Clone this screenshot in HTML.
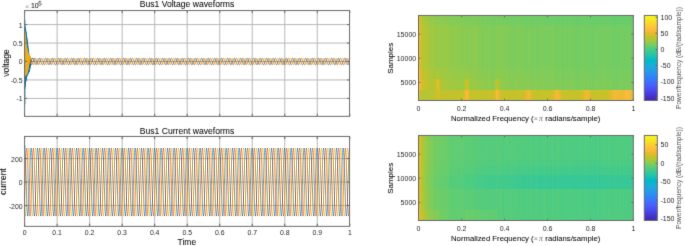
<!DOCTYPE html><html><head><meta charset="utf-8"><title>Bus1 waveforms</title><style>html,body{margin:0;padding:0;background:#fff;width:685px;height:246px;overflow:hidden}svg{display:block}</style><style>text{font-family:"Liberation Sans",sans-serif}.l{fill:#0a0a0a;stroke:#0a0a0a;stroke-width:0.06px}.t{fill:#262626}.c{fill:#4a4a4a}</style></head><body>
<svg width="685" height="246" viewBox="0 0 685 246">
<filter id="bl" x="0" y="0" width="685" height="246" filterUnits="userSpaceOnUse" color-interpolation-filters="sRGB"><feConvolveMatrix order="3" kernelMatrix="1 8 1 8 64 8 1 8 1" edgeMode="duplicate"/></filter>
<g filter="url(#bl)"><rect width="685" height="246" fill="#fff"/>
<defs><clipPath id="ct"><rect x="24.6" y="10.55" width="324.95" height="105.8"/></clipPath><clipPath id="cb"><rect x="24.6" y="136.45" width="324.95" height="89.9"/></clipPath></defs>
<path d="M57.12 10.55V116.35M89.64 10.55V116.35M122.16 10.55V116.35M154.68 10.55V116.35M187.2 10.55V116.35M219.72 10.55V116.35M252.24 10.55V116.35M284.76 10.55V116.35M317.28 10.55V116.35M24.6 24.6H349.55M24.6 43.05H349.55M24.6 61.5H349.55M24.6 79.95H349.55M24.6 98.4H349.55" stroke="#b8b8b8" stroke-width="1" fill="none"/>
<g clip-path="url(#ct)">
<polyline points="24.6,32.37 24.61,27.03 24.63,25.47 24.64,27.86 24.65,33.9 24.67,42.81 24.68,53.5 24.69,64.64 24.7,74.88 24.72,82.95 24.73,87.87 24.74,89.07 24.76,86.41 24.77,80.23 24.78,71.3 24.8,60.72 24.81,49.8 24.82,39.86 24.83,32.12 24.85,27.5 24.86,26.55 24.87,29.36 24.89,35.58 24.9,44.41 24.91,54.77 24.93,65.37 24.94,74.92 24.95,82.24 24.96,86.47 24.98,87.08 24.99,84.02 25,77.69 25.02,68.87 25.03,58.64 25.04,48.27 25.06,39.02 25.07,32.01 25.08,28.08 25.09,27.7 25.11,30.89 25.12,37.23 25.13,45.94 25.15,55.93 25.16,65.97 25.17,74.84 25.19,81.45 25.2,85 25.21,85.08 25.22,81.69 25.24,75.26 25.25,66.59 25.26,56.75 25.28,46.95 25.29,38.38 25.3,32.09 25.32,28.82 25.33,28.95 25.34,32.45 25.35,38.88 25.37,47.42 25.38,57.01 25.39,66.49 25.41,74.69 25.42,80.6 25.43,83.53 25.45,83.12 25.46,79.45 25.47,72.97 25.48,64.5 25.5,55.08 25.51,45.86 25.52,37.97 25.54,32.36 25.55,29.71 25.56,30.32 25.58,34.09 25.59,40.54 25.6,48.87 25.61,58.05 25.63,66.95 25.64,74.49 25.65,79.74 25.67,82.08 25.68,81.24 25.69,77.34 25.71,70.87 25.72,62.64 25.73,53.66 25.74,45.03 25.76,37.81 25.77,32.86 25.78,30.79 25.8,31.81 25.81,35.8 25.82,42.24 25.84,50.33 25.85,59.07 25.86,67.39 25.87,74.28 25.89,78.89 25.9,80.69 25.91,79.47 25.93,75.39 25.94,68.98 25.95,61.02 25.97,52.5 25.98,44.47 25.99,37.9 26,33.59 26.02,32.05 26.03,33.45 26.04,37.6 26.06,43.98 26.07,51.79 26.08,60.08 26.1,67.82 26.11,74.08 26.12,78.09 26.13,79.4 26.15,77.84 26.16,73.64 26.17,67.32 26.19,59.67 26.2,51.63 26.21,44.2 26.23,38.26 26.24,34.55 26.25,33.5 26.26,35.23 26.28,39.49 26.29,45.77 26.3,53.28 26.32,61.09 26.33,68.26 26.34,73.91 26.36,77.36 26.37,78.21 26.38,76.37 26.39,72.09 26.41,65.91 26.42,58.59 26.43,51.05 26.45,44.2 26.46,38.89 26.47,35.74 26.49,35.14 26.5,37.14 26.51,41.48 26.52,47.61 26.54,54.79 26.55,62.12 26.56,68.71 26.58,73.77 26.59,76.69 26.6,77.13 26.62,75.06 26.63,70.75 26.64,64.74 26.65,57.79 26.67,50.75 26.68,44.49 26.69,39.76 26.71,37.14 26.72,36.94 26.73,39.17 26.75,43.53 26.76,49.49 26.77,56.31 26.78,63.15 26.8,69.18 26.81,73.68 26.82,76.1 26.84,76.18 26.85,73.92 26.86,69.62 26.88,63.82 26.89,57.25 26.9,50.72 26.91,45.03 26.93,40.87 26.94,38.74 26.95,38.89 26.97,41.3 26.98,45.64 26.99,51.39 27.01,57.83 27.02,64.17 27.03,69.66 27.04,73.62 27.06,75.58 27.07,75.34 27.08,72.94 27.1,68.69 27.11,63.13 27.12,56.96 27.14,50.94 27.15,45.8 27.16,42.17 27.17,40.5 27.19,40.96 27.2,43.49 27.21,47.78 27.23,53.28 27.24,59.33 27.25,65.18 27.27,70.12 27.28,73.57 27.29,75.12 27.3,74.61 27.32,72.1 27.33,67.94 27.34,62.65 27.36,56.89 27.37,51.37 27.38,46.77 27.4,43.65 27.41,42.38 27.42,43.1 27.43,45.73 27.45,49.91 27.46,55.15 27.47,60.78 27.49,66.14 27.5,70.56 27.51,73.53 27.53,74.7 27.54,73.95 27.55,71.39 27.56,67.36 27.58,62.36 27.59,57.02 27.6,52 27.62,47.91 27.63,45.26 27.64,44.35 27.66,45.29 27.67,47.96 27.68,52.01 27.69,56.94 27.71,62.16 27.72,67.02 27.73,70.95 27.75,73.47 27.76,74.3 27.77,73.36 27.79,70.78 27.8,66.9 27.81,62.21 27.82,57.29 27.84,52.76 27.85,49.17 27.86,46.95 27.88,46.36 27.89,47.48 27.9,50.14 27.92,54.02 27.93,58.64 27.94,63.43 27.95,67.81 27.97,71.26 27.98,73.37 27.99,73.9 28.01,72.8 28.02,70.24 28.03,66.54 28.05,62.18 28.06,57.69 28.07,53.63 28.08,50.5 28.1,48.68 28.11,48.37 28.12,49.61 28.14,52.24 28.15,55.92 28.16,60.2 28.18,64.56 28.19,68.47 28.2,71.47 28.21,73.19 28.23,73.46 28.24,72.25 28.25,69.74 28.27,66.25 28.28,62.23 28.29,58.16 28.31,54.56 28.32,51.87 28.33,50.4 28.34,50.33 28.36,51.66 28.37,54.21 28.38,57.66 28.4,61.59 28.41,65.52 28.42,68.98 28.44,71.54 28.45,72.92 28.46,72.96 28.47,71.69 28.49,69.26 28.5,66 28.51,62.32 28.53,58.68 28.54,55.52 28.55,53.22 28.57,52.08 28.58,52.2 28.59,53.57 28.6,56.01 28.62,59.21 28.63,62.79 28.64,66.29 28.66,69.3 28.67,71.47 28.68,72.54 28.7,72.39 28.71,71.08 28.72,68.76 28.73,65.75 28.75,62.42 28.76,59.19 28.77,56.45 28.79,54.53 28.8,53.66 28.81,53.94 28.83,55.32 28.84,57.62 28.85,60.55 28.86,63.75 28.88,66.84 28.89,69.43 28.9,71.22 28.92,72.02 28.93,71.72 28.94,70.4 28.96,68.23 28.97,65.48 28.98,62.51 28.99,59.68 29.01,57.33 29.02,55.75 29.03,55.12 29.05,55.51 29.06,56.86 29.07,58.99 29.09,61.64 29.1,64.47 29.11,67.15 29.12,69.34 29.14,70.8 29.15,71.35 29.16,70.95 29.18,69.66 29.19,67.65 29.2,65.18 29.22,62.56 29.23,60.11 29.24,58.13 29.25,56.85 29.27,56.43 29.28,56.89 29.29,58.18 29.31,60.12 29.32,62.47 29.33,64.94 29.35,67.22 29.36,69.04 29.37,70.19 29.38,70.54 29.4,70.06 29.41,68.83 29.42,67 29.44,64.81 29.45,62.54 29.46,60.46 29.48,58.82 29.49,57.82 29.5,57.56 29.51,58.07 29.53,59.27 29.54,61 29.55,63.04 29.57,65.14 29.58,67.04 29.59,68.52 29.61,69.4 29.62,69.58 29.63,69.06 29.64,67.91 29.66,66.29 29.67,64.39 29.68,62.46 29.7,60.73 29.71,59.4 29.72,58.63 29.74,58.51 29.75,59.02 29.76,60.1 29.77,61.61 29.79,63.34 29.8,65.09 29.81,66.63 29.83,67.79 29.84,68.43 29.85,68.49 29.87,67.96 29.88,66.92 29.89,65.51 29.9,63.9 29.92,62.3 29.93,60.9 29.94,59.85 29.96,59.29 29.97,59.26 29.98,59.75 30,60.7 30.01,61.96 30.02,63.39 30.03,64.8 30.05,66.01 30.06,66.89 30.07,67.33 30.09,67.28 30.1,66.77 30.11,65.86 30.12,64.68 30.14,63.36 30.15,62.08 30.16,60.97 30.18,60.18 30.19,59.79 30.2,59.82 30.22,60.27 30.23,61.06 30.24,62.08 30.25,63.21 30.27,64.29 30.28,65.2 30.29,65.83 30.31,66.1 30.32,65.99 30.33,65.53 30.35,64.76 30.36,63.81 30.37,62.77 30.38,61.79 30.4,60.96 30.41,60.39 30.42,60.13 30.44,60.2 30.45,60.58 30.46,61.2 30.48,61.98 30.49,62.82 30.5,63.6 30.51,64.24 30.53,64.65 30.54,64.79 30.55,64.65 30.57,64.25 30.58,63.65 30.59,62.93 30.61,62.16 30.62,61.45 30.63,60.88 30.64,60.49 30.66,60.34 30.67,60.42 30.68,60.7 30.7,61.15 30.71,61.7 30.72,62.26 30.74,62.77 30.75,63.17 30.76,63.4 30.77,63.44 30.79,63.3 30.8,62.99 30.81,62.56 30.83,62.06 30.84,61.55 30.85,61.09 30.87,60.72 30.88,60.49 30.89,60.41 30.9,60.48 30.92,60.67 30.93,60.94 30.94,61.26 30.96,61.58 30.97,61.85 30.98,62.05 31,62.14 31.01,62.12 31.02,61.99 31.03,61.78 31.05,61.52 31.06,61.22 31.07,60.94 31.09,60.7 31.1,60.51 31.11,60.4 31.13,60.37 31.14,60.4 31.15,60.48 31.16,60.6 31.18,60.72 31.19,60.83 31.2,60.91 31.22,60.94 31.23,60.93 31.24,60.88 31.26,60.8 31.27,60.69 31.28,60.57 31.29,60.46 31.31,60.37 31.32,60.29 31.33,60.24 31.35,60.2 31.36,60.18 31.37,60.17 31.39,60.16 31.4,60.14 31.41,60.11 31.42,60.08 31.44,60.04 31.45,60.01 31.46,59.97 31.48,59.94 31.49,59.9 31.5,59.87 31.52,59.83 31.53,59.8 31.54,59.76 31.55,59.73 31.57,59.7 31.58,59.66 31.59,59.63 31.61,59.6 31.62,59.56 31.63,59.53 31.65,59.5 31.66,59.47 31.67,59.43 31.68,59.4 31.7,59.37 31.71,59.34 31.72,59.31 31.74,59.28 31.75,59.25 31.76,59.22 31.78,59.19 31.79,59.16 31.8,59.13 31.81,59.1 31.83,59.07 31.84,59.04 31.85,59.02 31.87,58.99 31.88,58.96 31.89,58.93 31.91,58.91 31.92,58.88 31.93,58.85 31.94,58.83 31.96,58.8 31.97,58.78 31.98,58.75 32,58.73 32.01,58.71 32.02,58.68 32.04,58.66 32.05,58.64 32.06,58.61 32.07,58.59 32.09,58.57 32.1,58.55 32.11,58.53 32.13,58.51 32.14,58.49 32.15,58.47 32.17,58.45 32.18,58.43 32.19,58.41 32.2,58.4 32.22,58.38 32.23,58.36 32.24,58.35 32.26,58.33 32.27,58.31 32.28,58.3 32.3,58.28 32.31,58.27 32.32,58.26 32.33,58.24 32.35,58.23 32.36,58.22 32.37,58.2 32.39,58.19 32.4,58.18 32.41,58.17 32.43,58.16 32.44,58.15 32.45,58.14 32.46,58.13 32.48,58.13 32.49,58.12 32.5,58.11 32.52,58.1 32.53,58.1 32.54,58.09 32.56,58.09 32.57,58.08 32.58,58.08 32.59,58.07 32.61,58.07 32.62,58.07 32.63,58.06 32.65,58.06 32.66,58.06 32.67,58.06 32.69,58.06 32.7,58.06 32.71,58.06 32.72,58.06 32.74,58.06 32.75,58.06 32.76,58.07 32.78,58.07 32.79,58.07 32.8,58.08 32.82,58.08 32.83,58.09 32.84,58.09 32.85,58.1 32.87,58.1 32.88,58.11 32.89,58.12 32.91,58.13 32.92,58.13 32.93,58.14 32.95,58.15 32.96,58.16 32.97,58.17 32.98,58.18 33,58.19 33.01,58.21 33.02,58.22 33.04,58.23 33.05,58.24 33.06,58.26 33.08,58.27 33.09,58.28 33.1,58.3 33.11,58.32 33.13,58.33 33.14,58.35 33.15,58.36 33.17,58.38 33.18,58.4 33.19,58.42 33.21,58.44 33.22,58.45 33.23,58.47 33.24,58.49 33.26,58.51 33.27,58.53 33.28,58.56 33.3,58.58 33.31,58.6 33.32,58.62 33.34,58.64 33.35,58.67 33.36,58.69 33.37,58.71 33.39,58.74 33.4,58.76 33.41,58.79 33.43,58.81 33.44,58.84 33.45,58.87 33.47,58.89 33.48,58.92 33.49,58.95 33.5,58.98 33.52,59 33.53,59.03 33.54,59.06 33.56,59.09 33.57,59.12 33.58,59.15 33.6,59.18 33.61,59.21 33.62,59.24 33.63,59.27 33.65,59.3 33.66,59.33 33.67,59.37 33.69,59.4 33.7,59.43 33.71,59.46 33.73,59.5 33.74,59.53 33.75,59.57 33.76,59.6 33.78,59.63 33.79,59.67 33.8,59.7 33.82,59.74 33.83,59.77 33.84,59.81 33.86,59.84 33.87,59.88 33.88,59.92 33.89,59.95 33.91,59.99 33.92,60.03 33.93,60.06 33.95,60.1 33.96,60.14 33.97,60.18 33.99,60.21 34,60.25 34.01,60.29 34.02,60.33 34.04,60.37 34.05,60.4 34.06,60.44 34.08,60.48 34.09,60.52 34.1,60.56 34.12,60.6 34.13,60.64 34.14,60.68 34.15,60.72 34.17,60.76 34.18,60.8 34.19,60.84 34.21,60.88 34.22,60.92 34.23,60.96 34.25,61 34.26,61.04 34.27,61.08 34.28,61.12 34.3,61.16 34.31,61.2 34.32,61.24 34.34,61.28 34.35,61.32 34.36,61.36 34.62,62.15 34.88,62.89 35.14,63.53 35.4,64.04 35.66,64.37 35.92,64.52 36.18,64.47 36.44,64.22 36.7,63.8 36.96,63.23 37.22,62.54 37.48,61.78 37.74,61 38,60.25 38.26,59.57 38.52,59.01 38.78,58.6 39.04,58.37 39.3,58.33 39.56,58.49 39.82,58.84 40.08,59.35 40.34,59.99 40.6,60.73 40.86,61.51 41.12,62.3 41.38,63.02 41.64,63.66 41.9,64.15 42.16,64.48 42.42,64.62 42.68,64.56 42.94,64.31 43.2,63.88 43.46,63.3 43.72,62.61 43.98,61.84 44.24,61.06 44.5,60.3 44.76,59.62 45.02,59.05 45.28,58.64 45.54,58.41 45.8,58.37 46.06,58.52 46.32,58.87 46.58,59.38 46.84,60.02 47.1,60.75 47.36,61.54 47.62,62.32 47.88,63.04 48.14,63.67 48.4,64.17 48.66,64.49 48.92,64.63 49.18,64.57 49.44,64.32 49.7,63.89 49.96,63.31 50.22,62.62 50.48,61.85 50.74,61.07 51,60.31 51.26,59.62 51.52,59.06 51.78,58.64 52.04,58.41 52.3,58.37 52.56,58.53 52.82,58.87 53.08,59.38 53.34,60.02 53.6,60.76 53.86,61.54 54.12,62.32 54.38,63.05 54.64,63.68 54.9,64.17 55.16,64.49 55.42,64.63 55.68,64.57 55.94,64.32 56.2,63.89 56.46,63.31 56.72,62.62 56.98,61.85 57.24,61.07 57.5,60.31 57.76,59.62 58.02,59.06 58.28,58.65 58.54,58.41 58.8,58.37 59.06,58.53 59.32,58.87 59.58,59.38 59.84,60.02 60.1,60.76 60.36,61.54 60.62,62.32 60.88,63.05 61.14,63.68 61.4,64.17 61.66,64.49 61.92,64.63 62.18,64.57 62.44,64.32 62.7,63.89 62.96,63.31 63.22,62.62 63.48,61.85 63.74,61.07 64,60.31 64.26,59.62 64.52,59.06 64.78,58.65 65.04,58.41 65.3,58.37 65.56,58.53 65.82,58.87 66.08,59.38 66.34,60.02 66.6,60.76 66.86,61.54 67.12,62.32 67.38,63.05 67.64,63.68 67.9,64.17 68.16,64.49 68.42,64.63 68.68,64.57 68.94,64.32 69.2,63.89 69.46,63.31 69.72,62.62 69.98,61.85 70.24,61.07 70.5,60.31 70.76,59.62 71.02,59.06 71.28,58.65 71.54,58.41 71.8,58.37 72.06,58.53 72.32,58.87 72.58,59.38 72.84,60.02 73.1,60.76 73.36,61.54 73.62,62.32 73.88,63.05 74.14,63.68 74.4,64.17 74.66,64.49 74.92,64.63 75.18,64.57 75.44,64.32 75.7,63.89 75.96,63.31 76.22,62.62 76.48,61.85 76.74,61.07 77,60.31 77.26,59.62 77.52,59.06 77.78,58.65 78.04,58.41 78.3,58.37 78.56,58.53 78.82,58.87 79.08,59.38 79.34,60.02 79.6,60.76 79.86,61.54 80.12,62.32 80.38,63.05 80.64,63.68 80.9,64.17 81.16,64.49 81.42,64.63 81.68,64.57 81.94,64.32 82.2,63.89 82.46,63.31 82.72,62.62 82.98,61.85 83.24,61.07 83.5,60.31 83.76,59.62 84.02,59.06 84.28,58.65 84.54,58.41 84.8,58.37 85.06,58.53 85.32,58.87 85.58,59.38 85.84,60.02 86.1,60.76 86.36,61.54 86.62,62.32 86.88,63.05 87.14,63.68 87.4,64.17 87.66,64.49 87.92,64.63 88.18,64.57 88.44,64.32 88.7,63.89 88.96,63.31 89.22,62.62 89.48,61.85 89.74,61.07 90,60.31 90.26,59.62 90.52,59.06 90.78,58.65 91.04,58.41 91.3,58.37 91.56,58.53 91.82,58.87 92.08,59.38 92.34,60.02 92.6,60.76 92.86,61.54 93.12,62.32 93.38,63.05 93.64,63.68 93.9,64.17 94.16,64.49 94.42,64.63 94.68,64.57 94.94,64.32 95.2,63.89 95.46,63.31 95.72,62.62 95.98,61.85 96.24,61.07 96.5,60.31 96.76,59.62 97.02,59.06 97.28,58.65 97.54,58.41 97.8,58.37 98.06,58.53 98.32,58.87 98.58,59.38 98.84,60.02 99.1,60.76 99.36,61.54 99.62,62.32 99.88,63.05 100.14,63.68 100.4,64.17 100.66,64.49 100.92,64.63 101.18,64.57 101.44,64.32 101.7,63.89 101.96,63.31 102.22,62.62 102.48,61.85 102.74,61.07 103,60.31 103.26,59.62 103.52,59.06 103.78,58.65 104.04,58.41 104.3,58.37 104.56,58.53 104.82,58.87 105.08,59.38 105.34,60.02 105.6,60.76 105.86,61.54 106.12,62.32 106.38,63.05 106.64,63.68 106.9,64.17 107.16,64.49 107.42,64.63 107.68,64.57 107.94,64.32 108.2,63.89 108.46,63.31 108.72,62.62 108.98,61.85 109.24,61.07 109.5,60.31 109.76,59.62 110.02,59.06 110.28,58.65 110.54,58.41 110.8,58.37 111.06,58.53 111.32,58.87 111.58,59.38 111.84,60.02 112.1,60.76 112.36,61.54 112.62,62.32 112.88,63.05 113.14,63.68 113.4,64.17 113.66,64.49 113.92,64.63 114.18,64.57 114.44,64.32 114.7,63.89 114.96,63.31 115.22,62.62 115.48,61.85 115.74,61.07 116,60.31 116.26,59.62 116.52,59.06 116.78,58.65 117.04,58.41 117.3,58.37 117.56,58.53 117.82,58.87 118.08,59.38 118.34,60.02 118.6,60.76 118.86,61.54 119.12,62.32 119.38,63.05 119.64,63.68 119.9,64.17 120.16,64.49 120.42,64.63 120.68,64.57 120.94,64.32 121.2,63.89 121.46,63.31 121.72,62.62 121.98,61.85 122.24,61.07 122.5,60.31 122.76,59.62 123.02,59.06 123.28,58.65 123.54,58.41 123.8,58.37 124.06,58.53 124.32,58.87 124.58,59.38 124.84,60.02 125.1,60.76 125.36,61.54 125.62,62.32 125.88,63.05 126.14,63.68 126.4,64.17 126.66,64.49 126.92,64.63 127.18,64.57 127.44,64.32 127.7,63.89 127.96,63.31 128.22,62.62 128.48,61.85 128.74,61.07 129,60.31 129.26,59.62 129.52,59.06 129.78,58.65 130.04,58.41 130.3,58.37 130.56,58.53 130.82,58.87 131.08,59.38 131.34,60.02 131.6,60.76 131.86,61.54 132.12,62.32 132.38,63.05 132.64,63.68 132.9,64.17 133.16,64.49 133.42,64.63 133.68,64.57 133.94,64.32 134.2,63.89 134.46,63.31 134.72,62.62 134.98,61.85 135.24,61.07 135.5,60.31 135.76,59.62 136.02,59.06 136.28,58.65 136.54,58.41 136.8,58.37 137.06,58.53 137.32,58.87 137.58,59.38 137.84,60.02 138.1,60.76 138.36,61.54 138.62,62.32 138.88,63.05 139.14,63.68 139.4,64.17 139.66,64.49 139.92,64.63 140.18,64.57 140.44,64.32 140.7,63.89 140.96,63.31 141.22,62.62 141.48,61.85 141.74,61.07 142,60.31 142.26,59.62 142.52,59.06 142.78,58.65 143.04,58.41 143.3,58.37 143.56,58.53 143.82,58.87 144.08,59.38 144.34,60.02 144.6,60.76 144.86,61.54 145.12,62.32 145.38,63.05 145.64,63.68 145.9,64.17 146.16,64.49 146.42,64.63 146.68,64.57 146.94,64.32 147.2,63.89 147.46,63.31 147.72,62.62 147.98,61.85 148.24,61.07 148.5,60.31 148.76,59.62 149.02,59.06 149.28,58.65 149.54,58.41 149.8,58.37 150.06,58.53 150.32,58.87 150.58,59.38 150.84,60.02 151.1,60.76 151.36,61.54 151.62,62.32 151.88,63.05 152.14,63.68 152.4,64.17 152.66,64.49 152.92,64.63 153.18,64.57 153.44,64.32 153.7,63.89 153.96,63.31 154.22,62.62 154.48,61.85 154.74,61.07 155,60.31 155.26,59.62 155.52,59.06 155.78,58.65 156.04,58.41 156.3,58.37 156.56,58.53 156.82,58.87 157.08,59.38 157.34,60.02 157.6,60.76 157.86,61.54 158.12,62.32 158.38,63.05 158.64,63.68 158.9,64.17 159.16,64.49 159.42,64.63 159.68,64.57 159.94,64.32 160.2,63.89 160.46,63.31 160.72,62.62 160.98,61.85 161.24,61.07 161.5,60.31 161.76,59.62 162.02,59.06 162.28,58.65 162.54,58.41 162.8,58.37 163.06,58.53 163.32,58.87 163.58,59.38 163.84,60.02 164.1,60.76 164.36,61.54 164.62,62.32 164.88,63.05 165.14,63.68 165.4,64.17 165.66,64.49 165.92,64.63 166.18,64.57 166.44,64.32 166.7,63.89 166.96,63.31 167.22,62.62 167.48,61.85 167.74,61.07 168,60.31 168.26,59.62 168.52,59.06 168.78,58.65 169.04,58.41 169.3,58.37 169.56,58.53 169.82,58.87 170.08,59.38 170.34,60.02 170.6,60.76 170.86,61.54 171.12,62.32 171.38,63.05 171.64,63.68 171.9,64.17 172.16,64.49 172.42,64.63 172.68,64.57 172.94,64.32 173.2,63.89 173.46,63.31 173.72,62.62 173.98,61.85 174.24,61.07 174.5,60.31 174.76,59.62 175.02,59.06 175.28,58.65 175.54,58.41 175.8,58.37 176.06,58.53 176.32,58.87 176.58,59.38 176.84,60.02 177.1,60.76 177.36,61.54 177.62,62.32 177.88,63.05 178.14,63.68 178.4,64.17 178.66,64.49 178.92,64.63 179.18,64.57 179.44,64.32 179.7,63.89 179.96,63.31 180.22,62.62 180.48,61.85 180.74,61.07 181,60.31 181.26,59.62 181.52,59.06 181.78,58.65 182.04,58.41 182.3,58.37 182.56,58.53 182.82,58.87 183.08,59.38 183.34,60.02 183.6,60.76 183.86,61.54 184.12,62.32 184.38,63.05 184.64,63.68 184.9,64.17 185.16,64.49 185.42,64.63 185.68,64.57 185.94,64.32 186.2,63.89 186.46,63.31 186.72,62.62 186.98,61.85 187.24,61.07 187.5,60.31 187.76,59.62 188.02,59.06 188.28,58.65 188.54,58.41 188.8,58.37 189.06,58.53 189.32,58.87 189.58,59.38 189.84,60.02 190.1,60.76 190.36,61.54 190.62,62.32 190.88,63.05 191.14,63.68 191.4,64.17 191.66,64.49 191.92,64.63 192.18,64.57 192.44,64.32 192.7,63.89 192.96,63.31 193.22,62.62 193.48,61.85 193.74,61.07 194,60.31 194.26,59.62 194.52,59.06 194.78,58.65 195.04,58.41 195.3,58.37 195.56,58.53 195.82,58.87 196.08,59.38 196.34,60.02 196.6,60.76 196.86,61.54 197.12,62.32 197.38,63.05 197.64,63.68 197.9,64.17 198.16,64.49 198.42,64.63 198.68,64.57 198.94,64.32 199.2,63.89 199.46,63.31 199.72,62.62 199.98,61.85 200.24,61.07 200.5,60.31 200.76,59.62 201.02,59.06 201.28,58.65 201.54,58.41 201.8,58.37 202.06,58.53 202.32,58.87 202.58,59.38 202.84,60.02 203.1,60.76 203.36,61.54 203.62,62.32 203.88,63.05 204.14,63.68 204.4,64.17 204.66,64.49 204.92,64.63 205.18,64.57 205.44,64.32 205.7,63.89 205.96,63.31 206.22,62.62 206.48,61.85 206.74,61.07 207,60.31 207.26,59.62 207.52,59.06 207.78,58.65 208.04,58.41 208.3,58.37 208.56,58.53 208.82,58.87 209.08,59.38 209.34,60.02 209.6,60.76 209.86,61.54 210.12,62.32 210.38,63.05 210.64,63.68 210.9,64.17 211.16,64.49 211.42,64.63 211.68,64.57 211.94,64.32 212.2,63.89 212.46,63.31 212.72,62.62 212.98,61.85 213.24,61.07 213.5,60.31 213.76,59.62 214.02,59.06 214.28,58.65 214.54,58.41 214.8,58.37 215.06,58.53 215.32,58.87 215.58,59.38 215.84,60.02 216.1,60.76 216.36,61.54 216.62,62.32 216.88,63.05 217.14,63.68 217.4,64.17 217.66,64.49 217.92,64.63 218.18,64.57 218.44,64.32 218.7,63.89 218.96,63.31 219.22,62.62 219.48,61.85 219.74,61.07 220,60.31 220.26,59.62 220.52,59.06 220.78,58.65 221.04,58.41 221.3,58.37 221.56,58.53 221.82,58.87 222.08,59.38 222.34,60.02 222.6,60.76 222.86,61.54 223.12,62.32 223.38,63.05 223.64,63.68 223.9,64.17 224.16,64.49 224.42,64.63 224.68,64.57 224.94,64.32 225.2,63.89 225.46,63.31 225.72,62.62 225.98,61.85 226.24,61.07 226.5,60.31 226.76,59.62 227.02,59.06 227.28,58.65 227.54,58.41 227.8,58.37 228.06,58.53 228.32,58.87 228.58,59.38 228.84,60.02 229.1,60.76 229.36,61.54 229.62,62.32 229.88,63.05 230.14,63.68 230.4,64.17 230.66,64.49 230.92,64.63 231.18,64.57 231.44,64.32 231.7,63.89 231.96,63.31 232.22,62.62 232.48,61.85 232.74,61.07 233,60.31 233.26,59.62 233.52,59.06 233.78,58.65 234.04,58.41 234.3,58.37 234.56,58.53 234.82,58.87 235.08,59.38 235.34,60.02 235.6,60.76 235.86,61.54 236.12,62.32 236.38,63.05 236.64,63.68 236.9,64.17 237.16,64.49 237.42,64.63 237.68,64.57 237.94,64.32 238.2,63.89 238.46,63.31 238.72,62.62 238.98,61.85 239.24,61.07 239.5,60.31 239.76,59.62 240.02,59.06 240.28,58.65 240.54,58.41 240.8,58.37 241.06,58.53 241.32,58.87 241.58,59.38 241.84,60.02 242.1,60.76 242.36,61.54 242.62,62.32 242.88,63.05 243.14,63.68 243.4,64.17 243.66,64.49 243.92,64.63 244.18,64.57 244.44,64.32 244.7,63.89 244.96,63.31 245.22,62.62 245.48,61.85 245.74,61.07 246,60.31 246.26,59.62 246.52,59.06 246.78,58.65 247.04,58.41 247.3,58.37 247.56,58.53 247.82,58.87 248.08,59.38 248.34,60.02 248.6,60.76 248.86,61.54 249.12,62.32 249.38,63.05 249.64,63.68 249.9,64.17 250.16,64.49 250.42,64.63 250.68,64.57 250.94,64.32 251.2,63.89 251.46,63.31 251.72,62.62 251.98,61.85 252.24,61.07 252.5,60.31 252.76,59.62 253.02,59.06 253.28,58.65 253.54,58.41 253.8,58.37 254.06,58.53 254.32,58.87 254.58,59.38 254.84,60.02 255.1,60.76 255.36,61.54 255.62,62.32 255.88,63.05 256.14,63.68 256.4,64.17 256.66,64.49 256.92,64.63 257.18,64.57 257.44,64.32 257.7,63.89 257.96,63.31 258.22,62.62 258.48,61.85 258.74,61.07 259,60.31 259.26,59.62 259.52,59.06 259.78,58.65 260.04,58.41 260.3,58.37 260.56,58.53 260.82,58.87 261.08,59.38 261.34,60.02 261.6,60.76 261.86,61.54 262.12,62.32 262.38,63.05 262.64,63.68 262.9,64.17 263.16,64.49 263.42,64.63 263.68,64.57 263.94,64.32 264.2,63.89 264.46,63.31 264.72,62.62 264.98,61.85 265.24,61.07 265.5,60.31 265.76,59.62 266.02,59.06 266.28,58.65 266.54,58.41 266.8,58.37 267.06,58.53 267.32,58.87 267.58,59.38 267.84,60.02 268.1,60.76 268.36,61.54 268.62,62.32 268.88,63.05 269.14,63.68 269.4,64.17 269.66,64.49 269.92,64.63 270.18,64.57 270.44,64.32 270.7,63.89 270.96,63.31 271.22,62.62 271.48,61.85 271.74,61.07 272,60.31 272.26,59.62 272.52,59.06 272.78,58.65 273.04,58.41 273.3,58.37 273.56,58.53 273.82,58.87 274.08,59.38 274.34,60.02 274.6,60.76 274.86,61.54 275.12,62.32 275.38,63.05 275.64,63.68 275.9,64.17 276.16,64.49 276.42,64.63 276.68,64.57 276.94,64.32 277.2,63.89 277.46,63.31 277.72,62.62 277.98,61.85 278.24,61.07 278.5,60.31 278.76,59.62 279.02,59.06 279.28,58.65 279.54,58.41 279.8,58.37 280.06,58.53 280.32,58.87 280.58,59.38 280.84,60.02 281.1,60.76 281.36,61.54 281.62,62.32 281.88,63.05 282.14,63.68 282.4,64.17 282.66,64.49 282.92,64.63 283.18,64.57 283.44,64.32 283.7,63.89 283.96,63.31 284.22,62.62 284.48,61.85 284.74,61.07 285,60.31 285.26,59.62 285.52,59.06 285.78,58.65 286.04,58.41 286.3,58.37 286.56,58.53 286.82,58.87 287.08,59.38 287.34,60.02 287.6,60.76 287.86,61.54 288.12,62.32 288.38,63.05 288.64,63.68 288.9,64.17 289.16,64.49 289.42,64.63 289.68,64.57 289.94,64.32 290.2,63.89 290.46,63.31 290.72,62.62 290.98,61.85 291.24,61.07 291.5,60.31 291.76,59.62 292.02,59.06 292.28,58.65 292.54,58.41 292.8,58.37 293.06,58.53 293.32,58.87 293.58,59.38 293.84,60.02 294.1,60.76 294.36,61.54 294.62,62.32 294.88,63.05 295.14,63.68 295.4,64.17 295.66,64.49 295.92,64.63 296.18,64.57 296.44,64.32 296.7,63.89 296.96,63.31 297.22,62.62 297.48,61.85 297.74,61.07 298,60.31 298.26,59.62 298.52,59.06 298.78,58.65 299.04,58.41 299.3,58.37 299.56,58.53 299.82,58.87 300.08,59.38 300.34,60.02 300.6,60.76 300.86,61.54 301.12,62.32 301.38,63.05 301.64,63.68 301.9,64.17 302.16,64.49 302.42,64.63 302.68,64.57 302.94,64.32 303.2,63.89 303.46,63.31 303.72,62.62 303.98,61.85 304.24,61.07 304.5,60.31 304.76,59.62 305.02,59.06 305.28,58.65 305.54,58.41 305.8,58.37 306.06,58.53 306.32,58.87 306.58,59.38 306.84,60.02 307.1,60.76 307.36,61.54 307.62,62.32 307.88,63.05 308.14,63.68 308.4,64.17 308.66,64.49 308.92,64.63 309.18,64.57 309.44,64.32 309.7,63.89 309.96,63.31 310.22,62.62 310.48,61.85 310.74,61.07 311,60.31 311.26,59.62 311.52,59.06 311.78,58.65 312.04,58.41 312.3,58.37 312.56,58.53 312.82,58.87 313.08,59.38 313.34,60.02 313.6,60.76 313.86,61.54 314.12,62.32 314.38,63.05 314.64,63.68 314.9,64.17 315.16,64.49 315.42,64.63 315.68,64.57 315.94,64.32 316.2,63.89 316.46,63.31 316.72,62.62 316.98,61.85 317.24,61.07 317.5,60.31 317.76,59.62 318.02,59.06 318.28,58.65 318.54,58.41 318.8,58.37 319.06,58.53 319.32,58.87 319.58,59.38 319.84,60.02 320.1,60.76 320.36,61.54 320.62,62.32 320.88,63.05 321.14,63.68 321.4,64.17 321.66,64.49 321.92,64.63 322.18,64.57 322.44,64.32 322.7,63.89 322.96,63.31 323.22,62.62 323.48,61.85 323.74,61.07 324,60.31 324.26,59.62 324.52,59.06 324.78,58.65 325.04,58.41 325.3,58.37 325.56,58.53 325.82,58.87 326.08,59.38 326.34,60.02 326.6,60.76 326.86,61.54 327.12,62.32 327.38,63.05 327.64,63.68 327.9,64.17 328.16,64.49 328.42,64.63 328.68,64.57 328.94,64.32 329.2,63.89 329.46,63.31 329.72,62.62 329.98,61.85 330.24,61.07 330.5,60.31 330.76,59.62 331.02,59.06 331.28,58.65 331.54,58.41 331.8,58.37 332.06,58.53 332.32,58.87 332.58,59.38 332.84,60.02 333.1,60.76 333.36,61.54 333.62,62.32 333.88,63.05 334.14,63.68 334.4,64.17 334.66,64.49 334.92,64.63 335.18,64.57 335.44,64.32 335.7,63.89 335.96,63.31 336.22,62.62 336.48,61.85 336.74,61.07 337,60.31 337.26,59.62 337.52,59.06 337.78,58.65 338.04,58.41 338.3,58.37 338.56,58.53 338.82,58.87 339.08,59.38 339.34,60.02 339.6,60.76 339.86,61.54 340.12,62.32 340.38,63.05 340.64,63.68 340.9,64.17 341.16,64.49 341.42,64.63 341.68,64.57 341.94,64.32 342.2,63.89 342.46,63.31 342.72,62.62 342.98,61.85 343.24,61.07 343.5,60.31 343.76,59.62 344.02,59.06 344.28,58.65 344.54,58.41 344.8,58.37 345.06,58.53 345.32,58.87 345.58,59.38 345.84,60.02 346.1,60.76 346.36,61.54 346.62,62.32 346.88,63.05 347.14,63.68 347.4,64.17 347.66,64.49 347.92,64.63 348.18,64.57 348.44,64.32 348.7,63.89 348.96,63.31 349.22,62.62 349.48,61.85" fill="none" stroke="#0072BD" stroke-width="0.8" stroke-linejoin="round"/>
<path d="M25.05 20.3V104.2" stroke="#0072BD" stroke-width="1" stroke-opacity="0.55" fill="none"/>
<polyline points="24.6,52.47 24.61,55.09 24.63,58.81 24.64,63.17 24.65,67.65 24.67,71.69 24.68,74.81 24.69,76.63 24.7,76.94 24.72,75.71 24.73,73.1 24.74,69.44 24.76,65.18 24.77,60.85 24.78,56.99 24.8,54.05 24.81,52.4 24.82,52.24 24.83,53.57 24.85,56.23 24.86,59.89 24.87,64.09 24.89,68.33 24.9,72.07 24.91,74.88 24.93,76.41 24.94,76.48 24.95,75.1 24.96,72.44 24.98,68.83 24.99,64.73 25,60.63 25.02,57.04 25.03,54.4 25.04,53.01 25.06,53.06 25.07,54.52 25.08,57.2 25.09,60.78 25.11,64.8 25.12,68.79 25.13,72.24 25.15,74.74 25.16,76 25.17,75.86 25.19,74.34 25.2,71.65 25.21,68.12 25.22,64.18 25.24,60.31 25.25,57 25.26,54.63 25.28,53.5 25.29,53.73 25.3,55.29 25.32,57.97 25.33,61.45 25.34,65.29 25.35,69.02 25.37,72.19 25.38,74.4 25.39,75.4 25.41,75.06 25.42,73.44 25.43,70.74 25.45,67.29 25.46,63.53 25.47,59.9 25.48,56.85 25.5,54.75 25.51,53.85 25.52,54.25 25.54,55.89 25.55,58.56 25.56,61.92 25.58,65.57 25.59,69.04 25.6,71.92 25.61,73.86 25.63,74.61 25.64,74.1 25.65,72.4 25.67,69.71 25.68,66.37 25.69,62.78 25.71,59.39 25.72,56.61 25.73,54.77 25.74,54.08 25.76,54.62 25.77,56.32 25.78,58.95 25.8,62.19 25.81,65.63 25.82,68.85 25.84,71.46 25.85,73.13 25.86,73.67 25.87,73.01 25.89,71.24 25.9,68.58 25.91,65.35 25.93,61.96 25.94,58.81 25.95,56.29 25.97,54.69 25.98,54.19 25.99,54.86 26,56.6 26.02,59.18 26.03,62.28 26.04,65.51 26.06,68.48 26.07,70.82 26.08,72.24 26.1,72.58 26.11,71.79 26.12,69.98 26.13,67.37 26.15,64.27 26.16,61.08 26.17,58.17 26.19,55.9 26.2,54.52 26.21,54.21 26.23,54.99 26.24,56.75 26.25,59.26 26.26,62.21 26.28,65.23 26.29,67.95 26.3,70.03 26.32,71.23 26.33,71.38 26.34,70.49 26.36,68.65 26.37,66.11 26.38,63.16 26.39,60.17 26.41,57.5 26.42,55.47 26.43,54.31 26.45,54.16 26.46,55.02 26.47,56.78 26.49,59.22 26.5,62.01 26.51,64.82 26.52,67.3 26.54,69.14 26.55,70.11 26.56,70.11 26.58,69.13 26.59,67.3 26.6,64.83 26.62,62.04 26.63,59.26 26.64,56.82 26.65,55.02 26.67,54.07 26.68,54.06 26.69,55 26.71,56.75 26.72,59.08 26.73,61.72 26.75,64.31 26.76,66.56 26.77,68.17 26.78,68.95 26.8,68.81 26.81,67.76 26.82,65.95 26.84,63.58 26.85,60.96 26.86,58.39 26.88,56.18 26.89,54.6 26.9,53.83 26.91,53.96 26.93,54.94 26.94,56.67 26.95,58.9 26.97,61.36 26.98,63.75 26.99,65.77 27.01,67.16 27.02,67.77 27.03,67.51 27.04,66.42 27.06,64.64 27.07,62.39 27.08,59.94 27.1,57.58 27.11,55.6 27.12,54.23 27.14,53.63 27.15,53.87 27.16,54.89 27.17,56.57 27.19,58.69 27.2,60.99 27.21,63.17 27.23,64.97 27.24,66.16 27.25,66.61 27.27,66.25 27.28,65.15 27.29,63.42 27.3,61.29 27.32,59.02 27.33,56.87 27.34,55.11 27.36,53.94 27.37,53.5 27.38,53.83 27.4,54.88 27.41,56.5 27.42,58.5 27.43,60.62 27.45,62.6 27.46,64.19 27.47,65.2 27.49,65.51 27.5,65.08 27.51,63.97 27.53,62.32 27.54,60.32 27.55,58.23 27.56,56.29 27.58,54.75 27.59,53.77 27.6,53.46 27.62,53.87 27.63,54.92 27.64,56.49 27.66,58.36 27.67,60.3 27.68,62.09 27.69,63.48 27.71,64.33 27.72,64.51 27.73,64.03 27.75,62.93 27.76,61.36 27.77,59.51 27.79,57.6 27.8,55.88 27.81,54.53 27.82,53.72 27.84,53.55 27.85,54.01 27.86,55.06 27.88,56.54 27.89,58.28 27.9,60.06 27.92,61.65 27.93,62.86 27.94,63.56 27.95,63.64 27.97,63.12 27.98,62.05 27.99,60.58 28.01,58.88 28.02,57.16 28.03,55.63 28.05,54.48 28.06,53.83 28.07,53.77 28.08,54.28 28.1,55.3 28.11,56.7 28.12,58.3 28.14,59.91 28.15,61.32 28.16,62.36 28.18,62.92 28.19,62.92 28.2,62.37 28.21,61.35 28.23,59.99 28.24,58.44 28.25,56.91 28.27,55.58 28.28,54.61 28.29,54.11 28.31,54.13 28.32,54.67 28.33,55.66 28.34,56.97 28.36,58.43 28.37,59.86 28.38,61.1 28.4,61.99 28.41,62.42 28.42,62.36 28.44,61.81 28.45,60.85 28.46,59.6 28.47,58.22 28.49,56.87 28.5,55.72 28.51,54.92 28.53,54.55 28.54,54.65 28.55,55.2 28.57,56.14 28.58,57.35 28.59,58.66 28.6,59.94 28.62,61.01 28.63,61.75 28.64,62.08 28.66,61.97 28.67,61.43 28.68,60.54 28.7,59.42 28.71,58.19 28.72,57.03 28.73,56.06 28.75,55.41 28.76,55.15 28.77,55.31 28.79,55.86 28.8,56.74 28.81,57.84 28.83,59.01 28.84,60.12 28.85,61.04 28.86,61.66 28.88,61.9 28.89,61.75 28.9,61.24 28.92,60.43 28.93,59.43 28.94,58.37 28.96,57.37 28.97,56.57 28.98,56.06 28.99,55.9 29.01,56.1 29.02,56.64 29.03,57.45 29.05,58.43 29.06,59.47 29.07,60.42 29.09,61.19 29.1,61.69 29.11,61.86 29.12,61.69 29.14,61.22 29.15,60.49 29.16,59.63 29.18,58.72 29.19,57.89 29.2,57.25 29.22,56.86 29.23,56.77 29.24,57.01 29.25,57.52 29.27,58.25 29.28,59.12 29.29,60 29.31,60.81 29.32,61.45 29.33,61.84 29.35,61.95 29.36,61.78 29.37,61.35 29.38,60.72 29.4,59.98 29.41,59.23 29.42,58.56 29.44,58.05 29.45,57.77 29.46,57.75 29.48,57.99 29.49,58.47 29.5,59.12 29.51,59.86 29.53,60.61 29.54,61.28 29.55,61.79 29.57,62.09 29.58,62.16 29.59,61.99 29.61,61.61 29.62,61.08 29.63,60.47 29.64,59.86 29.66,59.34 29.67,58.96 29.68,58.77 29.7,58.8 29.71,59.04 29.72,59.46 29.74,60.01 29.75,60.63 29.76,61.25 29.77,61.78 29.79,62.19 29.8,62.41 29.81,62.44 29.83,62.28 29.84,61.97 29.85,61.54 29.87,61.06 29.88,60.59 29.89,60.19 29.9,59.92 29.92,59.81 29.93,59.87 29.94,60.09 29.96,60.46 29.97,60.92 29.98,61.41 30,61.9 30.01,62.31 30.02,62.61 30.03,62.77 30.05,62.78 30.06,62.64 30.07,62.39 30.09,62.06 30.1,61.7 30.11,61.36 30.12,61.09 30.14,60.91 30.15,60.86 30.16,60.93 30.18,61.13 30.19,61.43 30.2,61.78 30.22,62.16 30.23,62.52 30.24,62.82 30.25,63.04 30.27,63.14 30.28,63.14 30.29,63.03 30.31,62.85 30.32,62.62 30.33,62.37 30.35,62.15 30.36,61.97 30.37,61.87 30.38,61.86 30.4,61.94 30.41,62.1 30.42,62.33 30.44,62.58 30.45,62.85 30.46,63.1 30.48,63.3 30.49,63.43 30.5,63.5 30.51,63.49 30.53,63.42 30.54,63.31 30.55,63.17 30.57,63.02 30.58,62.9 30.59,62.81 30.61,62.77 30.62,62.79 30.63,62.86 30.64,62.97 30.66,63.12 30.67,63.28 30.68,63.45 30.7,63.59 30.71,63.7 30.72,63.78 30.74,63.81 30.75,63.81 30.76,63.78 30.77,63.73 30.79,63.67 30.8,63.61 30.81,63.57 30.83,63.55 30.84,63.55 30.85,63.58 30.87,63.64 30.88,63.7 30.89,63.78 30.9,63.86 30.92,63.93 30.93,63.99 30.94,64.03 30.96,64.06 30.97,64.08 30.98,64.09 31,64.09 31.01,64.09 31.02,64.1 31.03,64.1 31.05,64.12 31.06,64.14 31.07,64.17 31.09,64.19 31.1,64.22 31.11,64.24 31.13,64.25 31.14,64.27 31.15,64.29 31.16,64.31 31.18,64.33 31.19,64.34 31.2,64.36 31.22,64.38 31.23,64.39 31.24,64.41 31.26,64.42 31.27,64.44 31.28,64.45 31.29,64.46 31.31,64.47 31.32,64.49 31.33,64.5 31.35,64.51 31.36,64.52 31.37,64.53 31.39,64.54 31.4,64.55 31.41,64.56 31.42,64.57 31.44,64.58 31.45,64.58 31.46,64.59 31.48,64.6 31.49,64.6 31.5,64.61 31.52,64.61 31.53,64.62 31.54,64.62 31.55,64.63 31.57,64.63 31.58,64.63 31.59,64.63 31.61,64.63 31.62,64.64 31.63,64.64 31.65,64.64 31.66,64.64 31.67,64.64 31.68,64.63 31.7,64.63 31.71,64.63 31.72,64.63 31.74,64.62 31.75,64.62 31.76,64.61 31.78,64.61 31.79,64.6 31.8,64.6 31.81,64.59 31.83,64.59 31.84,64.58 31.85,64.57 31.87,64.56 31.88,64.55 31.89,64.54 31.91,64.53 31.92,64.52 31.93,64.51 31.94,64.5 31.96,64.49 31.97,64.48 31.98,64.47 32,64.45 32.01,64.44 32.02,64.43 32.04,64.41 32.05,64.4 32.06,64.38 32.07,64.37 32.09,64.35 32.1,64.33 32.11,64.32 32.13,64.3 32.14,64.28 32.15,64.26 32.17,64.24 32.18,64.22 32.19,64.2 32.2,64.18 32.22,64.16 32.23,64.14 32.24,64.12 32.26,64.1 32.27,64.08 32.28,64.05 32.3,64.03 32.31,64.01 32.32,63.98 32.33,63.96 32.35,63.93 32.36,63.91 32.37,63.88 32.39,63.86 32.4,63.83 32.41,63.8 32.43,63.78 32.44,63.75 32.45,63.72 32.46,63.69 32.48,63.67 32.49,63.64 32.5,63.61 32.52,63.58 32.53,63.55 32.54,63.52 32.56,63.49 32.57,63.46 32.58,63.43 32.59,63.4 32.61,63.36 32.62,63.33 32.63,63.3 32.65,63.27 32.66,63.24 32.67,63.2 32.69,63.17 32.7,63.14 32.71,63.1 32.72,63.07 32.74,63.03 32.75,63 32.76,62.96 32.78,62.93 32.79,62.89 32.8,62.86 32.82,62.82 32.83,62.79 32.84,62.75 32.85,62.72 32.87,62.68 32.88,62.64 32.89,62.61 32.91,62.57 32.92,62.53 32.93,62.49 32.95,62.46 32.96,62.42 32.97,62.38 32.98,62.34 33,62.31 33.01,62.27 33.02,62.23 33.04,62.19 33.05,62.15 33.06,62.11 33.08,62.07 33.09,62.04 33.1,62 33.11,61.96 33.13,61.92 33.14,61.88 33.15,61.84 33.17,61.8 33.18,61.76 33.19,61.72 33.21,61.68 33.22,61.64 33.23,61.61 33.24,61.57 33.26,61.53 33.27,61.49 33.28,61.45 33.3,61.41 33.31,61.37 33.32,61.33 33.34,61.29 33.35,61.25 33.36,61.21 33.37,61.17 33.39,61.13 33.4,61.09 33.41,61.05 33.43,61.02 33.44,60.98 33.45,60.94 33.47,60.9 33.48,60.86 33.49,60.82 33.5,60.78 33.52,60.75 33.53,60.71 33.54,60.67 33.56,60.63 33.57,60.59 33.58,60.56 33.6,60.52 33.61,60.48 33.62,60.44 33.63,60.41 33.65,60.37 33.66,60.33 33.67,60.3 33.69,60.26 33.7,60.22 33.71,60.19 33.73,60.15 33.74,60.12 33.75,60.08 33.76,60.05 33.78,60.01 33.79,59.98 33.8,59.94 33.82,59.91 33.83,59.88 33.84,59.84 33.86,59.81 33.87,59.78 33.88,59.74 33.89,59.71 33.91,59.68 33.92,59.65 33.93,59.61 33.95,59.58 33.96,59.55 33.97,59.52 33.99,59.49 34,59.46 34.01,59.43 34.02,59.4 34.04,59.37 34.05,59.34 34.06,59.31 34.08,59.29 34.09,59.26 34.1,59.23 34.12,59.2 34.13,59.18 34.14,59.15 34.15,59.13 34.17,59.1 34.18,59.07 34.19,59.05 34.21,59.03 34.22,59 34.23,58.98 34.25,58.95 34.26,58.93 34.27,58.91 34.28,58.89 34.3,58.87 34.31,58.84 34.32,58.82 34.34,58.8 34.35,58.78 34.36,58.76 34.62,58.47 34.88,58.36 35.14,58.46 35.4,58.74 35.66,59.2 35.92,59.8 36.18,60.51 36.44,61.28 36.7,62.06 36.96,62.81 37.22,63.48 37.48,64.02 37.74,64.41 38,64.61 38.26,64.61 38.52,64.43 38.78,64.05 39.04,63.52 39.3,62.86 39.56,62.11 39.82,61.33 40.08,60.56 40.34,59.84 40.6,59.23 40.86,58.76 41.12,58.47 41.38,58.36 41.64,58.46 41.9,58.74 42.16,59.2 42.42,59.8 42.68,60.51 42.94,61.28 43.2,62.06 43.46,62.81 43.72,63.48 43.98,64.02 44.24,64.41 44.5,64.61 44.76,64.61 45.02,64.43 45.28,64.05 45.54,63.52 45.8,62.86 46.06,62.11 46.32,61.33 46.58,60.56 46.84,59.84 47.1,59.23 47.36,58.76 47.62,58.47 47.88,58.36 48.14,58.46 48.4,58.74 48.66,59.2 48.92,59.8 49.18,60.51 49.44,61.28 49.7,62.06 49.96,62.81 50.22,63.48 50.48,64.02 50.74,64.41 51,64.61 51.26,64.61 51.52,64.43 51.78,64.05 52.04,63.52 52.3,62.86 52.56,62.11 52.82,61.33 53.08,60.56 53.34,59.84 53.6,59.23 53.86,58.76 54.12,58.47 54.38,58.36 54.64,58.46 54.9,58.74 55.16,59.2 55.42,59.8 55.68,60.51 55.94,61.28 56.2,62.06 56.46,62.81 56.72,63.48 56.98,64.02 57.24,64.41 57.5,64.61 57.76,64.61 58.02,64.43 58.28,64.05 58.54,63.52 58.8,62.86 59.06,62.11 59.32,61.33 59.58,60.56 59.84,59.84 60.1,59.23 60.36,58.76 60.62,58.47 60.88,58.36 61.14,58.46 61.4,58.74 61.66,59.2 61.92,59.8 62.18,60.51 62.44,61.28 62.7,62.06 62.96,62.81 63.22,63.48 63.48,64.02 63.74,64.41 64,64.61 64.26,64.61 64.52,64.43 64.78,64.05 65.04,63.52 65.3,62.86 65.56,62.11 65.82,61.33 66.08,60.56 66.34,59.84 66.6,59.23 66.86,58.76 67.12,58.47 67.38,58.36 67.64,58.46 67.9,58.74 68.16,59.2 68.42,59.8 68.68,60.51 68.94,61.28 69.2,62.06 69.46,62.81 69.72,63.48 69.98,64.02 70.24,64.41 70.5,64.61 70.76,64.61 71.02,64.43 71.28,64.05 71.54,63.52 71.8,62.86 72.06,62.11 72.32,61.33 72.58,60.56 72.84,59.84 73.1,59.23 73.36,58.76 73.62,58.47 73.88,58.36 74.14,58.46 74.4,58.74 74.66,59.2 74.92,59.8 75.18,60.51 75.44,61.28 75.7,62.06 75.96,62.81 76.22,63.48 76.48,64.02 76.74,64.41 77,64.61 77.26,64.61 77.52,64.43 77.78,64.05 78.04,63.52 78.3,62.86 78.56,62.11 78.82,61.33 79.08,60.56 79.34,59.84 79.6,59.23 79.86,58.76 80.12,58.47 80.38,58.36 80.64,58.46 80.9,58.74 81.16,59.2 81.42,59.8 81.68,60.51 81.94,61.28 82.2,62.06 82.46,62.81 82.72,63.48 82.98,64.02 83.24,64.41 83.5,64.61 83.76,64.61 84.02,64.43 84.28,64.05 84.54,63.52 84.8,62.86 85.06,62.11 85.32,61.33 85.58,60.56 85.84,59.84 86.1,59.23 86.36,58.76 86.62,58.47 86.88,58.36 87.14,58.46 87.4,58.74 87.66,59.2 87.92,59.8 88.18,60.51 88.44,61.28 88.7,62.06 88.96,62.81 89.22,63.48 89.48,64.02 89.74,64.41 90,64.61 90.26,64.61 90.52,64.43 90.78,64.05 91.04,63.52 91.3,62.86 91.56,62.11 91.82,61.33 92.08,60.56 92.34,59.84 92.6,59.23 92.86,58.76 93.12,58.47 93.38,58.36 93.64,58.46 93.9,58.74 94.16,59.2 94.42,59.8 94.68,60.51 94.94,61.28 95.2,62.06 95.46,62.81 95.72,63.48 95.98,64.02 96.24,64.41 96.5,64.61 96.76,64.61 97.02,64.43 97.28,64.05 97.54,63.52 97.8,62.86 98.06,62.11 98.32,61.33 98.58,60.56 98.84,59.84 99.1,59.23 99.36,58.76 99.62,58.47 99.88,58.36 100.14,58.46 100.4,58.74 100.66,59.2 100.92,59.8 101.18,60.51 101.44,61.28 101.7,62.06 101.96,62.81 102.22,63.48 102.48,64.02 102.74,64.41 103,64.61 103.26,64.61 103.52,64.43 103.78,64.05 104.04,63.52 104.3,62.86 104.56,62.11 104.82,61.33 105.08,60.56 105.34,59.84 105.6,59.23 105.86,58.76 106.12,58.47 106.38,58.36 106.64,58.46 106.9,58.74 107.16,59.2 107.42,59.8 107.68,60.51 107.94,61.28 108.2,62.06 108.46,62.81 108.72,63.48 108.98,64.02 109.24,64.41 109.5,64.61 109.76,64.61 110.02,64.43 110.28,64.05 110.54,63.52 110.8,62.86 111.06,62.11 111.32,61.33 111.58,60.56 111.84,59.84 112.1,59.23 112.36,58.76 112.62,58.47 112.88,58.36 113.14,58.46 113.4,58.74 113.66,59.2 113.92,59.8 114.18,60.51 114.44,61.28 114.7,62.06 114.96,62.81 115.22,63.48 115.48,64.02 115.74,64.41 116,64.61 116.26,64.61 116.52,64.43 116.78,64.05 117.04,63.52 117.3,62.86 117.56,62.11 117.82,61.33 118.08,60.56 118.34,59.84 118.6,59.23 118.86,58.76 119.12,58.47 119.38,58.36 119.64,58.46 119.9,58.74 120.16,59.2 120.42,59.8 120.68,60.51 120.94,61.28 121.2,62.06 121.46,62.81 121.72,63.48 121.98,64.02 122.24,64.41 122.5,64.61 122.76,64.61 123.02,64.43 123.28,64.05 123.54,63.52 123.8,62.86 124.06,62.11 124.32,61.33 124.58,60.56 124.84,59.84 125.1,59.23 125.36,58.76 125.62,58.47 125.88,58.36 126.14,58.46 126.4,58.74 126.66,59.2 126.92,59.8 127.18,60.51 127.44,61.28 127.7,62.06 127.96,62.81 128.22,63.48 128.48,64.02 128.74,64.41 129,64.61 129.26,64.61 129.52,64.43 129.78,64.05 130.04,63.52 130.3,62.86 130.56,62.11 130.82,61.33 131.08,60.56 131.34,59.84 131.6,59.23 131.86,58.76 132.12,58.47 132.38,58.36 132.64,58.46 132.9,58.74 133.16,59.2 133.42,59.8 133.68,60.51 133.94,61.28 134.2,62.06 134.46,62.81 134.72,63.48 134.98,64.02 135.24,64.41 135.5,64.61 135.76,64.61 136.02,64.43 136.28,64.05 136.54,63.52 136.8,62.86 137.06,62.11 137.32,61.33 137.58,60.56 137.84,59.84 138.1,59.23 138.36,58.76 138.62,58.47 138.88,58.36 139.14,58.46 139.4,58.74 139.66,59.2 139.92,59.8 140.18,60.51 140.44,61.28 140.7,62.06 140.96,62.81 141.22,63.48 141.48,64.02 141.74,64.41 142,64.61 142.26,64.61 142.52,64.43 142.78,64.05 143.04,63.52 143.3,62.86 143.56,62.11 143.82,61.33 144.08,60.56 144.34,59.84 144.6,59.23 144.86,58.76 145.12,58.47 145.38,58.36 145.64,58.46 145.9,58.74 146.16,59.2 146.42,59.8 146.68,60.51 146.94,61.28 147.2,62.06 147.46,62.81 147.72,63.48 147.98,64.02 148.24,64.41 148.5,64.61 148.76,64.61 149.02,64.43 149.28,64.05 149.54,63.52 149.8,62.86 150.06,62.11 150.32,61.33 150.58,60.56 150.84,59.84 151.1,59.23 151.36,58.76 151.62,58.47 151.88,58.36 152.14,58.46 152.4,58.74 152.66,59.2 152.92,59.8 153.18,60.51 153.44,61.28 153.7,62.06 153.96,62.81 154.22,63.48 154.48,64.02 154.74,64.41 155,64.61 155.26,64.61 155.52,64.43 155.78,64.05 156.04,63.52 156.3,62.86 156.56,62.11 156.82,61.33 157.08,60.56 157.34,59.84 157.6,59.23 157.86,58.76 158.12,58.47 158.38,58.36 158.64,58.46 158.9,58.74 159.16,59.2 159.42,59.8 159.68,60.51 159.94,61.28 160.2,62.06 160.46,62.81 160.72,63.48 160.98,64.02 161.24,64.41 161.5,64.61 161.76,64.61 162.02,64.43 162.28,64.05 162.54,63.52 162.8,62.86 163.06,62.11 163.32,61.33 163.58,60.56 163.84,59.84 164.1,59.23 164.36,58.76 164.62,58.47 164.88,58.36 165.14,58.46 165.4,58.74 165.66,59.2 165.92,59.8 166.18,60.51 166.44,61.28 166.7,62.06 166.96,62.81 167.22,63.48 167.48,64.02 167.74,64.41 168,64.61 168.26,64.61 168.52,64.43 168.78,64.05 169.04,63.52 169.3,62.86 169.56,62.11 169.82,61.33 170.08,60.56 170.34,59.84 170.6,59.23 170.86,58.76 171.12,58.47 171.38,58.36 171.64,58.46 171.9,58.74 172.16,59.2 172.42,59.8 172.68,60.51 172.94,61.28 173.2,62.06 173.46,62.81 173.72,63.48 173.98,64.02 174.24,64.41 174.5,64.61 174.76,64.61 175.02,64.43 175.28,64.05 175.54,63.52 175.8,62.86 176.06,62.11 176.32,61.33 176.58,60.56 176.84,59.84 177.1,59.23 177.36,58.76 177.62,58.47 177.88,58.36 178.14,58.46 178.4,58.74 178.66,59.2 178.92,59.8 179.18,60.51 179.44,61.28 179.7,62.06 179.96,62.81 180.22,63.48 180.48,64.02 180.74,64.41 181,64.61 181.26,64.61 181.52,64.43 181.78,64.05 182.04,63.52 182.3,62.86 182.56,62.11 182.82,61.33 183.08,60.56 183.34,59.84 183.6,59.23 183.86,58.76 184.12,58.47 184.38,58.36 184.64,58.46 184.9,58.74 185.16,59.2 185.42,59.8 185.68,60.51 185.94,61.28 186.2,62.06 186.46,62.81 186.72,63.48 186.98,64.02 187.24,64.41 187.5,64.61 187.76,64.61 188.02,64.43 188.28,64.05 188.54,63.52 188.8,62.86 189.06,62.11 189.32,61.33 189.58,60.56 189.84,59.84 190.1,59.23 190.36,58.76 190.62,58.47 190.88,58.36 191.14,58.46 191.4,58.74 191.66,59.2 191.92,59.8 192.18,60.51 192.44,61.28 192.7,62.06 192.96,62.81 193.22,63.48 193.48,64.02 193.74,64.41 194,64.61 194.26,64.61 194.52,64.43 194.78,64.05 195.04,63.52 195.3,62.86 195.56,62.11 195.82,61.33 196.08,60.56 196.34,59.84 196.6,59.23 196.86,58.76 197.12,58.47 197.38,58.36 197.64,58.46 197.9,58.74 198.16,59.2 198.42,59.8 198.68,60.51 198.94,61.28 199.2,62.06 199.46,62.81 199.72,63.48 199.98,64.02 200.24,64.41 200.5,64.61 200.76,64.61 201.02,64.43 201.28,64.05 201.54,63.52 201.8,62.86 202.06,62.11 202.32,61.33 202.58,60.56 202.84,59.84 203.1,59.23 203.36,58.76 203.62,58.47 203.88,58.36 204.14,58.46 204.4,58.74 204.66,59.2 204.92,59.8 205.18,60.51 205.44,61.28 205.7,62.06 205.96,62.81 206.22,63.48 206.48,64.02 206.74,64.41 207,64.61 207.26,64.61 207.52,64.43 207.78,64.05 208.04,63.52 208.3,62.86 208.56,62.11 208.82,61.33 209.08,60.56 209.34,59.84 209.6,59.23 209.86,58.76 210.12,58.47 210.38,58.36 210.64,58.46 210.9,58.74 211.16,59.2 211.42,59.8 211.68,60.51 211.94,61.28 212.2,62.06 212.46,62.81 212.72,63.48 212.98,64.02 213.24,64.41 213.5,64.61 213.76,64.61 214.02,64.43 214.28,64.05 214.54,63.52 214.8,62.86 215.06,62.11 215.32,61.33 215.58,60.56 215.84,59.84 216.1,59.23 216.36,58.76 216.62,58.47 216.88,58.36 217.14,58.46 217.4,58.74 217.66,59.2 217.92,59.8 218.18,60.51 218.44,61.28 218.7,62.06 218.96,62.81 219.22,63.48 219.48,64.02 219.74,64.41 220,64.61 220.26,64.61 220.52,64.43 220.78,64.05 221.04,63.52 221.3,62.86 221.56,62.11 221.82,61.33 222.08,60.56 222.34,59.84 222.6,59.23 222.86,58.76 223.12,58.47 223.38,58.36 223.64,58.46 223.9,58.74 224.16,59.2 224.42,59.8 224.68,60.51 224.94,61.28 225.2,62.06 225.46,62.81 225.72,63.48 225.98,64.02 226.24,64.41 226.5,64.61 226.76,64.61 227.02,64.43 227.28,64.05 227.54,63.52 227.8,62.86 228.06,62.11 228.32,61.33 228.58,60.56 228.84,59.84 229.1,59.23 229.36,58.76 229.62,58.47 229.88,58.36 230.14,58.46 230.4,58.74 230.66,59.2 230.92,59.8 231.18,60.51 231.44,61.28 231.7,62.06 231.96,62.81 232.22,63.48 232.48,64.02 232.74,64.41 233,64.61 233.26,64.61 233.52,64.43 233.78,64.05 234.04,63.52 234.3,62.86 234.56,62.11 234.82,61.33 235.08,60.56 235.34,59.84 235.6,59.23 235.86,58.76 236.12,58.47 236.38,58.36 236.64,58.46 236.9,58.74 237.16,59.2 237.42,59.8 237.68,60.51 237.94,61.28 238.2,62.06 238.46,62.81 238.72,63.48 238.98,64.02 239.24,64.41 239.5,64.61 239.76,64.61 240.02,64.43 240.28,64.05 240.54,63.52 240.8,62.86 241.06,62.11 241.32,61.33 241.58,60.56 241.84,59.84 242.1,59.23 242.36,58.76 242.62,58.47 242.88,58.36 243.14,58.46 243.4,58.74 243.66,59.2 243.92,59.8 244.18,60.51 244.44,61.28 244.7,62.06 244.96,62.81 245.22,63.48 245.48,64.02 245.74,64.41 246,64.61 246.26,64.61 246.52,64.43 246.78,64.05 247.04,63.52 247.3,62.86 247.56,62.11 247.82,61.33 248.08,60.56 248.34,59.84 248.6,59.23 248.86,58.76 249.12,58.47 249.38,58.36 249.64,58.46 249.9,58.74 250.16,59.2 250.42,59.8 250.68,60.51 250.94,61.28 251.2,62.06 251.46,62.81 251.72,63.48 251.98,64.02 252.24,64.41 252.5,64.61 252.76,64.61 253.02,64.43 253.28,64.05 253.54,63.52 253.8,62.86 254.06,62.11 254.32,61.33 254.58,60.56 254.84,59.84 255.1,59.23 255.36,58.76 255.62,58.47 255.88,58.36 256.14,58.46 256.4,58.74 256.66,59.2 256.92,59.8 257.18,60.51 257.44,61.28 257.7,62.06 257.96,62.81 258.22,63.48 258.48,64.02 258.74,64.41 259,64.61 259.26,64.61 259.52,64.43 259.78,64.05 260.04,63.52 260.3,62.86 260.56,62.11 260.82,61.33 261.08,60.56 261.34,59.84 261.6,59.23 261.86,58.76 262.12,58.47 262.38,58.36 262.64,58.46 262.9,58.74 263.16,59.2 263.42,59.8 263.68,60.51 263.94,61.28 264.2,62.06 264.46,62.81 264.72,63.48 264.98,64.02 265.24,64.41 265.5,64.61 265.76,64.61 266.02,64.43 266.28,64.05 266.54,63.52 266.8,62.86 267.06,62.11 267.32,61.33 267.58,60.56 267.84,59.84 268.1,59.23 268.36,58.76 268.62,58.47 268.88,58.36 269.14,58.46 269.4,58.74 269.66,59.2 269.92,59.8 270.18,60.51 270.44,61.28 270.7,62.06 270.96,62.81 271.22,63.48 271.48,64.02 271.74,64.41 272,64.61 272.26,64.61 272.52,64.43 272.78,64.05 273.04,63.52 273.3,62.86 273.56,62.11 273.82,61.33 274.08,60.56 274.34,59.84 274.6,59.23 274.86,58.76 275.12,58.47 275.38,58.36 275.64,58.46 275.9,58.74 276.16,59.2 276.42,59.8 276.68,60.51 276.94,61.28 277.2,62.06 277.46,62.81 277.72,63.48 277.98,64.02 278.24,64.41 278.5,64.61 278.76,64.61 279.02,64.43 279.28,64.05 279.54,63.52 279.8,62.86 280.06,62.11 280.32,61.33 280.58,60.56 280.84,59.84 281.1,59.23 281.36,58.76 281.62,58.47 281.88,58.36 282.14,58.46 282.4,58.74 282.66,59.2 282.92,59.8 283.18,60.51 283.44,61.28 283.7,62.06 283.96,62.81 284.22,63.48 284.48,64.02 284.74,64.41 285,64.61 285.26,64.61 285.52,64.43 285.78,64.05 286.04,63.52 286.3,62.86 286.56,62.11 286.82,61.33 287.08,60.56 287.34,59.84 287.6,59.23 287.86,58.76 288.12,58.47 288.38,58.36 288.64,58.46 288.9,58.74 289.16,59.2 289.42,59.8 289.68,60.51 289.94,61.28 290.2,62.06 290.46,62.81 290.72,63.48 290.98,64.02 291.24,64.41 291.5,64.61 291.76,64.61 292.02,64.43 292.28,64.05 292.54,63.52 292.8,62.86 293.06,62.11 293.32,61.33 293.58,60.56 293.84,59.84 294.1,59.23 294.36,58.76 294.62,58.47 294.88,58.36 295.14,58.46 295.4,58.74 295.66,59.2 295.92,59.8 296.18,60.51 296.44,61.28 296.7,62.06 296.96,62.81 297.22,63.48 297.48,64.02 297.74,64.41 298,64.61 298.26,64.61 298.52,64.43 298.78,64.05 299.04,63.52 299.3,62.86 299.56,62.11 299.82,61.33 300.08,60.56 300.34,59.84 300.6,59.23 300.86,58.76 301.12,58.47 301.38,58.36 301.64,58.46 301.9,58.74 302.16,59.2 302.42,59.8 302.68,60.51 302.94,61.28 303.2,62.06 303.46,62.81 303.72,63.48 303.98,64.02 304.24,64.41 304.5,64.61 304.76,64.61 305.02,64.43 305.28,64.05 305.54,63.52 305.8,62.86 306.06,62.11 306.32,61.33 306.58,60.56 306.84,59.84 307.1,59.23 307.36,58.76 307.62,58.47 307.88,58.36 308.14,58.46 308.4,58.74 308.66,59.2 308.92,59.8 309.18,60.51 309.44,61.28 309.7,62.06 309.96,62.81 310.22,63.48 310.48,64.02 310.74,64.41 311,64.61 311.26,64.61 311.52,64.43 311.78,64.05 312.04,63.52 312.3,62.86 312.56,62.11 312.82,61.33 313.08,60.56 313.34,59.84 313.6,59.23 313.86,58.76 314.12,58.47 314.38,58.36 314.64,58.46 314.9,58.74 315.16,59.2 315.42,59.8 315.68,60.51 315.94,61.28 316.2,62.06 316.46,62.81 316.72,63.48 316.98,64.02 317.24,64.41 317.5,64.61 317.76,64.61 318.02,64.43 318.28,64.05 318.54,63.52 318.8,62.86 319.06,62.11 319.32,61.33 319.58,60.56 319.84,59.84 320.1,59.23 320.36,58.76 320.62,58.47 320.88,58.36 321.14,58.46 321.4,58.74 321.66,59.2 321.92,59.8 322.18,60.51 322.44,61.28 322.7,62.06 322.96,62.81 323.22,63.48 323.48,64.02 323.74,64.41 324,64.61 324.26,64.61 324.52,64.43 324.78,64.05 325.04,63.52 325.3,62.86 325.56,62.11 325.82,61.33 326.08,60.56 326.34,59.84 326.6,59.23 326.86,58.76 327.12,58.47 327.38,58.36 327.64,58.46 327.9,58.74 328.16,59.2 328.42,59.8 328.68,60.51 328.94,61.28 329.2,62.06 329.46,62.81 329.72,63.48 329.98,64.02 330.24,64.41 330.5,64.61 330.76,64.61 331.02,64.43 331.28,64.05 331.54,63.52 331.8,62.86 332.06,62.11 332.32,61.33 332.58,60.56 332.84,59.84 333.1,59.23 333.36,58.76 333.62,58.47 333.88,58.36 334.14,58.46 334.4,58.74 334.66,59.2 334.92,59.8 335.18,60.51 335.44,61.28 335.7,62.06 335.96,62.81 336.22,63.48 336.48,64.02 336.74,64.41 337,64.61 337.26,64.61 337.52,64.43 337.78,64.05 338.04,63.52 338.3,62.86 338.56,62.11 338.82,61.33 339.08,60.56 339.34,59.84 339.6,59.23 339.86,58.76 340.12,58.47 340.38,58.36 340.64,58.46 340.9,58.74 341.16,59.2 341.42,59.8 341.68,60.51 341.94,61.28 342.2,62.06 342.46,62.81 342.72,63.48 342.98,64.02 343.24,64.41 343.5,64.61 343.76,64.61 344.02,64.43 344.28,64.05 344.54,63.52 344.8,62.86 345.06,62.11 345.32,61.33 345.58,60.56 345.84,59.84 346.1,59.23 346.36,58.76 346.62,58.47 346.88,58.36 347.14,58.46 347.4,58.74 347.66,59.2 347.92,59.8 348.18,60.51 348.44,61.28 348.7,62.06 348.96,62.81 349.22,63.48 349.48,64.02" fill="none" stroke="#D95319" stroke-width="0.8" stroke-linejoin="round"/>
<polyline points="24.6,53.25 24.61,45.16 24.63,38.11 24.64,32.96 24.65,30.33 24.67,30.53 24.68,33.52 24.69,38.93 24.7,46.09 24.72,54.12 24.73,62.03 24.74,68.87 24.76,73.8 24.77,76.25 24.78,75.92 24.8,72.88 24.81,67.53 24.82,60.52 24.83,52.74 24.85,45.14 24.86,38.66 24.87,34.08 24.89,31.96 24.9,32.55 24.91,35.77 24.93,41.2 24.94,48.19 24.95,55.87 24.96,63.31 24.98,69.6 24.99,73.98 25,75.94 25.02,75.26 25.03,72.03 25.04,66.68 25.06,59.88 25.07,52.47 25.08,45.36 25.09,39.43 25.11,35.4 25.12,33.76 25.13,34.7 25.15,38.09 25.16,43.51 25.17,50.3 25.19,57.61 25.2,64.56 25.21,70.31 25.22,74.17 25.24,75.68 25.25,74.68 25.26,71.31 25.28,66 25.29,59.43 25.3,52.4 25.32,45.79 25.33,40.4 25.34,36.89 25.35,35.69 25.37,36.93 25.38,40.46 25.39,45.82 25.41,52.37 25.42,59.3 25.43,65.77 25.45,71 25.46,74.35 25.47,75.45 25.48,74.17 25.5,70.69 25.51,65.46 25.52,59.14 25.54,52.51 25.55,46.38 25.56,41.52 25.58,38.5 25.59,37.7 25.6,39.21 25.61,42.82 25.63,48.1 25.64,54.39 25.65,60.92 25.67,66.91 25.68,71.62 25.69,74.5 25.71,75.21 25.72,73.69 25.73,70.15 25.74,65.03 25.76,58.98 25.77,52.75 25.78,47.11 25.8,42.75 25.81,40.2 25.82,39.76 25.84,41.49 25.85,45.15 25.86,50.3 25.87,56.31 25.89,62.43 25.9,67.93 25.91,72.15 25.93,74.58 25.94,74.95 25.95,73.23 25.97,69.65 25.98,64.68 25.99,58.92 26,53.1 26.02,47.94 26.03,44.06 26.04,41.93 26.06,41.82 26.07,43.72 26.08,47.4 26.1,52.39 26.11,58.09 26.12,63.8 26.13,68.82 26.15,72.56 26.16,74.57 26.17,74.63 26.19,72.75 26.2,69.18 26.21,64.36 26.23,58.92 26.24,53.51 26.25,48.81 26.26,45.39 26.28,43.66 26.29,43.83 26.3,45.87 26.32,49.52 26.33,54.33 26.34,59.7 26.36,64.98 26.37,69.54 26.38,72.83 26.39,74.45 26.41,74.24 26.42,72.23 26.43,68.69 26.45,64.07 26.46,58.94 26.47,53.95 26.49,49.7 26.5,46.71 26.51,45.34 26.52,45.76 26.54,47.89 26.55,51.48 26.56,56.07 26.58,61.11 26.59,65.97 26.6,70.07 26.62,72.93 26.63,74.19 26.64,73.74 26.65,71.64 26.67,68.16 26.68,63.75 26.69,58.96 26.71,54.38 26.72,50.56 26.73,47.98 26.75,46.94 26.76,47.56 26.77,49.76 26.78,53.25 26.8,57.61 26.81,62.29 26.82,66.73 26.84,70.39 26.85,72.84 26.86,73.78 26.88,73.13 26.89,70.97 26.9,67.59 26.91,63.41 26.93,58.95 26.94,54.77 26.95,51.37 26.97,49.17 26.98,48.42 26.99,49.21 27.01,51.43 27.02,54.8 27.03,58.9 27.04,63.23 27.06,67.25 27.07,70.49 27.08,72.55 27.1,73.21 27.11,72.38 27.12,70.2 27.14,66.94 27.15,63.01 27.16,58.9 27.17,55.11 27.19,52.12 27.2,50.26 27.21,49.77 27.23,50.69 27.24,52.9 27.25,56.12 27.27,59.95 27.28,63.91 27.29,67.52 27.3,70.36 27.32,72.07 27.33,72.46 27.34,71.51 27.36,69.33 27.37,66.22 27.38,62.55 27.4,58.79 27.41,55.39 27.42,52.77 27.43,51.23 27.45,50.97 27.46,51.98 27.47,54.15 27.49,57.2 27.5,60.74 27.51,64.33 27.53,67.55 27.54,70 27.55,71.39 27.56,71.56 27.58,70.51 27.59,68.37 27.6,65.42 27.62,62.03 27.63,58.61 27.64,55.59 27.66,53.32 27.67,52.08 27.68,52 27.69,53.08 27.71,55.18 27.72,58.03 27.73,61.27 27.75,64.51 27.76,67.34 27.77,69.43 27.79,70.52 27.8,70.51 27.81,69.39 27.82,67.32 27.84,64.56 27.85,61.45 27.86,58.38 27.88,55.71 27.89,53.78 27.9,52.79 27.92,52.87 27.93,53.99 27.94,55.99 27.95,58.63 27.97,61.57 27.98,64.44 27.99,66.91 28.01,68.66 28.02,69.5 28.03,69.32 28.05,68.17 28.06,66.2 28.07,63.64 28.08,60.82 28.1,58.09 28.11,55.77 28.12,54.14 28.14,53.39 28.15,53.59 28.16,54.71 28.18,56.6 28.19,59.01 28.2,61.64 28.21,64.17 28.23,66.28 28.24,67.73 28.25,68.34 28.27,68.04 28.28,66.89 28.29,65.03 28.31,62.69 28.32,60.17 28.33,57.77 28.34,55.78 28.36,54.43 28.37,53.88 28.38,54.18 28.4,55.28 28.41,57.02 28.42,59.2 28.44,61.52 28.45,63.71 28.46,65.5 28.47,66.67 28.49,67.08 28.5,66.69 28.51,65.57 28.53,63.85 28.54,61.75 28.55,59.52 28.57,57.44 28.58,55.76 28.59,54.67 28.6,54.29 28.62,54.65 28.63,55.7 28.64,57.29 28.66,59.22 28.67,61.24 28.68,63.11 28.7,64.59 28.71,65.51 28.72,65.76 28.73,65.32 28.75,64.25 28.76,62.68 28.77,60.82 28.79,58.89 28.8,57.13 28.81,55.73 28.83,54.87 28.84,54.63 28.85,55.04 28.86,56.01 28.88,57.44 28.89,59.12 28.9,60.84 28.92,62.4 28.93,63.6 28.94,64.3 28.96,64.42 28.97,63.95 28.98,62.96 28.99,61.57 29.01,59.96 29.02,58.32 29.03,56.85 29.05,55.73 29.06,55.07 29.07,54.95 29.09,55.36 29.1,56.25 29.11,57.49 29.12,58.92 29.14,60.36 29.15,61.63 29.16,62.58 29.18,63.09 29.19,63.11 29.2,62.65 29.22,61.75 29.23,60.55 29.24,59.19 29.25,57.84 29.27,56.65 29.28,55.76 29.29,55.28 29.31,55.25 29.32,55.66 29.33,56.44 29.35,57.49 29.36,58.68 29.37,59.85 29.38,60.85 29.4,61.57 29.41,61.93 29.42,61.88 29.44,61.44 29.45,60.66 29.46,59.66 29.48,58.55 29.49,57.47 29.5,56.54 29.51,55.87 29.53,55.54 29.54,55.57 29.55,55.95 29.57,56.61 29.58,57.47 29.59,58.42 29.61,59.33 29.62,60.09 29.63,60.62 29.64,60.85 29.66,60.75 29.67,60.36 29.68,59.72 29.7,58.92 29.71,58.06 29.72,57.23 29.74,56.55 29.75,56.08 29.76,55.87 29.77,55.94 29.79,56.27 29.8,56.8 29.81,57.47 29.83,58.19 29.84,58.86 29.85,59.41 29.87,59.76 29.88,59.89 29.89,59.79 29.9,59.46 29.92,58.97 29.93,58.37 29.94,57.74 29.96,57.16 29.97,56.69 29.98,56.39 30,56.28 30.01,56.36 30.02,56.63 30.03,57.03 30.05,57.51 30.06,58.01 30.07,58.47 30.09,58.83 30.1,59.05 30.11,59.11 30.12,59.01 30.14,58.77 30.15,58.43 30.16,58.02 30.18,57.62 30.19,57.25 30.2,56.97 30.22,56.81 30.23,56.77 30.24,56.86 30.25,57.05 30.27,57.32 30.28,57.62 30.29,57.93 30.31,58.2 30.32,58.4 30.33,58.51 30.35,58.52 30.36,58.45 30.37,58.31 30.38,58.11 30.4,57.9 30.41,57.69 30.42,57.52 30.44,57.4 30.45,57.34 30.46,57.35 30.48,57.42 30.49,57.53 30.5,57.67 30.51,57.82 30.53,57.96 30.54,58.07 30.55,58.15 30.57,58.19 30.58,58.19 30.59,58.15 30.61,58.1 30.62,58.05 30.63,57.99 30.64,57.95 30.66,57.92 30.67,57.92 30.68,57.94 30.7,57.97 30.71,58.01 30.72,58.05 30.74,58.09 30.75,58.12 30.76,58.14 30.77,58.16 30.79,58.17 30.8,58.19 30.81,58.22 30.83,58.24 30.84,58.26 30.85,58.28 30.87,58.3 30.88,58.32 30.89,58.35 30.9,58.37 30.92,58.4 30.93,58.42 30.94,58.45 30.96,58.47 30.97,58.5 30.98,58.52 31,58.55 31.01,58.58 31.02,58.61 31.03,58.64 31.05,58.66 31.06,58.69 31.07,58.72 31.09,58.75 31.1,58.78 31.11,58.8 31.13,58.82 31.14,58.84 31.15,58.87 31.16,58.89 31.18,58.91 31.19,58.93 31.2,58.95 31.22,58.98 31.23,59 31.24,59.03 31.26,59.05 31.27,59.07 31.28,59.1 31.29,59.13 31.31,59.15 31.32,59.18 31.33,59.2 31.35,59.23 31.36,59.26 31.37,59.29 31.39,59.31 31.4,59.34 31.41,59.37 31.42,59.4 31.44,59.43 31.45,59.46 31.46,59.49 31.48,59.52 31.49,59.55 31.5,59.58 31.52,59.61 31.53,59.65 31.54,59.68 31.55,59.71 31.57,59.74 31.58,59.78 31.59,59.81 31.61,59.84 31.62,59.88 31.63,59.91 31.65,59.94 31.66,59.98 31.67,60.01 31.68,60.05 31.7,60.08 31.71,60.12 31.72,60.15 31.74,60.19 31.75,60.22 31.76,60.26 31.78,60.3 31.79,60.33 31.8,60.37 31.81,60.41 31.83,60.44 31.84,60.48 31.85,60.52 31.87,60.56 31.88,60.59 31.89,60.63 31.91,60.67 31.92,60.71 31.93,60.75 31.94,60.78 31.96,60.82 31.97,60.86 31.98,60.9 32,60.94 32.01,60.98 32.02,61.02 32.04,61.05 32.05,61.09 32.06,61.13 32.07,61.17 32.09,61.21 32.1,61.25 32.11,61.29 32.13,61.33 32.14,61.37 32.15,61.41 32.17,61.45 32.18,61.49 32.19,61.53 32.2,61.57 32.22,61.61 32.23,61.64 32.24,61.68 32.26,61.72 32.27,61.76 32.28,61.8 32.3,61.84 32.31,61.88 32.32,61.92 32.33,61.96 32.35,62 32.36,62.04 32.37,62.07 32.39,62.11 32.4,62.15 32.41,62.19 32.43,62.23 32.44,62.27 32.45,62.31 32.46,62.34 32.48,62.38 32.49,62.42 32.5,62.46 32.52,62.49 32.53,62.53 32.54,62.57 32.56,62.61 32.57,62.64 32.58,62.68 32.59,62.72 32.61,62.75 32.62,62.79 32.63,62.82 32.65,62.86 32.66,62.89 32.67,62.93 32.69,62.96 32.7,63 32.71,63.03 32.72,63.07 32.74,63.1 32.75,63.14 32.76,63.17 32.78,63.2 32.79,63.24 32.8,63.27 32.82,63.3 32.83,63.33 32.84,63.36 32.85,63.4 32.87,63.43 32.88,63.46 32.89,63.49 32.91,63.52 32.92,63.55 32.93,63.58 32.95,63.61 32.96,63.64 32.97,63.67 32.98,63.69 33,63.72 33.01,63.75 33.02,63.78 33.04,63.8 33.05,63.83 33.06,63.86 33.08,63.88 33.09,63.91 33.1,63.93 33.11,63.96 33.13,63.98 33.14,64.01 33.15,64.03 33.17,64.05 33.18,64.08 33.19,64.1 33.21,64.12 33.22,64.14 33.23,64.16 33.24,64.18 33.26,64.2 33.27,64.22 33.28,64.24 33.3,64.26 33.31,64.28 33.32,64.3 33.34,64.32 33.35,64.33 33.36,64.35 33.37,64.37 33.39,64.38 33.4,64.4 33.41,64.41 33.43,64.43 33.44,64.44 33.45,64.45 33.47,64.47 33.48,64.48 33.49,64.49 33.5,64.5 33.52,64.51 33.53,64.52 33.54,64.53 33.56,64.54 33.57,64.55 33.58,64.56 33.6,64.57 33.61,64.58 33.62,64.59 33.63,64.59 33.65,64.6 33.66,64.6 33.67,64.61 33.69,64.61 33.7,64.62 33.71,64.62 33.73,64.63 33.74,64.63 33.75,64.63 33.76,64.63 33.78,64.64 33.79,64.64 33.8,64.64 33.82,64.64 33.83,64.64 33.84,64.63 33.86,64.63 33.87,64.63 33.88,64.63 33.89,64.63 33.91,64.62 33.92,64.62 33.93,64.61 33.95,64.61 33.96,64.6 33.97,64.6 33.99,64.59 34,64.58 34.01,64.58 34.02,64.57 34.04,64.56 34.05,64.55 34.06,64.54 34.08,64.53 34.09,64.52 34.1,64.51 34.12,64.5 34.13,64.49 34.14,64.47 34.15,64.46 34.17,64.45 34.18,64.44 34.19,64.42 34.21,64.41 34.22,64.39 34.23,64.38 34.25,64.36 34.26,64.34 34.27,64.33 34.28,64.31 34.3,64.29 34.31,64.27 34.32,64.25 34.34,64.24 34.35,64.22 34.36,64.2 34.62,63.71 34.88,63.09 35.14,62.37 35.4,61.59 35.66,60.81 35.92,60.07 36.18,59.42 36.44,58.9 36.7,58.55 36.96,58.38 37.22,58.4 37.48,58.62 37.74,59.03 38,59.58 38.26,60.26 38.52,61.02 38.78,61.8 39.04,62.57 39.3,63.27 39.56,63.86 39.82,64.3 40.08,64.56 40.34,64.63 40.6,64.51 40.86,64.2 41.12,63.71 41.38,63.09 41.64,62.37 41.9,61.59 42.16,60.81 42.42,60.07 42.68,59.42 42.94,58.9 43.2,58.55 43.46,58.38 43.72,58.4 43.98,58.62 44.24,59.03 44.5,59.58 44.76,60.26 45.02,61.02 45.28,61.8 45.54,62.57 45.8,63.27 46.06,63.86 46.32,64.3 46.58,64.56 46.84,64.63 47.1,64.51 47.36,64.2 47.62,63.71 47.88,63.09 48.14,62.37 48.4,61.59 48.66,60.81 48.92,60.07 49.18,59.42 49.44,58.9 49.7,58.55 49.96,58.38 50.22,58.4 50.48,58.62 50.74,59.03 51,59.58 51.26,60.26 51.52,61.02 51.78,61.8 52.04,62.57 52.3,63.27 52.56,63.86 52.82,64.3 53.08,64.56 53.34,64.63 53.6,64.51 53.86,64.2 54.12,63.71 54.38,63.09 54.64,62.37 54.9,61.59 55.16,60.81 55.42,60.07 55.68,59.42 55.94,58.9 56.2,58.55 56.46,58.38 56.72,58.4 56.98,58.62 57.24,59.03 57.5,59.58 57.76,60.26 58.02,61.02 58.28,61.8 58.54,62.57 58.8,63.27 59.06,63.86 59.32,64.3 59.58,64.56 59.84,64.63 60.1,64.51 60.36,64.2 60.62,63.71 60.88,63.09 61.14,62.37 61.4,61.59 61.66,60.81 61.92,60.07 62.18,59.42 62.44,58.9 62.7,58.55 62.96,58.38 63.22,58.4 63.48,58.62 63.74,59.03 64,59.58 64.26,60.26 64.52,61.02 64.78,61.8 65.04,62.57 65.3,63.27 65.56,63.86 65.82,64.3 66.08,64.56 66.34,64.63 66.6,64.51 66.86,64.2 67.12,63.71 67.38,63.09 67.64,62.37 67.9,61.59 68.16,60.81 68.42,60.07 68.68,59.42 68.94,58.9 69.2,58.55 69.46,58.38 69.72,58.4 69.98,58.62 70.24,59.03 70.5,59.58 70.76,60.26 71.02,61.02 71.28,61.8 71.54,62.57 71.8,63.27 72.06,63.86 72.32,64.3 72.58,64.56 72.84,64.63 73.1,64.51 73.36,64.2 73.62,63.71 73.88,63.09 74.14,62.37 74.4,61.59 74.66,60.81 74.92,60.07 75.18,59.42 75.44,58.9 75.7,58.55 75.96,58.38 76.22,58.4 76.48,58.62 76.74,59.03 77,59.58 77.26,60.26 77.52,61.02 77.78,61.8 78.04,62.57 78.3,63.27 78.56,63.86 78.82,64.3 79.08,64.56 79.34,64.63 79.6,64.51 79.86,64.2 80.12,63.71 80.38,63.09 80.64,62.37 80.9,61.59 81.16,60.81 81.42,60.07 81.68,59.42 81.94,58.9 82.2,58.55 82.46,58.38 82.72,58.4 82.98,58.62 83.24,59.03 83.5,59.58 83.76,60.26 84.02,61.02 84.28,61.8 84.54,62.57 84.8,63.27 85.06,63.86 85.32,64.3 85.58,64.56 85.84,64.63 86.1,64.51 86.36,64.2 86.62,63.71 86.88,63.09 87.14,62.37 87.4,61.59 87.66,60.81 87.92,60.07 88.18,59.42 88.44,58.9 88.7,58.55 88.96,58.38 89.22,58.4 89.48,58.62 89.74,59.03 90,59.58 90.26,60.26 90.52,61.02 90.78,61.8 91.04,62.57 91.3,63.27 91.56,63.86 91.82,64.3 92.08,64.56 92.34,64.63 92.6,64.51 92.86,64.2 93.12,63.71 93.38,63.09 93.64,62.37 93.9,61.59 94.16,60.81 94.42,60.07 94.68,59.42 94.94,58.9 95.2,58.55 95.46,58.38 95.72,58.4 95.98,58.62 96.24,59.03 96.5,59.58 96.76,60.26 97.02,61.02 97.28,61.8 97.54,62.57 97.8,63.27 98.06,63.86 98.32,64.3 98.58,64.56 98.84,64.63 99.1,64.51 99.36,64.2 99.62,63.71 99.88,63.09 100.14,62.37 100.4,61.59 100.66,60.81 100.92,60.07 101.18,59.42 101.44,58.9 101.7,58.55 101.96,58.38 102.22,58.4 102.48,58.62 102.74,59.03 103,59.58 103.26,60.26 103.52,61.02 103.78,61.8 104.04,62.57 104.3,63.27 104.56,63.86 104.82,64.3 105.08,64.56 105.34,64.63 105.6,64.51 105.86,64.2 106.12,63.71 106.38,63.09 106.64,62.37 106.9,61.59 107.16,60.81 107.42,60.07 107.68,59.42 107.94,58.9 108.2,58.55 108.46,58.38 108.72,58.4 108.98,58.62 109.24,59.03 109.5,59.58 109.76,60.26 110.02,61.02 110.28,61.8 110.54,62.57 110.8,63.27 111.06,63.86 111.32,64.3 111.58,64.56 111.84,64.63 112.1,64.51 112.36,64.2 112.62,63.71 112.88,63.09 113.14,62.37 113.4,61.59 113.66,60.81 113.92,60.07 114.18,59.42 114.44,58.9 114.7,58.55 114.96,58.38 115.22,58.4 115.48,58.62 115.74,59.03 116,59.58 116.26,60.26 116.52,61.02 116.78,61.8 117.04,62.57 117.3,63.27 117.56,63.86 117.82,64.3 118.08,64.56 118.34,64.63 118.6,64.51 118.86,64.2 119.12,63.71 119.38,63.09 119.64,62.37 119.9,61.59 120.16,60.81 120.42,60.07 120.68,59.42 120.94,58.9 121.2,58.55 121.46,58.38 121.72,58.4 121.98,58.62 122.24,59.03 122.5,59.58 122.76,60.26 123.02,61.02 123.28,61.8 123.54,62.57 123.8,63.27 124.06,63.86 124.32,64.3 124.58,64.56 124.84,64.63 125.1,64.51 125.36,64.2 125.62,63.71 125.88,63.09 126.14,62.37 126.4,61.59 126.66,60.81 126.92,60.07 127.18,59.42 127.44,58.9 127.7,58.55 127.96,58.38 128.22,58.4 128.48,58.62 128.74,59.03 129,59.58 129.26,60.26 129.52,61.02 129.78,61.8 130.04,62.57 130.3,63.27 130.56,63.86 130.82,64.3 131.08,64.56 131.34,64.63 131.6,64.51 131.86,64.2 132.12,63.71 132.38,63.09 132.64,62.37 132.9,61.59 133.16,60.81 133.42,60.07 133.68,59.42 133.94,58.9 134.2,58.55 134.46,58.38 134.72,58.4 134.98,58.62 135.24,59.03 135.5,59.58 135.76,60.26 136.02,61.02 136.28,61.8 136.54,62.57 136.8,63.27 137.06,63.86 137.32,64.3 137.58,64.56 137.84,64.63 138.1,64.51 138.36,64.2 138.62,63.71 138.88,63.09 139.14,62.37 139.4,61.59 139.66,60.81 139.92,60.07 140.18,59.42 140.44,58.9 140.7,58.55 140.96,58.38 141.22,58.4 141.48,58.62 141.74,59.03 142,59.58 142.26,60.26 142.52,61.02 142.78,61.8 143.04,62.57 143.3,63.27 143.56,63.86 143.82,64.3 144.08,64.56 144.34,64.63 144.6,64.51 144.86,64.2 145.12,63.71 145.38,63.09 145.64,62.37 145.9,61.59 146.16,60.81 146.42,60.07 146.68,59.42 146.94,58.9 147.2,58.55 147.46,58.38 147.72,58.4 147.98,58.62 148.24,59.03 148.5,59.58 148.76,60.26 149.02,61.02 149.28,61.8 149.54,62.57 149.8,63.27 150.06,63.86 150.32,64.3 150.58,64.56 150.84,64.63 151.1,64.51 151.36,64.2 151.62,63.71 151.88,63.09 152.14,62.37 152.4,61.59 152.66,60.81 152.92,60.07 153.18,59.42 153.44,58.9 153.7,58.55 153.96,58.38 154.22,58.4 154.48,58.62 154.74,59.03 155,59.58 155.26,60.26 155.52,61.02 155.78,61.8 156.04,62.57 156.3,63.27 156.56,63.86 156.82,64.3 157.08,64.56 157.34,64.63 157.6,64.51 157.86,64.2 158.12,63.71 158.38,63.09 158.64,62.37 158.9,61.59 159.16,60.81 159.42,60.07 159.68,59.42 159.94,58.9 160.2,58.55 160.46,58.38 160.72,58.4 160.98,58.62 161.24,59.03 161.5,59.58 161.76,60.26 162.02,61.02 162.28,61.8 162.54,62.57 162.8,63.27 163.06,63.86 163.32,64.3 163.58,64.56 163.84,64.63 164.1,64.51 164.36,64.2 164.62,63.71 164.88,63.09 165.14,62.37 165.4,61.59 165.66,60.81 165.92,60.07 166.18,59.42 166.44,58.9 166.7,58.55 166.96,58.38 167.22,58.4 167.48,58.62 167.74,59.03 168,59.58 168.26,60.26 168.52,61.02 168.78,61.8 169.04,62.57 169.3,63.27 169.56,63.86 169.82,64.3 170.08,64.56 170.34,64.63 170.6,64.51 170.86,64.2 171.12,63.71 171.38,63.09 171.64,62.37 171.9,61.59 172.16,60.81 172.42,60.07 172.68,59.42 172.94,58.9 173.2,58.55 173.46,58.38 173.72,58.4 173.98,58.62 174.24,59.03 174.5,59.58 174.76,60.26 175.02,61.02 175.28,61.8 175.54,62.57 175.8,63.27 176.06,63.86 176.32,64.3 176.58,64.56 176.84,64.63 177.1,64.51 177.36,64.2 177.62,63.71 177.88,63.09 178.14,62.37 178.4,61.59 178.66,60.81 178.92,60.07 179.18,59.42 179.44,58.9 179.7,58.55 179.96,58.38 180.22,58.4 180.48,58.62 180.74,59.03 181,59.58 181.26,60.26 181.52,61.02 181.78,61.8 182.04,62.57 182.3,63.27 182.56,63.86 182.82,64.3 183.08,64.56 183.34,64.63 183.6,64.51 183.86,64.2 184.12,63.71 184.38,63.09 184.64,62.37 184.9,61.59 185.16,60.81 185.42,60.07 185.68,59.42 185.94,58.9 186.2,58.55 186.46,58.38 186.72,58.4 186.98,58.62 187.24,59.03 187.5,59.58 187.76,60.26 188.02,61.02 188.28,61.8 188.54,62.57 188.8,63.27 189.06,63.86 189.32,64.3 189.58,64.56 189.84,64.63 190.1,64.51 190.36,64.2 190.62,63.71 190.88,63.09 191.14,62.37 191.4,61.59 191.66,60.81 191.92,60.07 192.18,59.42 192.44,58.9 192.7,58.55 192.96,58.38 193.22,58.4 193.48,58.62 193.74,59.03 194,59.58 194.26,60.26 194.52,61.02 194.78,61.8 195.04,62.57 195.3,63.27 195.56,63.86 195.82,64.3 196.08,64.56 196.34,64.63 196.6,64.51 196.86,64.2 197.12,63.71 197.38,63.09 197.64,62.37 197.9,61.59 198.16,60.81 198.42,60.07 198.68,59.42 198.94,58.9 199.2,58.55 199.46,58.38 199.72,58.4 199.98,58.62 200.24,59.03 200.5,59.58 200.76,60.26 201.02,61.02 201.28,61.8 201.54,62.57 201.8,63.27 202.06,63.86 202.32,64.3 202.58,64.56 202.84,64.63 203.1,64.51 203.36,64.2 203.62,63.71 203.88,63.09 204.14,62.37 204.4,61.59 204.66,60.81 204.92,60.07 205.18,59.42 205.44,58.9 205.7,58.55 205.96,58.38 206.22,58.4 206.48,58.62 206.74,59.03 207,59.58 207.26,60.26 207.52,61.02 207.78,61.8 208.04,62.57 208.3,63.27 208.56,63.86 208.82,64.3 209.08,64.56 209.34,64.63 209.6,64.51 209.86,64.2 210.12,63.71 210.38,63.09 210.64,62.37 210.9,61.59 211.16,60.81 211.42,60.07 211.68,59.42 211.94,58.9 212.2,58.55 212.46,58.38 212.72,58.4 212.98,58.62 213.24,59.03 213.5,59.58 213.76,60.26 214.02,61.02 214.28,61.8 214.54,62.57 214.8,63.27 215.06,63.86 215.32,64.3 215.58,64.56 215.84,64.63 216.1,64.51 216.36,64.2 216.62,63.71 216.88,63.09 217.14,62.37 217.4,61.59 217.66,60.81 217.92,60.07 218.18,59.42 218.44,58.9 218.7,58.55 218.96,58.38 219.22,58.4 219.48,58.62 219.74,59.03 220,59.58 220.26,60.26 220.52,61.02 220.78,61.8 221.04,62.57 221.3,63.27 221.56,63.86 221.82,64.3 222.08,64.56 222.34,64.63 222.6,64.51 222.86,64.2 223.12,63.71 223.38,63.09 223.64,62.37 223.9,61.59 224.16,60.81 224.42,60.07 224.68,59.42 224.94,58.9 225.2,58.55 225.46,58.38 225.72,58.4 225.98,58.62 226.24,59.03 226.5,59.58 226.76,60.26 227.02,61.02 227.28,61.8 227.54,62.57 227.8,63.27 228.06,63.86 228.32,64.3 228.58,64.56 228.84,64.63 229.1,64.51 229.36,64.2 229.62,63.71 229.88,63.09 230.14,62.37 230.4,61.59 230.66,60.81 230.92,60.07 231.18,59.42 231.44,58.9 231.7,58.55 231.96,58.38 232.22,58.4 232.48,58.62 232.74,59.03 233,59.58 233.26,60.26 233.52,61.02 233.78,61.8 234.04,62.57 234.3,63.27 234.56,63.86 234.82,64.3 235.08,64.56 235.34,64.63 235.6,64.51 235.86,64.2 236.12,63.71 236.38,63.09 236.64,62.37 236.9,61.59 237.16,60.81 237.42,60.07 237.68,59.42 237.94,58.9 238.2,58.55 238.46,58.38 238.72,58.4 238.98,58.62 239.24,59.03 239.5,59.58 239.76,60.26 240.02,61.02 240.28,61.8 240.54,62.57 240.8,63.27 241.06,63.86 241.32,64.3 241.58,64.56 241.84,64.63 242.1,64.51 242.36,64.2 242.62,63.71 242.88,63.09 243.14,62.37 243.4,61.59 243.66,60.81 243.92,60.07 244.18,59.42 244.44,58.9 244.7,58.55 244.96,58.38 245.22,58.4 245.48,58.62 245.74,59.03 246,59.58 246.26,60.26 246.52,61.02 246.78,61.8 247.04,62.57 247.3,63.27 247.56,63.86 247.82,64.3 248.08,64.56 248.34,64.63 248.6,64.51 248.86,64.2 249.12,63.71 249.38,63.09 249.64,62.37 249.9,61.59 250.16,60.81 250.42,60.07 250.68,59.42 250.94,58.9 251.2,58.55 251.46,58.38 251.72,58.4 251.98,58.62 252.24,59.03 252.5,59.58 252.76,60.26 253.02,61.02 253.28,61.8 253.54,62.57 253.8,63.27 254.06,63.86 254.32,64.3 254.58,64.56 254.84,64.63 255.1,64.51 255.36,64.2 255.62,63.71 255.88,63.09 256.14,62.37 256.4,61.59 256.66,60.81 256.92,60.07 257.18,59.42 257.44,58.9 257.7,58.55 257.96,58.38 258.22,58.4 258.48,58.62 258.74,59.03 259,59.58 259.26,60.26 259.52,61.02 259.78,61.8 260.04,62.57 260.3,63.27 260.56,63.86 260.82,64.3 261.08,64.56 261.34,64.63 261.6,64.51 261.86,64.2 262.12,63.71 262.38,63.09 262.64,62.37 262.9,61.59 263.16,60.81 263.42,60.07 263.68,59.42 263.94,58.9 264.2,58.55 264.46,58.38 264.72,58.4 264.98,58.62 265.24,59.03 265.5,59.58 265.76,60.26 266.02,61.02 266.28,61.8 266.54,62.57 266.8,63.27 267.06,63.86 267.32,64.3 267.58,64.56 267.84,64.63 268.1,64.51 268.36,64.2 268.62,63.71 268.88,63.09 269.14,62.37 269.4,61.59 269.66,60.81 269.92,60.07 270.18,59.42 270.44,58.9 270.7,58.55 270.96,58.38 271.22,58.4 271.48,58.62 271.74,59.03 272,59.58 272.26,60.26 272.52,61.02 272.78,61.8 273.04,62.57 273.3,63.27 273.56,63.86 273.82,64.3 274.08,64.56 274.34,64.63 274.6,64.51 274.86,64.2 275.12,63.71 275.38,63.09 275.64,62.37 275.9,61.59 276.16,60.81 276.42,60.07 276.68,59.42 276.94,58.9 277.2,58.55 277.46,58.38 277.72,58.4 277.98,58.62 278.24,59.03 278.5,59.58 278.76,60.26 279.02,61.02 279.28,61.8 279.54,62.57 279.8,63.27 280.06,63.86 280.32,64.3 280.58,64.56 280.84,64.63 281.1,64.51 281.36,64.2 281.62,63.71 281.88,63.09 282.14,62.37 282.4,61.59 282.66,60.81 282.92,60.07 283.18,59.42 283.44,58.9 283.7,58.55 283.96,58.38 284.22,58.4 284.48,58.62 284.74,59.03 285,59.58 285.26,60.26 285.52,61.02 285.78,61.8 286.04,62.57 286.3,63.27 286.56,63.86 286.82,64.3 287.08,64.56 287.34,64.63 287.6,64.51 287.86,64.2 288.12,63.71 288.38,63.09 288.64,62.37 288.9,61.59 289.16,60.81 289.42,60.07 289.68,59.42 289.94,58.9 290.2,58.55 290.46,58.38 290.72,58.4 290.98,58.62 291.24,59.03 291.5,59.58 291.76,60.26 292.02,61.02 292.28,61.8 292.54,62.57 292.8,63.27 293.06,63.86 293.32,64.3 293.58,64.56 293.84,64.63 294.1,64.51 294.36,64.2 294.62,63.71 294.88,63.09 295.14,62.37 295.4,61.59 295.66,60.81 295.92,60.07 296.18,59.42 296.44,58.9 296.7,58.55 296.96,58.38 297.22,58.4 297.48,58.62 297.74,59.03 298,59.58 298.26,60.26 298.52,61.02 298.78,61.8 299.04,62.57 299.3,63.27 299.56,63.86 299.82,64.3 300.08,64.56 300.34,64.63 300.6,64.51 300.86,64.2 301.12,63.71 301.38,63.09 301.64,62.37 301.9,61.59 302.16,60.81 302.42,60.07 302.68,59.42 302.94,58.9 303.2,58.55 303.46,58.38 303.72,58.4 303.98,58.62 304.24,59.03 304.5,59.58 304.76,60.26 305.02,61.02 305.28,61.8 305.54,62.57 305.8,63.27 306.06,63.86 306.32,64.3 306.58,64.56 306.84,64.63 307.1,64.51 307.36,64.2 307.62,63.71 307.88,63.09 308.14,62.37 308.4,61.59 308.66,60.81 308.92,60.07 309.18,59.42 309.44,58.9 309.7,58.55 309.96,58.38 310.22,58.4 310.48,58.62 310.74,59.03 311,59.58 311.26,60.26 311.52,61.02 311.78,61.8 312.04,62.57 312.3,63.27 312.56,63.86 312.82,64.3 313.08,64.56 313.34,64.63 313.6,64.51 313.86,64.2 314.12,63.71 314.38,63.09 314.64,62.37 314.9,61.59 315.16,60.81 315.42,60.07 315.68,59.42 315.94,58.9 316.2,58.55 316.46,58.38 316.72,58.4 316.98,58.62 317.24,59.03 317.5,59.58 317.76,60.26 318.02,61.02 318.28,61.8 318.54,62.57 318.8,63.27 319.06,63.86 319.32,64.3 319.58,64.56 319.84,64.63 320.1,64.51 320.36,64.2 320.62,63.71 320.88,63.09 321.14,62.37 321.4,61.59 321.66,60.81 321.92,60.07 322.18,59.42 322.44,58.9 322.7,58.55 322.96,58.38 323.22,58.4 323.48,58.62 323.74,59.03 324,59.58 324.26,60.26 324.52,61.02 324.78,61.8 325.04,62.57 325.3,63.27 325.56,63.86 325.82,64.3 326.08,64.56 326.34,64.63 326.6,64.51 326.86,64.2 327.12,63.71 327.38,63.09 327.64,62.37 327.9,61.59 328.16,60.81 328.42,60.07 328.68,59.42 328.94,58.9 329.2,58.55 329.46,58.38 329.72,58.4 329.98,58.62 330.24,59.03 330.5,59.58 330.76,60.26 331.02,61.02 331.28,61.8 331.54,62.57 331.8,63.27 332.06,63.86 332.32,64.3 332.58,64.56 332.84,64.63 333.1,64.51 333.36,64.2 333.62,63.71 333.88,63.09 334.14,62.37 334.4,61.59 334.66,60.81 334.92,60.07 335.18,59.42 335.44,58.9 335.7,58.55 335.96,58.38 336.22,58.4 336.48,58.62 336.74,59.03 337,59.58 337.26,60.26 337.52,61.02 337.78,61.8 338.04,62.57 338.3,63.27 338.56,63.86 338.82,64.3 339.08,64.56 339.34,64.63 339.6,64.51 339.86,64.2 340.12,63.71 340.38,63.09 340.64,62.37 340.9,61.59 341.16,60.81 341.42,60.07 341.68,59.42 341.94,58.9 342.2,58.55 342.46,58.38 342.72,58.4 342.98,58.62 343.24,59.03 343.5,59.58 343.76,60.26 344.02,61.02 344.28,61.8 344.54,62.57 344.8,63.27 345.06,63.86 345.32,64.3 345.58,64.56 345.84,64.63 346.1,64.51 346.36,64.2 346.62,63.71 346.88,63.09 347.14,62.37 347.4,61.59 347.66,60.81 347.92,60.07 348.18,59.42 348.44,58.9 348.7,58.55 348.96,58.38 349.22,58.4 349.48,58.62" fill="none" stroke="#EDB120" stroke-width="0.8" stroke-linejoin="round"/>
</g>
<path d="M24.6 116.35V113.75M24.6 10.55V13.15M57.12 116.35V113.75M57.12 10.55V13.15M89.64 116.35V113.75M89.64 10.55V13.15M122.16 116.35V113.75M122.16 10.55V13.15M154.68 116.35V113.75M154.68 10.55V13.15M187.2 116.35V113.75M187.2 10.55V13.15M219.72 116.35V113.75M219.72 10.55V13.15M252.24 116.35V113.75M252.24 10.55V13.15M284.76 116.35V113.75M284.76 10.55V13.15M317.28 116.35V113.75M317.28 10.55V13.15M349.8 116.35V113.75M349.8 10.55V13.15M24.6 24.6H27.2M349.55 24.6H346.95M24.6 43.05H27.2M349.55 43.05H346.95M24.6 61.5H27.2M349.55 61.5H346.95M24.6 79.95H27.2M349.55 79.95H346.95M24.6 98.4H27.2M349.55 98.4H346.95" stroke="#6a6a6a" stroke-width="1" fill="none"/>
<rect x="24.6" y="10.55" width="324.95" height="105.8" stroke="#6a6a6a" stroke-width="1" fill="none"/>
<text class="t" x="22.6" y="27.55" font-size="6.9" text-anchor="end">1</text>
<text class="t" x="22.6" y="46" font-size="6.9" text-anchor="end">0.5</text>
<text class="t" x="22.6" y="64.45" font-size="6.9" text-anchor="end">0</text>
<text class="t" x="22.6" y="82.9" font-size="6.9" text-anchor="end">-0.5</text>
<text class="t" x="22.6" y="101.35" font-size="6.9" text-anchor="end">-1</text>
<text x="24.9" y="8.6" font-size="7.4" style="fill:#9a9a9a">&#215;</text>
<text x="30.9" y="8.1" font-size="7.0" style="fill:#262626;stroke:#262626;stroke-width:0.1px">10</text>
<path d="M41.1 1.35H38.95L38.7 3.25C39.3 2.85 41.25 2.7 41.3 4.05C41.35 5.5 39.3 5.75 38.55 4.85" fill="none" stroke="#3a3a3a" stroke-width="0.7"/>
<text class="l" x="187" y="7.2" font-size="8.6" text-anchor="middle">Bus1 Voltage waveforms</text>
<text class="l" x="8.6" y="63" font-size="8.5" text-anchor="middle" transform="rotate(-90 8.6 63)">voltage</text>
<path d="M57.12 136.45V226.35M89.64 136.45V226.35M122.16 136.45V226.35M154.68 136.45V226.35M187.2 136.45V226.35M219.72 136.45V226.35M252.24 136.45V226.35M284.76 136.45V226.35M317.28 136.45V226.35M24.6 158.57H349.55M24.6 182.07H349.55M24.6 205.57H349.55" stroke="#b8b8b8" stroke-width="1" fill="none"/>
</g>
<g clip-path="url(#cb)">
<polyline points="24.6,145.06 24.74,145.9 24.87,147.22 25.01,149.02 25.14,151.28 25.28,154 25.41,157.13 25.55,160.64 25.68,164.48 25.82,168.58 25.95,172.88 26.09,177.33 26.23,181.83 26.36,186.32 26.5,190.73 26.63,194.98 26.77,199 26.9,202.73 27.04,206.1 27.17,209.05 27.31,211.53 27.44,213.51 27.58,214.95 27.71,215.83 27.85,216.13 27.99,215.84 28.12,214.97 28.26,213.54 28.39,211.57 28.53,209.1 28.66,206.16 28.8,202.81 28.93,199.1 29.07,195.11 29.2,190.89 29.34,186.52 29.48,182.07 29.61,177.62 29.75,173.25 29.88,169.03 30.02,165.03 30.15,161.33 30.29,157.97 30.42,155.04 30.56,152.56 30.69,150.59 30.83,149.16 30.96,148.29 31.1,147.99 31.24,148.29 31.37,149.16 31.51,150.59 31.64,152.56 31.78,155.04 31.91,157.98 32.05,161.33 32.18,165.03 32.32,169.03 32.45,173.25 32.59,177.62 32.73,182.07 32.86,186.52 33,190.89 33.13,195.11 33.27,199.11 33.4,202.81 33.54,206.16 33.67,209.1 33.81,211.58 33.94,213.55 34.08,214.98 34.21,215.85 34.35,216.14 34.49,215.85 34.62,214.98 34.76,213.55 34.89,211.58 35.03,209.1 35.16,206.16 35.3,202.81 35.43,199.11 35.57,195.11 35.7,190.89 35.84,186.52 35.98,182.07 36.11,177.62 36.25,173.25 36.38,169.03 36.52,165.03 36.65,161.33 36.79,157.98 36.92,155.04 37.06,152.56 37.19,150.59 37.33,149.16 37.46,148.29 37.6,147.99 37.74,148.29 37.87,149.16 38.01,150.59 38.14,152.56 38.28,155.04 38.41,157.98 38.55,161.33 38.68,165.03 38.82,169.03 38.95,173.25 39.09,177.62 39.23,182.07 39.36,186.52 39.5,190.89 39.63,195.11 39.77,199.11 39.9,202.81 40.04,206.16 40.17,209.1 40.31,211.58 40.44,213.55 40.58,214.98 40.71,215.85 40.85,216.14 40.99,215.85 41.12,214.98 41.26,213.55 41.39,211.58 41.53,209.1 41.66,206.16 41.8,202.81 41.93,199.11 42.07,195.11 42.2,190.89 42.34,186.52 42.48,182.07 42.61,177.62 42.75,173.25 42.88,169.03 43.02,165.03 43.15,161.33 43.29,157.98 43.42,155.04 43.56,152.56 43.69,150.59 43.83,149.16 43.96,148.29 44.1,147.99 44.24,148.29 44.37,149.16 44.51,150.59 44.64,152.56 44.78,155.04 44.91,157.98 45.05,161.33 45.18,165.03 45.32,169.03 45.45,173.25 45.59,177.62 45.73,182.07 45.86,186.52 46,190.89 46.13,195.11 46.27,199.11 46.4,202.81 46.54,206.16 46.67,209.1 46.81,211.58 46.94,213.55 47.08,214.98 47.21,215.85 47.35,216.14 47.49,215.85 47.62,214.98 47.76,213.55 47.89,211.58 48.03,209.1 48.16,206.16 48.3,202.81 48.43,199.11 48.57,195.11 48.7,190.89 48.84,186.52 48.98,182.07 49.11,177.62 49.25,173.25 49.38,169.03 49.52,165.03 49.65,161.33 49.79,157.98 49.92,155.04 50.06,152.56 50.19,150.59 50.33,149.16 50.46,148.29 50.6,148 50.74,148.29 50.87,149.16 51.01,150.59 51.14,152.56 51.28,155.04 51.41,157.98 51.55,161.33 51.68,165.03 51.82,169.03 51.95,173.25 52.09,177.62 52.23,182.07 52.36,186.52 52.5,190.89 52.63,195.11 52.77,199.11 52.9,202.81 53.04,206.16 53.17,209.1 53.31,211.58 53.44,213.55 53.58,214.98 53.71,215.85 53.85,216.14 53.99,215.85 54.12,214.98 54.26,213.55 54.39,211.58 54.53,209.1 54.66,206.16 54.8,202.81 54.93,199.11 55.07,195.11 55.2,190.89 55.34,186.52 55.48,182.07 55.61,177.62 55.75,173.25 55.88,169.03 56.02,165.03 56.15,161.33 56.29,157.98 56.42,155.04 56.56,152.56 56.69,150.59 56.83,149.16 56.96,148.29 57.1,148 57.24,148.29 57.37,149.16 57.51,150.59 57.64,152.56 57.78,155.04 57.91,157.98 58.05,161.33 58.18,165.03 58.32,169.03 58.45,173.25 58.59,177.62 58.73,182.07 58.86,186.52 59,190.89 59.13,195.11 59.27,199.11 59.4,202.81 59.54,206.16 59.67,209.1 59.81,211.58 59.94,213.55 60.08,214.98 60.21,215.85 60.35,216.14 60.49,215.85 60.62,214.98 60.76,213.55 60.89,211.58 61.03,209.1 61.16,206.16 61.3,202.81 61.43,199.11 61.57,195.11 61.7,190.89 61.84,186.52 61.98,182.07 62.11,177.62 62.25,173.25 62.38,169.03 62.52,165.03 62.65,161.33 62.79,157.98 62.92,155.04 63.06,152.56 63.19,150.59 63.33,149.16 63.46,148.29 63.6,148 63.74,148.29 63.87,149.16 64.01,150.59 64.14,152.56 64.28,155.04 64.41,157.98 64.55,161.33 64.68,165.03 64.82,169.03 64.95,173.25 65.09,177.62 65.22,182.07 65.36,186.52 65.5,190.89 65.63,195.11 65.77,199.11 65.9,202.81 66.04,206.16 66.17,209.1 66.31,211.58 66.44,213.55 66.58,214.98 66.71,215.85 66.85,216.14 66.99,215.85 67.12,214.98 67.26,213.55 67.39,211.58 67.53,209.1 67.66,206.16 67.8,202.81 67.93,199.11 68.07,195.11 68.2,190.89 68.34,186.52 68.47,182.07 68.61,177.62 68.75,173.25 68.88,169.03 69.02,165.03 69.15,161.33 69.29,157.98 69.42,155.04 69.56,152.56 69.69,150.59 69.83,149.16 69.96,148.29 70.1,148 70.24,148.29 70.37,149.16 70.51,150.59 70.64,152.56 70.78,155.04 70.91,157.98 71.05,161.33 71.18,165.03 71.32,169.03 71.45,173.25 71.59,177.62 71.72,182.07 71.86,186.52 72,190.89 72.13,195.11 72.27,199.11 72.4,202.81 72.54,206.16 72.67,209.1 72.81,211.58 72.94,213.55 73.08,214.98 73.21,215.85 73.35,216.14 73.49,215.85 73.62,214.98 73.76,213.55 73.89,211.58 74.03,209.1 74.16,206.16 74.3,202.81 74.43,199.11 74.57,195.11 74.7,190.89 74.84,186.52 74.97,182.07 75.11,177.62 75.25,173.25 75.38,169.03 75.52,165.03 75.65,161.33 75.79,157.98 75.92,155.04 76.06,152.56 76.19,150.59 76.33,149.16 76.46,148.29 76.6,148 76.74,148.29 76.87,149.16 77.01,150.59 77.14,152.56 77.28,155.04 77.41,157.98 77.55,161.33 77.68,165.03 77.82,169.03 77.95,173.25 78.09,177.62 78.22,182.07 78.36,186.52 78.5,190.89 78.63,195.11 78.77,199.11 78.9,202.81 79.04,206.16 79.17,209.1 79.31,211.58 79.44,213.55 79.58,214.98 79.71,215.85 79.85,216.14 79.99,215.85 80.12,214.98 80.26,213.55 80.39,211.58 80.53,209.1 80.66,206.16 80.8,202.81 80.93,199.11 81.07,195.11 81.2,190.89 81.34,186.52 81.47,182.07 81.61,177.62 81.75,173.25 81.88,169.03 82.02,165.03 82.15,161.33 82.29,157.98 82.42,155.04 82.56,152.56 82.69,150.59 82.83,149.16 82.96,148.29 83.1,148 83.24,148.29 83.37,149.16 83.51,150.59 83.64,152.56 83.78,155.04 83.91,157.98 84.05,161.33 84.18,165.03 84.32,169.03 84.45,173.25 84.59,177.62 84.72,182.07 84.86,186.52 85,190.89 85.13,195.11 85.27,199.11 85.4,202.81 85.54,206.16 85.67,209.1 85.81,211.58 85.94,213.55 86.08,214.98 86.21,215.85 86.35,216.14 86.49,215.85 86.62,214.98 86.76,213.55 86.89,211.58 87.03,209.1 87.16,206.16 87.3,202.81 87.43,199.11 87.57,195.11 87.7,190.89 87.84,186.52 87.97,182.07 88.11,177.62 88.25,173.25 88.38,169.03 88.52,165.03 88.65,161.33 88.79,157.98 88.92,155.04 89.06,152.56 89.19,150.59 89.33,149.16 89.46,148.29 89.6,148 89.74,148.29 89.87,149.16 90.01,150.59 90.14,152.56 90.28,155.04 90.41,157.98 90.55,161.33 90.68,165.03 90.82,169.03 90.95,173.25 91.09,177.62 91.22,182.07 91.36,186.52 91.5,190.89 91.63,195.11 91.77,199.11 91.9,202.81 92.04,206.16 92.17,209.1 92.31,211.58 92.44,213.55 92.58,214.98 92.71,215.85 92.85,216.14 92.99,215.85 93.12,214.98 93.26,213.55 93.39,211.58 93.53,209.1 93.66,206.16 93.8,202.81 93.93,199.11 94.07,195.11 94.2,190.89 94.34,186.52 94.47,182.07 94.61,177.62 94.75,173.25 94.88,169.03 95.02,165.03 95.15,161.33 95.29,157.98 95.42,155.04 95.56,152.56 95.69,150.59 95.83,149.16 95.96,148.29 96.1,148 96.24,148.29 96.37,149.16 96.51,150.59 96.64,152.56 96.78,155.04 96.91,157.98 97.05,161.33 97.18,165.03 97.32,169.03 97.45,173.25 97.59,177.62 97.72,182.07 97.86,186.52 98,190.89 98.13,195.11 98.27,199.11 98.4,202.81 98.54,206.16 98.67,209.1 98.81,211.58 98.94,213.55 99.08,214.98 99.21,215.85 99.35,216.14 99.49,215.85 99.62,214.98 99.76,213.55 99.89,211.58 100.03,209.1 100.16,206.16 100.3,202.81 100.43,199.11 100.57,195.11 100.7,190.89 100.84,186.52 100.97,182.07 101.11,177.62 101.25,173.25 101.38,169.03 101.52,165.03 101.65,161.33 101.79,157.98 101.92,155.04 102.06,152.56 102.19,150.59 102.33,149.16 102.46,148.29 102.6,148 102.74,148.29 102.87,149.16 103.01,150.59 103.14,152.56 103.28,155.04 103.41,157.98 103.55,161.33 103.68,165.03 103.82,169.03 103.95,173.25 104.09,177.62 104.22,182.07 104.36,186.52 104.5,190.89 104.63,195.11 104.77,199.11 104.9,202.81 105.04,206.16 105.17,209.1 105.31,211.58 105.44,213.55 105.58,214.98 105.71,215.85 105.85,216.14 105.99,215.85 106.12,214.98 106.26,213.55 106.39,211.58 106.53,209.1 106.66,206.16 106.8,202.81 106.93,199.11 107.07,195.11 107.2,190.89 107.34,186.52 107.47,182.07 107.61,177.62 107.75,173.25 107.88,169.03 108.02,165.03 108.15,161.33 108.29,157.98 108.42,155.04 108.56,152.56 108.69,150.59 108.83,149.16 108.96,148.29 109.1,148 109.24,148.29 109.37,149.16 109.51,150.59 109.64,152.56 109.78,155.04 109.91,157.98 110.05,161.33 110.18,165.03 110.32,169.03 110.45,173.25 110.59,177.62 110.72,182.07 110.86,186.52 111,190.89 111.13,195.11 111.27,199.11 111.4,202.81 111.54,206.16 111.67,209.1 111.81,211.58 111.94,213.55 112.08,214.98 112.21,215.85 112.35,216.14 112.49,215.85 112.62,214.98 112.76,213.55 112.89,211.58 113.03,209.1 113.16,206.16 113.3,202.81 113.43,199.11 113.57,195.11 113.7,190.89 113.84,186.52 113.98,182.07 114.11,177.62 114.25,173.25 114.38,169.03 114.52,165.03 114.65,161.33 114.79,157.98 114.92,155.04 115.06,152.56 115.19,150.59 115.33,149.16 115.46,148.29 115.6,148 115.74,148.29 115.87,149.16 116.01,150.59 116.14,152.56 116.28,155.04 116.41,157.98 116.55,161.33 116.68,165.03 116.82,169.03 116.95,173.25 117.09,177.62 117.22,182.07 117.36,186.52 117.5,190.89 117.63,195.11 117.77,199.11 117.9,202.81 118.04,206.16 118.17,209.1 118.31,211.58 118.44,213.55 118.58,214.98 118.71,215.85 118.85,216.14 118.99,215.85 119.12,214.98 119.26,213.55 119.39,211.58 119.53,209.1 119.66,206.16 119.8,202.81 119.93,199.11 120.07,195.11 120.2,190.89 120.34,186.52 120.47,182.07 120.61,177.62 120.75,173.25 120.88,169.03 121.02,165.03 121.15,161.33 121.29,157.98 121.42,155.04 121.56,152.56 121.69,150.59 121.83,149.16 121.96,148.29 122.1,148 122.24,148.29 122.37,149.16 122.51,150.59 122.64,152.56 122.78,155.04 122.91,157.98 123.05,161.33 123.18,165.03 123.32,169.03 123.45,173.25 123.59,177.62 123.72,182.07 123.86,186.52 124,190.89 124.13,195.11 124.27,199.11 124.4,202.81 124.54,206.16 124.67,209.1 124.81,211.58 124.94,213.55 125.08,214.98 125.21,215.85 125.35,216.14 125.49,215.85 125.62,214.98 125.76,213.55 125.89,211.58 126.03,209.1 126.16,206.16 126.3,202.81 126.43,199.11 126.57,195.11 126.7,190.89 126.84,186.52 126.97,182.07 127.11,177.62 127.25,173.25 127.38,169.03 127.52,165.03 127.65,161.33 127.79,157.98 127.92,155.04 128.06,152.56 128.19,150.59 128.33,149.16 128.46,148.29 128.6,148 128.74,148.29 128.87,149.16 129.01,150.59 129.14,152.56 129.28,155.04 129.41,157.98 129.55,161.33 129.68,165.03 129.82,169.03 129.95,173.25 130.09,177.62 130.22,182.07 130.36,186.52 130.5,190.89 130.63,195.11 130.77,199.11 130.9,202.81 131.04,206.16 131.17,209.1 131.31,211.58 131.44,213.55 131.58,214.98 131.71,215.85 131.85,216.14 131.99,215.85 132.12,214.98 132.26,213.55 132.39,211.58 132.53,209.1 132.66,206.16 132.8,202.81 132.93,199.11 133.07,195.11 133.2,190.89 133.34,186.52 133.47,182.07 133.61,177.62 133.75,173.25 133.88,169.03 134.02,165.03 134.15,161.33 134.29,157.98 134.42,155.04 134.56,152.56 134.69,150.59 134.83,149.16 134.96,148.29 135.1,148 135.24,148.29 135.37,149.16 135.51,150.59 135.64,152.56 135.78,155.04 135.91,157.98 136.05,161.33 136.18,165.03 136.32,169.03 136.45,173.25 136.59,177.62 136.72,182.07 136.86,186.52 137,190.89 137.13,195.11 137.27,199.11 137.4,202.81 137.54,206.16 137.67,209.1 137.81,211.58 137.94,213.55 138.08,214.98 138.21,215.85 138.35,216.14 138.49,215.85 138.62,214.98 138.76,213.55 138.89,211.58 139.03,209.1 139.16,206.16 139.3,202.81 139.43,199.11 139.57,195.11 139.7,190.89 139.84,186.52 139.97,182.07 140.11,177.62 140.25,173.25 140.38,169.03 140.52,165.03 140.65,161.33 140.79,157.98 140.92,155.04 141.06,152.56 141.19,150.59 141.33,149.16 141.46,148.29 141.6,148 141.74,148.29 141.87,149.16 142.01,150.59 142.14,152.56 142.28,155.04 142.41,157.98 142.55,161.33 142.68,165.03 142.82,169.03 142.95,173.25 143.09,177.62 143.22,182.07 143.36,186.52 143.5,190.89 143.63,195.11 143.77,199.11 143.9,202.81 144.04,206.16 144.17,209.1 144.31,211.58 144.44,213.55 144.58,214.98 144.71,215.85 144.85,216.14 144.99,215.85 145.12,214.98 145.26,213.55 145.39,211.58 145.53,209.1 145.66,206.16 145.8,202.81 145.93,199.11 146.07,195.11 146.2,190.89 146.34,186.52 146.47,182.07 146.61,177.62 146.75,173.25 146.88,169.03 147.02,165.03 147.15,161.33 147.29,157.98 147.42,155.04 147.56,152.56 147.69,150.59 147.83,149.16 147.96,148.29 148.1,148 148.24,148.29 148.37,149.16 148.51,150.59 148.64,152.56 148.78,155.04 148.91,157.98 149.05,161.33 149.18,165.03 149.32,169.03 149.45,173.25 149.59,177.62 149.72,182.07 149.86,186.52 150,190.89 150.13,195.11 150.27,199.11 150.4,202.81 150.54,206.16 150.67,209.1 150.81,211.58 150.94,213.55 151.08,214.98 151.21,215.85 151.35,216.14 151.49,215.85 151.62,214.98 151.76,213.55 151.89,211.58 152.03,209.1 152.16,206.16 152.3,202.81 152.43,199.11 152.57,195.11 152.7,190.89 152.84,186.52 152.97,182.07 153.11,177.62 153.25,173.25 153.38,169.03 153.52,165.03 153.65,161.33 153.79,157.98 153.92,155.04 154.06,152.56 154.19,150.59 154.33,149.16 154.46,148.29 154.6,148 154.74,148.29 154.87,149.16 155.01,150.59 155.14,152.56 155.28,155.04 155.41,157.98 155.55,161.33 155.68,165.03 155.82,169.03 155.95,173.25 156.09,177.62 156.22,182.07 156.36,186.52 156.5,190.89 156.63,195.11 156.77,199.11 156.9,202.81 157.04,206.16 157.17,209.1 157.31,211.58 157.44,213.55 157.58,214.98 157.71,215.85 157.85,216.14 157.99,215.85 158.12,214.98 158.26,213.55 158.39,211.58 158.53,209.1 158.66,206.16 158.8,202.81 158.93,199.11 159.07,195.11 159.2,190.89 159.34,186.52 159.47,182.07 159.61,177.62 159.75,173.25 159.88,169.03 160.02,165.03 160.15,161.33 160.29,157.98 160.42,155.04 160.56,152.56 160.69,150.59 160.83,149.16 160.96,148.29 161.1,148 161.24,148.29 161.37,149.16 161.51,150.59 161.64,152.56 161.78,155.04 161.91,157.98 162.05,161.33 162.18,165.03 162.32,169.03 162.45,173.25 162.59,177.62 162.72,182.07 162.86,186.52 163,190.89 163.13,195.11 163.27,199.11 163.4,202.81 163.54,206.16 163.67,209.1 163.81,211.58 163.94,213.55 164.08,214.98 164.21,215.85 164.35,216.14 164.49,215.85 164.62,214.98 164.76,213.55 164.89,211.58 165.03,209.1 165.16,206.16 165.3,202.81 165.43,199.11 165.57,195.11 165.7,190.89 165.84,186.52 165.97,182.07 166.11,177.62 166.25,173.25 166.38,169.03 166.52,165.03 166.65,161.33 166.79,157.98 166.92,155.04 167.06,152.56 167.19,150.59 167.33,149.16 167.46,148.29 167.6,148 167.74,148.29 167.87,149.16 168.01,150.59 168.14,152.56 168.28,155.04 168.41,157.98 168.55,161.33 168.68,165.03 168.82,169.03 168.95,173.25 169.09,177.62 169.22,182.07 169.36,186.52 169.5,190.89 169.63,195.11 169.77,199.11 169.9,202.81 170.04,206.16 170.17,209.1 170.31,211.58 170.44,213.55 170.58,214.98 170.71,215.85 170.85,216.14 170.99,215.85 171.12,214.98 171.26,213.55 171.39,211.58 171.53,209.1 171.66,206.16 171.8,202.81 171.93,199.11 172.07,195.11 172.2,190.89 172.34,186.52 172.47,182.07 172.61,177.62 172.75,173.25 172.88,169.03 173.02,165.03 173.15,161.33 173.29,157.98 173.42,155.04 173.56,152.56 173.69,150.59 173.83,149.16 173.96,148.29 174.1,148 174.24,148.29 174.37,149.16 174.51,150.59 174.64,152.56 174.78,155.04 174.91,157.98 175.05,161.33 175.18,165.03 175.32,169.03 175.45,173.25 175.59,177.62 175.72,182.07 175.86,186.52 176,190.89 176.13,195.11 176.27,199.11 176.4,202.81 176.54,206.16 176.67,209.1 176.81,211.58 176.94,213.55 177.08,214.98 177.21,215.85 177.35,216.14 177.49,215.85 177.62,214.98 177.76,213.55 177.89,211.58 178.03,209.1 178.16,206.16 178.3,202.81 178.43,199.11 178.57,195.11 178.7,190.89 178.84,186.52 178.97,182.07 179.11,177.62 179.25,173.25 179.38,169.03 179.52,165.03 179.65,161.33 179.79,157.98 179.92,155.04 180.06,152.56 180.19,150.59 180.33,149.16 180.46,148.29 180.6,148 180.74,148.29 180.87,149.16 181.01,150.59 181.14,152.56 181.28,155.04 181.41,157.98 181.55,161.33 181.68,165.03 181.82,169.03 181.95,173.25 182.09,177.62 182.22,182.07 182.36,186.52 182.5,190.89 182.63,195.11 182.77,199.11 182.9,202.81 183.04,206.16 183.17,209.1 183.31,211.58 183.44,213.55 183.58,214.98 183.71,215.85 183.85,216.14 183.99,215.85 184.12,214.98 184.26,213.55 184.39,211.58 184.53,209.1 184.66,206.16 184.8,202.81 184.93,199.11 185.07,195.11 185.2,190.89 185.34,186.52 185.47,182.07 185.61,177.62 185.75,173.25 185.88,169.03 186.02,165.03 186.15,161.33 186.29,157.98 186.42,155.04 186.56,152.56 186.69,150.59 186.83,149.16 186.96,148.29 187.1,148 187.24,148.29 187.37,149.16 187.51,150.59 187.64,152.56 187.78,155.04 187.91,157.98 188.05,161.33 188.18,165.03 188.32,169.03 188.45,173.25 188.59,177.62 188.72,182.07 188.86,186.52 189,190.89 189.13,195.11 189.27,199.11 189.4,202.81 189.54,206.16 189.67,209.1 189.81,211.58 189.94,213.55 190.08,214.98 190.21,215.85 190.35,216.14 190.49,215.85 190.62,214.98 190.76,213.55 190.89,211.58 191.03,209.1 191.16,206.16 191.3,202.81 191.43,199.11 191.57,195.11 191.7,190.89 191.84,186.52 191.97,182.07 192.11,177.62 192.25,173.25 192.38,169.03 192.52,165.03 192.65,161.33 192.79,157.98 192.92,155.04 193.06,152.56 193.19,150.59 193.33,149.16 193.46,148.29 193.6,148 193.74,148.29 193.87,149.16 194.01,150.59 194.14,152.56 194.28,155.04 194.41,157.98 194.55,161.33 194.68,165.03 194.82,169.03 194.95,173.25 195.09,177.62 195.22,182.07 195.36,186.52 195.5,190.89 195.63,195.11 195.77,199.11 195.9,202.81 196.04,206.16 196.17,209.1 196.31,211.58 196.44,213.55 196.58,214.98 196.71,215.85 196.85,216.14 196.99,215.85 197.12,214.98 197.26,213.55 197.39,211.58 197.53,209.1 197.66,206.16 197.8,202.81 197.93,199.11 198.07,195.11 198.2,190.89 198.34,186.52 198.47,182.07 198.61,177.62 198.75,173.25 198.88,169.03 199.02,165.03 199.15,161.33 199.29,157.98 199.42,155.04 199.56,152.56 199.69,150.59 199.83,149.16 199.96,148.29 200.1,148 200.24,148.29 200.37,149.16 200.51,150.59 200.64,152.56 200.78,155.04 200.91,157.98 201.05,161.33 201.18,165.03 201.32,169.03 201.45,173.25 201.59,177.62 201.72,182.07 201.86,186.52 202,190.89 202.13,195.11 202.27,199.11 202.4,202.81 202.54,206.16 202.67,209.1 202.81,211.58 202.94,213.55 203.08,214.98 203.21,215.85 203.35,216.14 203.49,215.85 203.62,214.98 203.76,213.55 203.89,211.58 204.03,209.1 204.16,206.16 204.3,202.81 204.43,199.11 204.57,195.11 204.7,190.89 204.84,186.52 204.98,182.07 205.11,177.62 205.25,173.25 205.38,169.03 205.52,165.03 205.65,161.33 205.79,157.98 205.92,155.04 206.06,152.56 206.19,150.59 206.33,149.16 206.46,148.29 206.6,148 206.74,148.29 206.87,149.16 207.01,150.59 207.14,152.56 207.28,155.04 207.41,157.98 207.55,161.33 207.68,165.03 207.82,169.03 207.95,173.25 208.09,177.62 208.22,182.07 208.36,186.52 208.5,190.89 208.63,195.11 208.77,199.11 208.9,202.81 209.04,206.16 209.17,209.1 209.31,211.58 209.44,213.55 209.58,214.98 209.71,215.85 209.85,216.14 209.99,215.85 210.12,214.98 210.26,213.55 210.39,211.58 210.53,209.1 210.66,206.16 210.8,202.81 210.93,199.11 211.07,195.11 211.2,190.89 211.34,186.52 211.47,182.07 211.61,177.62 211.75,173.25 211.88,169.03 212.02,165.03 212.15,161.33 212.29,157.98 212.42,155.04 212.56,152.56 212.69,150.59 212.83,149.16 212.96,148.29 213.1,148 213.24,148.29 213.37,149.16 213.51,150.59 213.64,152.56 213.78,155.04 213.91,157.98 214.05,161.33 214.18,165.03 214.32,169.03 214.45,173.25 214.59,177.62 214.72,182.07 214.86,186.52 215,190.89 215.13,195.11 215.27,199.11 215.4,202.81 215.54,206.16 215.67,209.1 215.81,211.58 215.94,213.55 216.08,214.98 216.21,215.85 216.35,216.14 216.49,215.85 216.62,214.98 216.76,213.55 216.89,211.58 217.03,209.1 217.16,206.16 217.3,202.81 217.43,199.11 217.57,195.11 217.7,190.89 217.84,186.52 217.97,182.07 218.11,177.62 218.25,173.25 218.38,169.03 218.52,165.03 218.65,161.33 218.79,157.98 218.92,155.04 219.06,152.56 219.19,150.59 219.33,149.16 219.46,148.29 219.6,148 219.74,148.29 219.87,149.16 220.01,150.59 220.14,152.56 220.28,155.04 220.41,157.98 220.55,161.33 220.68,165.03 220.82,169.03 220.95,173.25 221.09,177.62 221.22,182.07 221.36,186.52 221.5,190.89 221.63,195.11 221.77,199.11 221.9,202.81 222.04,206.16 222.17,209.1 222.31,211.58 222.44,213.55 222.58,214.98 222.71,215.85 222.85,216.14 222.99,215.85 223.12,214.98 223.26,213.55 223.39,211.58 223.53,209.1 223.66,206.16 223.8,202.81 223.93,199.11 224.07,195.11 224.2,190.89 224.34,186.52 224.47,182.07 224.61,177.62 224.75,173.25 224.88,169.03 225.02,165.03 225.15,161.33 225.29,157.98 225.42,155.04 225.56,152.56 225.69,150.59 225.83,149.16 225.96,148.29 226.1,148 226.24,148.29 226.37,149.16 226.51,150.59 226.64,152.56 226.78,155.04 226.91,157.98 227.05,161.33 227.18,165.03 227.32,169.03 227.45,173.25 227.59,177.62 227.72,182.07 227.86,186.52 228,190.89 228.13,195.11 228.27,199.11 228.4,202.81 228.54,206.16 228.67,209.1 228.81,211.58 228.94,213.55 229.08,214.98 229.21,215.85 229.35,216.14 229.49,215.85 229.62,214.98 229.76,213.55 229.89,211.58 230.03,209.1 230.16,206.16 230.3,202.81 230.43,199.11 230.57,195.11 230.7,190.89 230.84,186.52 230.97,182.07 231.11,177.62 231.25,173.25 231.38,169.03 231.52,165.03 231.65,161.33 231.79,157.98 231.92,155.04 232.06,152.56 232.19,150.59 232.33,149.16 232.46,148.29 232.6,148 232.74,148.29 232.87,149.16 233.01,150.59 233.14,152.56 233.28,155.04 233.41,157.98 233.55,161.33 233.68,165.03 233.82,169.03 233.95,173.25 234.09,177.62 234.22,182.07 234.36,186.52 234.5,190.89 234.63,195.11 234.77,199.11 234.9,202.81 235.04,206.16 235.17,209.1 235.31,211.58 235.44,213.55 235.58,214.98 235.71,215.85 235.85,216.14 235.99,215.85 236.12,214.98 236.26,213.55 236.39,211.58 236.53,209.1 236.66,206.16 236.8,202.81 236.93,199.11 237.07,195.11 237.2,190.89 237.34,186.52 237.47,182.07 237.61,177.62 237.75,173.25 237.88,169.03 238.02,165.03 238.15,161.33 238.29,157.98 238.42,155.04 238.56,152.56 238.69,150.59 238.83,149.16 238.96,148.29 239.1,148 239.24,148.29 239.37,149.16 239.51,150.59 239.64,152.56 239.78,155.04 239.91,157.98 240.05,161.33 240.18,165.03 240.32,169.03 240.45,173.25 240.59,177.62 240.72,182.07 240.86,186.52 241,190.89 241.13,195.11 241.27,199.11 241.4,202.81 241.54,206.16 241.67,209.1 241.81,211.58 241.94,213.55 242.08,214.98 242.21,215.85 242.35,216.14 242.49,215.85 242.62,214.98 242.76,213.55 242.89,211.58 243.03,209.1 243.16,206.16 243.3,202.81 243.43,199.11 243.57,195.11 243.7,190.89 243.84,186.52 243.98,182.07 244.11,177.62 244.25,173.25 244.38,169.03 244.52,165.03 244.65,161.33 244.79,157.98 244.92,155.04 245.06,152.56 245.19,150.59 245.33,149.16 245.46,148.29 245.6,148 245.74,148.29 245.87,149.16 246.01,150.59 246.14,152.56 246.28,155.04 246.41,157.98 246.55,161.33 246.68,165.03 246.82,169.03 246.95,173.25 247.09,177.62 247.23,182.07 247.36,186.52 247.5,190.89 247.63,195.11 247.77,199.11 247.9,202.81 248.04,206.16 248.17,209.1 248.31,211.58 248.44,213.55 248.58,214.98 248.71,215.85 248.85,216.14 248.99,215.85 249.12,214.98 249.26,213.55 249.39,211.58 249.53,209.1 249.66,206.16 249.8,202.81 249.93,199.11 250.07,195.11 250.2,190.89 250.34,186.52 250.47,182.07 250.61,177.62 250.75,173.25 250.88,169.03 251.02,165.03 251.15,161.33 251.29,157.98 251.42,155.04 251.56,152.56 251.69,150.59 251.83,149.16 251.96,148.29 252.1,148 252.24,148.29 252.37,149.16 252.51,150.59 252.64,152.56 252.78,155.04 252.91,157.98 253.05,161.33 253.18,165.03 253.32,169.03 253.45,173.25 253.59,177.62 253.72,182.07 253.86,186.52 254,190.89 254.13,195.11 254.27,199.11 254.4,202.81 254.54,206.16 254.67,209.1 254.81,211.58 254.94,213.55 255.08,214.98 255.21,215.85 255.35,216.14 255.49,215.85 255.62,214.98 255.76,213.55 255.89,211.58 256.03,209.1 256.16,206.16 256.3,202.81 256.43,199.11 256.57,195.11 256.7,190.89 256.84,186.52 256.98,182.07 257.11,177.62 257.25,173.25 257.38,169.03 257.52,165.03 257.65,161.33 257.79,157.98 257.92,155.04 258.06,152.56 258.19,150.59 258.33,149.16 258.46,148.29 258.6,148 258.74,148.29 258.87,149.16 259.01,150.59 259.14,152.56 259.28,155.04 259.41,157.98 259.55,161.33 259.68,165.03 259.82,169.03 259.95,173.25 260.09,177.62 260.23,182.07 260.36,186.52 260.5,190.89 260.63,195.11 260.77,199.11 260.9,202.81 261.04,206.16 261.17,209.1 261.31,211.58 261.44,213.55 261.58,214.98 261.71,215.85 261.85,216.14 261.99,215.85 262.12,214.98 262.26,213.55 262.39,211.58 262.53,209.1 262.66,206.16 262.8,202.81 262.93,199.11 263.07,195.11 263.2,190.89 263.34,186.52 263.48,182.07 263.61,177.62 263.75,173.25 263.88,169.03 264.02,165.03 264.15,161.33 264.29,157.98 264.42,155.04 264.56,152.56 264.69,150.59 264.83,149.16 264.96,148.29 265.1,148 265.24,148.29 265.37,149.16 265.51,150.59 265.64,152.56 265.78,155.04 265.91,157.98 266.05,161.33 266.18,165.03 266.32,169.03 266.45,173.25 266.59,177.62 266.73,182.07 266.86,186.52 267,190.89 267.13,195.11 267.27,199.11 267.4,202.81 267.54,206.16 267.67,209.1 267.81,211.58 267.94,213.55 268.08,214.98 268.21,215.85 268.35,216.14 268.49,215.85 268.62,214.98 268.76,213.55 268.89,211.58 269.03,209.1 269.16,206.16 269.3,202.81 269.43,199.11 269.57,195.11 269.7,190.89 269.84,186.52 269.98,182.07 270.11,177.62 270.25,173.25 270.38,169.03 270.52,165.03 270.65,161.33 270.79,157.98 270.92,155.04 271.06,152.56 271.19,150.59 271.33,149.16 271.46,148.29 271.6,148 271.74,148.29 271.87,149.16 272.01,150.59 272.14,152.56 272.28,155.04 272.41,157.98 272.55,161.33 272.68,165.03 272.82,169.03 272.95,173.25 273.09,177.62 273.23,182.07 273.36,186.52 273.5,190.89 273.63,195.11 273.77,199.11 273.9,202.81 274.04,206.16 274.17,209.1 274.31,211.58 274.44,213.55 274.58,214.98 274.71,215.85 274.85,216.14 274.99,215.85 275.12,214.98 275.26,213.55 275.39,211.58 275.53,209.1 275.66,206.16 275.8,202.81 275.93,199.11 276.07,195.11 276.2,190.89 276.34,186.52 276.48,182.07 276.61,177.62 276.75,173.25 276.88,169.03 277.02,165.03 277.15,161.33 277.29,157.98 277.42,155.04 277.56,152.56 277.69,150.59 277.83,149.16 277.96,148.29 278.1,148 278.24,148.29 278.37,149.16 278.51,150.59 278.64,152.56 278.78,155.04 278.91,157.98 279.05,161.33 279.18,165.03 279.32,169.03 279.45,173.25 279.59,177.62 279.73,182.07 279.86,186.52 280,190.89 280.13,195.11 280.27,199.11 280.4,202.81 280.54,206.16 280.67,209.1 280.81,211.58 280.94,213.55 281.08,214.98 281.21,215.85 281.35,216.14 281.49,215.85 281.62,214.98 281.76,213.55 281.89,211.58 282.03,209.1 282.16,206.16 282.3,202.81 282.43,199.11 282.57,195.11 282.7,190.89 282.84,186.52 282.98,182.07 283.11,177.62 283.25,173.25 283.38,169.03 283.52,165.03 283.65,161.33 283.79,157.98 283.92,155.04 284.06,152.56 284.19,150.59 284.33,149.16 284.46,148.29 284.6,148 284.74,148.29 284.87,149.16 285.01,150.59 285.14,152.56 285.28,155.04 285.41,157.98 285.55,161.33 285.68,165.03 285.82,169.03 285.95,173.25 286.09,177.62 286.23,182.07 286.36,186.52 286.5,190.89 286.63,195.11 286.77,199.11 286.9,202.81 287.04,206.16 287.17,209.1 287.31,211.58 287.44,213.55 287.58,214.98 287.71,215.85 287.85,216.14 287.99,215.85 288.12,214.98 288.26,213.55 288.39,211.58 288.53,209.1 288.66,206.16 288.8,202.81 288.93,199.11 289.07,195.11 289.2,190.89 289.34,186.52 289.48,182.07 289.61,177.62 289.75,173.25 289.88,169.03 290.02,165.03 290.15,161.33 290.29,157.98 290.42,155.04 290.56,152.56 290.69,150.59 290.83,149.16 290.96,148.29 291.1,148 291.24,148.29 291.37,149.16 291.51,150.59 291.64,152.56 291.78,155.04 291.91,157.98 292.05,161.33 292.18,165.03 292.32,169.03 292.45,173.25 292.59,177.62 292.73,182.07 292.86,186.52 293,190.89 293.13,195.11 293.27,199.11 293.4,202.81 293.54,206.16 293.67,209.1 293.81,211.58 293.94,213.55 294.08,214.98 294.21,215.85 294.35,216.14 294.49,215.85 294.62,214.98 294.76,213.55 294.89,211.58 295.03,209.1 295.16,206.16 295.3,202.81 295.43,199.11 295.57,195.11 295.7,190.89 295.84,186.52 295.98,182.07 296.11,177.62 296.25,173.25 296.38,169.03 296.52,165.03 296.65,161.33 296.79,157.98 296.92,155.04 297.06,152.56 297.19,150.59 297.33,149.16 297.46,148.29 297.6,148 297.74,148.29 297.87,149.16 298.01,150.59 298.14,152.56 298.28,155.04 298.41,157.98 298.55,161.33 298.68,165.03 298.82,169.03 298.95,173.25 299.09,177.62 299.23,182.07 299.36,186.52 299.5,190.89 299.63,195.11 299.77,199.11 299.9,202.81 300.04,206.16 300.17,209.1 300.31,211.58 300.44,213.55 300.58,214.98 300.71,215.85 300.85,216.14 300.99,215.85 301.12,214.98 301.26,213.55 301.39,211.58 301.53,209.1 301.66,206.16 301.8,202.81 301.93,199.11 302.07,195.11 302.2,190.89 302.34,186.52 302.48,182.07 302.61,177.62 302.75,173.25 302.88,169.03 303.02,165.03 303.15,161.33 303.29,157.98 303.42,155.04 303.56,152.56 303.69,150.59 303.83,149.16 303.96,148.29 304.1,148 304.24,148.29 304.37,149.16 304.51,150.59 304.64,152.56 304.78,155.04 304.91,157.98 305.05,161.33 305.18,165.03 305.32,169.03 305.45,173.25 305.59,177.62 305.73,182.07 305.86,186.52 306,190.89 306.13,195.11 306.27,199.11 306.4,202.81 306.54,206.16 306.67,209.1 306.81,211.58 306.94,213.55 307.08,214.98 307.21,215.85 307.35,216.14 307.49,215.85 307.62,214.98 307.76,213.55 307.89,211.58 308.03,209.1 308.16,206.16 308.3,202.81 308.43,199.11 308.57,195.11 308.7,190.89 308.84,186.52 308.98,182.07 309.11,177.62 309.25,173.25 309.38,169.03 309.52,165.03 309.65,161.33 309.79,157.98 309.92,155.04 310.06,152.56 310.19,150.59 310.33,149.16 310.46,148.29 310.6,148 310.74,148.29 310.87,149.16 311.01,150.59 311.14,152.56 311.28,155.04 311.41,157.98 311.55,161.33 311.68,165.03 311.82,169.03 311.95,173.25 312.09,177.62 312.23,182.07 312.36,186.52 312.5,190.89 312.63,195.11 312.77,199.11 312.9,202.81 313.04,206.16 313.17,209.1 313.31,211.58 313.44,213.55 313.58,214.98 313.71,215.85 313.85,216.14 313.99,215.85 314.12,214.98 314.26,213.55 314.39,211.58 314.53,209.1 314.66,206.16 314.8,202.81 314.93,199.11 315.07,195.11 315.2,190.89 315.34,186.52 315.48,182.07 315.61,177.62 315.75,173.25 315.88,169.03 316.02,165.03 316.15,161.33 316.29,157.98 316.42,155.04 316.56,152.56 316.69,150.59 316.83,149.16 316.96,148.29 317.1,148 317.24,148.29 317.37,149.16 317.51,150.59 317.64,152.56 317.78,155.04 317.91,157.98 318.05,161.33 318.18,165.03 318.32,169.03 318.45,173.25 318.59,177.62 318.73,182.07 318.86,186.52 319,190.89 319.13,195.11 319.27,199.11 319.4,202.81 319.54,206.16 319.67,209.1 319.81,211.58 319.94,213.55 320.08,214.98 320.21,215.85 320.35,216.14 320.49,215.85 320.62,214.98 320.76,213.55 320.89,211.58 321.03,209.1 321.16,206.16 321.3,202.81 321.43,199.11 321.57,195.11 321.7,190.89 321.84,186.52 321.98,182.07 322.11,177.62 322.25,173.25 322.38,169.03 322.52,165.03 322.65,161.33 322.79,157.98 322.92,155.04 323.06,152.56 323.19,150.59 323.33,149.16 323.46,148.29 323.6,148 323.74,148.29 323.87,149.16 324.01,150.59 324.14,152.56 324.28,155.04 324.41,157.98 324.55,161.33 324.68,165.03 324.82,169.03 324.95,173.25 325.09,177.62 325.23,182.07 325.36,186.52 325.5,190.89 325.63,195.11 325.77,199.11 325.9,202.81 326.04,206.16 326.17,209.1 326.31,211.58 326.44,213.55 326.58,214.98 326.71,215.85 326.85,216.14 326.99,215.85 327.12,214.98 327.26,213.55 327.39,211.58 327.53,209.1 327.66,206.16 327.8,202.81 327.93,199.11 328.07,195.11 328.2,190.89 328.34,186.52 328.48,182.07 328.61,177.62 328.75,173.25 328.88,169.03 329.02,165.03 329.15,161.33 329.29,157.98 329.42,155.04 329.56,152.56 329.69,150.59 329.83,149.16 329.96,148.29 330.1,148 330.24,148.29 330.37,149.16 330.51,150.59 330.64,152.56 330.78,155.04 330.91,157.98 331.05,161.33 331.18,165.03 331.32,169.03 331.45,173.25 331.59,177.62 331.73,182.07 331.86,186.52 332,190.89 332.13,195.11 332.27,199.11 332.4,202.81 332.54,206.16 332.67,209.1 332.81,211.58 332.94,213.55 333.08,214.98 333.21,215.85 333.35,216.14 333.49,215.85 333.62,214.98 333.76,213.55 333.89,211.58 334.03,209.1 334.16,206.16 334.3,202.81 334.43,199.11 334.57,195.11 334.7,190.89 334.84,186.52 334.98,182.07 335.11,177.62 335.25,173.25 335.38,169.03 335.52,165.03 335.65,161.33 335.79,157.98 335.92,155.04 336.06,152.56 336.19,150.59 336.33,149.16 336.46,148.29 336.6,148 336.74,148.29 336.87,149.16 337.01,150.59 337.14,152.56 337.28,155.04 337.41,157.98 337.55,161.33 337.68,165.03 337.82,169.03 337.95,173.25 338.09,177.62 338.23,182.07 338.36,186.52 338.5,190.89 338.63,195.11 338.77,199.11 338.9,202.81 339.04,206.16 339.17,209.1 339.31,211.58 339.44,213.55 339.58,214.98 339.71,215.85 339.85,216.14 339.99,215.85 340.12,214.98 340.26,213.55 340.39,211.58 340.53,209.1 340.66,206.16 340.8,202.81 340.93,199.11 341.07,195.11 341.2,190.89 341.34,186.52 341.48,182.07 341.61,177.62 341.75,173.25 341.88,169.03 342.02,165.03 342.15,161.33 342.29,157.98 342.42,155.04 342.56,152.56 342.69,150.59 342.83,149.16 342.96,148.29 343.1,148 343.24,148.29 343.37,149.16 343.51,150.59 343.64,152.56 343.78,155.04 343.91,157.98 344.05,161.33 344.18,165.03 344.32,169.03 344.45,173.25 344.59,177.62 344.73,182.07 344.86,186.52 345,190.89 345.13,195.11 345.27,199.11 345.4,202.81 345.54,206.16 345.67,209.1 345.81,211.58 345.94,213.55 346.08,214.98 346.21,215.85 346.35,216.14 346.49,215.85 346.62,214.98 346.76,213.55 346.89,211.58 347.03,209.1 347.16,206.16 347.3,202.81 347.43,199.11 347.57,195.11 347.7,190.89 347.84,186.52 347.98,182.07 348.11,177.62 348.25,173.25 348.38,169.03 348.52,165.03 348.65,161.33 348.79,157.98 348.92,155.04 349.06,152.56 349.19,150.59 349.33,149.16 349.46,148.29 349.6,148" fill="none" stroke="#0072BD" stroke-width="0.6" stroke-linejoin="round"/>
<polyline points="24.6,199.11 24.74,195.11 24.87,190.89 25.01,186.52 25.14,182.07 25.28,177.62 25.41,173.25 25.55,169.03 25.68,165.03 25.82,161.33 25.95,157.98 26.09,155.04 26.23,152.56 26.36,150.59 26.5,149.16 26.63,148.29 26.77,148 26.9,148.29 27.04,149.16 27.17,150.59 27.31,152.56 27.44,155.04 27.58,157.98 27.71,161.33 27.85,165.03 27.99,169.03 28.12,173.25 28.26,177.62 28.39,182.07 28.53,186.52 28.66,190.89 28.8,195.11 28.93,199.11 29.07,202.81 29.2,206.16 29.34,209.1 29.48,211.58 29.61,213.55 29.75,214.98 29.88,215.85 30.02,216.14 30.15,215.85 30.29,214.98 30.42,213.55 30.56,211.58 30.69,209.1 30.83,206.16 30.96,202.81 31.1,199.11 31.24,195.11 31.37,190.89 31.51,186.52 31.64,182.07 31.78,177.62 31.91,173.25 32.05,169.03 32.18,165.03 32.32,161.33 32.45,157.98 32.59,155.04 32.73,152.56 32.86,150.59 33,149.16 33.13,148.29 33.27,148 33.4,148.29 33.54,149.16 33.67,150.59 33.81,152.56 33.94,155.04 34.08,157.98 34.21,161.33 34.35,165.03 34.49,169.03 34.62,173.25 34.76,177.62 34.89,182.07 35.03,186.52 35.16,190.89 35.3,195.11 35.43,199.11 35.57,202.81 35.7,206.16 35.84,209.1 35.98,211.58 36.11,213.55 36.25,214.98 36.38,215.85 36.52,216.14 36.65,215.85 36.79,214.98 36.92,213.55 37.06,211.58 37.19,209.1 37.33,206.16 37.46,202.81 37.6,199.11 37.74,195.11 37.87,190.89 38.01,186.52 38.14,182.07 38.28,177.62 38.41,173.25 38.55,169.03 38.68,165.03 38.82,161.33 38.95,157.98 39.09,155.04 39.23,152.56 39.36,150.59 39.5,149.16 39.63,148.29 39.77,148 39.9,148.29 40.04,149.16 40.17,150.59 40.31,152.56 40.44,155.04 40.58,157.98 40.71,161.33 40.85,165.03 40.99,169.03 41.12,173.25 41.26,177.62 41.39,182.07 41.53,186.52 41.66,190.89 41.8,195.11 41.93,199.11 42.07,202.81 42.2,206.16 42.34,209.1 42.48,211.58 42.61,213.55 42.75,214.98 42.88,215.85 43.02,216.14 43.15,215.85 43.29,214.98 43.42,213.55 43.56,211.58 43.69,209.1 43.83,206.16 43.96,202.81 44.1,199.11 44.24,195.11 44.37,190.89 44.51,186.52 44.64,182.07 44.78,177.62 44.91,173.25 45.05,169.03 45.18,165.03 45.32,161.33 45.45,157.98 45.59,155.04 45.73,152.56 45.86,150.59 46,149.16 46.13,148.29 46.27,148 46.4,148.29 46.54,149.16 46.67,150.59 46.81,152.56 46.94,155.04 47.08,157.98 47.21,161.33 47.35,165.03 47.49,169.03 47.62,173.25 47.76,177.62 47.89,182.07 48.03,186.52 48.16,190.89 48.3,195.11 48.43,199.11 48.57,202.81 48.7,206.16 48.84,209.1 48.98,211.58 49.11,213.55 49.25,214.98 49.38,215.85 49.52,216.14 49.65,215.85 49.79,214.98 49.92,213.55 50.06,211.58 50.19,209.1 50.33,206.16 50.46,202.81 50.6,199.11 50.74,195.11 50.87,190.89 51.01,186.52 51.14,182.07 51.28,177.62 51.41,173.25 51.55,169.03 51.68,165.03 51.82,161.33 51.95,157.98 52.09,155.04 52.23,152.56 52.36,150.59 52.5,149.16 52.63,148.29 52.77,148 52.9,148.29 53.04,149.16 53.17,150.59 53.31,152.56 53.44,155.04 53.58,157.98 53.71,161.33 53.85,165.03 53.99,169.03 54.12,173.25 54.26,177.62 54.39,182.07 54.53,186.52 54.66,190.89 54.8,195.11 54.93,199.11 55.07,202.81 55.2,206.16 55.34,209.1 55.48,211.58 55.61,213.55 55.75,214.98 55.88,215.85 56.02,216.14 56.15,215.85 56.29,214.98 56.42,213.55 56.56,211.58 56.69,209.1 56.83,206.16 56.96,202.81 57.1,199.11 57.24,195.11 57.37,190.89 57.51,186.52 57.64,182.07 57.78,177.62 57.91,173.25 58.05,169.03 58.18,165.03 58.32,161.33 58.45,157.98 58.59,155.04 58.73,152.56 58.86,150.59 59,149.16 59.13,148.29 59.27,148 59.4,148.29 59.54,149.16 59.67,150.59 59.81,152.56 59.94,155.04 60.08,157.98 60.21,161.33 60.35,165.03 60.49,169.03 60.62,173.25 60.76,177.62 60.89,182.07 61.03,186.52 61.16,190.89 61.3,195.11 61.43,199.11 61.57,202.81 61.7,206.16 61.84,209.1 61.98,211.58 62.11,213.55 62.25,214.98 62.38,215.85 62.52,216.14 62.65,215.85 62.79,214.98 62.92,213.55 63.06,211.58 63.19,209.1 63.33,206.16 63.46,202.81 63.6,199.11 63.74,195.11 63.87,190.89 64.01,186.52 64.14,182.07 64.28,177.62 64.41,173.25 64.55,169.03 64.68,165.03 64.82,161.33 64.95,157.98 65.09,155.04 65.22,152.56 65.36,150.59 65.5,149.16 65.63,148.29 65.77,148 65.9,148.29 66.04,149.16 66.17,150.59 66.31,152.56 66.44,155.04 66.58,157.98 66.71,161.33 66.85,165.03 66.99,169.03 67.12,173.25 67.26,177.62 67.39,182.07 67.53,186.52 67.66,190.89 67.8,195.11 67.93,199.11 68.07,202.81 68.2,206.16 68.34,209.1 68.47,211.58 68.61,213.55 68.75,214.98 68.88,215.85 69.02,216.14 69.15,215.85 69.29,214.98 69.42,213.55 69.56,211.58 69.69,209.1 69.83,206.16 69.96,202.81 70.1,199.11 70.24,195.11 70.37,190.89 70.51,186.52 70.64,182.07 70.78,177.62 70.91,173.25 71.05,169.03 71.18,165.03 71.32,161.33 71.45,157.98 71.59,155.04 71.72,152.56 71.86,150.59 72,149.16 72.13,148.29 72.27,148 72.4,148.29 72.54,149.16 72.67,150.59 72.81,152.56 72.94,155.04 73.08,157.98 73.21,161.33 73.35,165.03 73.49,169.03 73.62,173.25 73.76,177.62 73.89,182.07 74.03,186.52 74.16,190.89 74.3,195.11 74.43,199.11 74.57,202.81 74.7,206.16 74.84,209.1 74.97,211.58 75.11,213.55 75.25,214.98 75.38,215.85 75.52,216.14 75.65,215.85 75.79,214.98 75.92,213.55 76.06,211.58 76.19,209.1 76.33,206.16 76.46,202.81 76.6,199.11 76.74,195.11 76.87,190.89 77.01,186.52 77.14,182.07 77.28,177.62 77.41,173.25 77.55,169.03 77.68,165.03 77.82,161.33 77.95,157.98 78.09,155.04 78.22,152.56 78.36,150.59 78.5,149.16 78.63,148.29 78.77,148 78.9,148.29 79.04,149.16 79.17,150.59 79.31,152.56 79.44,155.04 79.58,157.98 79.71,161.33 79.85,165.03 79.99,169.03 80.12,173.25 80.26,177.62 80.39,182.07 80.53,186.52 80.66,190.89 80.8,195.11 80.93,199.11 81.07,202.81 81.2,206.16 81.34,209.1 81.47,211.58 81.61,213.55 81.75,214.98 81.88,215.85 82.02,216.14 82.15,215.85 82.29,214.98 82.42,213.55 82.56,211.58 82.69,209.1 82.83,206.16 82.96,202.81 83.1,199.11 83.24,195.11 83.37,190.89 83.51,186.52 83.64,182.07 83.78,177.62 83.91,173.25 84.05,169.03 84.18,165.03 84.32,161.33 84.45,157.98 84.59,155.04 84.72,152.56 84.86,150.59 85,149.16 85.13,148.29 85.27,148 85.4,148.29 85.54,149.16 85.67,150.59 85.81,152.56 85.94,155.04 86.08,157.98 86.21,161.33 86.35,165.03 86.49,169.03 86.62,173.25 86.76,177.62 86.89,182.07 87.03,186.52 87.16,190.89 87.3,195.11 87.43,199.11 87.57,202.81 87.7,206.16 87.84,209.1 87.97,211.58 88.11,213.55 88.25,214.98 88.38,215.85 88.52,216.14 88.65,215.85 88.79,214.98 88.92,213.55 89.06,211.58 89.19,209.1 89.33,206.16 89.46,202.81 89.6,199.11 89.74,195.11 89.87,190.89 90.01,186.52 90.14,182.07 90.28,177.62 90.41,173.25 90.55,169.03 90.68,165.03 90.82,161.33 90.95,157.98 91.09,155.04 91.22,152.56 91.36,150.59 91.5,149.16 91.63,148.29 91.77,148 91.9,148.29 92.04,149.16 92.17,150.59 92.31,152.56 92.44,155.04 92.58,157.98 92.71,161.33 92.85,165.03 92.99,169.03 93.12,173.25 93.26,177.62 93.39,182.07 93.53,186.52 93.66,190.89 93.8,195.11 93.93,199.11 94.07,202.81 94.2,206.16 94.34,209.1 94.47,211.58 94.61,213.55 94.75,214.98 94.88,215.85 95.02,216.14 95.15,215.85 95.29,214.98 95.42,213.55 95.56,211.58 95.69,209.1 95.83,206.16 95.96,202.81 96.1,199.11 96.24,195.11 96.37,190.89 96.51,186.52 96.64,182.07 96.78,177.62 96.91,173.25 97.05,169.03 97.18,165.03 97.32,161.33 97.45,157.98 97.59,155.04 97.72,152.56 97.86,150.59 98,149.16 98.13,148.29 98.27,148 98.4,148.29 98.54,149.16 98.67,150.59 98.81,152.56 98.94,155.04 99.08,157.98 99.21,161.33 99.35,165.03 99.49,169.03 99.62,173.25 99.76,177.62 99.89,182.07 100.03,186.52 100.16,190.89 100.3,195.11 100.43,199.11 100.57,202.81 100.7,206.16 100.84,209.1 100.97,211.58 101.11,213.55 101.25,214.98 101.38,215.85 101.52,216.14 101.65,215.85 101.79,214.98 101.92,213.55 102.06,211.58 102.19,209.1 102.33,206.16 102.46,202.81 102.6,199.11 102.74,195.11 102.87,190.89 103.01,186.52 103.14,182.07 103.28,177.62 103.41,173.25 103.55,169.03 103.68,165.03 103.82,161.33 103.95,157.98 104.09,155.04 104.22,152.56 104.36,150.59 104.5,149.16 104.63,148.29 104.77,148 104.9,148.29 105.04,149.16 105.17,150.59 105.31,152.56 105.44,155.04 105.58,157.98 105.71,161.33 105.85,165.03 105.99,169.03 106.12,173.25 106.26,177.62 106.39,182.07 106.53,186.52 106.66,190.89 106.8,195.11 106.93,199.11 107.07,202.81 107.2,206.16 107.34,209.1 107.47,211.58 107.61,213.55 107.75,214.98 107.88,215.85 108.02,216.14 108.15,215.85 108.29,214.98 108.42,213.55 108.56,211.58 108.69,209.1 108.83,206.16 108.96,202.81 109.1,199.11 109.24,195.11 109.37,190.89 109.51,186.52 109.64,182.07 109.78,177.62 109.91,173.25 110.05,169.03 110.18,165.03 110.32,161.33 110.45,157.98 110.59,155.04 110.72,152.56 110.86,150.59 111,149.16 111.13,148.29 111.27,148 111.4,148.29 111.54,149.16 111.67,150.59 111.81,152.56 111.94,155.04 112.08,157.98 112.21,161.33 112.35,165.03 112.49,169.03 112.62,173.25 112.76,177.62 112.89,182.07 113.03,186.52 113.16,190.89 113.3,195.11 113.43,199.11 113.57,202.81 113.7,206.16 113.84,209.1 113.98,211.58 114.11,213.55 114.25,214.98 114.38,215.85 114.52,216.14 114.65,215.85 114.79,214.98 114.92,213.55 115.06,211.58 115.19,209.1 115.33,206.16 115.46,202.81 115.6,199.11 115.74,195.11 115.87,190.89 116.01,186.52 116.14,182.07 116.28,177.62 116.41,173.25 116.55,169.03 116.68,165.03 116.82,161.33 116.95,157.98 117.09,155.04 117.22,152.56 117.36,150.59 117.5,149.16 117.63,148.29 117.77,148 117.9,148.29 118.04,149.16 118.17,150.59 118.31,152.56 118.44,155.04 118.58,157.98 118.71,161.33 118.85,165.03 118.99,169.03 119.12,173.25 119.26,177.62 119.39,182.07 119.53,186.52 119.66,190.89 119.8,195.11 119.93,199.11 120.07,202.81 120.2,206.16 120.34,209.1 120.47,211.58 120.61,213.55 120.75,214.98 120.88,215.85 121.02,216.14 121.15,215.85 121.29,214.98 121.42,213.55 121.56,211.58 121.69,209.1 121.83,206.16 121.96,202.81 122.1,199.11 122.24,195.11 122.37,190.89 122.51,186.52 122.64,182.07 122.78,177.62 122.91,173.25 123.05,169.03 123.18,165.03 123.32,161.33 123.45,157.98 123.59,155.04 123.72,152.56 123.86,150.59 124,149.16 124.13,148.29 124.27,148 124.4,148.29 124.54,149.16 124.67,150.59 124.81,152.56 124.94,155.04 125.08,157.98 125.21,161.33 125.35,165.03 125.49,169.03 125.62,173.25 125.76,177.62 125.89,182.07 126.03,186.52 126.16,190.89 126.3,195.11 126.43,199.11 126.57,202.81 126.7,206.16 126.84,209.1 126.97,211.58 127.11,213.55 127.25,214.98 127.38,215.85 127.52,216.14 127.65,215.85 127.79,214.98 127.92,213.55 128.06,211.58 128.19,209.1 128.33,206.16 128.46,202.81 128.6,199.11 128.74,195.11 128.87,190.89 129.01,186.52 129.14,182.07 129.28,177.62 129.41,173.25 129.55,169.03 129.68,165.03 129.82,161.33 129.95,157.98 130.09,155.04 130.22,152.56 130.36,150.59 130.5,149.16 130.63,148.29 130.77,148 130.9,148.29 131.04,149.16 131.17,150.59 131.31,152.56 131.44,155.04 131.58,157.98 131.71,161.33 131.85,165.03 131.99,169.03 132.12,173.25 132.26,177.62 132.39,182.07 132.53,186.52 132.66,190.89 132.8,195.11 132.93,199.11 133.07,202.81 133.2,206.16 133.34,209.1 133.47,211.58 133.61,213.55 133.75,214.98 133.88,215.85 134.02,216.14 134.15,215.85 134.29,214.98 134.42,213.55 134.56,211.58 134.69,209.1 134.83,206.16 134.96,202.81 135.1,199.11 135.24,195.11 135.37,190.89 135.51,186.52 135.64,182.07 135.78,177.62 135.91,173.25 136.05,169.03 136.18,165.03 136.32,161.33 136.45,157.98 136.59,155.04 136.72,152.56 136.86,150.59 137,149.16 137.13,148.29 137.27,148 137.4,148.29 137.54,149.16 137.67,150.59 137.81,152.56 137.94,155.04 138.08,157.98 138.21,161.33 138.35,165.03 138.49,169.03 138.62,173.25 138.76,177.62 138.89,182.07 139.03,186.52 139.16,190.89 139.3,195.11 139.43,199.11 139.57,202.81 139.7,206.16 139.84,209.1 139.97,211.58 140.11,213.55 140.25,214.98 140.38,215.85 140.52,216.14 140.65,215.85 140.79,214.98 140.92,213.55 141.06,211.58 141.19,209.1 141.33,206.16 141.46,202.81 141.6,199.11 141.74,195.11 141.87,190.89 142.01,186.52 142.14,182.07 142.28,177.62 142.41,173.25 142.55,169.03 142.68,165.03 142.82,161.33 142.95,157.98 143.09,155.04 143.22,152.56 143.36,150.59 143.5,149.16 143.63,148.29 143.77,148 143.9,148.29 144.04,149.16 144.17,150.59 144.31,152.56 144.44,155.04 144.58,157.98 144.71,161.33 144.85,165.03 144.99,169.03 145.12,173.25 145.26,177.62 145.39,182.07 145.53,186.52 145.66,190.89 145.8,195.11 145.93,199.11 146.07,202.81 146.2,206.16 146.34,209.1 146.47,211.58 146.61,213.55 146.75,214.98 146.88,215.85 147.02,216.14 147.15,215.85 147.29,214.98 147.42,213.55 147.56,211.58 147.69,209.1 147.83,206.16 147.96,202.81 148.1,199.11 148.24,195.11 148.37,190.89 148.51,186.52 148.64,182.07 148.78,177.62 148.91,173.25 149.05,169.03 149.18,165.03 149.32,161.33 149.45,157.98 149.59,155.04 149.72,152.56 149.86,150.59 150,149.16 150.13,148.29 150.27,148 150.4,148.29 150.54,149.16 150.67,150.59 150.81,152.56 150.94,155.04 151.08,157.98 151.21,161.33 151.35,165.03 151.49,169.03 151.62,173.25 151.76,177.62 151.89,182.07 152.03,186.52 152.16,190.89 152.3,195.11 152.43,199.11 152.57,202.81 152.7,206.16 152.84,209.1 152.97,211.58 153.11,213.55 153.25,214.98 153.38,215.85 153.52,216.14 153.65,215.85 153.79,214.98 153.92,213.55 154.06,211.58 154.19,209.1 154.33,206.16 154.46,202.81 154.6,199.11 154.74,195.11 154.87,190.89 155.01,186.52 155.14,182.07 155.28,177.62 155.41,173.25 155.55,169.03 155.68,165.03 155.82,161.33 155.95,157.98 156.09,155.04 156.22,152.56 156.36,150.59 156.5,149.16 156.63,148.29 156.77,148 156.9,148.29 157.04,149.16 157.17,150.59 157.31,152.56 157.44,155.04 157.58,157.98 157.71,161.33 157.85,165.03 157.99,169.03 158.12,173.25 158.26,177.62 158.39,182.07 158.53,186.52 158.66,190.89 158.8,195.11 158.93,199.11 159.07,202.81 159.2,206.16 159.34,209.1 159.47,211.58 159.61,213.55 159.75,214.98 159.88,215.85 160.02,216.14 160.15,215.85 160.29,214.98 160.42,213.55 160.56,211.58 160.69,209.1 160.83,206.16 160.96,202.81 161.1,199.11 161.24,195.11 161.37,190.89 161.51,186.52 161.64,182.07 161.78,177.62 161.91,173.25 162.05,169.03 162.18,165.03 162.32,161.33 162.45,157.98 162.59,155.04 162.72,152.56 162.86,150.59 163,149.16 163.13,148.29 163.27,148 163.4,148.29 163.54,149.16 163.67,150.59 163.81,152.56 163.94,155.04 164.08,157.98 164.21,161.33 164.35,165.03 164.49,169.03 164.62,173.25 164.76,177.62 164.89,182.07 165.03,186.52 165.16,190.89 165.3,195.11 165.43,199.11 165.57,202.81 165.7,206.16 165.84,209.1 165.97,211.58 166.11,213.55 166.25,214.98 166.38,215.85 166.52,216.14 166.65,215.85 166.79,214.98 166.92,213.55 167.06,211.58 167.19,209.1 167.33,206.16 167.46,202.81 167.6,199.11 167.74,195.11 167.87,190.89 168.01,186.52 168.14,182.07 168.28,177.62 168.41,173.25 168.55,169.03 168.68,165.03 168.82,161.33 168.95,157.98 169.09,155.04 169.22,152.56 169.36,150.59 169.5,149.16 169.63,148.29 169.77,148 169.9,148.29 170.04,149.16 170.17,150.59 170.31,152.56 170.44,155.04 170.58,157.98 170.71,161.33 170.85,165.03 170.99,169.03 171.12,173.25 171.26,177.62 171.39,182.07 171.53,186.52 171.66,190.89 171.8,195.11 171.93,199.11 172.07,202.81 172.2,206.16 172.34,209.1 172.47,211.58 172.61,213.55 172.75,214.98 172.88,215.85 173.02,216.14 173.15,215.85 173.29,214.98 173.42,213.55 173.56,211.58 173.69,209.1 173.83,206.16 173.96,202.81 174.1,199.11 174.24,195.11 174.37,190.89 174.51,186.52 174.64,182.07 174.78,177.62 174.91,173.25 175.05,169.03 175.18,165.03 175.32,161.33 175.45,157.98 175.59,155.04 175.72,152.56 175.86,150.59 176,149.16 176.13,148.29 176.27,148 176.4,148.29 176.54,149.16 176.67,150.59 176.81,152.56 176.94,155.04 177.08,157.98 177.21,161.33 177.35,165.03 177.49,169.03 177.62,173.25 177.76,177.62 177.89,182.07 178.03,186.52 178.16,190.89 178.3,195.11 178.43,199.11 178.57,202.81 178.7,206.16 178.84,209.1 178.97,211.58 179.11,213.55 179.25,214.98 179.38,215.85 179.52,216.14 179.65,215.85 179.79,214.98 179.92,213.55 180.06,211.58 180.19,209.1 180.33,206.16 180.46,202.81 180.6,199.11 180.74,195.11 180.87,190.89 181.01,186.52 181.14,182.07 181.28,177.62 181.41,173.25 181.55,169.03 181.68,165.03 181.82,161.33 181.95,157.98 182.09,155.04 182.22,152.56 182.36,150.59 182.5,149.16 182.63,148.29 182.77,148 182.9,148.29 183.04,149.16 183.17,150.59 183.31,152.56 183.44,155.04 183.58,157.98 183.71,161.33 183.85,165.03 183.99,169.03 184.12,173.25 184.26,177.62 184.39,182.07 184.53,186.52 184.66,190.89 184.8,195.11 184.93,199.11 185.07,202.81 185.2,206.16 185.34,209.1 185.47,211.58 185.61,213.55 185.75,214.98 185.88,215.85 186.02,216.14 186.15,215.85 186.29,214.98 186.42,213.55 186.56,211.58 186.69,209.1 186.83,206.16 186.96,202.81 187.1,199.11 187.24,195.11 187.37,190.89 187.51,186.52 187.64,182.07 187.78,177.62 187.91,173.25 188.05,169.03 188.18,165.03 188.32,161.33 188.45,157.98 188.59,155.04 188.72,152.56 188.86,150.59 189,149.16 189.13,148.29 189.27,148 189.4,148.29 189.54,149.16 189.67,150.59 189.81,152.56 189.94,155.04 190.08,157.98 190.21,161.33 190.35,165.03 190.49,169.03 190.62,173.25 190.76,177.62 190.89,182.07 191.03,186.52 191.16,190.89 191.3,195.11 191.43,199.11 191.57,202.81 191.7,206.16 191.84,209.1 191.97,211.58 192.11,213.55 192.25,214.98 192.38,215.85 192.52,216.14 192.65,215.85 192.79,214.98 192.92,213.55 193.06,211.58 193.19,209.1 193.33,206.16 193.46,202.81 193.6,199.11 193.74,195.11 193.87,190.89 194.01,186.52 194.14,182.07 194.28,177.62 194.41,173.25 194.55,169.03 194.68,165.03 194.82,161.33 194.95,157.98 195.09,155.04 195.22,152.56 195.36,150.59 195.5,149.16 195.63,148.29 195.77,148 195.9,148.29 196.04,149.16 196.17,150.59 196.31,152.56 196.44,155.04 196.58,157.98 196.71,161.33 196.85,165.03 196.99,169.03 197.12,173.25 197.26,177.62 197.39,182.07 197.53,186.52 197.66,190.89 197.8,195.11 197.93,199.11 198.07,202.81 198.2,206.16 198.34,209.1 198.47,211.58 198.61,213.55 198.75,214.98 198.88,215.85 199.02,216.14 199.15,215.85 199.29,214.98 199.42,213.55 199.56,211.58 199.69,209.1 199.83,206.16 199.96,202.81 200.1,199.11 200.24,195.11 200.37,190.89 200.51,186.52 200.64,182.07 200.78,177.62 200.91,173.25 201.05,169.03 201.18,165.03 201.32,161.33 201.45,157.98 201.59,155.04 201.72,152.56 201.86,150.59 202,149.16 202.13,148.29 202.27,148 202.4,148.29 202.54,149.16 202.67,150.59 202.81,152.56 202.94,155.04 203.08,157.98 203.21,161.33 203.35,165.03 203.49,169.03 203.62,173.25 203.76,177.62 203.89,182.07 204.03,186.52 204.16,190.89 204.3,195.11 204.43,199.11 204.57,202.81 204.7,206.16 204.84,209.1 204.98,211.58 205.11,213.55 205.25,214.98 205.38,215.85 205.52,216.14 205.65,215.85 205.79,214.98 205.92,213.55 206.06,211.58 206.19,209.1 206.33,206.16 206.46,202.81 206.6,199.11 206.74,195.11 206.87,190.89 207.01,186.52 207.14,182.07 207.28,177.62 207.41,173.25 207.55,169.03 207.68,165.03 207.82,161.33 207.95,157.98 208.09,155.04 208.22,152.56 208.36,150.59 208.5,149.16 208.63,148.29 208.77,148 208.9,148.29 209.04,149.16 209.17,150.59 209.31,152.56 209.44,155.04 209.58,157.98 209.71,161.33 209.85,165.03 209.99,169.03 210.12,173.25 210.26,177.62 210.39,182.07 210.53,186.52 210.66,190.89 210.8,195.11 210.93,199.11 211.07,202.81 211.2,206.16 211.34,209.1 211.47,211.58 211.61,213.55 211.75,214.98 211.88,215.85 212.02,216.14 212.15,215.85 212.29,214.98 212.42,213.55 212.56,211.58 212.69,209.1 212.83,206.16 212.96,202.81 213.1,199.11 213.24,195.11 213.37,190.89 213.51,186.52 213.64,182.07 213.78,177.62 213.91,173.25 214.05,169.03 214.18,165.03 214.32,161.33 214.45,157.98 214.59,155.04 214.72,152.56 214.86,150.59 215,149.16 215.13,148.29 215.27,148 215.4,148.29 215.54,149.16 215.67,150.59 215.81,152.56 215.94,155.04 216.08,157.98 216.21,161.33 216.35,165.03 216.49,169.03 216.62,173.25 216.76,177.62 216.89,182.07 217.03,186.52 217.16,190.89 217.3,195.11 217.43,199.11 217.57,202.81 217.7,206.16 217.84,209.1 217.97,211.58 218.11,213.55 218.25,214.98 218.38,215.85 218.52,216.14 218.65,215.85 218.79,214.98 218.92,213.55 219.06,211.58 219.19,209.1 219.33,206.16 219.46,202.81 219.6,199.11 219.74,195.11 219.87,190.89 220.01,186.52 220.14,182.07 220.28,177.62 220.41,173.25 220.55,169.03 220.68,165.03 220.82,161.33 220.95,157.98 221.09,155.04 221.22,152.56 221.36,150.59 221.5,149.16 221.63,148.29 221.77,148 221.9,148.29 222.04,149.16 222.17,150.59 222.31,152.56 222.44,155.04 222.58,157.98 222.71,161.33 222.85,165.03 222.99,169.03 223.12,173.25 223.26,177.62 223.39,182.07 223.53,186.52 223.66,190.89 223.8,195.11 223.93,199.11 224.07,202.81 224.2,206.16 224.34,209.1 224.47,211.58 224.61,213.55 224.75,214.98 224.88,215.85 225.02,216.14 225.15,215.85 225.29,214.98 225.42,213.55 225.56,211.58 225.69,209.1 225.83,206.16 225.96,202.81 226.1,199.11 226.24,195.11 226.37,190.89 226.51,186.52 226.64,182.07 226.78,177.62 226.91,173.25 227.05,169.03 227.18,165.03 227.32,161.33 227.45,157.98 227.59,155.04 227.72,152.56 227.86,150.59 228,149.16 228.13,148.29 228.27,148 228.4,148.29 228.54,149.16 228.67,150.59 228.81,152.56 228.94,155.04 229.08,157.98 229.21,161.33 229.35,165.03 229.49,169.03 229.62,173.25 229.76,177.62 229.89,182.07 230.03,186.52 230.16,190.89 230.3,195.11 230.43,199.11 230.57,202.81 230.7,206.16 230.84,209.1 230.97,211.58 231.11,213.55 231.25,214.98 231.38,215.85 231.52,216.14 231.65,215.85 231.79,214.98 231.92,213.55 232.06,211.58 232.19,209.1 232.33,206.16 232.46,202.81 232.6,199.11 232.74,195.11 232.87,190.89 233.01,186.52 233.14,182.07 233.28,177.62 233.41,173.25 233.55,169.03 233.68,165.03 233.82,161.33 233.95,157.98 234.09,155.04 234.22,152.56 234.36,150.59 234.5,149.16 234.63,148.29 234.77,148 234.9,148.29 235.04,149.16 235.17,150.59 235.31,152.56 235.44,155.04 235.58,157.98 235.71,161.33 235.85,165.03 235.99,169.03 236.12,173.25 236.26,177.62 236.39,182.07 236.53,186.52 236.66,190.89 236.8,195.11 236.93,199.11 237.07,202.81 237.2,206.16 237.34,209.1 237.47,211.58 237.61,213.55 237.75,214.98 237.88,215.85 238.02,216.14 238.15,215.85 238.29,214.98 238.42,213.55 238.56,211.58 238.69,209.1 238.83,206.16 238.96,202.81 239.1,199.11 239.24,195.11 239.37,190.89 239.51,186.52 239.64,182.07 239.78,177.62 239.91,173.25 240.05,169.03 240.18,165.03 240.32,161.33 240.45,157.98 240.59,155.04 240.72,152.56 240.86,150.59 241,149.16 241.13,148.29 241.27,148 241.4,148.29 241.54,149.16 241.67,150.59 241.81,152.56 241.94,155.04 242.08,157.98 242.21,161.33 242.35,165.03 242.49,169.03 242.62,173.25 242.76,177.62 242.89,182.07 243.03,186.52 243.16,190.89 243.3,195.11 243.43,199.11 243.57,202.81 243.7,206.16 243.84,209.1 243.98,211.58 244.11,213.55 244.25,214.98 244.38,215.85 244.52,216.14 244.65,215.85 244.79,214.98 244.92,213.55 245.06,211.58 245.19,209.1 245.33,206.16 245.46,202.81 245.6,199.11 245.74,195.11 245.87,190.89 246.01,186.52 246.14,182.07 246.28,177.62 246.41,173.25 246.55,169.03 246.68,165.03 246.82,161.33 246.95,157.98 247.09,155.04 247.23,152.56 247.36,150.59 247.5,149.16 247.63,148.29 247.77,148 247.9,148.29 248.04,149.16 248.17,150.59 248.31,152.56 248.44,155.04 248.58,157.98 248.71,161.33 248.85,165.03 248.99,169.03 249.12,173.25 249.26,177.62 249.39,182.07 249.53,186.52 249.66,190.89 249.8,195.11 249.93,199.11 250.07,202.81 250.2,206.16 250.34,209.1 250.47,211.58 250.61,213.55 250.75,214.98 250.88,215.85 251.02,216.14 251.15,215.85 251.29,214.98 251.42,213.55 251.56,211.58 251.69,209.1 251.83,206.16 251.96,202.81 252.1,199.11 252.24,195.11 252.37,190.89 252.51,186.52 252.64,182.07 252.78,177.62 252.91,173.25 253.05,169.03 253.18,165.03 253.32,161.33 253.45,157.98 253.59,155.04 253.72,152.56 253.86,150.59 254,149.16 254.13,148.29 254.27,148 254.4,148.29 254.54,149.16 254.67,150.59 254.81,152.56 254.94,155.04 255.08,157.98 255.21,161.33 255.35,165.03 255.49,169.03 255.62,173.25 255.76,177.62 255.89,182.07 256.03,186.52 256.16,190.89 256.3,195.11 256.43,199.11 256.57,202.81 256.7,206.16 256.84,209.1 256.98,211.58 257.11,213.55 257.25,214.98 257.38,215.85 257.52,216.14 257.65,215.85 257.79,214.98 257.92,213.55 258.06,211.58 258.19,209.1 258.33,206.16 258.46,202.81 258.6,199.11 258.74,195.11 258.87,190.89 259.01,186.52 259.14,182.07 259.28,177.62 259.41,173.25 259.55,169.03 259.68,165.03 259.82,161.33 259.95,157.98 260.09,155.04 260.23,152.56 260.36,150.59 260.5,149.16 260.63,148.29 260.77,148 260.9,148.29 261.04,149.16 261.17,150.59 261.31,152.56 261.44,155.04 261.58,157.98 261.71,161.33 261.85,165.03 261.99,169.03 262.12,173.25 262.26,177.62 262.39,182.07 262.53,186.52 262.66,190.89 262.8,195.11 262.93,199.11 263.07,202.81 263.2,206.16 263.34,209.1 263.48,211.58 263.61,213.55 263.75,214.98 263.88,215.85 264.02,216.14 264.15,215.85 264.29,214.98 264.42,213.55 264.56,211.58 264.69,209.1 264.83,206.16 264.96,202.81 265.1,199.11 265.24,195.11 265.37,190.89 265.51,186.52 265.64,182.07 265.78,177.62 265.91,173.25 266.05,169.03 266.18,165.03 266.32,161.33 266.45,157.98 266.59,155.04 266.73,152.56 266.86,150.59 267,149.16 267.13,148.29 267.27,148 267.4,148.29 267.54,149.16 267.67,150.59 267.81,152.56 267.94,155.04 268.08,157.98 268.21,161.33 268.35,165.03 268.49,169.03 268.62,173.25 268.76,177.62 268.89,182.07 269.03,186.52 269.16,190.89 269.3,195.11 269.43,199.11 269.57,202.81 269.7,206.16 269.84,209.1 269.98,211.58 270.11,213.55 270.25,214.98 270.38,215.85 270.52,216.14 270.65,215.85 270.79,214.98 270.92,213.55 271.06,211.58 271.19,209.1 271.33,206.16 271.46,202.81 271.6,199.11 271.74,195.11 271.87,190.89 272.01,186.52 272.14,182.07 272.28,177.62 272.41,173.25 272.55,169.03 272.68,165.03 272.82,161.33 272.95,157.98 273.09,155.04 273.23,152.56 273.36,150.59 273.5,149.16 273.63,148.29 273.77,148 273.9,148.29 274.04,149.16 274.17,150.59 274.31,152.56 274.44,155.04 274.58,157.98 274.71,161.33 274.85,165.03 274.99,169.03 275.12,173.25 275.26,177.62 275.39,182.07 275.53,186.52 275.66,190.89 275.8,195.11 275.93,199.11 276.07,202.81 276.2,206.16 276.34,209.1 276.48,211.58 276.61,213.55 276.75,214.98 276.88,215.85 277.02,216.14 277.15,215.85 277.29,214.98 277.42,213.55 277.56,211.58 277.69,209.1 277.83,206.16 277.96,202.81 278.1,199.11 278.24,195.11 278.37,190.89 278.51,186.52 278.64,182.07 278.78,177.62 278.91,173.25 279.05,169.03 279.18,165.03 279.32,161.33 279.45,157.98 279.59,155.04 279.73,152.56 279.86,150.59 280,149.16 280.13,148.29 280.27,148 280.4,148.29 280.54,149.16 280.67,150.59 280.81,152.56 280.94,155.04 281.08,157.98 281.21,161.33 281.35,165.03 281.49,169.03 281.62,173.25 281.76,177.62 281.89,182.07 282.03,186.52 282.16,190.89 282.3,195.11 282.43,199.11 282.57,202.81 282.7,206.16 282.84,209.1 282.98,211.58 283.11,213.55 283.25,214.98 283.38,215.85 283.52,216.14 283.65,215.85 283.79,214.98 283.92,213.55 284.06,211.58 284.19,209.1 284.33,206.16 284.46,202.81 284.6,199.11 284.74,195.11 284.87,190.89 285.01,186.52 285.14,182.07 285.28,177.62 285.41,173.25 285.55,169.03 285.68,165.03 285.82,161.33 285.95,157.98 286.09,155.04 286.23,152.56 286.36,150.59 286.5,149.16 286.63,148.29 286.77,148 286.9,148.29 287.04,149.16 287.17,150.59 287.31,152.56 287.44,155.04 287.58,157.98 287.71,161.33 287.85,165.03 287.99,169.03 288.12,173.25 288.26,177.62 288.39,182.07 288.53,186.52 288.66,190.89 288.8,195.11 288.93,199.11 289.07,202.81 289.2,206.16 289.34,209.1 289.48,211.58 289.61,213.55 289.75,214.98 289.88,215.85 290.02,216.14 290.15,215.85 290.29,214.98 290.42,213.55 290.56,211.58 290.69,209.1 290.83,206.16 290.96,202.81 291.1,199.11 291.24,195.11 291.37,190.89 291.51,186.52 291.64,182.07 291.78,177.62 291.91,173.25 292.05,169.03 292.18,165.03 292.32,161.33 292.45,157.98 292.59,155.04 292.73,152.56 292.86,150.59 293,149.16 293.13,148.29 293.27,148 293.4,148.29 293.54,149.16 293.67,150.59 293.81,152.56 293.94,155.04 294.08,157.98 294.21,161.33 294.35,165.03 294.49,169.03 294.62,173.25 294.76,177.62 294.89,182.07 295.03,186.52 295.16,190.89 295.3,195.11 295.43,199.11 295.57,202.81 295.7,206.16 295.84,209.1 295.98,211.58 296.11,213.55 296.25,214.98 296.38,215.85 296.52,216.14 296.65,215.85 296.79,214.98 296.92,213.55 297.06,211.58 297.19,209.1 297.33,206.16 297.46,202.81 297.6,199.11 297.74,195.11 297.87,190.89 298.01,186.52 298.14,182.07 298.28,177.62 298.41,173.25 298.55,169.03 298.68,165.03 298.82,161.33 298.95,157.98 299.09,155.04 299.23,152.56 299.36,150.59 299.5,149.16 299.63,148.29 299.77,148 299.9,148.29 300.04,149.16 300.17,150.59 300.31,152.56 300.44,155.04 300.58,157.98 300.71,161.33 300.85,165.03 300.99,169.03 301.12,173.25 301.26,177.62 301.39,182.07 301.53,186.52 301.66,190.89 301.8,195.11 301.93,199.11 302.07,202.81 302.2,206.16 302.34,209.1 302.48,211.58 302.61,213.55 302.75,214.98 302.88,215.85 303.02,216.14 303.15,215.85 303.29,214.98 303.42,213.55 303.56,211.58 303.69,209.1 303.83,206.16 303.96,202.81 304.1,199.11 304.24,195.11 304.37,190.89 304.51,186.52 304.64,182.07 304.78,177.62 304.91,173.25 305.05,169.03 305.18,165.03 305.32,161.33 305.45,157.98 305.59,155.04 305.73,152.56 305.86,150.59 306,149.16 306.13,148.29 306.27,148 306.4,148.29 306.54,149.16 306.67,150.59 306.81,152.56 306.94,155.04 307.08,157.98 307.21,161.33 307.35,165.03 307.49,169.03 307.62,173.25 307.76,177.62 307.89,182.07 308.03,186.52 308.16,190.89 308.3,195.11 308.43,199.11 308.57,202.81 308.7,206.16 308.84,209.1 308.98,211.58 309.11,213.55 309.25,214.98 309.38,215.85 309.52,216.14 309.65,215.85 309.79,214.98 309.92,213.55 310.06,211.58 310.19,209.1 310.33,206.16 310.46,202.81 310.6,199.11 310.74,195.11 310.87,190.89 311.01,186.52 311.14,182.07 311.28,177.62 311.41,173.25 311.55,169.03 311.68,165.03 311.82,161.33 311.95,157.98 312.09,155.04 312.23,152.56 312.36,150.59 312.5,149.16 312.63,148.29 312.77,148 312.9,148.29 313.04,149.16 313.17,150.59 313.31,152.56 313.44,155.04 313.58,157.98 313.71,161.33 313.85,165.03 313.99,169.03 314.12,173.25 314.26,177.62 314.39,182.07 314.53,186.52 314.66,190.89 314.8,195.11 314.93,199.11 315.07,202.81 315.2,206.16 315.34,209.1 315.48,211.58 315.61,213.55 315.75,214.98 315.88,215.85 316.02,216.14 316.15,215.85 316.29,214.98 316.42,213.55 316.56,211.58 316.69,209.1 316.83,206.16 316.96,202.81 317.1,199.11 317.24,195.11 317.37,190.89 317.51,186.52 317.64,182.07 317.78,177.62 317.91,173.25 318.05,169.03 318.18,165.03 318.32,161.33 318.45,157.98 318.59,155.04 318.73,152.56 318.86,150.59 319,149.16 319.13,148.29 319.27,148 319.4,148.29 319.54,149.16 319.67,150.59 319.81,152.56 319.94,155.04 320.08,157.98 320.21,161.33 320.35,165.03 320.49,169.03 320.62,173.25 320.76,177.62 320.89,182.07 321.03,186.52 321.16,190.89 321.3,195.11 321.43,199.11 321.57,202.81 321.7,206.16 321.84,209.1 321.98,211.58 322.11,213.55 322.25,214.98 322.38,215.85 322.52,216.14 322.65,215.85 322.79,214.98 322.92,213.55 323.06,211.58 323.19,209.1 323.33,206.16 323.46,202.81 323.6,199.11 323.74,195.11 323.87,190.89 324.01,186.52 324.14,182.07 324.28,177.62 324.41,173.25 324.55,169.03 324.68,165.03 324.82,161.33 324.95,157.98 325.09,155.04 325.23,152.56 325.36,150.59 325.5,149.16 325.63,148.29 325.77,148 325.9,148.29 326.04,149.16 326.17,150.59 326.31,152.56 326.44,155.04 326.58,157.98 326.71,161.33 326.85,165.03 326.99,169.03 327.12,173.25 327.26,177.62 327.39,182.07 327.53,186.52 327.66,190.89 327.8,195.11 327.93,199.11 328.07,202.81 328.2,206.16 328.34,209.1 328.48,211.58 328.61,213.55 328.75,214.98 328.88,215.85 329.02,216.14 329.15,215.85 329.29,214.98 329.42,213.55 329.56,211.58 329.69,209.1 329.83,206.16 329.96,202.81 330.1,199.11 330.24,195.11 330.37,190.89 330.51,186.52 330.64,182.07 330.78,177.62 330.91,173.25 331.05,169.03 331.18,165.03 331.32,161.33 331.45,157.98 331.59,155.04 331.73,152.56 331.86,150.59 332,149.16 332.13,148.29 332.27,148 332.4,148.29 332.54,149.16 332.67,150.59 332.81,152.56 332.94,155.04 333.08,157.98 333.21,161.33 333.35,165.03 333.49,169.03 333.62,173.25 333.76,177.62 333.89,182.07 334.03,186.52 334.16,190.89 334.3,195.11 334.43,199.11 334.57,202.81 334.7,206.16 334.84,209.1 334.98,211.58 335.11,213.55 335.25,214.98 335.38,215.85 335.52,216.14 335.65,215.85 335.79,214.98 335.92,213.55 336.06,211.58 336.19,209.1 336.33,206.16 336.46,202.81 336.6,199.11 336.74,195.11 336.87,190.89 337.01,186.52 337.14,182.07 337.28,177.62 337.41,173.25 337.55,169.03 337.68,165.03 337.82,161.33 337.95,157.98 338.09,155.04 338.23,152.56 338.36,150.59 338.5,149.16 338.63,148.29 338.77,148 338.9,148.29 339.04,149.16 339.17,150.59 339.31,152.56 339.44,155.04 339.58,157.98 339.71,161.33 339.85,165.03 339.99,169.03 340.12,173.25 340.26,177.62 340.39,182.07 340.53,186.52 340.66,190.89 340.8,195.11 340.93,199.11 341.07,202.81 341.2,206.16 341.34,209.1 341.48,211.58 341.61,213.55 341.75,214.98 341.88,215.85 342.02,216.14 342.15,215.85 342.29,214.98 342.42,213.55 342.56,211.58 342.69,209.1 342.83,206.16 342.96,202.81 343.1,199.11 343.24,195.11 343.37,190.89 343.51,186.52 343.64,182.07 343.78,177.62 343.91,173.25 344.05,169.03 344.18,165.03 344.32,161.33 344.45,157.98 344.59,155.04 344.73,152.56 344.86,150.59 345,149.16 345.13,148.29 345.27,148 345.4,148.29 345.54,149.16 345.67,150.59 345.81,152.56 345.94,155.04 346.08,157.98 346.21,161.33 346.35,165.03 346.49,169.03 346.62,173.25 346.76,177.62 346.89,182.07 347.03,186.52 347.16,190.89 347.3,195.11 347.43,199.11 347.57,202.81 347.7,206.16 347.84,209.1 347.98,211.58 348.11,213.55 348.25,214.98 348.38,215.85 348.52,216.14 348.65,215.85 348.79,214.98 348.92,213.55 349.06,211.58 349.19,209.1 349.33,206.16 349.46,202.81 349.6,199.11" fill="none" stroke="#D95319" stroke-width="0.6" stroke-linejoin="round"/>
<polyline points="24.6,199.11 24.74,202.81 24.87,206.16 25.01,209.1 25.14,211.58 25.28,213.55 25.41,214.98 25.55,215.85 25.68,216.14 25.82,215.85 25.95,214.98 26.09,213.55 26.23,211.58 26.36,209.1 26.5,206.16 26.63,202.81 26.77,199.11 26.9,195.11 27.04,190.89 27.17,186.52 27.31,182.07 27.44,177.62 27.58,173.25 27.71,169.03 27.85,165.03 27.99,161.33 28.12,157.98 28.26,155.04 28.39,152.56 28.53,150.59 28.66,149.16 28.8,148.29 28.93,148 29.07,148.29 29.2,149.16 29.34,150.59 29.48,152.56 29.61,155.04 29.75,157.98 29.88,161.33 30.02,165.03 30.15,169.03 30.29,173.25 30.42,177.62 30.56,182.07 30.69,186.52 30.83,190.89 30.96,195.11 31.1,199.11 31.24,202.81 31.37,206.16 31.51,209.1 31.64,211.58 31.78,213.55 31.91,214.98 32.05,215.85 32.18,216.14 32.32,215.85 32.45,214.98 32.59,213.55 32.73,211.58 32.86,209.1 33,206.16 33.13,202.81 33.27,199.11 33.4,195.11 33.54,190.89 33.67,186.52 33.81,182.07 33.94,177.62 34.08,173.25 34.21,169.03 34.35,165.03 34.49,161.33 34.62,157.98 34.76,155.04 34.89,152.56 35.03,150.59 35.16,149.16 35.3,148.29 35.43,148 35.57,148.29 35.7,149.16 35.84,150.59 35.98,152.56 36.11,155.04 36.25,157.98 36.38,161.33 36.52,165.03 36.65,169.03 36.79,173.25 36.92,177.62 37.06,182.07 37.19,186.52 37.33,190.89 37.46,195.11 37.6,199.11 37.74,202.81 37.87,206.16 38.01,209.1 38.14,211.58 38.28,213.55 38.41,214.98 38.55,215.85 38.68,216.14 38.82,215.85 38.95,214.98 39.09,213.55 39.23,211.58 39.36,209.1 39.5,206.16 39.63,202.81 39.77,199.11 39.9,195.11 40.04,190.89 40.17,186.52 40.31,182.07 40.44,177.62 40.58,173.25 40.71,169.03 40.85,165.03 40.99,161.33 41.12,157.98 41.26,155.04 41.39,152.56 41.53,150.59 41.66,149.16 41.8,148.29 41.93,148 42.07,148.29 42.2,149.16 42.34,150.59 42.48,152.56 42.61,155.04 42.75,157.98 42.88,161.33 43.02,165.03 43.15,169.03 43.29,173.25 43.42,177.62 43.56,182.07 43.69,186.52 43.83,190.89 43.96,195.11 44.1,199.11 44.24,202.81 44.37,206.16 44.51,209.1 44.64,211.58 44.78,213.55 44.91,214.98 45.05,215.85 45.18,216.14 45.32,215.85 45.45,214.98 45.59,213.55 45.73,211.58 45.86,209.1 46,206.16 46.13,202.81 46.27,199.11 46.4,195.11 46.54,190.89 46.67,186.52 46.81,182.07 46.94,177.62 47.08,173.25 47.21,169.03 47.35,165.03 47.49,161.33 47.62,157.98 47.76,155.04 47.89,152.56 48.03,150.59 48.16,149.16 48.3,148.29 48.43,148 48.57,148.29 48.7,149.16 48.84,150.59 48.98,152.56 49.11,155.04 49.25,157.98 49.38,161.33 49.52,165.03 49.65,169.03 49.79,173.25 49.92,177.62 50.06,182.07 50.19,186.52 50.33,190.89 50.46,195.11 50.6,199.11 50.74,202.81 50.87,206.16 51.01,209.1 51.14,211.58 51.28,213.55 51.41,214.98 51.55,215.85 51.68,216.14 51.82,215.85 51.95,214.98 52.09,213.55 52.23,211.58 52.36,209.1 52.5,206.16 52.63,202.81 52.77,199.11 52.9,195.11 53.04,190.89 53.17,186.52 53.31,182.07 53.44,177.62 53.58,173.25 53.71,169.03 53.85,165.03 53.99,161.33 54.12,157.98 54.26,155.04 54.39,152.56 54.53,150.59 54.66,149.16 54.8,148.29 54.93,148 55.07,148.29 55.2,149.16 55.34,150.59 55.48,152.56 55.61,155.04 55.75,157.98 55.88,161.33 56.02,165.03 56.15,169.03 56.29,173.25 56.42,177.62 56.56,182.07 56.69,186.52 56.83,190.89 56.96,195.11 57.1,199.11 57.24,202.81 57.37,206.16 57.51,209.1 57.64,211.58 57.78,213.55 57.91,214.98 58.05,215.85 58.18,216.14 58.32,215.85 58.45,214.98 58.59,213.55 58.73,211.58 58.86,209.1 59,206.16 59.13,202.81 59.27,199.11 59.4,195.11 59.54,190.89 59.67,186.52 59.81,182.07 59.94,177.62 60.08,173.25 60.21,169.03 60.35,165.03 60.49,161.33 60.62,157.98 60.76,155.04 60.89,152.56 61.03,150.59 61.16,149.16 61.3,148.29 61.43,148 61.57,148.29 61.7,149.16 61.84,150.59 61.98,152.56 62.11,155.04 62.25,157.98 62.38,161.33 62.52,165.03 62.65,169.03 62.79,173.25 62.92,177.62 63.06,182.07 63.19,186.52 63.33,190.89 63.46,195.11 63.6,199.11 63.74,202.81 63.87,206.16 64.01,209.1 64.14,211.58 64.28,213.55 64.41,214.98 64.55,215.85 64.68,216.14 64.82,215.85 64.95,214.98 65.09,213.55 65.22,211.58 65.36,209.1 65.5,206.16 65.63,202.81 65.77,199.11 65.9,195.11 66.04,190.89 66.17,186.52 66.31,182.07 66.44,177.62 66.58,173.25 66.71,169.03 66.85,165.03 66.99,161.33 67.12,157.98 67.26,155.04 67.39,152.56 67.53,150.59 67.66,149.16 67.8,148.29 67.93,148 68.07,148.29 68.2,149.16 68.34,150.59 68.47,152.56 68.61,155.04 68.75,157.98 68.88,161.33 69.02,165.03 69.15,169.03 69.29,173.25 69.42,177.62 69.56,182.07 69.69,186.52 69.83,190.89 69.96,195.11 70.1,199.11 70.24,202.81 70.37,206.16 70.51,209.1 70.64,211.58 70.78,213.55 70.91,214.98 71.05,215.85 71.18,216.14 71.32,215.85 71.45,214.98 71.59,213.55 71.72,211.58 71.86,209.1 72,206.16 72.13,202.81 72.27,199.11 72.4,195.11 72.54,190.89 72.67,186.52 72.81,182.07 72.94,177.62 73.08,173.25 73.21,169.03 73.35,165.03 73.49,161.33 73.62,157.98 73.76,155.04 73.89,152.56 74.03,150.59 74.16,149.16 74.3,148.29 74.43,148 74.57,148.29 74.7,149.16 74.84,150.59 74.97,152.56 75.11,155.04 75.25,157.98 75.38,161.33 75.52,165.03 75.65,169.03 75.79,173.25 75.92,177.62 76.06,182.07 76.19,186.52 76.33,190.89 76.46,195.11 76.6,199.11 76.74,202.81 76.87,206.16 77.01,209.1 77.14,211.58 77.28,213.55 77.41,214.98 77.55,215.85 77.68,216.14 77.82,215.85 77.95,214.98 78.09,213.55 78.22,211.58 78.36,209.1 78.5,206.16 78.63,202.81 78.77,199.11 78.9,195.11 79.04,190.89 79.17,186.52 79.31,182.07 79.44,177.62 79.58,173.25 79.71,169.03 79.85,165.03 79.99,161.33 80.12,157.98 80.26,155.04 80.39,152.56 80.53,150.59 80.66,149.16 80.8,148.29 80.93,148 81.07,148.29 81.2,149.16 81.34,150.59 81.47,152.56 81.61,155.04 81.75,157.98 81.88,161.33 82.02,165.03 82.15,169.03 82.29,173.25 82.42,177.62 82.56,182.07 82.69,186.52 82.83,190.89 82.96,195.11 83.1,199.11 83.24,202.81 83.37,206.16 83.51,209.1 83.64,211.58 83.78,213.55 83.91,214.98 84.05,215.85 84.18,216.14 84.32,215.85 84.45,214.98 84.59,213.55 84.72,211.58 84.86,209.1 85,206.16 85.13,202.81 85.27,199.11 85.4,195.11 85.54,190.89 85.67,186.52 85.81,182.07 85.94,177.62 86.08,173.25 86.21,169.03 86.35,165.03 86.49,161.33 86.62,157.98 86.76,155.04 86.89,152.56 87.03,150.59 87.16,149.16 87.3,148.29 87.43,148 87.57,148.29 87.7,149.16 87.84,150.59 87.97,152.56 88.11,155.04 88.25,157.98 88.38,161.33 88.52,165.03 88.65,169.03 88.79,173.25 88.92,177.62 89.06,182.07 89.19,186.52 89.33,190.89 89.46,195.11 89.6,199.11 89.74,202.81 89.87,206.16 90.01,209.1 90.14,211.58 90.28,213.55 90.41,214.98 90.55,215.85 90.68,216.14 90.82,215.85 90.95,214.98 91.09,213.55 91.22,211.58 91.36,209.1 91.5,206.16 91.63,202.81 91.77,199.11 91.9,195.11 92.04,190.89 92.17,186.52 92.31,182.07 92.44,177.62 92.58,173.25 92.71,169.03 92.85,165.03 92.99,161.33 93.12,157.98 93.26,155.04 93.39,152.56 93.53,150.59 93.66,149.16 93.8,148.29 93.93,148 94.07,148.29 94.2,149.16 94.34,150.59 94.47,152.56 94.61,155.04 94.75,157.98 94.88,161.33 95.02,165.03 95.15,169.03 95.29,173.25 95.42,177.62 95.56,182.07 95.69,186.52 95.83,190.89 95.96,195.11 96.1,199.11 96.24,202.81 96.37,206.16 96.51,209.1 96.64,211.58 96.78,213.55 96.91,214.98 97.05,215.85 97.18,216.14 97.32,215.85 97.45,214.98 97.59,213.55 97.72,211.58 97.86,209.1 98,206.16 98.13,202.81 98.27,199.11 98.4,195.11 98.54,190.89 98.67,186.52 98.81,182.07 98.94,177.62 99.08,173.25 99.21,169.03 99.35,165.03 99.49,161.33 99.62,157.98 99.76,155.04 99.89,152.56 100.03,150.59 100.16,149.16 100.3,148.29 100.43,148 100.57,148.29 100.7,149.16 100.84,150.59 100.97,152.56 101.11,155.04 101.25,157.98 101.38,161.33 101.52,165.03 101.65,169.03 101.79,173.25 101.92,177.62 102.06,182.07 102.19,186.52 102.33,190.89 102.46,195.11 102.6,199.11 102.74,202.81 102.87,206.16 103.01,209.1 103.14,211.58 103.28,213.55 103.41,214.98 103.55,215.85 103.68,216.14 103.82,215.85 103.95,214.98 104.09,213.55 104.22,211.58 104.36,209.1 104.5,206.16 104.63,202.81 104.77,199.11 104.9,195.11 105.04,190.89 105.17,186.52 105.31,182.07 105.44,177.62 105.58,173.25 105.71,169.03 105.85,165.03 105.99,161.33 106.12,157.98 106.26,155.04 106.39,152.56 106.53,150.59 106.66,149.16 106.8,148.29 106.93,148 107.07,148.29 107.2,149.16 107.34,150.59 107.47,152.56 107.61,155.04 107.75,157.98 107.88,161.33 108.02,165.03 108.15,169.03 108.29,173.25 108.42,177.62 108.56,182.07 108.69,186.52 108.83,190.89 108.96,195.11 109.1,199.11 109.24,202.81 109.37,206.16 109.51,209.1 109.64,211.58 109.78,213.55 109.91,214.98 110.05,215.85 110.18,216.14 110.32,215.85 110.45,214.98 110.59,213.55 110.72,211.58 110.86,209.1 111,206.16 111.13,202.81 111.27,199.11 111.4,195.11 111.54,190.89 111.67,186.52 111.81,182.07 111.94,177.62 112.08,173.25 112.21,169.03 112.35,165.03 112.49,161.33 112.62,157.98 112.76,155.04 112.89,152.56 113.03,150.59 113.16,149.16 113.3,148.29 113.43,148 113.57,148.29 113.7,149.16 113.84,150.59 113.98,152.56 114.11,155.04 114.25,157.98 114.38,161.33 114.52,165.03 114.65,169.03 114.79,173.25 114.92,177.62 115.06,182.07 115.19,186.52 115.33,190.89 115.46,195.11 115.6,199.11 115.74,202.81 115.87,206.16 116.01,209.1 116.14,211.58 116.28,213.55 116.41,214.98 116.55,215.85 116.68,216.14 116.82,215.85 116.95,214.98 117.09,213.55 117.22,211.58 117.36,209.1 117.5,206.16 117.63,202.81 117.77,199.11 117.9,195.11 118.04,190.89 118.17,186.52 118.31,182.07 118.44,177.62 118.58,173.25 118.71,169.03 118.85,165.03 118.99,161.33 119.12,157.98 119.26,155.04 119.39,152.56 119.53,150.59 119.66,149.16 119.8,148.29 119.93,148 120.07,148.29 120.2,149.16 120.34,150.59 120.47,152.56 120.61,155.04 120.75,157.98 120.88,161.33 121.02,165.03 121.15,169.03 121.29,173.25 121.42,177.62 121.56,182.07 121.69,186.52 121.83,190.89 121.96,195.11 122.1,199.11 122.24,202.81 122.37,206.16 122.51,209.1 122.64,211.58 122.78,213.55 122.91,214.98 123.05,215.85 123.18,216.14 123.32,215.85 123.45,214.98 123.59,213.55 123.72,211.58 123.86,209.1 124,206.16 124.13,202.81 124.27,199.11 124.4,195.11 124.54,190.89 124.67,186.52 124.81,182.07 124.94,177.62 125.08,173.25 125.21,169.03 125.35,165.03 125.49,161.33 125.62,157.98 125.76,155.04 125.89,152.56 126.03,150.59 126.16,149.16 126.3,148.29 126.43,148 126.57,148.29 126.7,149.16 126.84,150.59 126.97,152.56 127.11,155.04 127.25,157.98 127.38,161.33 127.52,165.03 127.65,169.03 127.79,173.25 127.92,177.62 128.06,182.07 128.19,186.52 128.33,190.89 128.46,195.11 128.6,199.11 128.74,202.81 128.87,206.16 129.01,209.1 129.14,211.58 129.28,213.55 129.41,214.98 129.55,215.85 129.68,216.14 129.82,215.85 129.95,214.98 130.09,213.55 130.22,211.58 130.36,209.1 130.5,206.16 130.63,202.81 130.77,199.11 130.9,195.11 131.04,190.89 131.17,186.52 131.31,182.07 131.44,177.62 131.58,173.25 131.71,169.03 131.85,165.03 131.99,161.33 132.12,157.98 132.26,155.04 132.39,152.56 132.53,150.59 132.66,149.16 132.8,148.29 132.93,148 133.07,148.29 133.2,149.16 133.34,150.59 133.47,152.56 133.61,155.04 133.75,157.98 133.88,161.33 134.02,165.03 134.15,169.03 134.29,173.25 134.42,177.62 134.56,182.07 134.69,186.52 134.83,190.89 134.96,195.11 135.1,199.11 135.24,202.81 135.37,206.16 135.51,209.1 135.64,211.58 135.78,213.55 135.91,214.98 136.05,215.85 136.18,216.14 136.32,215.85 136.45,214.98 136.59,213.55 136.72,211.58 136.86,209.1 137,206.16 137.13,202.81 137.27,199.11 137.4,195.11 137.54,190.89 137.67,186.52 137.81,182.07 137.94,177.62 138.08,173.25 138.21,169.03 138.35,165.03 138.49,161.33 138.62,157.98 138.76,155.04 138.89,152.56 139.03,150.59 139.16,149.16 139.3,148.29 139.43,148 139.57,148.29 139.7,149.16 139.84,150.59 139.97,152.56 140.11,155.04 140.25,157.98 140.38,161.33 140.52,165.03 140.65,169.03 140.79,173.25 140.92,177.62 141.06,182.07 141.19,186.52 141.33,190.89 141.46,195.11 141.6,199.11 141.74,202.81 141.87,206.16 142.01,209.1 142.14,211.58 142.28,213.55 142.41,214.98 142.55,215.85 142.68,216.14 142.82,215.85 142.95,214.98 143.09,213.55 143.22,211.58 143.36,209.1 143.5,206.16 143.63,202.81 143.77,199.11 143.9,195.11 144.04,190.89 144.17,186.52 144.31,182.07 144.44,177.62 144.58,173.25 144.71,169.03 144.85,165.03 144.99,161.33 145.12,157.98 145.26,155.04 145.39,152.56 145.53,150.59 145.66,149.16 145.8,148.29 145.93,148 146.07,148.29 146.2,149.16 146.34,150.59 146.47,152.56 146.61,155.04 146.75,157.98 146.88,161.33 147.02,165.03 147.15,169.03 147.29,173.25 147.42,177.62 147.56,182.07 147.69,186.52 147.83,190.89 147.96,195.11 148.1,199.11 148.24,202.81 148.37,206.16 148.51,209.1 148.64,211.58 148.78,213.55 148.91,214.98 149.05,215.85 149.18,216.14 149.32,215.85 149.45,214.98 149.59,213.55 149.72,211.58 149.86,209.1 150,206.16 150.13,202.81 150.27,199.11 150.4,195.11 150.54,190.89 150.67,186.52 150.81,182.07 150.94,177.62 151.08,173.25 151.21,169.03 151.35,165.03 151.49,161.33 151.62,157.98 151.76,155.04 151.89,152.56 152.03,150.59 152.16,149.16 152.3,148.29 152.43,148 152.57,148.29 152.7,149.16 152.84,150.59 152.97,152.56 153.11,155.04 153.25,157.98 153.38,161.33 153.52,165.03 153.65,169.03 153.79,173.25 153.92,177.62 154.06,182.07 154.19,186.52 154.33,190.89 154.46,195.11 154.6,199.11 154.74,202.81 154.87,206.16 155.01,209.1 155.14,211.58 155.28,213.55 155.41,214.98 155.55,215.85 155.68,216.14 155.82,215.85 155.95,214.98 156.09,213.55 156.22,211.58 156.36,209.1 156.5,206.16 156.63,202.81 156.77,199.11 156.9,195.11 157.04,190.89 157.17,186.52 157.31,182.07 157.44,177.62 157.58,173.25 157.71,169.03 157.85,165.03 157.99,161.33 158.12,157.98 158.26,155.04 158.39,152.56 158.53,150.59 158.66,149.16 158.8,148.29 158.93,148 159.07,148.29 159.2,149.16 159.34,150.59 159.47,152.56 159.61,155.04 159.75,157.98 159.88,161.33 160.02,165.03 160.15,169.03 160.29,173.25 160.42,177.62 160.56,182.07 160.69,186.52 160.83,190.89 160.96,195.11 161.1,199.11 161.24,202.81 161.37,206.16 161.51,209.1 161.64,211.58 161.78,213.55 161.91,214.98 162.05,215.85 162.18,216.14 162.32,215.85 162.45,214.98 162.59,213.55 162.72,211.58 162.86,209.1 163,206.16 163.13,202.81 163.27,199.11 163.4,195.11 163.54,190.89 163.67,186.52 163.81,182.07 163.94,177.62 164.08,173.25 164.21,169.03 164.35,165.03 164.49,161.33 164.62,157.98 164.76,155.04 164.89,152.56 165.03,150.59 165.16,149.16 165.3,148.29 165.43,148 165.57,148.29 165.7,149.16 165.84,150.59 165.97,152.56 166.11,155.04 166.25,157.98 166.38,161.33 166.52,165.03 166.65,169.03 166.79,173.25 166.92,177.62 167.06,182.07 167.19,186.52 167.33,190.89 167.46,195.11 167.6,199.11 167.74,202.81 167.87,206.16 168.01,209.1 168.14,211.58 168.28,213.55 168.41,214.98 168.55,215.85 168.68,216.14 168.82,215.85 168.95,214.98 169.09,213.55 169.22,211.58 169.36,209.1 169.5,206.16 169.63,202.81 169.77,199.11 169.9,195.11 170.04,190.89 170.17,186.52 170.31,182.07 170.44,177.62 170.58,173.25 170.71,169.03 170.85,165.03 170.99,161.33 171.12,157.98 171.26,155.04 171.39,152.56 171.53,150.59 171.66,149.16 171.8,148.29 171.93,148 172.07,148.29 172.2,149.16 172.34,150.59 172.47,152.56 172.61,155.04 172.75,157.98 172.88,161.33 173.02,165.03 173.15,169.03 173.29,173.25 173.42,177.62 173.56,182.07 173.69,186.52 173.83,190.89 173.96,195.11 174.1,199.11 174.24,202.81 174.37,206.16 174.51,209.1 174.64,211.58 174.78,213.55 174.91,214.98 175.05,215.85 175.18,216.14 175.32,215.85 175.45,214.98 175.59,213.55 175.72,211.58 175.86,209.1 176,206.16 176.13,202.81 176.27,199.11 176.4,195.11 176.54,190.89 176.67,186.52 176.81,182.07 176.94,177.62 177.08,173.25 177.21,169.03 177.35,165.03 177.49,161.33 177.62,157.98 177.76,155.04 177.89,152.56 178.03,150.59 178.16,149.16 178.3,148.29 178.43,148 178.57,148.29 178.7,149.16 178.84,150.59 178.97,152.56 179.11,155.04 179.25,157.98 179.38,161.33 179.52,165.03 179.65,169.03 179.79,173.25 179.92,177.62 180.06,182.07 180.19,186.52 180.33,190.89 180.46,195.11 180.6,199.11 180.74,202.81 180.87,206.16 181.01,209.1 181.14,211.58 181.28,213.55 181.41,214.98 181.55,215.85 181.68,216.14 181.82,215.85 181.95,214.98 182.09,213.55 182.22,211.58 182.36,209.1 182.5,206.16 182.63,202.81 182.77,199.11 182.9,195.11 183.04,190.89 183.17,186.52 183.31,182.07 183.44,177.62 183.58,173.25 183.71,169.03 183.85,165.03 183.99,161.33 184.12,157.98 184.26,155.04 184.39,152.56 184.53,150.59 184.66,149.16 184.8,148.29 184.93,148 185.07,148.29 185.2,149.16 185.34,150.59 185.47,152.56 185.61,155.04 185.75,157.98 185.88,161.33 186.02,165.03 186.15,169.03 186.29,173.25 186.42,177.62 186.56,182.07 186.69,186.52 186.83,190.89 186.96,195.11 187.1,199.11 187.24,202.81 187.37,206.16 187.51,209.1 187.64,211.58 187.78,213.55 187.91,214.98 188.05,215.85 188.18,216.14 188.32,215.85 188.45,214.98 188.59,213.55 188.72,211.58 188.86,209.1 189,206.16 189.13,202.81 189.27,199.11 189.4,195.11 189.54,190.89 189.67,186.52 189.81,182.07 189.94,177.62 190.08,173.25 190.21,169.03 190.35,165.03 190.49,161.33 190.62,157.98 190.76,155.04 190.89,152.56 191.03,150.59 191.16,149.16 191.3,148.29 191.43,148 191.57,148.29 191.7,149.16 191.84,150.59 191.97,152.56 192.11,155.04 192.25,157.98 192.38,161.33 192.52,165.03 192.65,169.03 192.79,173.25 192.92,177.62 193.06,182.07 193.19,186.52 193.33,190.89 193.46,195.11 193.6,199.11 193.74,202.81 193.87,206.16 194.01,209.1 194.14,211.58 194.28,213.55 194.41,214.98 194.55,215.85 194.68,216.14 194.82,215.85 194.95,214.98 195.09,213.55 195.22,211.58 195.36,209.1 195.5,206.16 195.63,202.81 195.77,199.11 195.9,195.11 196.04,190.89 196.17,186.52 196.31,182.07 196.44,177.62 196.58,173.25 196.71,169.03 196.85,165.03 196.99,161.33 197.12,157.98 197.26,155.04 197.39,152.56 197.53,150.59 197.66,149.16 197.8,148.29 197.93,148 198.07,148.29 198.2,149.16 198.34,150.59 198.47,152.56 198.61,155.04 198.75,157.98 198.88,161.33 199.02,165.03 199.15,169.03 199.29,173.25 199.42,177.62 199.56,182.07 199.69,186.52 199.83,190.89 199.96,195.11 200.1,199.11 200.24,202.81 200.37,206.16 200.51,209.1 200.64,211.58 200.78,213.55 200.91,214.98 201.05,215.85 201.18,216.14 201.32,215.85 201.45,214.98 201.59,213.55 201.72,211.58 201.86,209.1 202,206.16 202.13,202.81 202.27,199.11 202.4,195.11 202.54,190.89 202.67,186.52 202.81,182.07 202.94,177.62 203.08,173.25 203.21,169.03 203.35,165.03 203.49,161.33 203.62,157.98 203.76,155.04 203.89,152.56 204.03,150.59 204.16,149.16 204.3,148.29 204.43,148 204.57,148.29 204.7,149.16 204.84,150.59 204.98,152.56 205.11,155.04 205.25,157.98 205.38,161.33 205.52,165.03 205.65,169.03 205.79,173.25 205.92,177.62 206.06,182.07 206.19,186.52 206.33,190.89 206.46,195.11 206.6,199.11 206.74,202.81 206.87,206.16 207.01,209.1 207.14,211.58 207.28,213.55 207.41,214.98 207.55,215.85 207.68,216.14 207.82,215.85 207.95,214.98 208.09,213.55 208.22,211.58 208.36,209.1 208.5,206.16 208.63,202.81 208.77,199.11 208.9,195.11 209.04,190.89 209.17,186.52 209.31,182.07 209.44,177.62 209.58,173.25 209.71,169.03 209.85,165.03 209.99,161.33 210.12,157.98 210.26,155.04 210.39,152.56 210.53,150.59 210.66,149.16 210.8,148.29 210.93,148 211.07,148.29 211.2,149.16 211.34,150.59 211.47,152.56 211.61,155.04 211.75,157.98 211.88,161.33 212.02,165.03 212.15,169.03 212.29,173.25 212.42,177.62 212.56,182.07 212.69,186.52 212.83,190.89 212.96,195.11 213.1,199.11 213.24,202.81 213.37,206.16 213.51,209.1 213.64,211.58 213.78,213.55 213.91,214.98 214.05,215.85 214.18,216.14 214.32,215.85 214.45,214.98 214.59,213.55 214.72,211.58 214.86,209.1 215,206.16 215.13,202.81 215.27,199.11 215.4,195.11 215.54,190.89 215.67,186.52 215.81,182.07 215.94,177.62 216.08,173.25 216.21,169.03 216.35,165.03 216.49,161.33 216.62,157.98 216.76,155.04 216.89,152.56 217.03,150.59 217.16,149.16 217.3,148.29 217.43,148 217.57,148.29 217.7,149.16 217.84,150.59 217.97,152.56 218.11,155.04 218.25,157.98 218.38,161.33 218.52,165.03 218.65,169.03 218.79,173.25 218.92,177.62 219.06,182.07 219.19,186.52 219.33,190.89 219.46,195.11 219.6,199.11 219.74,202.81 219.87,206.16 220.01,209.1 220.14,211.58 220.28,213.55 220.41,214.98 220.55,215.85 220.68,216.14 220.82,215.85 220.95,214.98 221.09,213.55 221.22,211.58 221.36,209.1 221.5,206.16 221.63,202.81 221.77,199.11 221.9,195.11 222.04,190.89 222.17,186.52 222.31,182.07 222.44,177.62 222.58,173.25 222.71,169.03 222.85,165.03 222.99,161.33 223.12,157.98 223.26,155.04 223.39,152.56 223.53,150.59 223.66,149.16 223.8,148.29 223.93,148 224.07,148.29 224.2,149.16 224.34,150.59 224.47,152.56 224.61,155.04 224.75,157.98 224.88,161.33 225.02,165.03 225.15,169.03 225.29,173.25 225.42,177.62 225.56,182.07 225.69,186.52 225.83,190.89 225.96,195.11 226.1,199.11 226.24,202.81 226.37,206.16 226.51,209.1 226.64,211.58 226.78,213.55 226.91,214.98 227.05,215.85 227.18,216.14 227.32,215.85 227.45,214.98 227.59,213.55 227.72,211.58 227.86,209.1 228,206.16 228.13,202.81 228.27,199.11 228.4,195.11 228.54,190.89 228.67,186.52 228.81,182.07 228.94,177.62 229.08,173.25 229.21,169.03 229.35,165.03 229.49,161.33 229.62,157.98 229.76,155.04 229.89,152.56 230.03,150.59 230.16,149.16 230.3,148.29 230.43,148 230.57,148.29 230.7,149.16 230.84,150.59 230.97,152.56 231.11,155.04 231.25,157.98 231.38,161.33 231.52,165.03 231.65,169.03 231.79,173.25 231.92,177.62 232.06,182.07 232.19,186.52 232.33,190.89 232.46,195.11 232.6,199.11 232.74,202.81 232.87,206.16 233.01,209.1 233.14,211.58 233.28,213.55 233.41,214.98 233.55,215.85 233.68,216.14 233.82,215.85 233.95,214.98 234.09,213.55 234.22,211.58 234.36,209.1 234.5,206.16 234.63,202.81 234.77,199.11 234.9,195.11 235.04,190.89 235.17,186.52 235.31,182.07 235.44,177.62 235.58,173.25 235.71,169.03 235.85,165.03 235.99,161.33 236.12,157.98 236.26,155.04 236.39,152.56 236.53,150.59 236.66,149.16 236.8,148.29 236.93,148 237.07,148.29 237.2,149.16 237.34,150.59 237.47,152.56 237.61,155.04 237.75,157.98 237.88,161.33 238.02,165.03 238.15,169.03 238.29,173.25 238.42,177.62 238.56,182.07 238.69,186.52 238.83,190.89 238.96,195.11 239.1,199.11 239.24,202.81 239.37,206.16 239.51,209.1 239.64,211.58 239.78,213.55 239.91,214.98 240.05,215.85 240.18,216.14 240.32,215.85 240.45,214.98 240.59,213.55 240.72,211.58 240.86,209.1 241,206.16 241.13,202.81 241.27,199.11 241.4,195.11 241.54,190.89 241.67,186.52 241.81,182.07 241.94,177.62 242.08,173.25 242.21,169.03 242.35,165.03 242.49,161.33 242.62,157.98 242.76,155.04 242.89,152.56 243.03,150.59 243.16,149.16 243.3,148.29 243.43,148 243.57,148.29 243.7,149.16 243.84,150.59 243.98,152.56 244.11,155.04 244.25,157.98 244.38,161.33 244.52,165.03 244.65,169.03 244.79,173.25 244.92,177.62 245.06,182.07 245.19,186.52 245.33,190.89 245.46,195.11 245.6,199.11 245.74,202.81 245.87,206.16 246.01,209.1 246.14,211.58 246.28,213.55 246.41,214.98 246.55,215.85 246.68,216.14 246.82,215.85 246.95,214.98 247.09,213.55 247.23,211.58 247.36,209.1 247.5,206.16 247.63,202.81 247.77,199.11 247.9,195.11 248.04,190.89 248.17,186.52 248.31,182.07 248.44,177.62 248.58,173.25 248.71,169.03 248.85,165.03 248.99,161.33 249.12,157.98 249.26,155.04 249.39,152.56 249.53,150.59 249.66,149.16 249.8,148.29 249.93,148 250.07,148.29 250.2,149.16 250.34,150.59 250.47,152.56 250.61,155.04 250.75,157.98 250.88,161.33 251.02,165.03 251.15,169.03 251.29,173.25 251.42,177.62 251.56,182.07 251.69,186.52 251.83,190.89 251.96,195.11 252.1,199.11 252.24,202.81 252.37,206.16 252.51,209.1 252.64,211.58 252.78,213.55 252.91,214.98 253.05,215.85 253.18,216.14 253.32,215.85 253.45,214.98 253.59,213.55 253.72,211.58 253.86,209.1 254,206.16 254.13,202.81 254.27,199.11 254.4,195.11 254.54,190.89 254.67,186.52 254.81,182.07 254.94,177.62 255.08,173.25 255.21,169.03 255.35,165.03 255.49,161.33 255.62,157.98 255.76,155.04 255.89,152.56 256.03,150.59 256.16,149.16 256.3,148.29 256.43,148 256.57,148.29 256.7,149.16 256.84,150.59 256.98,152.56 257.11,155.04 257.25,157.98 257.38,161.33 257.52,165.03 257.65,169.03 257.79,173.25 257.92,177.62 258.06,182.07 258.19,186.52 258.33,190.89 258.46,195.11 258.6,199.11 258.74,202.81 258.87,206.16 259.01,209.1 259.14,211.58 259.28,213.55 259.41,214.98 259.55,215.85 259.68,216.14 259.82,215.85 259.95,214.98 260.09,213.55 260.23,211.58 260.36,209.1 260.5,206.16 260.63,202.81 260.77,199.11 260.9,195.11 261.04,190.89 261.17,186.52 261.31,182.07 261.44,177.62 261.58,173.25 261.71,169.03 261.85,165.03 261.99,161.33 262.12,157.98 262.26,155.04 262.39,152.56 262.53,150.59 262.66,149.16 262.8,148.29 262.93,148 263.07,148.29 263.2,149.16 263.34,150.59 263.48,152.56 263.61,155.04 263.75,157.98 263.88,161.33 264.02,165.03 264.15,169.03 264.29,173.25 264.42,177.62 264.56,182.07 264.69,186.52 264.83,190.89 264.96,195.11 265.1,199.11 265.24,202.81 265.37,206.16 265.51,209.1 265.64,211.58 265.78,213.55 265.91,214.98 266.05,215.85 266.18,216.14 266.32,215.85 266.45,214.98 266.59,213.55 266.73,211.58 266.86,209.1 267,206.16 267.13,202.81 267.27,199.11 267.4,195.11 267.54,190.89 267.67,186.52 267.81,182.07 267.94,177.62 268.08,173.25 268.21,169.03 268.35,165.03 268.49,161.33 268.62,157.98 268.76,155.04 268.89,152.56 269.03,150.59 269.16,149.16 269.3,148.29 269.43,148 269.57,148.29 269.7,149.16 269.84,150.59 269.98,152.56 270.11,155.04 270.25,157.98 270.38,161.33 270.52,165.03 270.65,169.03 270.79,173.25 270.92,177.62 271.06,182.07 271.19,186.52 271.33,190.89 271.46,195.11 271.6,199.11 271.74,202.81 271.87,206.16 272.01,209.1 272.14,211.58 272.28,213.55 272.41,214.98 272.55,215.85 272.68,216.14 272.82,215.85 272.95,214.98 273.09,213.55 273.23,211.58 273.36,209.1 273.5,206.16 273.63,202.81 273.77,199.11 273.9,195.11 274.04,190.89 274.17,186.52 274.31,182.07 274.44,177.62 274.58,173.25 274.71,169.03 274.85,165.03 274.99,161.33 275.12,157.98 275.26,155.04 275.39,152.56 275.53,150.59 275.66,149.16 275.8,148.29 275.93,148 276.07,148.29 276.2,149.16 276.34,150.59 276.48,152.56 276.61,155.04 276.75,157.98 276.88,161.33 277.02,165.03 277.15,169.03 277.29,173.25 277.42,177.62 277.56,182.07 277.69,186.52 277.83,190.89 277.96,195.11 278.1,199.11 278.24,202.81 278.37,206.16 278.51,209.1 278.64,211.58 278.78,213.55 278.91,214.98 279.05,215.85 279.18,216.14 279.32,215.85 279.45,214.98 279.59,213.55 279.73,211.58 279.86,209.1 280,206.16 280.13,202.81 280.27,199.11 280.4,195.11 280.54,190.89 280.67,186.52 280.81,182.07 280.94,177.62 281.08,173.25 281.21,169.03 281.35,165.03 281.49,161.33 281.62,157.98 281.76,155.04 281.89,152.56 282.03,150.59 282.16,149.16 282.3,148.29 282.43,148 282.57,148.29 282.7,149.16 282.84,150.59 282.98,152.56 283.11,155.04 283.25,157.98 283.38,161.33 283.52,165.03 283.65,169.03 283.79,173.25 283.92,177.62 284.06,182.07 284.19,186.52 284.33,190.89 284.46,195.11 284.6,199.11 284.74,202.81 284.87,206.16 285.01,209.1 285.14,211.58 285.28,213.55 285.41,214.98 285.55,215.85 285.68,216.14 285.82,215.85 285.95,214.98 286.09,213.55 286.23,211.58 286.36,209.1 286.5,206.16 286.63,202.81 286.77,199.11 286.9,195.11 287.04,190.89 287.17,186.52 287.31,182.07 287.44,177.62 287.58,173.25 287.71,169.03 287.85,165.03 287.99,161.33 288.12,157.98 288.26,155.04 288.39,152.56 288.53,150.59 288.66,149.16 288.8,148.29 288.93,148 289.07,148.29 289.2,149.16 289.34,150.59 289.48,152.56 289.61,155.04 289.75,157.98 289.88,161.33 290.02,165.03 290.15,169.03 290.29,173.25 290.42,177.62 290.56,182.07 290.69,186.52 290.83,190.89 290.96,195.11 291.1,199.11 291.24,202.81 291.37,206.16 291.51,209.1 291.64,211.58 291.78,213.55 291.91,214.98 292.05,215.85 292.18,216.14 292.32,215.85 292.45,214.98 292.59,213.55 292.73,211.58 292.86,209.1 293,206.16 293.13,202.81 293.27,199.11 293.4,195.11 293.54,190.89 293.67,186.52 293.81,182.07 293.94,177.62 294.08,173.25 294.21,169.03 294.35,165.03 294.49,161.33 294.62,157.98 294.76,155.04 294.89,152.56 295.03,150.59 295.16,149.16 295.3,148.29 295.43,148 295.57,148.29 295.7,149.16 295.84,150.59 295.98,152.56 296.11,155.04 296.25,157.98 296.38,161.33 296.52,165.03 296.65,169.03 296.79,173.25 296.92,177.62 297.06,182.07 297.19,186.52 297.33,190.89 297.46,195.11 297.6,199.11 297.74,202.81 297.87,206.16 298.01,209.1 298.14,211.58 298.28,213.55 298.41,214.98 298.55,215.85 298.68,216.14 298.82,215.85 298.95,214.98 299.09,213.55 299.23,211.58 299.36,209.1 299.5,206.16 299.63,202.81 299.77,199.11 299.9,195.11 300.04,190.89 300.17,186.52 300.31,182.07 300.44,177.62 300.58,173.25 300.71,169.03 300.85,165.03 300.99,161.33 301.12,157.98 301.26,155.04 301.39,152.56 301.53,150.59 301.66,149.16 301.8,148.29 301.93,148 302.07,148.29 302.2,149.16 302.34,150.59 302.48,152.56 302.61,155.04 302.75,157.98 302.88,161.33 303.02,165.03 303.15,169.03 303.29,173.25 303.42,177.62 303.56,182.07 303.69,186.52 303.83,190.89 303.96,195.11 304.1,199.11 304.24,202.81 304.37,206.16 304.51,209.1 304.64,211.58 304.78,213.55 304.91,214.98 305.05,215.85 305.18,216.14 305.32,215.85 305.45,214.98 305.59,213.55 305.73,211.58 305.86,209.1 306,206.16 306.13,202.81 306.27,199.11 306.4,195.11 306.54,190.89 306.67,186.52 306.81,182.07 306.94,177.62 307.08,173.25 307.21,169.03 307.35,165.03 307.49,161.33 307.62,157.98 307.76,155.04 307.89,152.56 308.03,150.59 308.16,149.16 308.3,148.29 308.43,148 308.57,148.29 308.7,149.16 308.84,150.59 308.98,152.56 309.11,155.04 309.25,157.98 309.38,161.33 309.52,165.03 309.65,169.03 309.79,173.25 309.92,177.62 310.06,182.07 310.19,186.52 310.33,190.89 310.46,195.11 310.6,199.11 310.74,202.81 310.87,206.16 311.01,209.1 311.14,211.58 311.28,213.55 311.41,214.98 311.55,215.85 311.68,216.14 311.82,215.85 311.95,214.98 312.09,213.55 312.23,211.58 312.36,209.1 312.5,206.16 312.63,202.81 312.77,199.11 312.9,195.11 313.04,190.89 313.17,186.52 313.31,182.07 313.44,177.62 313.58,173.25 313.71,169.03 313.85,165.03 313.99,161.33 314.12,157.98 314.26,155.04 314.39,152.56 314.53,150.59 314.66,149.16 314.8,148.29 314.93,148 315.07,148.29 315.2,149.16 315.34,150.59 315.48,152.56 315.61,155.04 315.75,157.98 315.88,161.33 316.02,165.03 316.15,169.03 316.29,173.25 316.42,177.62 316.56,182.07 316.69,186.52 316.83,190.89 316.96,195.11 317.1,199.11 317.24,202.81 317.37,206.16 317.51,209.1 317.64,211.58 317.78,213.55 317.91,214.98 318.05,215.85 318.18,216.14 318.32,215.85 318.45,214.98 318.59,213.55 318.73,211.58 318.86,209.1 319,206.16 319.13,202.81 319.27,199.11 319.4,195.11 319.54,190.89 319.67,186.52 319.81,182.07 319.94,177.62 320.08,173.25 320.21,169.03 320.35,165.03 320.49,161.33 320.62,157.98 320.76,155.04 320.89,152.56 321.03,150.59 321.16,149.16 321.3,148.29 321.43,148 321.57,148.29 321.7,149.16 321.84,150.59 321.98,152.56 322.11,155.04 322.25,157.98 322.38,161.33 322.52,165.03 322.65,169.03 322.79,173.25 322.92,177.62 323.06,182.07 323.19,186.52 323.33,190.89 323.46,195.11 323.6,199.11 323.74,202.81 323.87,206.16 324.01,209.1 324.14,211.58 324.28,213.55 324.41,214.98 324.55,215.85 324.68,216.14 324.82,215.85 324.95,214.98 325.09,213.55 325.23,211.58 325.36,209.1 325.5,206.16 325.63,202.81 325.77,199.11 325.9,195.11 326.04,190.89 326.17,186.52 326.31,182.07 326.44,177.62 326.58,173.25 326.71,169.03 326.85,165.03 326.99,161.33 327.12,157.98 327.26,155.04 327.39,152.56 327.53,150.59 327.66,149.16 327.8,148.29 327.93,148 328.07,148.29 328.2,149.16 328.34,150.59 328.48,152.56 328.61,155.04 328.75,157.98 328.88,161.33 329.02,165.03 329.15,169.03 329.29,173.25 329.42,177.62 329.56,182.07 329.69,186.52 329.83,190.89 329.96,195.11 330.1,199.11 330.24,202.81 330.37,206.16 330.51,209.1 330.64,211.58 330.78,213.55 330.91,214.98 331.05,215.85 331.18,216.14 331.32,215.85 331.45,214.98 331.59,213.55 331.73,211.58 331.86,209.1 332,206.16 332.13,202.81 332.27,199.11 332.4,195.11 332.54,190.89 332.67,186.52 332.81,182.07 332.94,177.62 333.08,173.25 333.21,169.03 333.35,165.03 333.49,161.33 333.62,157.98 333.76,155.04 333.89,152.56 334.03,150.59 334.16,149.16 334.3,148.29 334.43,148 334.57,148.29 334.7,149.16 334.84,150.59 334.98,152.56 335.11,155.04 335.25,157.98 335.38,161.33 335.52,165.03 335.65,169.03 335.79,173.25 335.92,177.62 336.06,182.07 336.19,186.52 336.33,190.89 336.46,195.11 336.6,199.11 336.74,202.81 336.87,206.16 337.01,209.1 337.14,211.58 337.28,213.55 337.41,214.98 337.55,215.85 337.68,216.14 337.82,215.85 337.95,214.98 338.09,213.55 338.23,211.58 338.36,209.1 338.5,206.16 338.63,202.81 338.77,199.11 338.9,195.11 339.04,190.89 339.17,186.52 339.31,182.07 339.44,177.62 339.58,173.25 339.71,169.03 339.85,165.03 339.99,161.33 340.12,157.98 340.26,155.04 340.39,152.56 340.53,150.59 340.66,149.16 340.8,148.29 340.93,148 341.07,148.29 341.2,149.16 341.34,150.59 341.48,152.56 341.61,155.04 341.75,157.98 341.88,161.33 342.02,165.03 342.15,169.03 342.29,173.25 342.42,177.62 342.56,182.07 342.69,186.52 342.83,190.89 342.96,195.11 343.1,199.11 343.24,202.81 343.37,206.16 343.51,209.1 343.64,211.58 343.78,213.55 343.91,214.98 344.05,215.85 344.18,216.14 344.32,215.85 344.45,214.98 344.59,213.55 344.73,211.58 344.86,209.1 345,206.16 345.13,202.81 345.27,199.11 345.4,195.11 345.54,190.89 345.67,186.52 345.81,182.07 345.94,177.62 346.08,173.25 346.21,169.03 346.35,165.03 346.49,161.33 346.62,157.98 346.76,155.04 346.89,152.56 347.03,150.59 347.16,149.16 347.3,148.29 347.43,148 347.57,148.29 347.7,149.16 347.84,150.59 347.98,152.56 348.11,155.04 348.25,157.98 348.38,161.33 348.52,165.03 348.65,169.03 348.79,173.25 348.92,177.62 349.06,182.07 349.19,186.52 349.33,190.89 349.46,195.11 349.6,199.11" fill="none" stroke="#EDB120" stroke-width="0.6" stroke-linejoin="round"/>
</g>
<g filter="url(#bl)">
<path d="M24.6 226.35V223.75M24.6 136.45V139.05M57.12 226.35V223.75M57.12 136.45V139.05M89.64 226.35V223.75M89.64 136.45V139.05M122.16 226.35V223.75M122.16 136.45V139.05M154.68 226.35V223.75M154.68 136.45V139.05M187.2 226.35V223.75M187.2 136.45V139.05M219.72 226.35V223.75M219.72 136.45V139.05M252.24 226.35V223.75M252.24 136.45V139.05M284.76 226.35V223.75M284.76 136.45V139.05M317.28 226.35V223.75M317.28 136.45V139.05M349.8 226.35V223.75M349.8 136.45V139.05M24.6 158.57H27.2M349.55 158.57H346.95M24.6 182.07H27.2M349.55 182.07H346.95M24.6 205.57H27.2M349.55 205.57H346.95" stroke="#6a6a6a" stroke-width="1" fill="none"/>
<rect x="24.6" y="136.45" width="324.95" height="89.9" stroke="#6a6a6a" stroke-width="1" fill="none"/>
<text class="t" x="22.6" y="161.77" font-size="6.9" text-anchor="end">200</text>
<text class="t" x="22.6" y="185.27" font-size="6.9" text-anchor="end">0</text>
<text class="t" x="22.6" y="208.77" font-size="6.9" text-anchor="end">-200</text>
<text class="t" x="24.6" y="235.2" font-size="6.9" text-anchor="middle">0</text>
<text class="t" x="57.12" y="235.2" font-size="6.9" text-anchor="middle">0.1</text>
<text class="t" x="89.64" y="235.2" font-size="6.9" text-anchor="middle">0.2</text>
<text class="t" x="122.16" y="235.2" font-size="6.9" text-anchor="middle">0.3</text>
<text class="t" x="154.68" y="235.2" font-size="6.9" text-anchor="middle">0.4</text>
<text class="t" x="187.2" y="235.2" font-size="6.9" text-anchor="middle">0.5</text>
<text class="t" x="219.72" y="235.2" font-size="6.9" text-anchor="middle">0.6</text>
<text class="t" x="252.24" y="235.2" font-size="6.9" text-anchor="middle">0.7</text>
<text class="t" x="284.76" y="235.2" font-size="6.9" text-anchor="middle">0.8</text>
<text class="t" x="317.28" y="235.2" font-size="6.9" text-anchor="middle">0.9</text>
<text class="t" x="349.8" y="235.2" font-size="6.9" text-anchor="middle">1</text>
<text class="l" x="186.9" y="245.4" font-size="8.5" text-anchor="middle">Time</text>
<text class="l" x="187" y="133.6" font-size="8.6" text-anchor="middle">Bus1 Current waveforms</text>
<text class="l" x="6.3" y="181.5" font-size="8.5" text-anchor="middle" transform="rotate(-90 6.3 181.5)">current</text>
<defs><clipPath id="cst"><rect x="418.5" y="15.45" width="214.8" height="85.05"/></clipPath><clipPath id="csb"><rect x="418.5" y="135.45" width="214.8" height="85.05"/></clipPath></defs>
<g clip-path="url(#cst)" shape-rendering="crispEdges">
<rect x="418.5" y="15.45" width="1.02" height="10.02" fill="#ddbd29"/>
<rect x="419.5" y="15.45" width="1.02" height="10.02" fill="#c9c129"/>
<rect x="420.5" y="15.45" width="1.02" height="10.02" fill="#bbc42f"/>
<rect x="421.5" y="15.45" width="1.02" height="10.02" fill="#b2c535"/>
<rect x="422.5" y="15.45" width="1.02" height="10.02" fill="#abc739"/>
<rect x="423.5" y="15.45" width="1.02" height="10.02" fill="#a8c73b"/>
<rect x="424.5" y="15.45" width="1.02" height="10.02" fill="#a6c73c"/>
<rect x="425.5" y="15.45" width="1.02" height="10.02" fill="#a2c840"/>
<rect x="426.5" y="15.45" width="1.02" height="10.02" fill="#a0c841"/>
<rect x="427.5" y="15.45" width="1.02" height="10.02" fill="#9cc943"/>
<rect x="428.5" y="15.45" width="1.02" height="10.02" fill="#9bc945"/>
<rect x="429.5" y="15.45" width="1.02" height="10.02" fill="#98c947"/>
<rect x="430.5" y="15.45" width="1.02" height="10.02" fill="#93ca4b"/>
<rect x="431.5" y="15.45" width="1.02" height="10.02" fill="#96ca48"/>
<rect x="432.5" y="15.45" width="1.02" height="10.02" fill="#94ca4a"/>
<rect x="433.5" y="15.45" width="1.02" height="10.02" fill="#93ca4b"/>
<rect x="434.5" y="15.45" width="1.02" height="10.02" fill="#8ecb4f"/>
<rect x="435.5" y="15.45" width="1.02" height="10.02" fill="#8ccb50"/>
<rect x="436.5" y="15.45" width="2.02" height="10.02" fill="#8dcb4f"/>
<rect x="438.5" y="15.45" width="1.02" height="10.02" fill="#8ecb4f"/>
<rect x="439.5" y="15.45" width="1.02" height="10.02" fill="#8ccb50"/>
<rect x="440.5" y="15.45" width="1.02" height="10.02" fill="#8dcb50"/>
<rect x="441.5" y="15.45" width="1.02" height="10.02" fill="#8acb52"/>
<rect x="442.5" y="15.45" width="2.02" height="10.02" fill="#8bcb51"/>
<rect x="444.5" y="15.45" width="1.02" height="10.02" fill="#88cb53"/>
<rect x="445.5" y="15.45" width="1.02" height="10.02" fill="#8ccb50"/>
<rect x="446.5" y="15.45" width="1.02" height="10.02" fill="#89cb52"/>
<rect x="447.5" y="15.45" width="1.02" height="10.02" fill="#8acb52"/>
<rect x="448.5" y="15.45" width="1.02" height="10.02" fill="#86cb55"/>
<rect x="449.5" y="15.45" width="3.02" height="10.02" fill="#85cb55"/>
<rect x="452.5" y="15.45" width="1.02" height="10.02" fill="#86cb54"/>
<rect x="453.5" y="15.45" width="1.02" height="10.02" fill="#85cb55"/>
<rect x="454.5" y="15.45" width="1.02" height="10.02" fill="#83cc57"/>
<rect x="455.5" y="15.45" width="1.02" height="10.02" fill="#82cc58"/>
<rect x="456.5" y="15.45" width="1.02" height="10.02" fill="#82cc57"/>
<rect x="457.5" y="15.45" width="1.02" height="10.02" fill="#85cb55"/>
<rect x="458.5" y="15.45" width="1.02" height="10.02" fill="#81cc58"/>
<rect x="459.5" y="15.45" width="2.02" height="10.02" fill="#83cc57"/>
<rect x="461.5" y="15.45" width="1.02" height="10.02" fill="#7ecc5a"/>
<rect x="462.5" y="15.45" width="1.02" height="10.02" fill="#81cc58"/>
<rect x="463.5" y="15.45" width="1.02" height="10.02" fill="#83cc57"/>
<rect x="464.5" y="15.45" width="1.02" height="10.02" fill="#7ccc5c"/>
<rect x="465.5" y="15.45" width="2.02" height="10.02" fill="#7fcc5a"/>
<rect x="467.5" y="15.45" width="1.02" height="10.02" fill="#7ecc5b"/>
<rect x="468.5" y="15.45" width="1.02" height="10.02" fill="#80cc59"/>
<rect x="469.5" y="15.45" width="1.02" height="10.02" fill="#7ecc5a"/>
<rect x="470.5" y="15.45" width="1.02" height="10.02" fill="#7bcc5d"/>
<rect x="471.5" y="15.45" width="1.02" height="10.02" fill="#80cc5a"/>
<rect x="472.5" y="15.45" width="2.02" height="10.02" fill="#7fcc5a"/>
<rect x="474.5" y="15.45" width="1.02" height="10.02" fill="#80cc59"/>
<rect x="475.5" y="15.45" width="1.02" height="10.02" fill="#7dcc5b"/>
<rect x="476.5" y="15.45" width="1.02" height="10.02" fill="#7ccc5c"/>
<rect x="477.5" y="15.45" width="1.02" height="10.02" fill="#79cc5e"/>
<rect x="478.5" y="15.45" width="1.02" height="10.02" fill="#7dcc5b"/>
<rect x="479.5" y="15.45" width="2.02" height="10.02" fill="#7acc5e"/>
<rect x="481.5" y="15.45" width="2.02" height="10.02" fill="#78cc5f"/>
<rect x="483.5" y="15.45" width="1.02" height="10.02" fill="#79cc5e"/>
<rect x="484.5" y="15.45" width="1.02" height="10.02" fill="#7dcc5c"/>
<rect x="485.5" y="15.45" width="1.02" height="10.02" fill="#75cc61"/>
<rect x="486.5" y="15.45" width="1.02" height="10.02" fill="#76cc60"/>
<rect x="487.5" y="15.45" width="1.02" height="10.02" fill="#7acc5e"/>
<rect x="488.5" y="15.45" width="1.02" height="10.02" fill="#7ccc5c"/>
<rect x="489.5" y="15.45" width="1.02" height="10.02" fill="#7acc5e"/>
<rect x="490.5" y="15.45" width="1.02" height="10.02" fill="#74cc62"/>
<rect x="491.5" y="15.45" width="1.02" height="10.02" fill="#73cd63"/>
<rect x="492.5" y="15.45" width="1.02" height="10.02" fill="#78cc5f"/>
<rect x="493.5" y="15.45" width="1.02" height="10.02" fill="#76cc61"/>
<rect x="494.5" y="15.45" width="1.02" height="10.02" fill="#75cc61"/>
<rect x="495.5" y="15.45" width="2.02" height="10.02" fill="#79cc5e"/>
<rect x="497.5" y="15.45" width="3.02" height="10.02" fill="#77cc60"/>
<rect x="500.5" y="15.45" width="1.02" height="10.02" fill="#79cc5e"/>
<rect x="501.5" y="15.45" width="1.02" height="10.02" fill="#77cc60"/>
<rect x="502.5" y="15.45" width="2.02" height="10.02" fill="#76cc60"/>
<rect x="504.5" y="15.45" width="1.02" height="10.02" fill="#72cd64"/>
<rect x="505.5" y="15.45" width="1.02" height="10.02" fill="#77cc60"/>
<rect x="506.5" y="15.45" width="1.02" height="10.02" fill="#76cc60"/>
<rect x="507.5" y="15.45" width="1.02" height="10.02" fill="#75cc61"/>
<rect x="508.5" y="15.45" width="1.02" height="10.02" fill="#70cd65"/>
<rect x="509.5" y="15.45" width="1.02" height="10.02" fill="#73cd63"/>
<rect x="510.5" y="15.45" width="1.02" height="10.02" fill="#75cc61"/>
<rect x="511.5" y="15.45" width="1.02" height="10.02" fill="#70cd65"/>
<rect x="512.5" y="15.45" width="1.02" height="10.02" fill="#73cd63"/>
<rect x="513.5" y="15.45" width="1.02" height="10.02" fill="#75cc61"/>
<rect x="514.5" y="15.45" width="1.02" height="10.02" fill="#70cd65"/>
<rect x="515.5" y="15.45" width="1.02" height="10.02" fill="#76cc60"/>
<rect x="516.5" y="15.45" width="1.02" height="10.02" fill="#74cd62"/>
<rect x="517.5" y="15.45" width="1.02" height="10.02" fill="#72cd63"/>
<rect x="518.5" y="15.45" width="1.02" height="10.02" fill="#73cd63"/>
<rect x="519.5" y="15.45" width="1.02" height="10.02" fill="#73cd62"/>
<rect x="520.5" y="15.45" width="1.02" height="10.02" fill="#72cd63"/>
<rect x="521.5" y="15.45" width="1.02" height="10.02" fill="#74cc62"/>
<rect x="522.5" y="15.45" width="2.02" height="10.02" fill="#70cd65"/>
<rect x="524.5" y="15.45" width="1.02" height="10.02" fill="#73cd63"/>
<rect x="525.5" y="15.45" width="1.02" height="10.02" fill="#71cd64"/>
<rect x="526.5" y="15.45" width="1.02" height="10.02" fill="#6fcd66"/>
<rect x="527.5" y="15.45" width="1.02" height="10.02" fill="#73cd63"/>
<rect x="528.5" y="15.45" width="1.02" height="10.02" fill="#73cd62"/>
<rect x="529.5" y="15.45" width="1.02" height="10.02" fill="#70cd65"/>
<rect x="530.5" y="15.45" width="1.02" height="10.02" fill="#6ecd67"/>
<rect x="531.5" y="15.45" width="2.02" height="10.02" fill="#70cd65"/>
<rect x="533.5" y="15.45" width="1.02" height="10.02" fill="#6fcd66"/>
<rect x="534.5" y="15.45" width="1.02" height="10.02" fill="#72cd63"/>
<rect x="535.5" y="15.45" width="1.02" height="10.02" fill="#6ecd67"/>
<rect x="536.5" y="15.45" width="1.02" height="10.02" fill="#72cd64"/>
<rect x="537.5" y="15.45" width="1.02" height="10.02" fill="#6dcd68"/>
<rect x="538.5" y="15.45" width="1.02" height="10.02" fill="#6ecd67"/>
<rect x="539.5" y="15.45" width="1.02" height="10.02" fill="#70cd65"/>
<rect x="540.5" y="15.45" width="1.02" height="10.02" fill="#71cd64"/>
<rect x="541.5" y="15.45" width="1.02" height="10.02" fill="#70cd65"/>
<rect x="542.5" y="15.45" width="4.02" height="10.02" fill="#6fcd66"/>
<rect x="546.5" y="15.45" width="1.02" height="10.02" fill="#6ecd67"/>
<rect x="547.5" y="15.45" width="2.02" height="10.02" fill="#6fcd66"/>
<rect x="549.5" y="15.45" width="1.02" height="10.02" fill="#6ecd67"/>
<rect x="550.5" y="15.45" width="2.02" height="10.02" fill="#6fcd66"/>
<rect x="552.5" y="15.45" width="1.02" height="10.02" fill="#71cd64"/>
<rect x="553.5" y="15.45" width="1.02" height="10.02" fill="#6ecd67"/>
<rect x="554.5" y="15.45" width="2.02" height="10.02" fill="#6ccd68"/>
<rect x="556.5" y="15.45" width="1.02" height="10.02" fill="#6dcd67"/>
<rect x="557.5" y="15.45" width="1.02" height="10.02" fill="#6fcd66"/>
<rect x="558.5" y="15.45" width="1.02" height="10.02" fill="#6ccd68"/>
<rect x="559.5" y="15.45" width="1.02" height="10.02" fill="#6dcd67"/>
<rect x="560.5" y="15.45" width="1.02" height="10.02" fill="#70cd65"/>
<rect x="561.5" y="15.45" width="1.02" height="10.02" fill="#68cd6c"/>
<rect x="562.5" y="15.45" width="1.02" height="10.02" fill="#6acd6a"/>
<rect x="563.5" y="15.45" width="1.02" height="10.02" fill="#6dcd68"/>
<rect x="564.5" y="15.45" width="1.02" height="10.02" fill="#6dcd67"/>
<rect x="565.5" y="15.45" width="1.02" height="10.02" fill="#6dcd68"/>
<rect x="566.5" y="15.45" width="1.02" height="10.02" fill="#6bcd69"/>
<rect x="567.5" y="15.45" width="1.02" height="10.02" fill="#6dcd67"/>
<rect x="568.5" y="15.45" width="1.02" height="10.02" fill="#6ccd68"/>
<rect x="569.5" y="15.45" width="1.02" height="10.02" fill="#6bcd69"/>
<rect x="570.5" y="15.45" width="1.02" height="10.02" fill="#70cd65"/>
<rect x="571.5" y="15.45" width="1.02" height="10.02" fill="#6ccd68"/>
<rect x="572.5" y="15.45" width="1.02" height="10.02" fill="#6acd69"/>
<rect x="573.5" y="15.45" width="3.02" height="10.02" fill="#6bcd69"/>
<rect x="576.5" y="15.45" width="1.02" height="10.02" fill="#66cd6d"/>
<rect x="577.5" y="15.45" width="1.02" height="10.02" fill="#6acd6a"/>
<rect x="578.5" y="15.45" width="1.02" height="10.02" fill="#6dcd67"/>
<rect x="579.5" y="15.45" width="1.02" height="10.02" fill="#69cd6b"/>
<rect x="580.5" y="15.45" width="1.02" height="10.02" fill="#6bcd69"/>
<rect x="581.5" y="15.45" width="1.02" height="10.02" fill="#6dcd68"/>
<rect x="582.5" y="15.45" width="1.02" height="10.02" fill="#6ccd68"/>
<rect x="583.5" y="15.45" width="1.02" height="10.02" fill="#6ecd67"/>
<rect x="584.5" y="15.45" width="1.02" height="10.02" fill="#67cd6c"/>
<rect x="585.5" y="15.45" width="2.02" height="10.02" fill="#6acd6a"/>
<rect x="587.5" y="15.45" width="1.02" height="10.02" fill="#6ccd69"/>
<rect x="588.5" y="15.45" width="1.02" height="10.02" fill="#6ccd68"/>
<rect x="589.5" y="15.45" width="1.02" height="10.02" fill="#65cd6e"/>
<rect x="590.5" y="15.45" width="1.02" height="10.02" fill="#6ccd68"/>
<rect x="591.5" y="15.45" width="1.02" height="10.02" fill="#67cd6c"/>
<rect x="592.5" y="15.45" width="1.02" height="10.02" fill="#6bcd69"/>
<rect x="593.5" y="15.45" width="1.02" height="10.02" fill="#67cd6c"/>
<rect x="594.5" y="15.45" width="1.02" height="10.02" fill="#6acd6a"/>
<rect x="595.5" y="15.45" width="1.02" height="10.02" fill="#6ccd68"/>
<rect x="596.5" y="15.45" width="2.02" height="10.02" fill="#6acd6a"/>
<rect x="598.5" y="15.45" width="1.02" height="10.02" fill="#6bcd69"/>
<rect x="599.5" y="15.45" width="1.02" height="10.02" fill="#6acd6a"/>
<rect x="600.5" y="15.45" width="1.02" height="10.02" fill="#69cd6a"/>
<rect x="601.5" y="15.45" width="1.02" height="10.02" fill="#6ccd68"/>
<rect x="602.5" y="15.45" width="1.02" height="10.02" fill="#6bcd69"/>
<rect x="603.5" y="15.45" width="1.02" height="10.02" fill="#69cd6b"/>
<rect x="604.5" y="15.45" width="1.02" height="10.02" fill="#6fcd66"/>
<rect x="605.5" y="15.45" width="1.02" height="10.02" fill="#67cd6c"/>
<rect x="606.5" y="15.45" width="1.02" height="10.02" fill="#6bcd69"/>
<rect x="607.5" y="15.45" width="1.02" height="10.02" fill="#69cd6b"/>
<rect x="608.5" y="15.45" width="1.02" height="10.02" fill="#69cd6a"/>
<rect x="609.5" y="15.45" width="1.02" height="10.02" fill="#6acd6a"/>
<rect x="610.5" y="15.45" width="1.02" height="10.02" fill="#69cd6a"/>
<rect x="611.5" y="15.45" width="1.02" height="10.02" fill="#6acd6a"/>
<rect x="612.5" y="15.45" width="2.02" height="10.02" fill="#66cd6d"/>
<rect x="614.5" y="15.45" width="1.02" height="10.02" fill="#6acd6a"/>
<rect x="615.5" y="15.45" width="1.02" height="10.02" fill="#67cd6c"/>
<rect x="616.5" y="15.45" width="1.02" height="10.02" fill="#67cd6d"/>
<rect x="617.5" y="15.45" width="1.02" height="10.02" fill="#66cd6d"/>
<rect x="618.5" y="15.45" width="1.02" height="10.02" fill="#6bcd69"/>
<rect x="619.5" y="15.45" width="1.02" height="10.02" fill="#6acd6a"/>
<rect x="620.5" y="15.45" width="1.02" height="10.02" fill="#6bcd69"/>
<rect x="621.5" y="15.45" width="1.02" height="10.02" fill="#67cd6d"/>
<rect x="622.5" y="15.45" width="1.02" height="10.02" fill="#68cd6b"/>
<rect x="623.5" y="15.45" width="1.02" height="10.02" fill="#66cd6d"/>
<rect x="624.5" y="15.45" width="1.02" height="10.02" fill="#6acd6a"/>
<rect x="625.5" y="15.45" width="1.02" height="10.02" fill="#6bcd69"/>
<rect x="626.5" y="15.45" width="1.02" height="10.02" fill="#67cd6d"/>
<rect x="627.5" y="15.45" width="1.02" height="10.02" fill="#6bcd69"/>
<rect x="628.5" y="15.45" width="1.02" height="10.02" fill="#6acd6a"/>
<rect x="629.5" y="15.45" width="1.02" height="10.02" fill="#68cd6c"/>
<rect x="630.5" y="15.45" width="1.02" height="10.02" fill="#64cd6e"/>
<rect x="631.5" y="15.45" width="1.02" height="10.02" fill="#6bcd69"/>
<rect x="632.5" y="15.45" width="1.02" height="10.02" fill="#68cd6c"/>
<rect x="418.5" y="25.45" width="1.02" height="44.02" fill="#e9bb2f"/>
<rect x="419.5" y="25.45" width="1.02" height="44.02" fill="#d7be28"/>
<rect x="420.5" y="25.45" width="1.02" height="44.02" fill="#c7c12a"/>
<rect x="421.5" y="25.45" width="1.02" height="44.02" fill="#bec32e"/>
<rect x="422.5" y="25.45" width="1.02" height="44.02" fill="#b5c533"/>
<rect x="423.5" y="25.45" width="1.02" height="44.02" fill="#b4c534"/>
<rect x="424.5" y="25.45" width="1.02" height="44.02" fill="#b6c532"/>
<rect x="425.5" y="25.45" width="1.02" height="44.02" fill="#b0c636"/>
<rect x="426.5" y="25.45" width="1.02" height="44.02" fill="#afc636"/>
<rect x="427.5" y="25.45" width="1.02" height="44.02" fill="#aac73a"/>
<rect x="428.5" y="25.45" width="1.02" height="44.02" fill="#a8c73b"/>
<rect x="429.5" y="25.45" width="1.02" height="44.02" fill="#a5c83d"/>
<rect x="430.5" y="25.45" width="1.02" height="44.02" fill="#9bc945"/>
<rect x="431.5" y="25.45" width="1.02" height="44.02" fill="#a5c83d"/>
<rect x="432.5" y="25.45" width="1.02" height="44.02" fill="#a2c83f"/>
<rect x="433.5" y="25.45" width="1.02" height="44.02" fill="#a1c840"/>
<rect x="434.5" y="25.45" width="1.02" height="44.02" fill="#95ca49"/>
<rect x="435.5" y="25.45" width="1.02" height="44.02" fill="#94ca4a"/>
<rect x="436.5" y="25.45" width="1.02" height="44.02" fill="#97ca48"/>
<rect x="437.5" y="25.45" width="1.02" height="44.02" fill="#98c947"/>
<rect x="438.5" y="25.45" width="1.02" height="44.02" fill="#9bc945"/>
<rect x="439.5" y="25.45" width="1.02" height="44.02" fill="#98c947"/>
<rect x="440.5" y="25.45" width="1.02" height="44.02" fill="#9ac945"/>
<rect x="441.5" y="25.45" width="1.02" height="44.02" fill="#94ca4a"/>
<rect x="442.5" y="25.45" width="2.02" height="44.02" fill="#98ca47"/>
<rect x="444.5" y="25.45" width="1.02" height="44.02" fill="#92ca4b"/>
<rect x="445.5" y="25.45" width="1.02" height="44.02" fill="#9dc943"/>
<rect x="446.5" y="25.45" width="1.02" height="44.02" fill="#97ca48"/>
<rect x="447.5" y="25.45" width="1.02" height="44.02" fill="#99c946"/>
<rect x="448.5" y="25.45" width="1.02" height="44.02" fill="#90ca4d"/>
<rect x="449.5" y="25.45" width="1.02" height="44.02" fill="#8fcb4e"/>
<rect x="450.5" y="25.45" width="1.02" height="44.02" fill="#90ca4d"/>
<rect x="451.5" y="25.45" width="1.02" height="44.02" fill="#91ca4c"/>
<rect x="452.5" y="25.45" width="1.02" height="44.02" fill="#94ca4a"/>
<rect x="453.5" y="25.45" width="1.02" height="44.02" fill="#92ca4c"/>
<rect x="454.5" y="25.45" width="1.02" height="44.02" fill="#8ecb4f"/>
<rect x="455.5" y="25.45" width="1.02" height="44.02" fill="#8bcb51"/>
<rect x="456.5" y="25.45" width="1.02" height="44.02" fill="#8dcb50"/>
<rect x="457.5" y="25.45" width="1.02" height="44.02" fill="#94ca4a"/>
<rect x="458.5" y="25.45" width="1.02" height="44.02" fill="#8acb51"/>
<rect x="459.5" y="25.45" width="1.02" height="44.02" fill="#8fcb4e"/>
<rect x="460.5" y="25.45" width="1.02" height="44.02" fill="#90ca4d"/>
<rect x="461.5" y="25.45" width="1.02" height="44.02" fill="#86cb55"/>
<rect x="462.5" y="25.45" width="1.02" height="44.02" fill="#8dcb4f"/>
<rect x="463.5" y="25.45" width="1.02" height="44.02" fill="#93ca4b"/>
<rect x="464.5" y="25.45" width="1.02" height="44.02" fill="#82cc57"/>
<rect x="465.5" y="25.45" width="1.02" height="44.02" fill="#8acb52"/>
<rect x="466.5" y="25.45" width="1.02" height="44.02" fill="#8bcb51"/>
<rect x="467.5" y="25.45" width="1.02" height="44.02" fill="#87cb54"/>
<rect x="468.5" y="25.45" width="1.02" height="44.02" fill="#8dcb4f"/>
<rect x="469.5" y="25.45" width="1.02" height="44.02" fill="#8acb52"/>
<rect x="470.5" y="25.45" width="1.02" height="44.02" fill="#83cc57"/>
<rect x="471.5" y="25.45" width="1.02" height="44.02" fill="#8dcb4f"/>
<rect x="472.5" y="25.45" width="1.02" height="44.02" fill="#8ccb50"/>
<rect x="473.5" y="25.45" width="1.02" height="44.02" fill="#8dcb4f"/>
<rect x="474.5" y="25.45" width="1.02" height="44.02" fill="#8fcb4e"/>
<rect x="475.5" y="25.45" width="1.02" height="44.02" fill="#8acb52"/>
<rect x="476.5" y="25.45" width="1.02" height="44.02" fill="#88cb53"/>
<rect x="477.5" y="25.45" width="1.02" height="44.02" fill="#81cc58"/>
<rect x="478.5" y="25.45" width="1.02" height="44.02" fill="#8acb52"/>
<rect x="479.5" y="25.45" width="1.02" height="44.02" fill="#84cc56"/>
<rect x="480.5" y="25.45" width="1.02" height="44.02" fill="#84cb56"/>
<rect x="481.5" y="25.45" width="1.02" height="44.02" fill="#80cc59"/>
<rect x="482.5" y="25.45" width="1.02" height="44.02" fill="#81cc58"/>
<rect x="483.5" y="25.45" width="1.02" height="44.02" fill="#83cc57"/>
<rect x="484.5" y="25.45" width="1.02" height="44.02" fill="#8ccb50"/>
<rect x="485.5" y="25.45" width="1.02" height="44.02" fill="#7bcc5d"/>
<rect x="486.5" y="25.45" width="1.02" height="44.02" fill="#7ecc5b"/>
<rect x="487.5" y="25.45" width="1.02" height="44.02" fill="#86cb55"/>
<rect x="488.5" y="25.45" width="1.02" height="44.02" fill="#8bcb51"/>
<rect x="489.5" y="25.45" width="1.02" height="44.02" fill="#87cb54"/>
<rect x="490.5" y="25.45" width="1.02" height="44.02" fill="#7acc5d"/>
<rect x="491.5" y="25.45" width="1.02" height="44.02" fill="#77cc60"/>
<rect x="492.5" y="25.45" width="1.02" height="44.02" fill="#85cb55"/>
<rect x="493.5" y="25.45" width="1.02" height="44.02" fill="#7fcc5a"/>
<rect x="494.5" y="25.45" width="1.02" height="44.02" fill="#7dcc5b"/>
<rect x="495.5" y="25.45" width="2.02" height="44.02" fill="#87cb54"/>
<rect x="497.5" y="25.45" width="2.02" height="44.02" fill="#83cc57"/>
<rect x="499.5" y="25.45" width="1.02" height="44.02" fill="#84cc57"/>
<rect x="500.5" y="25.45" width="1.02" height="44.02" fill="#89cb52"/>
<rect x="501.5" y="25.45" width="1.02" height="44.02" fill="#84cc56"/>
<rect x="502.5" y="25.45" width="2.02" height="44.02" fill="#83cc57"/>
<rect x="504.5" y="25.45" width="1.02" height="44.02" fill="#79cc5f"/>
<rect x="505.5" y="25.45" width="1.02" height="44.02" fill="#86cb54"/>
<rect x="506.5" y="25.45" width="1.02" height="44.02" fill="#84cb56"/>
<rect x="507.5" y="25.45" width="1.02" height="44.02" fill="#82cc58"/>
<rect x="508.5" y="25.45" width="1.02" height="44.02" fill="#76cc61"/>
<rect x="509.5" y="25.45" width="1.02" height="44.02" fill="#7ccc5c"/>
<rect x="510.5" y="25.45" width="1.02" height="44.02" fill="#83cc57"/>
<rect x="511.5" y="25.45" width="1.02" height="44.02" fill="#76cc61"/>
<rect x="512.5" y="25.45" width="1.02" height="44.02" fill="#7ecc5b"/>
<rect x="513.5" y="25.45" width="1.02" height="44.02" fill="#83cc57"/>
<rect x="514.5" y="25.45" width="1.02" height="44.02" fill="#78cc5f"/>
<rect x="515.5" y="25.45" width="1.02" height="44.02" fill="#86cb55"/>
<rect x="516.5" y="25.45" width="1.02" height="44.02" fill="#80cc59"/>
<rect x="517.5" y="25.45" width="1.02" height="44.02" fill="#7dcc5c"/>
<rect x="518.5" y="25.45" width="1.02" height="44.02" fill="#7fcc5a"/>
<rect x="519.5" y="25.45" width="1.02" height="44.02" fill="#80cc59"/>
<rect x="520.5" y="25.45" width="1.02" height="44.02" fill="#7ecc5b"/>
<rect x="521.5" y="25.45" width="1.02" height="44.02" fill="#82cc57"/>
<rect x="522.5" y="25.45" width="1.02" height="44.02" fill="#79cc5e"/>
<rect x="523.5" y="25.45" width="1.02" height="44.02" fill="#7acc5d"/>
<rect x="524.5" y="25.45" width="1.02" height="44.02" fill="#81cc58"/>
<rect x="525.5" y="25.45" width="1.02" height="44.02" fill="#7ccc5c"/>
<rect x="526.5" y="25.45" width="1.02" height="44.02" fill="#78cc5f"/>
<rect x="527.5" y="25.45" width="1.02" height="44.02" fill="#80cc59"/>
<rect x="528.5" y="25.45" width="1.02" height="44.02" fill="#83cc57"/>
<rect x="529.5" y="25.45" width="1.02" height="44.02" fill="#79cc5e"/>
<rect x="530.5" y="25.45" width="1.02" height="44.02" fill="#74cc62"/>
<rect x="531.5" y="25.45" width="2.02" height="44.02" fill="#7acc5d"/>
<rect x="533.5" y="25.45" width="1.02" height="44.02" fill="#79cc5e"/>
<rect x="534.5" y="25.45" width="1.02" height="44.02" fill="#82cc58"/>
<rect x="535.5" y="25.45" width="1.02" height="44.02" fill="#75cc61"/>
<rect x="536.5" y="25.45" width="1.02" height="44.02" fill="#81cc59"/>
<rect x="537.5" y="25.45" width="1.02" height="44.02" fill="#74cc62"/>
<rect x="538.5" y="25.45" width="1.02" height="44.02" fill="#76cc60"/>
<rect x="539.5" y="25.45" width="1.02" height="44.02" fill="#7dcc5b"/>
<rect x="540.5" y="25.45" width="1.02" height="44.02" fill="#7fcc5a"/>
<rect x="541.5" y="25.45" width="1.02" height="44.02" fill="#7ecc5b"/>
<rect x="542.5" y="25.45" width="1.02" height="44.02" fill="#7bcc5d"/>
<rect x="543.5" y="25.45" width="2.02" height="44.02" fill="#7acc5e"/>
<rect x="545.5" y="25.45" width="1.02" height="44.02" fill="#7ccc5c"/>
<rect x="546.5" y="25.45" width="1.02" height="44.02" fill="#78cc5f"/>
<rect x="547.5" y="25.45" width="1.02" height="44.02" fill="#7acc5d"/>
<rect x="548.5" y="25.45" width="1.02" height="44.02" fill="#7bcc5d"/>
<rect x="549.5" y="25.45" width="1.02" height="44.02" fill="#79cc5f"/>
<rect x="550.5" y="25.45" width="1.02" height="44.02" fill="#7ccc5c"/>
<rect x="551.5" y="25.45" width="1.02" height="44.02" fill="#7bcc5d"/>
<rect x="552.5" y="25.45" width="1.02" height="44.02" fill="#82cc58"/>
<rect x="553.5" y="25.45" width="1.02" height="44.02" fill="#7acc5e"/>
<rect x="554.5" y="25.45" width="2.02" height="44.02" fill="#76cc61"/>
<rect x="556.5" y="25.45" width="1.02" height="44.02" fill="#78cc5f"/>
<rect x="557.5" y="25.45" width="1.02" height="44.02" fill="#7ccc5c"/>
<rect x="558.5" y="25.45" width="1.02" height="44.02" fill="#76cc61"/>
<rect x="559.5" y="25.45" width="1.02" height="44.02" fill="#79cc5e"/>
<rect x="560.5" y="25.45" width="1.02" height="44.02" fill="#80cc59"/>
<rect x="561.5" y="25.45" width="1.02" height="44.02" fill="#6bcd69"/>
<rect x="562.5" y="25.45" width="1.02" height="44.02" fill="#71cd64"/>
<rect x="563.5" y="25.45" width="1.02" height="44.02" fill="#78cc5f"/>
<rect x="564.5" y="25.45" width="1.02" height="44.02" fill="#79cc5e"/>
<rect x="565.5" y="25.45" width="1.02" height="44.02" fill="#78cc5f"/>
<rect x="566.5" y="25.45" width="1.02" height="44.02" fill="#74cc62"/>
<rect x="567.5" y="25.45" width="1.02" height="44.02" fill="#7acc5e"/>
<rect x="568.5" y="25.45" width="1.02" height="44.02" fill="#78cc5f"/>
<rect x="569.5" y="25.45" width="1.02" height="44.02" fill="#74cd62"/>
<rect x="570.5" y="25.45" width="1.02" height="44.02" fill="#82cc58"/>
<rect x="571.5" y="25.45" width="1.02" height="44.02" fill="#78cc5f"/>
<rect x="572.5" y="25.45" width="1.02" height="44.02" fill="#73cd63"/>
<rect x="573.5" y="25.45" width="3.02" height="44.02" fill="#75cc61"/>
<rect x="576.5" y="25.45" width="1.02" height="44.02" fill="#69cd6b"/>
<rect x="577.5" y="25.45" width="1.02" height="44.02" fill="#73cd63"/>
<rect x="578.5" y="25.45" width="1.02" height="44.02" fill="#7acc5d"/>
<rect x="579.5" y="25.45" width="1.02" height="44.02" fill="#70cd65"/>
<rect x="580.5" y="25.45" width="1.02" height="44.02" fill="#75cc61"/>
<rect x="581.5" y="25.45" width="1.02" height="44.02" fill="#7acc5e"/>
<rect x="582.5" y="25.45" width="1.02" height="44.02" fill="#79cc5e"/>
<rect x="583.5" y="25.45" width="1.02" height="44.02" fill="#7ccc5c"/>
<rect x="584.5" y="25.45" width="1.02" height="44.02" fill="#6dcd68"/>
<rect x="585.5" y="25.45" width="2.02" height="44.02" fill="#73cd63"/>
<rect x="587.5" y="25.45" width="1.02" height="44.02" fill="#78cc5f"/>
<rect x="588.5" y="25.45" width="1.02" height="44.02" fill="#7acc5e"/>
<rect x="589.5" y="25.45" width="1.02" height="44.02" fill="#68cd6c"/>
<rect x="590.5" y="25.45" width="1.02" height="44.02" fill="#7acc5e"/>
<rect x="591.5" y="25.45" width="1.02" height="44.02" fill="#6ecd67"/>
<rect x="592.5" y="25.45" width="1.02" height="44.02" fill="#78cc5f"/>
<rect x="593.5" y="25.45" width="1.02" height="44.02" fill="#6dcd67"/>
<rect x="594.5" y="25.45" width="1.02" height="44.02" fill="#75cc61"/>
<rect x="595.5" y="25.45" width="1.02" height="44.02" fill="#7acc5e"/>
<rect x="596.5" y="25.45" width="1.02" height="44.02" fill="#73cd62"/>
<rect x="597.5" y="25.45" width="1.02" height="44.02" fill="#75cc61"/>
<rect x="598.5" y="25.45" width="1.02" height="44.02" fill="#78cc5f"/>
<rect x="599.5" y="25.45" width="1.02" height="44.02" fill="#75cc62"/>
<rect x="600.5" y="25.45" width="1.02" height="44.02" fill="#73cd62"/>
<rect x="601.5" y="25.45" width="1.02" height="44.02" fill="#7bcc5d"/>
<rect x="602.5" y="25.45" width="1.02" height="44.02" fill="#79cc5e"/>
<rect x="603.5" y="25.45" width="1.02" height="44.02" fill="#72cd63"/>
<rect x="604.5" y="25.45" width="1.02" height="44.02" fill="#81cc58"/>
<rect x="605.5" y="25.45" width="1.02" height="44.02" fill="#6ecd67"/>
<rect x="606.5" y="25.45" width="1.02" height="44.02" fill="#78cc5f"/>
<rect x="607.5" y="25.45" width="1.02" height="44.02" fill="#72cd63"/>
<rect x="608.5" y="25.45" width="1.02" height="44.02" fill="#74cc62"/>
<rect x="609.5" y="25.45" width="1.02" height="44.02" fill="#77cc60"/>
<rect x="610.5" y="25.45" width="1.02" height="44.02" fill="#74cc62"/>
<rect x="611.5" y="25.45" width="1.02" height="44.02" fill="#76cc60"/>
<rect x="612.5" y="25.45" width="2.02" height="44.02" fill="#6ccd68"/>
<rect x="614.5" y="25.45" width="1.02" height="44.02" fill="#76cc61"/>
<rect x="615.5" y="25.45" width="1.02" height="44.02" fill="#6ecd66"/>
<rect x="616.5" y="25.45" width="1.02" height="44.02" fill="#6ecd67"/>
<rect x="617.5" y="25.45" width="1.02" height="44.02" fill="#6ccd68"/>
<rect x="618.5" y="25.45" width="1.02" height="44.02" fill="#79cc5e"/>
<rect x="619.5" y="25.45" width="1.02" height="44.02" fill="#76cc60"/>
<rect x="620.5" y="25.45" width="1.02" height="44.02" fill="#7acc5e"/>
<rect x="621.5" y="25.45" width="1.02" height="44.02" fill="#6ecd67"/>
<rect x="622.5" y="25.45" width="1.02" height="44.02" fill="#72cd63"/>
<rect x="623.5" y="25.45" width="1.02" height="44.02" fill="#6dcd67"/>
<rect x="624.5" y="25.45" width="1.02" height="44.02" fill="#76cc60"/>
<rect x="625.5" y="25.45" width="1.02" height="44.02" fill="#7acc5d"/>
<rect x="626.5" y="25.45" width="1.02" height="44.02" fill="#6ecd67"/>
<rect x="627.5" y="25.45" width="1.02" height="44.02" fill="#7acc5e"/>
<rect x="628.5" y="25.45" width="1.02" height="44.02" fill="#77cc60"/>
<rect x="629.5" y="25.45" width="1.02" height="44.02" fill="#71cd64"/>
<rect x="630.5" y="25.45" width="1.02" height="44.02" fill="#69cd6b"/>
<rect x="631.5" y="25.45" width="1.02" height="44.02" fill="#79cc5e"/>
<rect x="632.5" y="25.45" width="1.02" height="44.02" fill="#72cd64"/>
<rect x="418.5" y="69.45" width="1.02" height="10.02" fill="#f4ba39"/>
<rect x="419.5" y="69.45" width="1.02" height="10.02" fill="#e2bc2b"/>
<rect x="420.5" y="69.45" width="1.02" height="10.02" fill="#d2bf27"/>
<rect x="421.5" y="69.45" width="1.02" height="10.02" fill="#c9c129"/>
<rect x="422.5" y="69.45" width="1.02" height="10.02" fill="#c0c32d"/>
<rect x="423.5" y="69.45" width="1.02" height="10.02" fill="#bec32e"/>
<rect x="424.5" y="69.45" width="1.02" height="10.02" fill="#c0c32d"/>
<rect x="425.5" y="69.45" width="1.02" height="10.02" fill="#b9c430"/>
<rect x="426.5" y="69.45" width="1.02" height="10.02" fill="#b9c431"/>
<rect x="427.5" y="69.45" width="1.02" height="10.02" fill="#b3c534"/>
<rect x="428.5" y="69.45" width="1.02" height="10.02" fill="#b1c635"/>
<rect x="429.5" y="69.45" width="1.02" height="10.02" fill="#aec637"/>
<rect x="430.5" y="69.45" width="1.02" height="10.02" fill="#a4c83e"/>
<rect x="431.5" y="69.45" width="1.02" height="10.02" fill="#aec637"/>
<rect x="432.5" y="69.45" width="1.02" height="10.02" fill="#abc739"/>
<rect x="433.5" y="69.45" width="1.02" height="10.02" fill="#aac73a"/>
<rect x="434.5" y="69.45" width="1.02" height="10.02" fill="#a1c840"/>
<rect x="435.5" y="69.45" width="1.02" height="10.02" fill="#a7c73c"/>
<rect x="436.5" y="69.45" width="1.02" height="10.02" fill="#b0c636"/>
<rect x="437.5" y="69.45" width="1.02" height="10.02" fill="#afc637"/>
<rect x="438.5" y="69.45" width="1.02" height="10.02" fill="#aac73a"/>
<rect x="439.5" y="69.45" width="1.02" height="10.02" fill="#a2c83f"/>
<rect x="440.5" y="69.45" width="1.02" height="10.02" fill="#a3c83f"/>
<rect x="441.5" y="69.45" width="1.02" height="10.02" fill="#9cc944"/>
<rect x="442.5" y="69.45" width="1.02" height="10.02" fill="#a0c841"/>
<rect x="443.5" y="69.45" width="1.02" height="10.02" fill="#a0c941"/>
<rect x="444.5" y="69.45" width="1.02" height="10.02" fill="#9ac945"/>
<rect x="445.5" y="69.45" width="1.02" height="10.02" fill="#a4c83e"/>
<rect x="446.5" y="69.45" width="1.02" height="10.02" fill="#9ec942"/>
<rect x="447.5" y="69.45" width="1.02" height="10.02" fill="#a1c840"/>
<rect x="448.5" y="69.45" width="1.02" height="10.02" fill="#98ca47"/>
<rect x="449.5" y="69.45" width="1.02" height="10.02" fill="#97ca48"/>
<rect x="450.5" y="69.45" width="1.02" height="10.02" fill="#98c947"/>
<rect x="451.5" y="69.45" width="1.02" height="10.02" fill="#99c946"/>
<rect x="452.5" y="69.45" width="1.02" height="10.02" fill="#9bc944"/>
<rect x="453.5" y="69.45" width="1.02" height="10.02" fill="#99c946"/>
<rect x="454.5" y="69.45" width="1.02" height="10.02" fill="#95ca49"/>
<rect x="455.5" y="69.45" width="1.02" height="10.02" fill="#93ca4b"/>
<rect x="456.5" y="69.45" width="1.02" height="10.02" fill="#94ca4a"/>
<rect x="457.5" y="69.45" width="1.02" height="10.02" fill="#9cc944"/>
<rect x="458.5" y="69.45" width="1.02" height="10.02" fill="#92ca4c"/>
<rect x="459.5" y="69.45" width="1.02" height="10.02" fill="#96ca48"/>
<rect x="460.5" y="69.45" width="1.02" height="10.02" fill="#97ca48"/>
<rect x="461.5" y="69.45" width="1.02" height="10.02" fill="#8dcb4f"/>
<rect x="462.5" y="69.45" width="1.02" height="10.02" fill="#95ca4a"/>
<rect x="463.5" y="69.45" width="1.02" height="10.02" fill="#9cc944"/>
<rect x="464.5" y="69.45" width="1.02" height="10.02" fill="#90ca4d"/>
<rect x="465.5" y="69.45" width="2.02" height="10.02" fill="#9cc944"/>
<rect x="467.5" y="69.45" width="1.02" height="10.02" fill="#93ca4a"/>
<rect x="468.5" y="69.45" width="1.02" height="10.02" fill="#95ca49"/>
<rect x="469.5" y="69.45" width="1.02" height="10.02" fill="#91ca4c"/>
<rect x="470.5" y="69.45" width="1.02" height="10.02" fill="#8acb52"/>
<rect x="471.5" y="69.45" width="1.02" height="10.02" fill="#94ca4a"/>
<rect x="472.5" y="69.45" width="1.02" height="10.02" fill="#93ca4b"/>
<rect x="473.5" y="69.45" width="1.02" height="10.02" fill="#94ca4a"/>
<rect x="474.5" y="69.45" width="1.02" height="10.02" fill="#96ca48"/>
<rect x="475.5" y="69.45" width="1.02" height="10.02" fill="#91ca4c"/>
<rect x="476.5" y="69.45" width="1.02" height="10.02" fill="#8fcb4e"/>
<rect x="477.5" y="69.45" width="1.02" height="10.02" fill="#88cb53"/>
<rect x="478.5" y="69.45" width="1.02" height="10.02" fill="#91ca4c"/>
<rect x="479.5" y="69.45" width="2.02" height="10.02" fill="#8bcb51"/>
<rect x="481.5" y="69.45" width="1.02" height="10.02" fill="#87cb54"/>
<rect x="482.5" y="69.45" width="1.02" height="10.02" fill="#88cb53"/>
<rect x="483.5" y="69.45" width="1.02" height="10.02" fill="#8acb52"/>
<rect x="484.5" y="69.45" width="1.02" height="10.02" fill="#92ca4b"/>
<rect x="485.5" y="69.45" width="1.02" height="10.02" fill="#82cc58"/>
<rect x="486.5" y="69.45" width="1.02" height="10.02" fill="#84cb56"/>
<rect x="487.5" y="69.45" width="1.02" height="10.02" fill="#8ccb50"/>
<rect x="488.5" y="69.45" width="1.02" height="10.02" fill="#92ca4c"/>
<rect x="489.5" y="69.45" width="1.02" height="10.02" fill="#8dcb4f"/>
<rect x="490.5" y="69.45" width="1.02" height="10.02" fill="#81cc58"/>
<rect x="491.5" y="69.45" width="1.02" height="10.02" fill="#7ecc5b"/>
<rect x="492.5" y="69.45" width="1.02" height="10.02" fill="#8bcb51"/>
<rect x="493.5" y="69.45" width="1.02" height="10.02" fill="#86cb55"/>
<rect x="494.5" y="69.45" width="1.02" height="10.02" fill="#84cc56"/>
<rect x="495.5" y="69.45" width="1.02" height="10.02" fill="#8dcb4f"/>
<rect x="496.5" y="69.45" width="1.02" height="10.02" fill="#8ecb4f"/>
<rect x="497.5" y="69.45" width="2.02" height="10.02" fill="#89cb52"/>
<rect x="499.5" y="69.45" width="1.02" height="10.02" fill="#8acb52"/>
<rect x="500.5" y="69.45" width="1.02" height="10.02" fill="#8fcb4e"/>
<rect x="501.5" y="69.45" width="1.02" height="10.02" fill="#8acb52"/>
<rect x="502.5" y="69.45" width="2.02" height="10.02" fill="#89cb52"/>
<rect x="504.5" y="69.45" width="1.02" height="10.02" fill="#7fcc5a"/>
<rect x="505.5" y="69.45" width="1.02" height="10.02" fill="#8ccb50"/>
<rect x="506.5" y="69.45" width="1.02" height="10.02" fill="#8bcb51"/>
<rect x="507.5" y="69.45" width="1.02" height="10.02" fill="#88cb53"/>
<rect x="508.5" y="69.45" width="1.02" height="10.02" fill="#7ccc5c"/>
<rect x="509.5" y="69.45" width="1.02" height="10.02" fill="#82cc58"/>
<rect x="510.5" y="69.45" width="1.02" height="10.02" fill="#89cb52"/>
<rect x="511.5" y="69.45" width="1.02" height="10.02" fill="#7ccc5c"/>
<rect x="512.5" y="69.45" width="1.02" height="10.02" fill="#84cc56"/>
<rect x="513.5" y="69.45" width="1.02" height="10.02" fill="#89cb52"/>
<rect x="514.5" y="69.45" width="1.02" height="10.02" fill="#7ecc5b"/>
<rect x="515.5" y="69.45" width="1.02" height="10.02" fill="#8ccb50"/>
<rect x="516.5" y="69.45" width="1.02" height="10.02" fill="#86cb54"/>
<rect x="517.5" y="69.45" width="1.02" height="10.02" fill="#83cc57"/>
<rect x="518.5" y="69.45" width="1.02" height="10.02" fill="#85cb56"/>
<rect x="519.5" y="69.45" width="1.02" height="10.02" fill="#86cb55"/>
<rect x="520.5" y="69.45" width="1.02" height="10.02" fill="#83cc57"/>
<rect x="521.5" y="69.45" width="1.02" height="10.02" fill="#88cb53"/>
<rect x="522.5" y="69.45" width="1.02" height="10.02" fill="#7fcc5a"/>
<rect x="523.5" y="69.45" width="1.02" height="10.02" fill="#80cc59"/>
<rect x="524.5" y="69.45" width="1.02" height="10.02" fill="#87cb54"/>
<rect x="525.5" y="69.45" width="1.02" height="10.02" fill="#82cc58"/>
<rect x="526.5" y="69.45" width="1.02" height="10.02" fill="#7dcc5b"/>
<rect x="527.5" y="69.45" width="1.02" height="10.02" fill="#86cb55"/>
<rect x="528.5" y="69.45" width="1.02" height="10.02" fill="#88cb53"/>
<rect x="529.5" y="69.45" width="1.02" height="10.02" fill="#7fcc5a"/>
<rect x="530.5" y="69.45" width="1.02" height="10.02" fill="#7acc5d"/>
<rect x="531.5" y="69.45" width="2.02" height="10.02" fill="#80cc59"/>
<rect x="533.5" y="69.45" width="1.02" height="10.02" fill="#7fcc5a"/>
<rect x="534.5" y="69.45" width="1.02" height="10.02" fill="#87cb54"/>
<rect x="535.5" y="69.45" width="1.02" height="10.02" fill="#7bcc5d"/>
<rect x="536.5" y="69.45" width="1.02" height="10.02" fill="#86cb55"/>
<rect x="537.5" y="69.45" width="1.02" height="10.02" fill="#7acc5e"/>
<rect x="538.5" y="69.45" width="1.02" height="10.02" fill="#7ccc5c"/>
<rect x="539.5" y="69.45" width="1.02" height="10.02" fill="#83cc57"/>
<rect x="540.5" y="69.45" width="1.02" height="10.02" fill="#85cb56"/>
<rect x="541.5" y="69.45" width="1.02" height="10.02" fill="#83cc57"/>
<rect x="542.5" y="69.45" width="1.02" height="10.02" fill="#81cc59"/>
<rect x="543.5" y="69.45" width="1.02" height="10.02" fill="#80cc5a"/>
<rect x="544.5" y="69.45" width="1.02" height="10.02" fill="#7fcc5a"/>
<rect x="545.5" y="69.45" width="1.02" height="10.02" fill="#81cc58"/>
<rect x="546.5" y="69.45" width="1.02" height="10.02" fill="#7ecc5b"/>
<rect x="547.5" y="69.45" width="1.02" height="10.02" fill="#80cc59"/>
<rect x="548.5" y="69.45" width="1.02" height="10.02" fill="#81cc58"/>
<rect x="549.5" y="69.45" width="1.02" height="10.02" fill="#7ecc5b"/>
<rect x="550.5" y="69.45" width="1.02" height="10.02" fill="#82cc58"/>
<rect x="551.5" y="69.45" width="1.02" height="10.02" fill="#81cc59"/>
<rect x="552.5" y="69.45" width="1.02" height="10.02" fill="#87cb54"/>
<rect x="553.5" y="69.45" width="1.02" height="10.02" fill="#7fcc5a"/>
<rect x="554.5" y="69.45" width="2.02" height="10.02" fill="#7bcc5d"/>
<rect x="556.5" y="69.45" width="1.02" height="10.02" fill="#7dcc5b"/>
<rect x="557.5" y="69.45" width="1.02" height="10.02" fill="#81cc58"/>
<rect x="558.5" y="69.45" width="1.02" height="10.02" fill="#7bcc5d"/>
<rect x="559.5" y="69.45" width="1.02" height="10.02" fill="#7fcc5a"/>
<rect x="560.5" y="69.45" width="1.02" height="10.02" fill="#86cb55"/>
<rect x="561.5" y="69.45" width="1.02" height="10.02" fill="#70cd65"/>
<rect x="562.5" y="69.45" width="1.02" height="10.02" fill="#77cc60"/>
<rect x="563.5" y="69.45" width="1.02" height="10.02" fill="#7dcc5b"/>
<rect x="564.5" y="69.45" width="1.02" height="10.02" fill="#7ecc5b"/>
<rect x="565.5" y="69.45" width="1.02" height="10.02" fill="#7dcc5b"/>
<rect x="566.5" y="69.45" width="1.02" height="10.02" fill="#7acc5e"/>
<rect x="567.5" y="69.45" width="1.02" height="10.02" fill="#7fcc5a"/>
<rect x="568.5" y="69.45" width="1.02" height="10.02" fill="#7dcc5b"/>
<rect x="569.5" y="69.45" width="1.02" height="10.02" fill="#79cc5e"/>
<rect x="570.5" y="69.45" width="1.02" height="10.02" fill="#87cb54"/>
<rect x="571.5" y="69.45" width="1.02" height="10.02" fill="#7dcc5b"/>
<rect x="572.5" y="69.45" width="1.02" height="10.02" fill="#78cc5f"/>
<rect x="573.5" y="69.45" width="1.02" height="10.02" fill="#7bcc5d"/>
<rect x="574.5" y="69.45" width="1.02" height="10.02" fill="#7acc5e"/>
<rect x="575.5" y="69.45" width="1.02" height="10.02" fill="#7bcc5d"/>
<rect x="576.5" y="69.45" width="1.02" height="10.02" fill="#6ecd67"/>
<rect x="577.5" y="69.45" width="1.02" height="10.02" fill="#78cc5f"/>
<rect x="578.5" y="69.45" width="1.02" height="10.02" fill="#80cc59"/>
<rect x="579.5" y="69.45" width="1.02" height="10.02" fill="#75cc61"/>
<rect x="580.5" y="69.45" width="1.02" height="10.02" fill="#7acc5e"/>
<rect x="581.5" y="69.45" width="1.02" height="10.02" fill="#7fcc5a"/>
<rect x="582.5" y="69.45" width="1.02" height="10.02" fill="#7ecc5a"/>
<rect x="583.5" y="69.45" width="1.02" height="10.02" fill="#81cc58"/>
<rect x="584.5" y="69.45" width="1.02" height="10.02" fill="#72cd64"/>
<rect x="585.5" y="69.45" width="2.02" height="10.02" fill="#78cc5f"/>
<rect x="587.5" y="69.45" width="1.02" height="10.02" fill="#7dcc5b"/>
<rect x="588.5" y="69.45" width="1.02" height="10.02" fill="#7fcc5a"/>
<rect x="589.5" y="69.45" width="1.02" height="10.02" fill="#6dcd68"/>
<rect x="590.5" y="69.45" width="1.02" height="10.02" fill="#7fcc5a"/>
<rect x="591.5" y="69.45" width="1.02" height="10.02" fill="#72cd63"/>
<rect x="592.5" y="69.45" width="1.02" height="10.02" fill="#7dcc5c"/>
<rect x="593.5" y="69.45" width="1.02" height="10.02" fill="#72cd63"/>
<rect x="594.5" y="69.45" width="1.02" height="10.02" fill="#7acc5e"/>
<rect x="595.5" y="69.45" width="1.02" height="10.02" fill="#7fcc5a"/>
<rect x="596.5" y="69.45" width="1.02" height="10.02" fill="#78cc5f"/>
<rect x="597.5" y="69.45" width="1.02" height="10.02" fill="#7acc5e"/>
<rect x="598.5" y="69.45" width="1.02" height="10.02" fill="#7dcc5c"/>
<rect x="599.5" y="69.45" width="1.02" height="10.02" fill="#7acc5e"/>
<rect x="600.5" y="69.45" width="1.02" height="10.02" fill="#78cc5f"/>
<rect x="601.5" y="69.45" width="1.02" height="10.02" fill="#80cc59"/>
<rect x="602.5" y="69.45" width="1.02" height="10.02" fill="#7ecc5b"/>
<rect x="603.5" y="69.45" width="1.02" height="10.02" fill="#77cc60"/>
<rect x="604.5" y="69.45" width="1.02" height="10.02" fill="#86cb55"/>
<rect x="605.5" y="69.45" width="1.02" height="10.02" fill="#73cd63"/>
<rect x="606.5" y="69.45" width="1.02" height="10.02" fill="#7dcc5b"/>
<rect x="607.5" y="69.45" width="1.02" height="10.02" fill="#77cc60"/>
<rect x="608.5" y="69.45" width="1.02" height="10.02" fill="#79cc5e"/>
<rect x="609.5" y="69.45" width="1.02" height="10.02" fill="#7ccc5c"/>
<rect x="610.5" y="69.45" width="1.02" height="10.02" fill="#79cc5e"/>
<rect x="611.5" y="69.45" width="1.02" height="10.02" fill="#7bcc5d"/>
<rect x="612.5" y="69.45" width="2.02" height="10.02" fill="#70cd65"/>
<rect x="614.5" y="69.45" width="1.02" height="10.02" fill="#7bcc5d"/>
<rect x="615.5" y="69.45" width="2.02" height="10.02" fill="#73cd63"/>
<rect x="617.5" y="69.45" width="1.02" height="10.02" fill="#70cd65"/>
<rect x="618.5" y="69.45" width="1.02" height="10.02" fill="#7ecc5b"/>
<rect x="619.5" y="69.45" width="1.02" height="10.02" fill="#7bcc5d"/>
<rect x="620.5" y="69.45" width="1.02" height="10.02" fill="#7fcc5a"/>
<rect x="621.5" y="69.45" width="1.02" height="10.02" fill="#73cd63"/>
<rect x="622.5" y="69.45" width="1.02" height="10.02" fill="#77cc5f"/>
<rect x="623.5" y="69.45" width="1.02" height="10.02" fill="#72cd64"/>
<rect x="624.5" y="69.45" width="1.02" height="10.02" fill="#7bcc5d"/>
<rect x="625.5" y="69.45" width="1.02" height="10.02" fill="#7fcc5a"/>
<rect x="626.5" y="69.45" width="1.02" height="10.02" fill="#73cd63"/>
<rect x="627.5" y="69.45" width="1.02" height="10.02" fill="#7fcc5a"/>
<rect x="628.5" y="69.45" width="1.02" height="10.02" fill="#7ccc5c"/>
<rect x="629.5" y="69.45" width="1.02" height="10.02" fill="#76cc60"/>
<rect x="630.5" y="69.45" width="1.02" height="10.02" fill="#6dcd67"/>
<rect x="631.5" y="69.45" width="1.02" height="10.02" fill="#7ecc5b"/>
<rect x="632.5" y="69.45" width="1.02" height="10.02" fill="#76cc60"/>
<rect x="418.5" y="79.45" width="1.02" height="11.02" fill="#febe3c"/>
<rect x="419.5" y="79.45" width="1.02" height="11.02" fill="#efba35"/>
<rect x="420.5" y="79.45" width="1.02" height="11.02" fill="#dfbc2a"/>
<rect x="421.5" y="79.45" width="1.02" height="11.02" fill="#d5be28"/>
<rect x="422.5" y="79.45" width="1.02" height="11.02" fill="#ccc028"/>
<rect x="423.5" y="79.45" width="2.02" height="11.02" fill="#cac129"/>
<rect x="425.5" y="79.45" width="1.02" height="11.02" fill="#c4c22b"/>
<rect x="426.5" y="79.45" width="1.02" height="11.02" fill="#c3c22b"/>
<rect x="427.5" y="79.45" width="1.02" height="11.02" fill="#bdc32e"/>
<rect x="428.5" y="79.45" width="1.02" height="11.02" fill="#bbc42f"/>
<rect x="429.5" y="79.45" width="1.02" height="11.02" fill="#b8c431"/>
<rect x="430.5" y="79.45" width="1.02" height="11.02" fill="#aec637"/>
<rect x="431.5" y="79.45" width="1.02" height="11.02" fill="#b8c431"/>
<rect x="432.5" y="79.45" width="1.02" height="11.02" fill="#b6c532"/>
<rect x="433.5" y="79.45" width="1.02" height="11.02" fill="#bac430"/>
<rect x="434.5" y="79.45" width="1.02" height="11.02" fill="#bfc32d"/>
<rect x="435.5" y="79.45" width="1.02" height="11.02" fill="#d3bf27"/>
<rect x="436.5" y="79.45" width="1.02" height="11.02" fill="#e3bb2c"/>
<rect x="437.5" y="79.45" width="1.02" height="11.02" fill="#e0bc2b"/>
<rect x="438.5" y="79.45" width="1.02" height="11.02" fill="#d0c027"/>
<rect x="439.5" y="79.45" width="1.02" height="11.02" fill="#b9c430"/>
<rect x="440.5" y="79.45" width="1.02" height="11.02" fill="#b0c636"/>
<rect x="441.5" y="79.45" width="1.02" height="11.02" fill="#a6c83d"/>
<rect x="442.5" y="79.45" width="2.02" height="11.02" fill="#a8c73b"/>
<rect x="444.5" y="79.45" width="1.02" height="11.02" fill="#a2c83f"/>
<rect x="445.5" y="79.45" width="1.02" height="11.02" fill="#acc738"/>
<rect x="446.5" y="79.45" width="1.02" height="11.02" fill="#a6c73c"/>
<rect x="447.5" y="79.45" width="1.02" height="11.02" fill="#a9c73b"/>
<rect x="448.5" y="79.45" width="1.02" height="11.02" fill="#a0c841"/>
<rect x="449.5" y="79.45" width="1.02" height="11.02" fill="#9fc942"/>
<rect x="450.5" y="79.45" width="2.02" height="11.02" fill="#a0c841"/>
<rect x="452.5" y="79.45" width="1.02" height="11.02" fill="#a3c83f"/>
<rect x="453.5" y="79.45" width="1.02" height="11.02" fill="#a1c840"/>
<rect x="454.5" y="79.45" width="1.02" height="11.02" fill="#9dc943"/>
<rect x="455.5" y="79.45" width="1.02" height="11.02" fill="#9ac945"/>
<rect x="456.5" y="79.45" width="1.02" height="11.02" fill="#9cc944"/>
<rect x="457.5" y="79.45" width="1.02" height="11.02" fill="#a3c83f"/>
<rect x="458.5" y="79.45" width="1.02" height="11.02" fill="#99c946"/>
<rect x="459.5" y="79.45" width="2.02" height="11.02" fill="#9ec942"/>
<rect x="461.5" y="79.45" width="1.02" height="11.02" fill="#96ca48"/>
<rect x="462.5" y="79.45" width="1.02" height="11.02" fill="#a1c840"/>
<rect x="463.5" y="79.45" width="1.02" height="11.02" fill="#b2c534"/>
<rect x="464.5" y="79.45" width="1.02" height="11.02" fill="#b6c532"/>
<rect x="465.5" y="79.45" width="1.02" height="11.02" fill="#cbc029"/>
<rect x="466.5" y="79.45" width="1.02" height="11.02" fill="#cac129"/>
<rect x="467.5" y="79.45" width="1.02" height="11.02" fill="#b6c532"/>
<rect x="468.5" y="79.45" width="1.02" height="11.02" fill="#aac73a"/>
<rect x="469.5" y="79.45" width="1.02" height="11.02" fill="#9cc944"/>
<rect x="470.5" y="79.45" width="1.02" height="11.02" fill="#92ca4c"/>
<rect x="471.5" y="79.45" width="1.02" height="11.02" fill="#9bc944"/>
<rect x="472.5" y="79.45" width="1.02" height="11.02" fill="#9ac945"/>
<rect x="473.5" y="79.45" width="1.02" height="11.02" fill="#9bc945"/>
<rect x="474.5" y="79.45" width="1.02" height="11.02" fill="#9dc943"/>
<rect x="475.5" y="79.45" width="1.02" height="11.02" fill="#97ca47"/>
<rect x="476.5" y="79.45" width="1.02" height="11.02" fill="#96ca49"/>
<rect x="477.5" y="79.45" width="1.02" height="11.02" fill="#8fcb4e"/>
<rect x="478.5" y="79.45" width="1.02" height="11.02" fill="#97ca47"/>
<rect x="479.5" y="79.45" width="2.02" height="11.02" fill="#91ca4c"/>
<rect x="481.5" y="79.45" width="1.02" height="11.02" fill="#8dcb4f"/>
<rect x="482.5" y="79.45" width="1.02" height="11.02" fill="#8ecb4e"/>
<rect x="483.5" y="79.45" width="1.02" height="11.02" fill="#90ca4d"/>
<rect x="484.5" y="79.45" width="1.02" height="11.02" fill="#98c947"/>
<rect x="485.5" y="79.45" width="1.02" height="11.02" fill="#88cb53"/>
<rect x="486.5" y="79.45" width="1.02" height="11.02" fill="#8acb51"/>
<rect x="487.5" y="79.45" width="1.02" height="11.02" fill="#92ca4b"/>
<rect x="488.5" y="79.45" width="1.02" height="11.02" fill="#98ca47"/>
<rect x="489.5" y="79.45" width="1.02" height="11.02" fill="#93ca4b"/>
<rect x="490.5" y="79.45" width="1.02" height="11.02" fill="#87cb54"/>
<rect x="491.5" y="79.45" width="1.02" height="11.02" fill="#84cb56"/>
<rect x="492.5" y="79.45" width="1.02" height="11.02" fill="#95ca49"/>
<rect x="493.5" y="79.45" width="1.02" height="11.02" fill="#98c947"/>
<rect x="494.5" y="79.45" width="1.02" height="11.02" fill="#a5c83d"/>
<rect x="495.5" y="79.45" width="1.02" height="11.02" fill="#bcc42f"/>
<rect x="496.5" y="79.45" width="1.02" height="11.02" fill="#bec32e"/>
<rect x="497.5" y="79.45" width="1.02" height="11.02" fill="#adc638"/>
<rect x="498.5" y="79.45" width="1.02" height="11.02" fill="#9ec943"/>
<rect x="499.5" y="79.45" width="1.02" height="11.02" fill="#94ca4a"/>
<rect x="500.5" y="79.45" width="1.02" height="11.02" fill="#96ca49"/>
<rect x="501.5" y="79.45" width="1.02" height="11.02" fill="#90ca4d"/>
<rect x="502.5" y="79.45" width="2.02" height="11.02" fill="#8fcb4e"/>
<rect x="504.5" y="79.45" width="1.02" height="11.02" fill="#84cb56"/>
<rect x="505.5" y="79.45" width="1.02" height="11.02" fill="#92ca4c"/>
<rect x="506.5" y="79.45" width="1.02" height="11.02" fill="#90ca4d"/>
<rect x="507.5" y="79.45" width="1.02" height="11.02" fill="#8ecb4f"/>
<rect x="508.5" y="79.45" width="1.02" height="11.02" fill="#81cc58"/>
<rect x="509.5" y="79.45" width="1.02" height="11.02" fill="#87cb54"/>
<rect x="510.5" y="79.45" width="1.02" height="11.02" fill="#8ecb4e"/>
<rect x="511.5" y="79.45" width="1.02" height="11.02" fill="#81cc58"/>
<rect x="512.5" y="79.45" width="1.02" height="11.02" fill="#89cb52"/>
<rect x="513.5" y="79.45" width="1.02" height="11.02" fill="#8ecb4e"/>
<rect x="514.5" y="79.45" width="1.02" height="11.02" fill="#83cc57"/>
<rect x="515.5" y="79.45" width="1.02" height="11.02" fill="#91ca4c"/>
<rect x="516.5" y="79.45" width="1.02" height="11.02" fill="#8bcb51"/>
<rect x="517.5" y="79.45" width="1.02" height="11.02" fill="#88cb53"/>
<rect x="518.5" y="79.45" width="1.02" height="11.02" fill="#8acb52"/>
<rect x="519.5" y="79.45" width="1.02" height="11.02" fill="#8bcb51"/>
<rect x="520.5" y="79.45" width="1.02" height="11.02" fill="#88cb53"/>
<rect x="521.5" y="79.45" width="1.02" height="11.02" fill="#8dcb4f"/>
<rect x="522.5" y="79.45" width="1.02" height="11.02" fill="#84cb56"/>
<rect x="523.5" y="79.45" width="1.02" height="11.02" fill="#85cb55"/>
<rect x="524.5" y="79.45" width="1.02" height="11.02" fill="#8ccb50"/>
<rect x="525.5" y="79.45" width="1.02" height="11.02" fill="#87cb54"/>
<rect x="526.5" y="79.45" width="1.02" height="11.02" fill="#82cc57"/>
<rect x="527.5" y="79.45" width="1.02" height="11.02" fill="#8bcb51"/>
<rect x="528.5" y="79.45" width="1.02" height="11.02" fill="#8dcb4f"/>
<rect x="529.5" y="79.45" width="1.02" height="11.02" fill="#84cc56"/>
<rect x="530.5" y="79.45" width="1.02" height="11.02" fill="#7fcc5a"/>
<rect x="531.5" y="79.45" width="1.02" height="11.02" fill="#85cb55"/>
<rect x="532.5" y="79.45" width="1.02" height="11.02" fill="#85cb56"/>
<rect x="533.5" y="79.45" width="1.02" height="11.02" fill="#84cc56"/>
<rect x="534.5" y="79.45" width="1.02" height="11.02" fill="#8ccb50"/>
<rect x="535.5" y="79.45" width="1.02" height="11.02" fill="#80cc59"/>
<rect x="536.5" y="79.45" width="1.02" height="11.02" fill="#8bcb51"/>
<rect x="537.5" y="79.45" width="1.02" height="11.02" fill="#7ecc5a"/>
<rect x="538.5" y="79.45" width="1.02" height="11.02" fill="#80cc59"/>
<rect x="539.5" y="79.45" width="1.02" height="11.02" fill="#87cb54"/>
<rect x="540.5" y="79.45" width="1.02" height="11.02" fill="#89cb52"/>
<rect x="541.5" y="79.45" width="1.02" height="11.02" fill="#88cb53"/>
<rect x="542.5" y="79.45" width="1.02" height="11.02" fill="#85cb55"/>
<rect x="543.5" y="79.45" width="2.02" height="11.02" fill="#84cc56"/>
<rect x="545.5" y="79.45" width="1.02" height="11.02" fill="#86cb55"/>
<rect x="546.5" y="79.45" width="1.02" height="11.02" fill="#82cc58"/>
<rect x="547.5" y="79.45" width="1.02" height="11.02" fill="#84cc56"/>
<rect x="548.5" y="79.45" width="1.02" height="11.02" fill="#85cb55"/>
<rect x="549.5" y="79.45" width="1.02" height="11.02" fill="#82cc57"/>
<rect x="550.5" y="79.45" width="1.02" height="11.02" fill="#86cb55"/>
<rect x="551.5" y="79.45" width="1.02" height="11.02" fill="#85cb56"/>
<rect x="552.5" y="79.45" width="1.02" height="11.02" fill="#8ccb50"/>
<rect x="553.5" y="79.45" width="1.02" height="11.02" fill="#83cc57"/>
<rect x="554.5" y="79.45" width="1.02" height="11.02" fill="#80cc5a"/>
<rect x="555.5" y="79.45" width="1.02" height="11.02" fill="#80cc59"/>
<rect x="556.5" y="79.45" width="1.02" height="11.02" fill="#81cc58"/>
<rect x="557.5" y="79.45" width="1.02" height="11.02" fill="#86cb55"/>
<rect x="558.5" y="79.45" width="1.02" height="11.02" fill="#7fcc5a"/>
<rect x="559.5" y="79.45" width="1.02" height="11.02" fill="#83cc57"/>
<rect x="560.5" y="79.45" width="1.02" height="11.02" fill="#8acb52"/>
<rect x="561.5" y="79.45" width="1.02" height="11.02" fill="#74cc62"/>
<rect x="562.5" y="79.45" width="1.02" height="11.02" fill="#7bcc5d"/>
<rect x="563.5" y="79.45" width="2.02" height="11.02" fill="#82cc58"/>
<rect x="565.5" y="79.45" width="1.02" height="11.02" fill="#81cc58"/>
<rect x="566.5" y="79.45" width="1.02" height="11.02" fill="#7ecc5b"/>
<rect x="567.5" y="79.45" width="1.02" height="11.02" fill="#83cc57"/>
<rect x="568.5" y="79.45" width="1.02" height="11.02" fill="#81cc58"/>
<rect x="569.5" y="79.45" width="1.02" height="11.02" fill="#7dcc5b"/>
<rect x="570.5" y="79.45" width="1.02" height="11.02" fill="#8bcb51"/>
<rect x="571.5" y="79.45" width="1.02" height="11.02" fill="#81cc58"/>
<rect x="572.5" y="79.45" width="1.02" height="11.02" fill="#7dcc5c"/>
<rect x="573.5" y="79.45" width="1.02" height="11.02" fill="#7fcc5a"/>
<rect x="574.5" y="79.45" width="1.02" height="11.02" fill="#7ecc5b"/>
<rect x="575.5" y="79.45" width="1.02" height="11.02" fill="#7fcc5a"/>
<rect x="576.5" y="79.45" width="1.02" height="11.02" fill="#71cd64"/>
<rect x="577.5" y="79.45" width="1.02" height="11.02" fill="#7ccc5c"/>
<rect x="578.5" y="79.45" width="1.02" height="11.02" fill="#84cc57"/>
<rect x="579.5" y="79.45" width="1.02" height="11.02" fill="#79cc5f"/>
<rect x="580.5" y="79.45" width="1.02" height="11.02" fill="#7ecc5b"/>
<rect x="581.5" y="79.45" width="1.02" height="11.02" fill="#83cc57"/>
<rect x="582.5" y="79.45" width="1.02" height="11.02" fill="#82cc57"/>
<rect x="583.5" y="79.45" width="1.02" height="11.02" fill="#85cb55"/>
<rect x="584.5" y="79.45" width="1.02" height="11.02" fill="#76cc61"/>
<rect x="585.5" y="79.45" width="2.02" height="11.02" fill="#7ccc5c"/>
<rect x="587.5" y="79.45" width="1.02" height="11.02" fill="#81cc59"/>
<rect x="588.5" y="79.45" width="1.02" height="11.02" fill="#83cc57"/>
<rect x="589.5" y="79.45" width="1.02" height="11.02" fill="#70cd65"/>
<rect x="590.5" y="79.45" width="1.02" height="11.02" fill="#83cc57"/>
<rect x="591.5" y="79.45" width="1.02" height="11.02" fill="#76cc60"/>
<rect x="592.5" y="79.45" width="1.02" height="11.02" fill="#81cc59"/>
<rect x="593.5" y="79.45" width="1.02" height="11.02" fill="#76cc61"/>
<rect x="594.5" y="79.45" width="1.02" height="11.02" fill="#7ecc5b"/>
<rect x="595.5" y="79.45" width="1.02" height="11.02" fill="#83cc57"/>
<rect x="596.5" y="79.45" width="1.02" height="11.02" fill="#7ccc5c"/>
<rect x="597.5" y="79.45" width="1.02" height="11.02" fill="#7ecc5b"/>
<rect x="598.5" y="79.45" width="1.02" height="11.02" fill="#81cc59"/>
<rect x="599.5" y="79.45" width="1.02" height="11.02" fill="#7dcc5b"/>
<rect x="600.5" y="79.45" width="1.02" height="11.02" fill="#7ccc5c"/>
<rect x="601.5" y="79.45" width="1.02" height="11.02" fill="#84cc56"/>
<rect x="602.5" y="79.45" width="1.02" height="11.02" fill="#82cc58"/>
<rect x="603.5" y="79.45" width="1.02" height="11.02" fill="#7bcc5d"/>
<rect x="604.5" y="79.45" width="1.02" height="11.02" fill="#8acb52"/>
<rect x="605.5" y="79.45" width="1.02" height="11.02" fill="#76cc60"/>
<rect x="606.5" y="79.45" width="1.02" height="11.02" fill="#81cc59"/>
<rect x="607.5" y="79.45" width="1.02" height="11.02" fill="#7bcc5d"/>
<rect x="608.5" y="79.45" width="1.02" height="11.02" fill="#7dcc5c"/>
<rect x="609.5" y="79.45" width="1.02" height="11.02" fill="#7fcc5a"/>
<rect x="610.5" y="79.45" width="1.02" height="11.02" fill="#7dcc5c"/>
<rect x="611.5" y="79.45" width="1.02" height="11.02" fill="#7fcc5a"/>
<rect x="612.5" y="79.45" width="2.02" height="11.02" fill="#74cc62"/>
<rect x="614.5" y="79.45" width="1.02" height="11.02" fill="#7ecc5a"/>
<rect x="615.5" y="79.45" width="1.02" height="11.02" fill="#77cc60"/>
<rect x="616.5" y="79.45" width="1.02" height="11.02" fill="#76cc60"/>
<rect x="617.5" y="79.45" width="1.02" height="11.02" fill="#74cc62"/>
<rect x="618.5" y="79.45" width="1.02" height="11.02" fill="#81cc58"/>
<rect x="619.5" y="79.45" width="1.02" height="11.02" fill="#7fcc5a"/>
<rect x="620.5" y="79.45" width="1.02" height="11.02" fill="#82cc57"/>
<rect x="621.5" y="79.45" width="1.02" height="11.02" fill="#76cc60"/>
<rect x="622.5" y="79.45" width="1.02" height="11.02" fill="#7bcc5d"/>
<rect x="623.5" y="79.45" width="1.02" height="11.02" fill="#75cc61"/>
<rect x="624.5" y="79.45" width="1.02" height="11.02" fill="#7fcc5a"/>
<rect x="625.5" y="79.45" width="1.02" height="11.02" fill="#83cc57"/>
<rect x="626.5" y="79.45" width="1.02" height="11.02" fill="#76cc60"/>
<rect x="627.5" y="79.45" width="1.02" height="11.02" fill="#82cc57"/>
<rect x="628.5" y="79.45" width="1.02" height="11.02" fill="#7fcc5a"/>
<rect x="629.5" y="79.45" width="1.02" height="11.02" fill="#7acc5e"/>
<rect x="630.5" y="79.45" width="1.02" height="11.02" fill="#71cd64"/>
<rect x="631.5" y="79.45" width="1.02" height="11.02" fill="#81cc58"/>
<rect x="632.5" y="79.45" width="1.02" height="11.02" fill="#7acc5e"/>
<rect x="418.5" y="90.45" width="1.02" height="11.02" fill="#dbbd29"/>
<rect x="419.5" y="90.45" width="1.02" height="11.02" fill="#c5c22a"/>
<rect x="420.5" y="90.45" width="1.02" height="11.02" fill="#b8c431"/>
<rect x="421.5" y="90.45" width="1.02" height="11.02" fill="#b3c534"/>
<rect x="422.5" y="90.45" width="1.02" height="11.02" fill="#b1c636"/>
<rect x="423.5" y="90.45" width="1.02" height="11.02" fill="#b2c535"/>
<rect x="424.5" y="90.45" width="1.02" height="11.02" fill="#b6c532"/>
<rect x="425.5" y="90.45" width="1.02" height="11.02" fill="#b5c533"/>
<rect x="426.5" y="90.45" width="1.02" height="11.02" fill="#b8c431"/>
<rect x="427.5" y="90.45" width="1.02" height="11.02" fill="#b7c532"/>
<rect x="428.5" y="90.45" width="1.02" height="11.02" fill="#b8c431"/>
<rect x="429.5" y="90.45" width="1.02" height="11.02" fill="#b9c431"/>
<rect x="430.5" y="90.45" width="1.02" height="11.02" fill="#b6c533"/>
<rect x="431.5" y="90.45" width="2.02" height="11.02" fill="#bcc42f"/>
<rect x="433.5" y="90.45" width="1.02" height="11.02" fill="#bec32e"/>
<rect x="434.5" y="90.45" width="1.02" height="11.02" fill="#bfc32d"/>
<rect x="435.5" y="90.45" width="1.02" height="11.02" fill="#c9c129"/>
<rect x="436.5" y="90.45" width="1.02" height="11.02" fill="#d3bf27"/>
<rect x="437.5" y="90.45" width="1.02" height="11.02" fill="#d2bf27"/>
<rect x="438.5" y="90.45" width="1.02" height="11.02" fill="#cbc129"/>
<rect x="439.5" y="90.45" width="1.02" height="11.02" fill="#c2c22b"/>
<rect x="440.5" y="90.45" width="1.02" height="11.02" fill="#c1c32c"/>
<rect x="441.5" y="90.45" width="1.02" height="11.02" fill="#bec32e"/>
<rect x="442.5" y="90.45" width="1.02" height="11.02" fill="#c1c32d"/>
<rect x="443.5" y="90.45" width="1.02" height="11.02" fill="#c1c32c"/>
<rect x="444.5" y="90.45" width="1.02" height="11.02" fill="#bfc32d"/>
<rect x="445.5" y="90.45" width="1.02" height="11.02" fill="#c4c22a"/>
<rect x="446.5" y="90.45" width="1.02" height="11.02" fill="#c2c22c"/>
<rect x="447.5" y="90.45" width="1.02" height="11.02" fill="#c4c22b"/>
<rect x="448.5" y="90.45" width="2.02" height="11.02" fill="#c0c32d"/>
<rect x="450.5" y="90.45" width="1.02" height="11.02" fill="#c1c32c"/>
<rect x="451.5" y="90.45" width="1.02" height="11.02" fill="#c2c22c"/>
<rect x="452.5" y="90.45" width="1.02" height="11.02" fill="#c4c22b"/>
<rect x="453.5" y="90.45" width="1.02" height="11.02" fill="#c3c22b"/>
<rect x="454.5" y="90.45" width="1.02" height="11.02" fill="#c2c22c"/>
<rect x="455.5" y="90.45" width="1.02" height="11.02" fill="#c1c32c"/>
<rect x="456.5" y="90.45" width="1.02" height="11.02" fill="#c2c22c"/>
<rect x="457.5" y="90.45" width="1.02" height="11.02" fill="#c6c22a"/>
<rect x="458.5" y="90.45" width="1.02" height="11.02" fill="#c2c22c"/>
<rect x="459.5" y="90.45" width="1.02" height="11.02" fill="#c4c22b"/>
<rect x="460.5" y="90.45" width="1.02" height="11.02" fill="#c5c22a"/>
<rect x="461.5" y="90.45" width="1.02" height="11.02" fill="#c3c22b"/>
<rect x="462.5" y="90.45" width="1.02" height="11.02" fill="#ccc028"/>
<rect x="463.5" y="90.45" width="1.02" height="11.02" fill="#ddbd29"/>
<rect x="464.5" y="90.45" width="1.02" height="11.02" fill="#ebba32"/>
<rect x="465.5" y="90.45" width="1.02" height="11.02" fill="#fabb3d"/>
<rect x="466.5" y="90.45" width="1.02" height="11.02" fill="#f7ba3c"/>
<rect x="467.5" y="90.45" width="1.02" height="11.02" fill="#e5bb2d"/>
<rect x="468.5" y="90.45" width="1.02" height="11.02" fill="#d5be28"/>
<rect x="469.5" y="90.45" width="1.02" height="11.02" fill="#c9c129"/>
<rect x="470.5" y="90.45" width="1.02" height="11.02" fill="#c2c22c"/>
<rect x="471.5" y="90.45" width="2.02" height="11.02" fill="#c6c22a"/>
<rect x="473.5" y="90.45" width="1.02" height="11.02" fill="#c7c12a"/>
<rect x="474.5" y="90.45" width="1.02" height="11.02" fill="#c8c129"/>
<rect x="475.5" y="90.45" width="2.02" height="11.02" fill="#c5c22a"/>
<rect x="477.5" y="90.45" width="1.02" height="11.02" fill="#c2c22c"/>
<rect x="478.5" y="90.45" width="1.02" height="11.02" fill="#c6c22a"/>
<rect x="479.5" y="90.45" width="2.02" height="11.02" fill="#c4c22b"/>
<rect x="481.5" y="90.45" width="1.02" height="11.02" fill="#c2c22c"/>
<rect x="482.5" y="90.45" width="1.02" height="11.02" fill="#c3c22b"/>
<rect x="483.5" y="90.45" width="1.02" height="11.02" fill="#c4c22b"/>
<rect x="484.5" y="90.45" width="1.02" height="11.02" fill="#c8c129"/>
<rect x="485.5" y="90.45" width="1.02" height="11.02" fill="#c1c32c"/>
<rect x="486.5" y="90.45" width="1.02" height="11.02" fill="#c2c22c"/>
<rect x="487.5" y="90.45" width="1.02" height="11.02" fill="#c6c22a"/>
<rect x="488.5" y="90.45" width="1.02" height="11.02" fill="#c8c129"/>
<rect x="489.5" y="90.45" width="1.02" height="11.02" fill="#c6c22a"/>
<rect x="490.5" y="90.45" width="2.02" height="11.02" fill="#c1c32c"/>
<rect x="492.5" y="90.45" width="1.02" height="11.02" fill="#cbc029"/>
<rect x="493.5" y="90.45" width="1.02" height="11.02" fill="#d4bf28"/>
<rect x="494.5" y="90.45" width="1.02" height="11.02" fill="#e5bb2c"/>
<rect x="495.5" y="90.45" width="1.02" height="11.02" fill="#f6ba3b"/>
<rect x="496.5" y="90.45" width="1.02" height="11.02" fill="#f9ba3d"/>
<rect x="497.5" y="90.45" width="1.02" height="11.02" fill="#edba33"/>
<rect x="498.5" y="90.45" width="1.02" height="11.02" fill="#dcbd29"/>
<rect x="499.5" y="90.45" width="1.02" height="11.02" fill="#cfc028"/>
<rect x="500.5" y="90.45" width="1.02" height="11.02" fill="#cbc129"/>
<rect x="501.5" y="90.45" width="1.02" height="11.02" fill="#c7c12a"/>
<rect x="502.5" y="90.45" width="2.02" height="11.02" fill="#c6c22a"/>
<rect x="504.5" y="90.45" width="1.02" height="11.02" fill="#c2c22c"/>
<rect x="505.5" y="90.45" width="1.02" height="11.02" fill="#c8c129"/>
<rect x="506.5" y="90.45" width="1.02" height="11.02" fill="#c7c12a"/>
<rect x="507.5" y="90.45" width="1.02" height="11.02" fill="#c6c22a"/>
<rect x="508.5" y="90.45" width="1.02" height="11.02" fill="#c1c32c"/>
<rect x="509.5" y="90.45" width="1.02" height="11.02" fill="#c4c22b"/>
<rect x="510.5" y="90.45" width="1.02" height="11.02" fill="#c7c12a"/>
<rect x="511.5" y="90.45" width="1.02" height="11.02" fill="#c1c32c"/>
<rect x="512.5" y="90.45" width="1.02" height="11.02" fill="#c5c22a"/>
<rect x="513.5" y="90.45" width="1.02" height="11.02" fill="#c7c12a"/>
<rect x="514.5" y="90.45" width="1.02" height="11.02" fill="#c3c22b"/>
<rect x="515.5" y="90.45" width="1.02" height="11.02" fill="#c8c129"/>
<rect x="516.5" y="90.45" width="1.02" height="11.02" fill="#c6c22a"/>
<rect x="517.5" y="90.45" width="1.02" height="11.02" fill="#c5c22a"/>
<rect x="518.5" y="90.45" width="1.02" height="11.02" fill="#c6c22a"/>
<rect x="519.5" y="90.45" width="1.02" height="11.02" fill="#c7c12a"/>
<rect x="520.5" y="90.45" width="1.02" height="11.02" fill="#c6c22a"/>
<rect x="521.5" y="90.45" width="1.02" height="11.02" fill="#c9c129"/>
<rect x="522.5" y="90.45" width="1.02" height="11.02" fill="#c8c129"/>
<rect x="523.5" y="90.45" width="1.02" height="11.02" fill="#cfc028"/>
<rect x="524.5" y="90.45" width="1.02" height="11.02" fill="#dcbd29"/>
<rect x="525.5" y="90.45" width="1.02" height="11.02" fill="#e5bb2d"/>
<rect x="526.5" y="90.45" width="1.02" height="11.02" fill="#ecba32"/>
<rect x="527.5" y="90.45" width="1.02" height="11.02" fill="#f1ba37"/>
<rect x="528.5" y="90.45" width="1.02" height="11.02" fill="#edba33"/>
<rect x="529.5" y="90.45" width="1.02" height="11.02" fill="#e0bc2a"/>
<rect x="530.5" y="90.45" width="1.02" height="11.02" fill="#d3bf27"/>
<rect x="531.5" y="90.45" width="1.02" height="11.02" fill="#cdc028"/>
<rect x="532.5" y="90.45" width="1.02" height="11.02" fill="#c8c129"/>
<rect x="533.5" y="90.45" width="1.02" height="11.02" fill="#c6c22a"/>
<rect x="534.5" y="90.45" width="1.02" height="11.02" fill="#c8c129"/>
<rect x="535.5" y="90.45" width="1.02" height="11.02" fill="#c3c22b"/>
<rect x="536.5" y="90.45" width="1.02" height="11.02" fill="#c8c129"/>
<rect x="537.5" y="90.45" width="1.02" height="11.02" fill="#c3c22b"/>
<rect x="538.5" y="90.45" width="1.02" height="11.02" fill="#c4c22b"/>
<rect x="539.5" y="90.45" width="1.02" height="11.02" fill="#c7c12a"/>
<rect x="540.5" y="90.45" width="1.02" height="11.02" fill="#c8c129"/>
<rect x="541.5" y="90.45" width="1.02" height="11.02" fill="#c7c12a"/>
<rect x="542.5" y="90.45" width="4.02" height="11.02" fill="#c6c22a"/>
<rect x="546.5" y="90.45" width="1.02" height="11.02" fill="#c5c22a"/>
<rect x="547.5" y="90.45" width="1.02" height="11.02" fill="#c6c22a"/>
<rect x="548.5" y="90.45" width="2.02" height="11.02" fill="#c7c12a"/>
<rect x="550.5" y="90.45" width="1.02" height="11.02" fill="#cbc029"/>
<rect x="551.5" y="90.45" width="1.02" height="11.02" fill="#d0bf27"/>
<rect x="552.5" y="90.45" width="1.02" height="11.02" fill="#dbbd29"/>
<rect x="553.5" y="90.45" width="1.02" height="11.02" fill="#e2bc2b"/>
<rect x="554.5" y="90.45" width="1.02" height="11.02" fill="#ebba31"/>
<rect x="555.5" y="90.45" width="1.02" height="11.02" fill="#f1ba37"/>
<rect x="556.5" y="90.45" width="1.02" height="11.02" fill="#f4ba39"/>
<rect x="557.5" y="90.45" width="1.02" height="11.02" fill="#f1ba37"/>
<rect x="558.5" y="90.45" width="1.02" height="11.02" fill="#e7bb2e"/>
<rect x="559.5" y="90.45" width="1.02" height="11.02" fill="#debd29"/>
<rect x="560.5" y="90.45" width="1.02" height="11.02" fill="#d7be28"/>
<rect x="561.5" y="90.45" width="1.02" height="11.02" fill="#c8c129"/>
<rect x="562.5" y="90.45" width="1.02" height="11.02" fill="#c6c22a"/>
<rect x="563.5" y="90.45" width="1.02" height="11.02" fill="#c7c12a"/>
<rect x="564.5" y="90.45" width="2.02" height="11.02" fill="#c6c22a"/>
<rect x="566.5" y="90.45" width="1.02" height="11.02" fill="#c4c22a"/>
<rect x="567.5" y="90.45" width="1.02" height="11.02" fill="#c7c12a"/>
<rect x="568.5" y="90.45" width="1.02" height="11.02" fill="#c6c22a"/>
<rect x="569.5" y="90.45" width="1.02" height="11.02" fill="#c4c22b"/>
<rect x="570.5" y="90.45" width="1.02" height="11.02" fill="#cac129"/>
<rect x="571.5" y="90.45" width="1.02" height="11.02" fill="#c6c22a"/>
<rect x="572.5" y="90.45" width="1.02" height="11.02" fill="#c4c22b"/>
<rect x="573.5" y="90.45" width="3.02" height="11.02" fill="#c5c22a"/>
<rect x="576.5" y="90.45" width="1.02" height="11.02" fill="#c0c32d"/>
<rect x="577.5" y="90.45" width="1.02" height="11.02" fill="#c5c22a"/>
<rect x="578.5" y="90.45" width="1.02" height="11.02" fill="#c8c129"/>
<rect x="579.5" y="90.45" width="1.02" height="11.02" fill="#c6c22a"/>
<rect x="580.5" y="90.45" width="1.02" height="11.02" fill="#ccc028"/>
<rect x="581.5" y="90.45" width="1.02" height="11.02" fill="#d4bf28"/>
<rect x="582.5" y="90.45" width="1.02" height="11.02" fill="#dcbd29"/>
<rect x="583.5" y="90.45" width="1.02" height="11.02" fill="#e7bb2e"/>
<rect x="584.5" y="90.45" width="1.02" height="11.02" fill="#e9bb30"/>
<rect x="585.5" y="90.45" width="1.02" height="11.02" fill="#efba35"/>
<rect x="586.5" y="90.45" width="1.02" height="11.02" fill="#edba34"/>
<rect x="587.5" y="90.45" width="1.02" height="11.02" fill="#e9bb2f"/>
<rect x="588.5" y="90.45" width="1.02" height="11.02" fill="#e0bc2b"/>
<rect x="589.5" y="90.45" width="2.02" height="11.02" fill="#d0bf27"/>
<rect x="591.5" y="90.45" width="1.02" height="11.02" fill="#c6c22a"/>
<rect x="592.5" y="90.45" width="1.02" height="11.02" fill="#c8c129"/>
<rect x="593.5" y="90.45" width="1.02" height="11.02" fill="#c3c22b"/>
<rect x="594.5" y="90.45" width="1.02" height="11.02" fill="#c6c22a"/>
<rect x="595.5" y="90.45" width="1.02" height="11.02" fill="#c8c129"/>
<rect x="596.5" y="90.45" width="1.02" height="11.02" fill="#c5c22a"/>
<rect x="597.5" y="90.45" width="1.02" height="11.02" fill="#c6c22a"/>
<rect x="598.5" y="90.45" width="1.02" height="11.02" fill="#c7c12a"/>
<rect x="599.5" y="90.45" width="1.02" height="11.02" fill="#c6c22a"/>
<rect x="600.5" y="90.45" width="1.02" height="11.02" fill="#c5c22a"/>
<rect x="601.5" y="90.45" width="1.02" height="11.02" fill="#c9c129"/>
<rect x="602.5" y="90.45" width="1.02" height="11.02" fill="#c8c129"/>
<rect x="603.5" y="90.45" width="1.02" height="11.02" fill="#c6c22a"/>
<rect x="604.5" y="90.45" width="1.02" height="11.02" fill="#cdc028"/>
<rect x="605.5" y="90.45" width="1.02" height="11.02" fill="#c7c129"/>
<rect x="606.5" y="90.45" width="1.02" height="11.02" fill="#cec028"/>
<rect x="607.5" y="90.45" width="1.02" height="11.02" fill="#d0bf27"/>
<rect x="608.5" y="90.45" width="1.02" height="11.02" fill="#d7be28"/>
<rect x="609.5" y="90.45" width="1.02" height="11.02" fill="#debd2a"/>
<rect x="610.5" y="90.45" width="1.02" height="11.02" fill="#e4bb2c"/>
<rect x="611.5" y="90.45" width="1.02" height="11.02" fill="#ebba32"/>
<rect x="612.5" y="90.45" width="1.02" height="11.02" fill="#edba34"/>
<rect x="613.5" y="90.45" width="1.02" height="11.02" fill="#f1ba37"/>
<rect x="614.5" y="90.45" width="1.02" height="11.02" fill="#f6ba3b"/>
<rect x="615.5" y="90.45" width="1.02" height="11.02" fill="#f3ba39"/>
<rect x="616.5" y="90.45" width="1.02" height="11.02" fill="#f1ba37"/>
<rect x="617.5" y="90.45" width="1.02" height="11.02" fill="#eeba34"/>
<rect x="618.5" y="90.45" width="1.02" height="11.02" fill="#efba35"/>
<rect x="619.5" y="90.45" width="1.02" height="11.02" fill="#edba33"/>
<rect x="620.5" y="90.45" width="1.02" height="11.02" fill="#edba34"/>
<rect x="621.5" y="90.45" width="1.02" height="11.02" fill="#ebba32"/>
<rect x="622.5" y="90.45" width="1.02" height="11.02" fill="#efba35"/>
<rect x="623.5" y="90.45" width="1.02" height="11.02" fill="#f1ba37"/>
<rect x="624.5" y="90.45" width="1.02" height="11.02" fill="#f7ba3c"/>
<rect x="625.5" y="90.45" width="1.02" height="11.02" fill="#f9bb3d"/>
<rect x="626.5" y="90.45" width="1.02" height="11.02" fill="#f7ba3c"/>
<rect x="627.5" y="90.45" width="1.02" height="11.02" fill="#f9bb3d"/>
<rect x="628.5" y="90.45" width="1.02" height="11.02" fill="#f6ba3b"/>
<rect x="629.5" y="90.45" width="1.02" height="11.02" fill="#efba35"/>
<rect x="630.5" y="90.45" width="1.02" height="11.02" fill="#e7bb2e"/>
<rect x="631.5" y="90.45" width="1.02" height="11.02" fill="#e6bb2d"/>
<rect x="632.5" y="90.45" width="1.02" height="11.02" fill="#ddbd29"/>
</g>
<g clip-path="url(#csb)" shape-rendering="crispEdges">
<rect x="418.5" y="135.45" width="1.02" height="24.02" fill="#dabd28"/>
<rect x="419.5" y="135.45" width="1.02" height="24.02" fill="#cdc028"/>
<rect x="420.5" y="135.45" width="1.02" height="24.02" fill="#c0c32d"/>
<rect x="421.5" y="135.45" width="1.02" height="24.02" fill="#b8c431"/>
<rect x="422.5" y="135.45" width="1.02" height="24.02" fill="#a5c83d"/>
<rect x="423.5" y="135.45" width="1.02" height="24.02" fill="#a4c83e"/>
<rect x="424.5" y="135.45" width="1.02" height="24.02" fill="#9ec942"/>
<rect x="425.5" y="135.45" width="1.02" height="24.02" fill="#98c947"/>
<rect x="426.5" y="135.45" width="1.02" height="24.02" fill="#8dcb4f"/>
<rect x="427.5" y="135.45" width="1.02" height="24.02" fill="#87cb54"/>
<rect x="428.5" y="135.45" width="1.02" height="24.02" fill="#89cb52"/>
<rect x="429.5" y="135.45" width="1.02" height="24.02" fill="#82cc58"/>
<rect x="430.5" y="135.45" width="1.02" height="24.02" fill="#7fcc5a"/>
<rect x="431.5" y="135.45" width="1.02" height="24.02" fill="#81cc58"/>
<rect x="432.5" y="135.45" width="1.02" height="24.02" fill="#78cc5f"/>
<rect x="433.5" y="135.45" width="1.02" height="24.02" fill="#6fcd66"/>
<rect x="434.5" y="135.45" width="1.02" height="24.02" fill="#74cd62"/>
<rect x="435.5" y="135.45" width="1.02" height="24.02" fill="#6dcd68"/>
<rect x="436.5" y="135.45" width="1.02" height="24.02" fill="#75cc62"/>
<rect x="437.5" y="135.45" width="1.02" height="24.02" fill="#71cd64"/>
<rect x="438.5" y="135.45" width="1.02" height="24.02" fill="#6dcd68"/>
<rect x="439.5" y="135.45" width="1.02" height="24.02" fill="#6dcd67"/>
<rect x="440.5" y="135.45" width="1.02" height="24.02" fill="#6fcd66"/>
<rect x="441.5" y="135.45" width="1.02" height="24.02" fill="#6ccd69"/>
<rect x="442.5" y="135.45" width="1.02" height="24.02" fill="#6fcd66"/>
<rect x="443.5" y="135.45" width="1.02" height="24.02" fill="#69cd6b"/>
<rect x="444.5" y="135.45" width="1.02" height="24.02" fill="#6ccd68"/>
<rect x="445.5" y="135.45" width="1.02" height="24.02" fill="#6dcd68"/>
<rect x="446.5" y="135.45" width="1.02" height="24.02" fill="#6ccd68"/>
<rect x="447.5" y="135.45" width="1.02" height="24.02" fill="#64cd6f"/>
<rect x="448.5" y="135.45" width="1.02" height="24.02" fill="#68cd6b"/>
<rect x="449.5" y="135.45" width="1.02" height="24.02" fill="#5ecd74"/>
<rect x="450.5" y="135.45" width="1.02" height="24.02" fill="#60cd72"/>
<rect x="451.5" y="135.45" width="1.02" height="24.02" fill="#5dcc75"/>
<rect x="452.5" y="135.45" width="1.02" height="24.02" fill="#66cd6d"/>
<rect x="453.5" y="135.45" width="1.02" height="24.02" fill="#5ecd74"/>
<rect x="454.5" y="135.45" width="1.02" height="24.02" fill="#62cd71"/>
<rect x="455.5" y="135.45" width="2.02" height="24.02" fill="#61cd72"/>
<rect x="457.5" y="135.45" width="1.02" height="24.02" fill="#5ecd74"/>
<rect x="458.5" y="135.45" width="1.02" height="24.02" fill="#60cd72"/>
<rect x="459.5" y="135.45" width="1.02" height="24.02" fill="#65cd6e"/>
<rect x="460.5" y="135.45" width="1.02" height="24.02" fill="#5fcd73"/>
<rect x="461.5" y="135.45" width="1.02" height="24.02" fill="#60cd72"/>
<rect x="462.5" y="135.45" width="1.02" height="24.02" fill="#61cd71"/>
<rect x="463.5" y="135.45" width="1.02" height="24.02" fill="#5dcc75"/>
<rect x="464.5" y="135.45" width="1.02" height="24.02" fill="#59cc78"/>
<rect x="465.5" y="135.45" width="1.02" height="24.02" fill="#5bcc76"/>
<rect x="466.5" y="135.45" width="1.02" height="24.02" fill="#60cd72"/>
<rect x="467.5" y="135.45" width="1.02" height="24.02" fill="#57cc7a"/>
<rect x="468.5" y="135.45" width="1.02" height="24.02" fill="#5acc77"/>
<rect x="469.5" y="135.45" width="1.02" height="24.02" fill="#5fcd73"/>
<rect x="470.5" y="135.45" width="1.02" height="24.02" fill="#5ecc74"/>
<rect x="471.5" y="135.45" width="1.02" height="24.02" fill="#5bcc76"/>
<rect x="472.5" y="135.45" width="1.02" height="24.02" fill="#5dcc74"/>
<rect x="473.5" y="135.45" width="1.02" height="24.02" fill="#5bcc76"/>
<rect x="474.5" y="135.45" width="1.02" height="24.02" fill="#57cc7a"/>
<rect x="475.5" y="135.45" width="1.02" height="24.02" fill="#55cc7c"/>
<rect x="476.5" y="135.45" width="1.02" height="24.02" fill="#58cc79"/>
<rect x="477.5" y="135.45" width="1.02" height="24.02" fill="#5ccc75"/>
<rect x="478.5" y="135.45" width="1.02" height="24.02" fill="#57cc7a"/>
<rect x="479.5" y="135.45" width="2.02" height="24.02" fill="#56cc7b"/>
<rect x="481.5" y="135.45" width="1.02" height="24.02" fill="#54cc7d"/>
<rect x="482.5" y="135.45" width="1.02" height="24.02" fill="#58cc79"/>
<rect x="483.5" y="135.45" width="1.02" height="24.02" fill="#54cc7c"/>
<rect x="484.5" y="135.45" width="1.02" height="24.02" fill="#59cc78"/>
<rect x="485.5" y="135.45" width="1.02" height="24.02" fill="#50cc7f"/>
<rect x="486.5" y="135.45" width="1.02" height="24.02" fill="#58cc79"/>
<rect x="487.5" y="135.45" width="1.02" height="24.02" fill="#55cc7b"/>
<rect x="488.5" y="135.45" width="1.02" height="24.02" fill="#51cc7f"/>
<rect x="489.5" y="135.45" width="1.02" height="24.02" fill="#59cc78"/>
<rect x="490.5" y="135.45" width="1.02" height="24.02" fill="#56cc7b"/>
<rect x="491.5" y="135.45" width="1.02" height="24.02" fill="#4fcc80"/>
<rect x="492.5" y="135.45" width="1.02" height="24.02" fill="#54cc7d"/>
<rect x="493.5" y="135.45" width="1.02" height="24.02" fill="#57cc7a"/>
<rect x="494.5" y="135.45" width="1.02" height="24.02" fill="#54cc7c"/>
<rect x="495.5" y="135.45" width="2.02" height="24.02" fill="#58cc79"/>
<rect x="497.5" y="135.45" width="1.02" height="24.02" fill="#58cc7a"/>
<rect x="498.5" y="135.45" width="1.02" height="24.02" fill="#56cc7b"/>
<rect x="499.5" y="135.45" width="1.02" height="24.02" fill="#59cc78"/>
<rect x="500.5" y="135.45" width="1.02" height="24.02" fill="#57cc7a"/>
<rect x="501.5" y="135.45" width="1.02" height="24.02" fill="#56cc7b"/>
<rect x="502.5" y="135.45" width="1.02" height="24.02" fill="#4ecc81"/>
<rect x="503.5" y="135.45" width="1.02" height="24.02" fill="#57cc7a"/>
<rect x="504.5" y="135.45" width="1.02" height="24.02" fill="#58cc79"/>
<rect x="505.5" y="135.45" width="1.02" height="24.02" fill="#53cc7d"/>
<rect x="506.5" y="135.45" width="1.02" height="24.02" fill="#53cc7e"/>
<rect x="507.5" y="135.45" width="1.02" height="24.02" fill="#5acc77"/>
<rect x="508.5" y="135.45" width="1.02" height="24.02" fill="#4ecc81"/>
<rect x="509.5" y="135.45" width="1.02" height="24.02" fill="#55cc7c"/>
<rect x="510.5" y="135.45" width="1.02" height="24.02" fill="#5bcc76"/>
<rect x="511.5" y="135.45" width="1.02" height="24.02" fill="#50cc7f"/>
<rect x="512.5" y="135.45" width="1.02" height="24.02" fill="#55cc7b"/>
<rect x="513.5" y="135.45" width="1.02" height="24.02" fill="#59cc78"/>
<rect x="514.5" y="135.45" width="1.02" height="24.02" fill="#53cc7d"/>
<rect x="515.5" y="135.45" width="1.02" height="24.02" fill="#55cc7c"/>
<rect x="516.5" y="135.45" width="1.02" height="24.02" fill="#56cc7b"/>
<rect x="517.5" y="135.45" width="1.02" height="24.02" fill="#50cc80"/>
<rect x="518.5" y="135.45" width="1.02" height="24.02" fill="#52cc7e"/>
<rect x="519.5" y="135.45" width="1.02" height="24.02" fill="#53cc7d"/>
<rect x="520.5" y="135.45" width="1.02" height="24.02" fill="#55cc7c"/>
<rect x="521.5" y="135.45" width="2.02" height="24.02" fill="#52cc7e"/>
<rect x="523.5" y="135.45" width="1.02" height="24.02" fill="#4fcc81"/>
<rect x="524.5" y="135.45" width="1.02" height="24.02" fill="#51cc7f"/>
<rect x="525.5" y="135.45" width="1.02" height="24.02" fill="#55cc7c"/>
<rect x="526.5" y="135.45" width="1.02" height="24.02" fill="#52cc7e"/>
<rect x="527.5" y="135.45" width="2.02" height="24.02" fill="#4fcc80"/>
<rect x="529.5" y="135.45" width="1.02" height="24.02" fill="#5acc77"/>
<rect x="530.5" y="135.45" width="1.02" height="24.02" fill="#55cc7c"/>
<rect x="531.5" y="135.45" width="1.02" height="24.02" fill="#53cc7d"/>
<rect x="532.5" y="135.45" width="1.02" height="24.02" fill="#49cb85"/>
<rect x="533.5" y="135.45" width="1.02" height="24.02" fill="#53cc7d"/>
<rect x="534.5" y="135.45" width="1.02" height="24.02" fill="#53cc7e"/>
<rect x="535.5" y="135.45" width="1.02" height="24.02" fill="#56cc7b"/>
<rect x="536.5" y="135.45" width="1.02" height="24.02" fill="#52cc7e"/>
<rect x="537.5" y="135.45" width="1.02" height="24.02" fill="#51cc7f"/>
<rect x="538.5" y="135.45" width="1.02" height="24.02" fill="#52cc7e"/>
<rect x="539.5" y="135.45" width="1.02" height="24.02" fill="#4bcb84"/>
<rect x="540.5" y="135.45" width="1.02" height="24.02" fill="#54cc7d"/>
<rect x="541.5" y="135.45" width="1.02" height="24.02" fill="#52cc7e"/>
<rect x="542.5" y="135.45" width="1.02" height="24.02" fill="#4ecc81"/>
<rect x="543.5" y="135.45" width="1.02" height="24.02" fill="#55cc7c"/>
<rect x="544.5" y="135.45" width="1.02" height="24.02" fill="#56cc7b"/>
<rect x="545.5" y="135.45" width="1.02" height="24.02" fill="#4ccb83"/>
<rect x="546.5" y="135.45" width="1.02" height="24.02" fill="#4ecc81"/>
<rect x="547.5" y="135.45" width="2.02" height="24.02" fill="#51cc7f"/>
<rect x="549.5" y="135.45" width="1.02" height="24.02" fill="#4fcc81"/>
<rect x="550.5" y="135.45" width="1.02" height="24.02" fill="#4dcc82"/>
<rect x="551.5" y="135.45" width="1.02" height="24.02" fill="#57cc7a"/>
<rect x="552.5" y="135.45" width="1.02" height="24.02" fill="#53cc7d"/>
<rect x="553.5" y="135.45" width="1.02" height="24.02" fill="#4ccb83"/>
<rect x="554.5" y="135.45" width="1.02" height="24.02" fill="#4bcb83"/>
<rect x="555.5" y="135.45" width="1.02" height="24.02" fill="#55cc7c"/>
<rect x="556.5" y="135.45" width="1.02" height="24.02" fill="#53cc7d"/>
<rect x="557.5" y="135.45" width="1.02" height="24.02" fill="#55cc7b"/>
<rect x="558.5" y="135.45" width="1.02" height="24.02" fill="#52cc7e"/>
<rect x="559.5" y="135.45" width="1.02" height="24.02" fill="#4dcb82"/>
<rect x="560.5" y="135.45" width="1.02" height="24.02" fill="#50cc7f"/>
<rect x="561.5" y="135.45" width="1.02" height="24.02" fill="#49cb86"/>
<rect x="562.5" y="135.45" width="1.02" height="24.02" fill="#4dcc82"/>
<rect x="563.5" y="135.45" width="1.02" height="24.02" fill="#4fcc80"/>
<rect x="564.5" y="135.45" width="1.02" height="24.02" fill="#51cc7f"/>
<rect x="565.5" y="135.45" width="1.02" height="24.02" fill="#4dcc82"/>
<rect x="566.5" y="135.45" width="1.02" height="24.02" fill="#4fcc81"/>
<rect x="567.5" y="135.45" width="2.02" height="24.02" fill="#50cc7f"/>
<rect x="569.5" y="135.45" width="1.02" height="24.02" fill="#51cc7f"/>
<rect x="570.5" y="135.45" width="1.02" height="24.02" fill="#50cc80"/>
<rect x="571.5" y="135.45" width="1.02" height="24.02" fill="#4ecc81"/>
<rect x="572.5" y="135.45" width="1.02" height="24.02" fill="#51cc7f"/>
<rect x="573.5" y="135.45" width="1.02" height="24.02" fill="#4fcc80"/>
<rect x="574.5" y="135.45" width="1.02" height="24.02" fill="#4ccb83"/>
<rect x="575.5" y="135.45" width="1.02" height="24.02" fill="#4dcb82"/>
<rect x="576.5" y="135.45" width="1.02" height="24.02" fill="#4fcc81"/>
<rect x="577.5" y="135.45" width="1.02" height="24.02" fill="#4ecc81"/>
<rect x="578.5" y="135.45" width="1.02" height="24.02" fill="#4fcc80"/>
<rect x="579.5" y="135.45" width="1.02" height="24.02" fill="#4fcc81"/>
<rect x="580.5" y="135.45" width="1.02" height="24.02" fill="#4fcc80"/>
<rect x="581.5" y="135.45" width="1.02" height="24.02" fill="#4ecc81"/>
<rect x="582.5" y="135.45" width="1.02" height="24.02" fill="#4acb84"/>
<rect x="583.5" y="135.45" width="1.02" height="24.02" fill="#50cc80"/>
<rect x="584.5" y="135.45" width="1.02" height="24.02" fill="#52cc7e"/>
<rect x="585.5" y="135.45" width="1.02" height="24.02" fill="#50cc80"/>
<rect x="586.5" y="135.45" width="1.02" height="24.02" fill="#4ecc81"/>
<rect x="587.5" y="135.45" width="1.02" height="24.02" fill="#50cc80"/>
<rect x="588.5" y="135.45" width="1.02" height="24.02" fill="#4bcb83"/>
<rect x="589.5" y="135.45" width="1.02" height="24.02" fill="#48cb86"/>
<rect x="590.5" y="135.45" width="1.02" height="24.02" fill="#4ecc81"/>
<rect x="591.5" y="135.45" width="1.02" height="24.02" fill="#4bcb83"/>
<rect x="592.5" y="135.45" width="1.02" height="24.02" fill="#50cc7f"/>
<rect x="593.5" y="135.45" width="1.02" height="24.02" fill="#4bcb84"/>
<rect x="594.5" y="135.45" width="1.02" height="24.02" fill="#46cb88"/>
<rect x="595.5" y="135.45" width="1.02" height="24.02" fill="#4bcb84"/>
<rect x="596.5" y="135.45" width="1.02" height="24.02" fill="#53cc7d"/>
<rect x="597.5" y="135.45" width="1.02" height="24.02" fill="#4dcc82"/>
<rect x="598.5" y="135.45" width="1.02" height="24.02" fill="#4acb85"/>
<rect x="599.5" y="135.45" width="1.02" height="24.02" fill="#4ccb83"/>
<rect x="600.5" y="135.45" width="1.02" height="24.02" fill="#50cc80"/>
<rect x="601.5" y="135.45" width="1.02" height="24.02" fill="#4fcc80"/>
<rect x="602.5" y="135.45" width="1.02" height="24.02" fill="#4ecc81"/>
<rect x="603.5" y="135.45" width="1.02" height="24.02" fill="#53cc7e"/>
<rect x="604.5" y="135.45" width="1.02" height="24.02" fill="#50cc80"/>
<rect x="605.5" y="135.45" width="1.02" height="24.02" fill="#4ecc81"/>
<rect x="606.5" y="135.45" width="1.02" height="24.02" fill="#50cc80"/>
<rect x="607.5" y="135.45" width="1.02" height="24.02" fill="#53cc7d"/>
<rect x="608.5" y="135.45" width="2.02" height="24.02" fill="#51cc7f"/>
<rect x="610.5" y="135.45" width="1.02" height="24.02" fill="#4acb84"/>
<rect x="611.5" y="135.45" width="1.02" height="24.02" fill="#4dcc82"/>
<rect x="612.5" y="135.45" width="1.02" height="24.02" fill="#50cc80"/>
<rect x="613.5" y="135.45" width="1.02" height="24.02" fill="#4dcb82"/>
<rect x="614.5" y="135.45" width="1.02" height="24.02" fill="#51cc7f"/>
<rect x="615.5" y="135.45" width="1.02" height="24.02" fill="#50cc80"/>
<rect x="616.5" y="135.45" width="1.02" height="24.02" fill="#50cc7f"/>
<rect x="617.5" y="135.45" width="1.02" height="24.02" fill="#4dcc82"/>
<rect x="618.5" y="135.45" width="1.02" height="24.02" fill="#56cc7b"/>
<rect x="619.5" y="135.45" width="1.02" height="24.02" fill="#51cc7e"/>
<rect x="620.5" y="135.45" width="1.02" height="24.02" fill="#4dcc82"/>
<rect x="621.5" y="135.45" width="1.02" height="24.02" fill="#4ecc81"/>
<rect x="622.5" y="135.45" width="1.02" height="24.02" fill="#56cc7b"/>
<rect x="623.5" y="135.45" width="1.02" height="24.02" fill="#4ccb82"/>
<rect x="624.5" y="135.45" width="1.02" height="24.02" fill="#50cc7f"/>
<rect x="625.5" y="135.45" width="1.02" height="24.02" fill="#51cc7f"/>
<rect x="626.5" y="135.45" width="1.02" height="24.02" fill="#4dcc82"/>
<rect x="627.5" y="135.45" width="1.02" height="24.02" fill="#4acb85"/>
<rect x="628.5" y="135.45" width="1.02" height="24.02" fill="#4ecc81"/>
<rect x="629.5" y="135.45" width="1.02" height="24.02" fill="#4fcc81"/>
<rect x="630.5" y="135.45" width="1.02" height="24.02" fill="#51cc7f"/>
<rect x="631.5" y="135.45" width="1.02" height="24.02" fill="#50cc80"/>
<rect x="632.5" y="135.45" width="1.02" height="24.02" fill="#4dcc82"/>
<rect x="418.5" y="159.45" width="1.02" height="7.02" fill="#d9bd28"/>
<rect x="419.5" y="159.45" width="1.02" height="7.02" fill="#cdc028"/>
<rect x="420.5" y="159.45" width="1.02" height="7.02" fill="#bfc32d"/>
<rect x="421.5" y="159.45" width="1.02" height="7.02" fill="#b7c532"/>
<rect x="422.5" y="159.45" width="1.02" height="7.02" fill="#a5c83d"/>
<rect x="423.5" y="159.45" width="1.02" height="7.02" fill="#a4c83e"/>
<rect x="424.5" y="159.45" width="1.02" height="7.02" fill="#9ec942"/>
<rect x="425.5" y="159.45" width="1.02" height="7.02" fill="#98ca47"/>
<rect x="426.5" y="159.45" width="1.02" height="7.02" fill="#8ccb50"/>
<rect x="427.5" y="159.45" width="1.02" height="7.02" fill="#86cb55"/>
<rect x="428.5" y="159.45" width="1.02" height="7.02" fill="#88cb53"/>
<rect x="429.5" y="159.45" width="1.02" height="7.02" fill="#81cc58"/>
<rect x="430.5" y="159.45" width="1.02" height="7.02" fill="#7ecc5a"/>
<rect x="431.5" y="159.45" width="1.02" height="7.02" fill="#80cc59"/>
<rect x="432.5" y="159.45" width="1.02" height="7.02" fill="#77cc5f"/>
<rect x="433.5" y="159.45" width="1.02" height="7.02" fill="#6ecd67"/>
<rect x="434.5" y="159.45" width="1.02" height="7.02" fill="#73cd63"/>
<rect x="435.5" y="159.45" width="1.02" height="7.02" fill="#6ccd68"/>
<rect x="436.5" y="159.45" width="1.02" height="7.02" fill="#74cd62"/>
<rect x="437.5" y="159.45" width="1.02" height="7.02" fill="#70cd65"/>
<rect x="438.5" y="159.45" width="1.02" height="7.02" fill="#6ccd69"/>
<rect x="439.5" y="159.45" width="1.02" height="7.02" fill="#6ccd68"/>
<rect x="440.5" y="159.45" width="1.02" height="7.02" fill="#6ecd67"/>
<rect x="441.5" y="159.45" width="1.02" height="7.02" fill="#6acd6a"/>
<rect x="442.5" y="159.45" width="1.02" height="7.02" fill="#6ecd67"/>
<rect x="443.5" y="159.45" width="1.02" height="7.02" fill="#68cd6c"/>
<rect x="444.5" y="159.45" width="3.02" height="7.02" fill="#6bcd69"/>
<rect x="447.5" y="159.45" width="1.02" height="7.02" fill="#62cd70"/>
<rect x="448.5" y="159.45" width="1.02" height="7.02" fill="#67cd6c"/>
<rect x="449.5" y="159.45" width="1.02" height="7.02" fill="#5dcc75"/>
<rect x="450.5" y="159.45" width="1.02" height="7.02" fill="#5fcd73"/>
<rect x="451.5" y="159.45" width="1.02" height="7.02" fill="#5ccc76"/>
<rect x="452.5" y="159.45" width="1.02" height="7.02" fill="#65cd6e"/>
<rect x="453.5" y="159.45" width="1.02" height="7.02" fill="#5dcc75"/>
<rect x="454.5" y="159.45" width="1.02" height="7.02" fill="#60cd72"/>
<rect x="455.5" y="159.45" width="2.02" height="7.02" fill="#5fcd73"/>
<rect x="457.5" y="159.45" width="1.02" height="7.02" fill="#5dcc75"/>
<rect x="458.5" y="159.45" width="1.02" height="7.02" fill="#5fcd73"/>
<rect x="459.5" y="159.45" width="1.02" height="7.02" fill="#63cd6f"/>
<rect x="460.5" y="159.45" width="1.02" height="7.02" fill="#5dcc74"/>
<rect x="461.5" y="159.45" width="1.02" height="7.02" fill="#5fcd73"/>
<rect x="462.5" y="159.45" width="1.02" height="7.02" fill="#60cd73"/>
<rect x="463.5" y="159.45" width="1.02" height="7.02" fill="#5bcc76"/>
<rect x="464.5" y="159.45" width="1.02" height="7.02" fill="#58cc79"/>
<rect x="465.5" y="159.45" width="1.02" height="7.02" fill="#5acc78"/>
<rect x="466.5" y="159.45" width="1.02" height="7.02" fill="#5ecd74"/>
<rect x="467.5" y="159.45" width="1.02" height="7.02" fill="#55cc7b"/>
<rect x="468.5" y="159.45" width="1.02" height="7.02" fill="#58cc79"/>
<rect x="469.5" y="159.45" width="1.02" height="7.02" fill="#5dcc75"/>
<rect x="470.5" y="159.45" width="1.02" height="7.02" fill="#5ccc76"/>
<rect x="471.5" y="159.45" width="1.02" height="7.02" fill="#59cc78"/>
<rect x="472.5" y="159.45" width="1.02" height="7.02" fill="#5bcc76"/>
<rect x="473.5" y="159.45" width="1.02" height="7.02" fill="#59cc78"/>
<rect x="474.5" y="159.45" width="1.02" height="7.02" fill="#55cc7c"/>
<rect x="475.5" y="159.45" width="1.02" height="7.02" fill="#53cc7d"/>
<rect x="476.5" y="159.45" width="1.02" height="7.02" fill="#56cc7b"/>
<rect x="477.5" y="159.45" width="1.02" height="7.02" fill="#5acc77"/>
<rect x="478.5" y="159.45" width="1.02" height="7.02" fill="#55cc7b"/>
<rect x="479.5" y="159.45" width="2.02" height="7.02" fill="#54cc7c"/>
<rect x="481.5" y="159.45" width="1.02" height="7.02" fill="#51cc7e"/>
<rect x="482.5" y="159.45" width="1.02" height="7.02" fill="#56cc7b"/>
<rect x="483.5" y="159.45" width="1.02" height="7.02" fill="#52cc7e"/>
<rect x="484.5" y="159.45" width="1.02" height="7.02" fill="#57cc7a"/>
<rect x="485.5" y="159.45" width="1.02" height="7.02" fill="#4ecc81"/>
<rect x="486.5" y="159.45" width="1.02" height="7.02" fill="#56cc7b"/>
<rect x="487.5" y="159.45" width="1.02" height="7.02" fill="#53cc7d"/>
<rect x="488.5" y="159.45" width="1.02" height="7.02" fill="#4fcc81"/>
<rect x="489.5" y="159.45" width="1.02" height="7.02" fill="#57cc7a"/>
<rect x="490.5" y="159.45" width="1.02" height="7.02" fill="#53cc7d"/>
<rect x="491.5" y="159.45" width="1.02" height="7.02" fill="#4dcc82"/>
<rect x="492.5" y="159.45" width="1.02" height="7.02" fill="#51cc7f"/>
<rect x="493.5" y="159.45" width="1.02" height="7.02" fill="#54cc7c"/>
<rect x="494.5" y="159.45" width="1.02" height="7.02" fill="#52cc7e"/>
<rect x="495.5" y="159.45" width="1.02" height="7.02" fill="#56cc7b"/>
<rect x="496.5" y="159.45" width="1.02" height="7.02" fill="#55cc7b"/>
<rect x="497.5" y="159.45" width="1.02" height="7.02" fill="#55cc7c"/>
<rect x="498.5" y="159.45" width="1.02" height="7.02" fill="#54cc7d"/>
<rect x="499.5" y="159.45" width="1.02" height="7.02" fill="#57cc7a"/>
<rect x="500.5" y="159.45" width="1.02" height="7.02" fill="#54cc7c"/>
<rect x="501.5" y="159.45" width="1.02" height="7.02" fill="#53cc7d"/>
<rect x="502.5" y="159.45" width="1.02" height="7.02" fill="#4bcb83"/>
<rect x="503.5" y="159.45" width="1.02" height="7.02" fill="#54cc7c"/>
<rect x="504.5" y="159.45" width="1.02" height="7.02" fill="#56cc7b"/>
<rect x="505.5" y="159.45" width="1.02" height="7.02" fill="#50cc7f"/>
<rect x="506.5" y="159.45" width="1.02" height="7.02" fill="#50cc80"/>
<rect x="507.5" y="159.45" width="1.02" height="7.02" fill="#57cc7a"/>
<rect x="508.5" y="159.45" width="1.02" height="7.02" fill="#4bcb83"/>
<rect x="509.5" y="159.45" width="1.02" height="7.02" fill="#52cc7e"/>
<rect x="510.5" y="159.45" width="1.02" height="7.02" fill="#58cc79"/>
<rect x="511.5" y="159.45" width="1.02" height="7.02" fill="#4dcc82"/>
<rect x="512.5" y="159.45" width="1.02" height="7.02" fill="#52cc7e"/>
<rect x="513.5" y="159.45" width="1.02" height="7.02" fill="#56cc7b"/>
<rect x="514.5" y="159.45" width="1.02" height="7.02" fill="#50cc80"/>
<rect x="515.5" y="159.45" width="2.02" height="7.02" fill="#52cc7e"/>
<rect x="517.5" y="159.45" width="1.02" height="7.02" fill="#4dcb82"/>
<rect x="518.5" y="159.45" width="1.02" height="7.02" fill="#4fcc80"/>
<rect x="519.5" y="159.45" width="1.02" height="7.02" fill="#50cc80"/>
<rect x="520.5" y="159.45" width="1.02" height="7.02" fill="#52cc7e"/>
<rect x="521.5" y="159.45" width="1.02" height="7.02" fill="#4fcc81"/>
<rect x="522.5" y="159.45" width="1.02" height="7.02" fill="#4ecc81"/>
<rect x="523.5" y="159.45" width="1.02" height="7.02" fill="#4bcb83"/>
<rect x="524.5" y="159.45" width="1.02" height="7.02" fill="#4dcc82"/>
<rect x="525.5" y="159.45" width="1.02" height="7.02" fill="#51cc7f"/>
<rect x="526.5" y="159.45" width="1.02" height="7.02" fill="#4fcc81"/>
<rect x="527.5" y="159.45" width="2.02" height="7.02" fill="#4bcb83"/>
<rect x="529.5" y="159.45" width="1.02" height="7.02" fill="#56cc7b"/>
<rect x="530.5" y="159.45" width="1.02" height="7.02" fill="#51cc7e"/>
<rect x="531.5" y="159.45" width="1.02" height="7.02" fill="#50cc80"/>
<rect x="532.5" y="159.45" width="1.02" height="7.02" fill="#46cb88"/>
<rect x="533.5" y="159.45" width="1.02" height="7.02" fill="#4fcc80"/>
<rect x="534.5" y="159.45" width="1.02" height="7.02" fill="#4fcc81"/>
<rect x="535.5" y="159.45" width="1.02" height="7.02" fill="#53cc7e"/>
<rect x="536.5" y="159.45" width="1.02" height="7.02" fill="#4ecc81"/>
<rect x="537.5" y="159.45" width="1.02" height="7.02" fill="#4dcc82"/>
<rect x="538.5" y="159.45" width="1.02" height="7.02" fill="#4fcc81"/>
<rect x="539.5" y="159.45" width="1.02" height="7.02" fill="#47cb87"/>
<rect x="540.5" y="159.45" width="1.02" height="7.02" fill="#50cc80"/>
<rect x="541.5" y="159.45" width="1.02" height="7.02" fill="#4ecc81"/>
<rect x="542.5" y="159.45" width="1.02" height="7.02" fill="#4acb84"/>
<rect x="543.5" y="159.45" width="1.02" height="7.02" fill="#51cc7f"/>
<rect x="544.5" y="159.45" width="1.02" height="7.02" fill="#52cc7e"/>
<rect x="545.5" y="159.45" width="1.02" height="7.02" fill="#48cb86"/>
<rect x="546.5" y="159.45" width="1.02" height="7.02" fill="#4acb84"/>
<rect x="547.5" y="159.45" width="1.02" height="7.02" fill="#4dcc82"/>
<rect x="548.5" y="159.45" width="1.02" height="7.02" fill="#4dcb82"/>
<rect x="549.5" y="159.45" width="1.02" height="7.02" fill="#4bcb84"/>
<rect x="550.5" y="159.45" width="1.02" height="7.02" fill="#49cb85"/>
<rect x="551.5" y="159.45" width="1.02" height="7.02" fill="#53cc7d"/>
<rect x="552.5" y="159.45" width="1.02" height="7.02" fill="#4fcc80"/>
<rect x="553.5" y="159.45" width="2.02" height="7.02" fill="#48cb86"/>
<rect x="555.5" y="159.45" width="1.02" height="7.02" fill="#51cc7f"/>
<rect x="556.5" y="159.45" width="1.02" height="7.02" fill="#4fcc81"/>
<rect x="557.5" y="159.45" width="1.02" height="7.02" fill="#51cc7e"/>
<rect x="558.5" y="159.45" width="1.02" height="7.02" fill="#4ecc81"/>
<rect x="559.5" y="159.45" width="1.02" height="7.02" fill="#49cb85"/>
<rect x="560.5" y="159.45" width="1.02" height="7.02" fill="#4ccb83"/>
<rect x="561.5" y="159.45" width="1.02" height="7.02" fill="#45cb88"/>
<rect x="562.5" y="159.45" width="1.02" height="7.02" fill="#49cb85"/>
<rect x="563.5" y="159.45" width="1.02" height="7.02" fill="#4bcb83"/>
<rect x="564.5" y="159.45" width="1.02" height="7.02" fill="#4dcc82"/>
<rect x="565.5" y="159.45" width="1.02" height="7.02" fill="#49cb85"/>
<rect x="566.5" y="159.45" width="1.02" height="7.02" fill="#4bcb84"/>
<rect x="567.5" y="159.45" width="1.02" height="7.02" fill="#4dcb82"/>
<rect x="568.5" y="159.45" width="1.02" height="7.02" fill="#4ccb83"/>
<rect x="569.5" y="159.45" width="1.02" height="7.02" fill="#4dcc82"/>
<rect x="570.5" y="159.45" width="1.02" height="7.02" fill="#4ccb83"/>
<rect x="571.5" y="159.45" width="1.02" height="7.02" fill="#4acb84"/>
<rect x="572.5" y="159.45" width="1.02" height="7.02" fill="#4dcc82"/>
<rect x="573.5" y="159.45" width="1.02" height="7.02" fill="#4bcb83"/>
<rect x="574.5" y="159.45" width="1.02" height="7.02" fill="#49cb86"/>
<rect x="575.5" y="159.45" width="1.02" height="7.02" fill="#49cb85"/>
<rect x="576.5" y="159.45" width="1.02" height="7.02" fill="#4bcb84"/>
<rect x="577.5" y="159.45" width="1.02" height="7.02" fill="#4acb84"/>
<rect x="578.5" y="159.45" width="1.02" height="7.02" fill="#4bcb83"/>
<rect x="579.5" y="159.45" width="1.02" height="7.02" fill="#4bcb84"/>
<rect x="580.5" y="159.45" width="1.02" height="7.02" fill="#4bcb83"/>
<rect x="581.5" y="159.45" width="1.02" height="7.02" fill="#4acb84"/>
<rect x="582.5" y="159.45" width="1.02" height="7.02" fill="#47cb87"/>
<rect x="583.5" y="159.45" width="1.02" height="7.02" fill="#4ccb83"/>
<rect x="584.5" y="159.45" width="1.02" height="7.02" fill="#4ecc81"/>
<rect x="585.5" y="159.45" width="1.02" height="7.02" fill="#4ccb83"/>
<rect x="586.5" y="159.45" width="1.02" height="7.02" fill="#4acb84"/>
<rect x="587.5" y="159.45" width="1.02" height="7.02" fill="#4ccb83"/>
<rect x="588.5" y="159.45" width="1.02" height="7.02" fill="#48cb86"/>
<rect x="589.5" y="159.45" width="1.02" height="7.02" fill="#45cb89"/>
<rect x="590.5" y="159.45" width="1.02" height="7.02" fill="#4bcb84"/>
<rect x="591.5" y="159.45" width="1.02" height="7.02" fill="#48cb86"/>
<rect x="592.5" y="159.45" width="1.02" height="7.02" fill="#4dcb82"/>
<rect x="593.5" y="159.45" width="1.02" height="7.02" fill="#47cb87"/>
<rect x="594.5" y="159.45" width="1.02" height="7.02" fill="#43ca8a"/>
<rect x="595.5" y="159.45" width="1.02" height="7.02" fill="#47cb87"/>
<rect x="596.5" y="159.45" width="1.02" height="7.02" fill="#4fcc80"/>
<rect x="597.5" y="159.45" width="1.02" height="7.02" fill="#49cb85"/>
<rect x="598.5" y="159.45" width="1.02" height="7.02" fill="#46cb88"/>
<rect x="599.5" y="159.45" width="1.02" height="7.02" fill="#48cb86"/>
<rect x="600.5" y="159.45" width="2.02" height="7.02" fill="#4ccb83"/>
<rect x="602.5" y="159.45" width="1.02" height="7.02" fill="#4bcb84"/>
<rect x="603.5" y="159.45" width="1.02" height="7.02" fill="#4fcc81"/>
<rect x="604.5" y="159.45" width="1.02" height="7.02" fill="#4ccb83"/>
<rect x="605.5" y="159.45" width="1.02" height="7.02" fill="#4acb84"/>
<rect x="606.5" y="159.45" width="1.02" height="7.02" fill="#4ccb83"/>
<rect x="607.5" y="159.45" width="1.02" height="7.02" fill="#4fcc80"/>
<rect x="608.5" y="159.45" width="2.02" height="7.02" fill="#4dcc82"/>
<rect x="610.5" y="159.45" width="1.02" height="7.02" fill="#47cb87"/>
<rect x="611.5" y="159.45" width="1.02" height="7.02" fill="#49cb85"/>
<rect x="612.5" y="159.45" width="1.02" height="7.02" fill="#4ccb83"/>
<rect x="613.5" y="159.45" width="1.02" height="7.02" fill="#49cb85"/>
<rect x="614.5" y="159.45" width="1.02" height="7.02" fill="#4dcc82"/>
<rect x="615.5" y="159.45" width="1.02" height="7.02" fill="#4ccb83"/>
<rect x="616.5" y="159.45" width="1.02" height="7.02" fill="#4dcb82"/>
<rect x="617.5" y="159.45" width="1.02" height="7.02" fill="#49cb85"/>
<rect x="618.5" y="159.45" width="1.02" height="7.02" fill="#52cc7e"/>
<rect x="619.5" y="159.45" width="1.02" height="7.02" fill="#4ecc81"/>
<rect x="620.5" y="159.45" width="1.02" height="7.02" fill="#49cb85"/>
<rect x="621.5" y="159.45" width="1.02" height="7.02" fill="#4acb84"/>
<rect x="622.5" y="159.45" width="1.02" height="7.02" fill="#52cc7e"/>
<rect x="623.5" y="159.45" width="1.02" height="7.02" fill="#49cb85"/>
<rect x="624.5" y="159.45" width="1.02" height="7.02" fill="#4ccb82"/>
<rect x="625.5" y="159.45" width="1.02" height="7.02" fill="#4dcb82"/>
<rect x="626.5" y="159.45" width="1.02" height="7.02" fill="#4acb85"/>
<rect x="627.5" y="159.45" width="1.02" height="7.02" fill="#46cb87"/>
<rect x="628.5" y="159.45" width="1.02" height="7.02" fill="#4acb84"/>
<rect x="629.5" y="159.45" width="1.02" height="7.02" fill="#4bcb84"/>
<rect x="630.5" y="159.45" width="1.02" height="7.02" fill="#4dcc82"/>
<rect x="631.5" y="159.45" width="1.02" height="7.02" fill="#4ccb83"/>
<rect x="632.5" y="159.45" width="1.02" height="7.02" fill="#4acb85"/>
<rect x="418.5" y="166.45" width="1.02" height="9.02" fill="#d8be28"/>
<rect x="419.5" y="166.45" width="1.02" height="9.02" fill="#ccc028"/>
<rect x="420.5" y="166.45" width="1.02" height="9.02" fill="#bec32e"/>
<rect x="421.5" y="166.45" width="1.02" height="9.02" fill="#b6c532"/>
<rect x="422.5" y="166.45" width="1.02" height="9.02" fill="#a4c83e"/>
<rect x="423.5" y="166.45" width="1.02" height="9.02" fill="#a2c83f"/>
<rect x="424.5" y="166.45" width="1.02" height="9.02" fill="#9cc943"/>
<rect x="425.5" y="166.45" width="1.02" height="9.02" fill="#96ca48"/>
<rect x="426.5" y="166.45" width="1.02" height="9.02" fill="#8bcb51"/>
<rect x="427.5" y="166.45" width="1.02" height="9.02" fill="#84cc56"/>
<rect x="428.5" y="166.45" width="1.02" height="9.02" fill="#86cb54"/>
<rect x="429.5" y="166.45" width="1.02" height="9.02" fill="#7fcc5a"/>
<rect x="430.5" y="166.45" width="1.02" height="9.02" fill="#7ccc5c"/>
<rect x="431.5" y="166.45" width="1.02" height="9.02" fill="#7ecc5b"/>
<rect x="432.5" y="166.45" width="1.02" height="9.02" fill="#75cc61"/>
<rect x="433.5" y="166.45" width="1.02" height="9.02" fill="#6ccd68"/>
<rect x="434.5" y="166.45" width="1.02" height="9.02" fill="#70cd65"/>
<rect x="435.5" y="166.45" width="1.02" height="9.02" fill="#6acd6a"/>
<rect x="436.5" y="166.45" width="1.02" height="9.02" fill="#71cd64"/>
<rect x="437.5" y="166.45" width="1.02" height="9.02" fill="#6ecd67"/>
<rect x="438.5" y="166.45" width="1.02" height="9.02" fill="#69cd6b"/>
<rect x="439.5" y="166.45" width="1.02" height="9.02" fill="#6acd6a"/>
<rect x="440.5" y="166.45" width="1.02" height="9.02" fill="#6bcd69"/>
<rect x="441.5" y="166.45" width="1.02" height="9.02" fill="#68cd6c"/>
<rect x="442.5" y="166.45" width="1.02" height="9.02" fill="#6bcd69"/>
<rect x="443.5" y="166.45" width="1.02" height="9.02" fill="#65cd6e"/>
<rect x="444.5" y="166.45" width="1.02" height="9.02" fill="#68cd6c"/>
<rect x="445.5" y="166.45" width="1.02" height="9.02" fill="#68cd6b"/>
<rect x="446.5" y="166.45" width="1.02" height="9.02" fill="#68cd6c"/>
<rect x="447.5" y="166.45" width="1.02" height="9.02" fill="#60cd73"/>
<rect x="448.5" y="166.45" width="1.02" height="9.02" fill="#64cd6f"/>
<rect x="449.5" y="166.45" width="1.02" height="9.02" fill="#5acc77"/>
<rect x="450.5" y="166.45" width="1.02" height="9.02" fill="#5ccc76"/>
<rect x="451.5" y="166.45" width="1.02" height="9.02" fill="#59cc79"/>
<rect x="452.5" y="166.45" width="1.02" height="9.02" fill="#61cd71"/>
<rect x="453.5" y="166.45" width="1.02" height="9.02" fill="#5acc78"/>
<rect x="454.5" y="166.45" width="1.02" height="9.02" fill="#5dcc75"/>
<rect x="455.5" y="166.45" width="2.02" height="9.02" fill="#5ccc76"/>
<rect x="457.5" y="166.45" width="1.02" height="9.02" fill="#59cc78"/>
<rect x="458.5" y="166.45" width="1.02" height="9.02" fill="#5bcc76"/>
<rect x="459.5" y="166.45" width="1.02" height="9.02" fill="#60cd72"/>
<rect x="460.5" y="166.45" width="1.02" height="9.02" fill="#5acc78"/>
<rect x="461.5" y="166.45" width="1.02" height="9.02" fill="#5bcc77"/>
<rect x="462.5" y="166.45" width="1.02" height="9.02" fill="#5ccc76"/>
<rect x="463.5" y="166.45" width="1.02" height="9.02" fill="#57cc7a"/>
<rect x="464.5" y="166.45" width="1.02" height="9.02" fill="#54cc7d"/>
<rect x="465.5" y="166.45" width="1.02" height="9.02" fill="#55cc7b"/>
<rect x="466.5" y="166.45" width="1.02" height="9.02" fill="#5acc77"/>
<rect x="467.5" y="166.45" width="1.02" height="9.02" fill="#51cc7f"/>
<rect x="468.5" y="166.45" width="1.02" height="9.02" fill="#54cc7c"/>
<rect x="469.5" y="166.45" width="1.02" height="9.02" fill="#59cc79"/>
<rect x="470.5" y="166.45" width="1.02" height="9.02" fill="#58cc79"/>
<rect x="471.5" y="166.45" width="1.02" height="9.02" fill="#55cc7c"/>
<rect x="472.5" y="166.45" width="1.02" height="9.02" fill="#57cc7a"/>
<rect x="473.5" y="166.45" width="1.02" height="9.02" fill="#55cc7c"/>
<rect x="474.5" y="166.45" width="1.02" height="9.02" fill="#50cc80"/>
<rect x="475.5" y="166.45" width="1.02" height="9.02" fill="#4ecc81"/>
<rect x="476.5" y="166.45" width="1.02" height="9.02" fill="#51cc7f"/>
<rect x="477.5" y="166.45" width="1.02" height="9.02" fill="#55cc7b"/>
<rect x="478.5" y="166.45" width="1.02" height="9.02" fill="#50cc7f"/>
<rect x="479.5" y="166.45" width="2.02" height="9.02" fill="#4fcc80"/>
<rect x="481.5" y="166.45" width="1.02" height="9.02" fill="#4ccb82"/>
<rect x="482.5" y="166.45" width="1.02" height="9.02" fill="#51cc7f"/>
<rect x="483.5" y="166.45" width="1.02" height="9.02" fill="#4dcc82"/>
<rect x="484.5" y="166.45" width="1.02" height="9.02" fill="#51cc7e"/>
<rect x="485.5" y="166.45" width="1.02" height="9.02" fill="#49cb86"/>
<rect x="486.5" y="166.45" width="1.02" height="9.02" fill="#51cc7f"/>
<rect x="487.5" y="166.45" width="1.02" height="9.02" fill="#4dcc82"/>
<rect x="488.5" y="166.45" width="1.02" height="9.02" fill="#49cb85"/>
<rect x="489.5" y="166.45" width="1.02" height="9.02" fill="#51cc7f"/>
<rect x="490.5" y="166.45" width="1.02" height="9.02" fill="#4ecc81"/>
<rect x="491.5" y="166.45" width="1.02" height="9.02" fill="#48cb87"/>
<rect x="492.5" y="166.45" width="1.02" height="9.02" fill="#4bcb83"/>
<rect x="493.5" y="166.45" width="1.02" height="9.02" fill="#4fcc81"/>
<rect x="494.5" y="166.45" width="1.02" height="9.02" fill="#4ccb83"/>
<rect x="495.5" y="166.45" width="1.02" height="9.02" fill="#50cc80"/>
<rect x="496.5" y="166.45" width="1.02" height="9.02" fill="#4fcc80"/>
<rect x="497.5" y="166.45" width="1.02" height="9.02" fill="#4fcc81"/>
<rect x="498.5" y="166.45" width="1.02" height="9.02" fill="#4dcc82"/>
<rect x="499.5" y="166.45" width="1.02" height="9.02" fill="#50cc7f"/>
<rect x="500.5" y="166.45" width="1.02" height="9.02" fill="#4ecc81"/>
<rect x="501.5" y="166.45" width="1.02" height="9.02" fill="#4dcc82"/>
<rect x="502.5" y="166.45" width="1.02" height="9.02" fill="#45cb88"/>
<rect x="503.5" y="166.45" width="1.02" height="9.02" fill="#4ecc81"/>
<rect x="504.5" y="166.45" width="1.02" height="9.02" fill="#4fcc80"/>
<rect x="505.5" y="166.45" width="1.02" height="9.02" fill="#4acb85"/>
<rect x="506.5" y="166.45" width="1.02" height="9.02" fill="#49cb85"/>
<rect x="507.5" y="166.45" width="1.02" height="9.02" fill="#50cc7f"/>
<rect x="508.5" y="166.45" width="1.02" height="9.02" fill="#45cb89"/>
<rect x="509.5" y="166.45" width="1.02" height="9.02" fill="#4bcb83"/>
<rect x="510.5" y="166.45" width="1.02" height="9.02" fill="#51cc7f"/>
<rect x="511.5" y="166.45" width="1.02" height="9.02" fill="#47cb87"/>
<rect x="512.5" y="166.45" width="1.02" height="9.02" fill="#4bcb83"/>
<rect x="513.5" y="166.45" width="1.02" height="9.02" fill="#4fcc81"/>
<rect x="514.5" y="166.45" width="1.02" height="9.02" fill="#48cb86"/>
<rect x="515.5" y="166.45" width="1.02" height="9.02" fill="#4acb84"/>
<rect x="516.5" y="166.45" width="1.02" height="9.02" fill="#4bcb84"/>
<rect x="517.5" y="166.45" width="1.02" height="9.02" fill="#46cb88"/>
<rect x="518.5" y="166.45" width="1.02" height="9.02" fill="#48cb86"/>
<rect x="519.5" y="166.45" width="1.02" height="9.02" fill="#49cb86"/>
<rect x="520.5" y="166.45" width="1.02" height="9.02" fill="#4acb84"/>
<rect x="521.5" y="166.45" width="2.02" height="9.02" fill="#47cb87"/>
<rect x="523.5" y="166.45" width="1.02" height="9.02" fill="#44cb89"/>
<rect x="524.5" y="166.45" width="1.02" height="9.02" fill="#46cb88"/>
<rect x="525.5" y="166.45" width="1.02" height="9.02" fill="#49cb85"/>
<rect x="526.5" y="166.45" width="1.02" height="9.02" fill="#47cb87"/>
<rect x="527.5" y="166.45" width="1.02" height="9.02" fill="#44cb89"/>
<rect x="528.5" y="166.45" width="1.02" height="9.02" fill="#44cb8a"/>
<rect x="529.5" y="166.45" width="1.02" height="9.02" fill="#4ecc81"/>
<rect x="530.5" y="166.45" width="1.02" height="9.02" fill="#49cb85"/>
<rect x="531.5" y="166.45" width="1.02" height="9.02" fill="#48cb86"/>
<rect x="532.5" y="166.45" width="1.02" height="9.02" fill="#3fca8e"/>
<rect x="533.5" y="166.45" width="2.02" height="9.02" fill="#47cb87"/>
<rect x="535.5" y="166.45" width="1.02" height="9.02" fill="#4acb84"/>
<rect x="536.5" y="166.45" width="1.02" height="9.02" fill="#46cb88"/>
<rect x="537.5" y="166.45" width="1.02" height="9.02" fill="#45cb89"/>
<rect x="538.5" y="166.45" width="1.02" height="9.02" fill="#46cb88"/>
<rect x="539.5" y="166.45" width="1.02" height="9.02" fill="#3fca8e"/>
<rect x="540.5" y="166.45" width="1.02" height="9.02" fill="#47cb87"/>
<rect x="541.5" y="166.45" width="1.02" height="9.02" fill="#45cb88"/>
<rect x="542.5" y="166.45" width="1.02" height="9.02" fill="#43ca8b"/>
<rect x="543.5" y="166.45" width="1.02" height="9.02" fill="#48cb86"/>
<rect x="544.5" y="166.45" width="1.02" height="9.02" fill="#49cb85"/>
<rect x="545.5" y="166.45" width="1.02" height="9.02" fill="#40ca8d"/>
<rect x="546.5" y="166.45" width="1.02" height="9.02" fill="#42ca8b"/>
<rect x="547.5" y="166.45" width="2.02" height="9.02" fill="#45cb89"/>
<rect x="549.5" y="166.45" width="1.02" height="9.02" fill="#43ca8a"/>
<rect x="550.5" y="166.45" width="1.02" height="9.02" fill="#41ca8c"/>
<rect x="551.5" y="166.45" width="1.02" height="9.02" fill="#4acb85"/>
<rect x="552.5" y="166.45" width="1.02" height="9.02" fill="#47cb87"/>
<rect x="553.5" y="166.45" width="1.02" height="9.02" fill="#41ca8d"/>
<rect x="554.5" y="166.45" width="1.02" height="9.02" fill="#40ca8d"/>
<rect x="555.5" y="166.45" width="1.02" height="9.02" fill="#48cb86"/>
<rect x="556.5" y="166.45" width="1.02" height="9.02" fill="#46cb87"/>
<rect x="557.5" y="166.45" width="1.02" height="9.02" fill="#49cb86"/>
<rect x="558.5" y="166.45" width="1.02" height="9.02" fill="#46cb88"/>
<rect x="559.5" y="166.45" width="1.02" height="9.02" fill="#41ca8c"/>
<rect x="560.5" y="166.45" width="1.02" height="9.02" fill="#44cb89"/>
<rect x="561.5" y="166.45" width="1.02" height="9.02" fill="#3eca8f"/>
<rect x="562.5" y="166.45" width="1.02" height="9.02" fill="#41ca8c"/>
<rect x="563.5" y="166.45" width="1.02" height="9.02" fill="#43ca8a"/>
<rect x="564.5" y="166.45" width="1.02" height="9.02" fill="#45cb89"/>
<rect x="565.5" y="166.45" width="1.02" height="9.02" fill="#41ca8c"/>
<rect x="566.5" y="166.45" width="1.02" height="9.02" fill="#43ca8a"/>
<rect x="567.5" y="166.45" width="1.02" height="9.02" fill="#45cb89"/>
<rect x="568.5" y="166.45" width="1.02" height="9.02" fill="#44cb89"/>
<rect x="569.5" y="166.45" width="1.02" height="9.02" fill="#45cb89"/>
<rect x="570.5" y="166.45" width="1.02" height="9.02" fill="#44cb8a"/>
<rect x="571.5" y="166.45" width="1.02" height="9.02" fill="#42ca8b"/>
<rect x="572.5" y="166.45" width="1.02" height="9.02" fill="#45cb89"/>
<rect x="573.5" y="166.45" width="1.02" height="9.02" fill="#43ca8a"/>
<rect x="574.5" y="166.45" width="2.02" height="9.02" fill="#41ca8c"/>
<rect x="576.5" y="166.45" width="2.02" height="9.02" fill="#43ca8b"/>
<rect x="578.5" y="166.45" width="1.02" height="9.02" fill="#43ca8a"/>
<rect x="579.5" y="166.45" width="1.02" height="9.02" fill="#43ca8b"/>
<rect x="580.5" y="166.45" width="1.02" height="9.02" fill="#43ca8a"/>
<rect x="581.5" y="166.45" width="1.02" height="9.02" fill="#42ca8b"/>
<rect x="582.5" y="166.45" width="1.02" height="9.02" fill="#3fca8e"/>
<rect x="583.5" y="166.45" width="1.02" height="9.02" fill="#44cb8a"/>
<rect x="584.5" y="166.45" width="1.02" height="9.02" fill="#46cb88"/>
<rect x="585.5" y="166.45" width="1.02" height="9.02" fill="#44cb8a"/>
<rect x="586.5" y="166.45" width="1.02" height="9.02" fill="#42ca8b"/>
<rect x="587.5" y="166.45" width="1.02" height="9.02" fill="#44cb8a"/>
<rect x="588.5" y="166.45" width="1.02" height="9.02" fill="#40ca8d"/>
<rect x="589.5" y="166.45" width="1.02" height="9.02" fill="#3eca8f"/>
<rect x="590.5" y="166.45" width="1.02" height="9.02" fill="#43ca8b"/>
<rect x="591.5" y="166.45" width="1.02" height="9.02" fill="#40ca8d"/>
<rect x="592.5" y="166.45" width="1.02" height="9.02" fill="#45cb89"/>
<rect x="593.5" y="166.45" width="1.02" height="9.02" fill="#3fca8e"/>
<rect x="594.5" y="166.45" width="1.02" height="9.02" fill="#3cc991"/>
<rect x="595.5" y="166.45" width="1.02" height="9.02" fill="#40ca8d"/>
<rect x="596.5" y="166.45" width="1.02" height="9.02" fill="#47cb87"/>
<rect x="597.5" y="166.45" width="1.02" height="9.02" fill="#41ca8c"/>
<rect x="598.5" y="166.45" width="1.02" height="9.02" fill="#3fca8e"/>
<rect x="599.5" y="166.45" width="1.02" height="9.02" fill="#40ca8d"/>
<rect x="600.5" y="166.45" width="2.02" height="9.02" fill="#44cb8a"/>
<rect x="602.5" y="166.45" width="1.02" height="9.02" fill="#43ca8b"/>
<rect x="603.5" y="166.45" width="1.02" height="9.02" fill="#46cb88"/>
<rect x="604.5" y="166.45" width="1.02" height="9.02" fill="#44cb89"/>
<rect x="605.5" y="166.45" width="1.02" height="9.02" fill="#42ca8b"/>
<rect x="606.5" y="166.45" width="1.02" height="9.02" fill="#44cb8a"/>
<rect x="607.5" y="166.45" width="1.02" height="9.02" fill="#47cb87"/>
<rect x="608.5" y="166.45" width="2.02" height="9.02" fill="#45cb89"/>
<rect x="610.5" y="166.45" width="1.02" height="9.02" fill="#3fca8e"/>
<rect x="611.5" y="166.45" width="1.02" height="9.02" fill="#42ca8c"/>
<rect x="612.5" y="166.45" width="1.02" height="9.02" fill="#44cb8a"/>
<rect x="613.5" y="166.45" width="1.02" height="9.02" fill="#41ca8c"/>
<rect x="614.5" y="166.45" width="1.02" height="9.02" fill="#45cb89"/>
<rect x="615.5" y="166.45" width="1.02" height="9.02" fill="#44cb8a"/>
<rect x="616.5" y="166.45" width="1.02" height="9.02" fill="#45cb89"/>
<rect x="617.5" y="166.45" width="1.02" height="9.02" fill="#41ca8c"/>
<rect x="618.5" y="166.45" width="1.02" height="9.02" fill="#49cb85"/>
<rect x="619.5" y="166.45" width="1.02" height="9.02" fill="#45cb88"/>
<rect x="620.5" y="166.45" width="1.02" height="9.02" fill="#41ca8c"/>
<rect x="621.5" y="166.45" width="1.02" height="9.02" fill="#42ca8b"/>
<rect x="622.5" y="166.45" width="1.02" height="9.02" fill="#49cb85"/>
<rect x="623.5" y="166.45" width="1.02" height="9.02" fill="#41ca8c"/>
<rect x="624.5" y="166.45" width="1.02" height="9.02" fill="#44cb89"/>
<rect x="625.5" y="166.45" width="1.02" height="9.02" fill="#45cb89"/>
<rect x="626.5" y="166.45" width="1.02" height="9.02" fill="#42ca8b"/>
<rect x="627.5" y="166.45" width="1.02" height="9.02" fill="#3fca8e"/>
<rect x="628.5" y="166.45" width="1.02" height="9.02" fill="#42ca8b"/>
<rect x="629.5" y="166.45" width="1.02" height="9.02" fill="#43ca8b"/>
<rect x="630.5" y="166.45" width="1.02" height="9.02" fill="#45cb89"/>
<rect x="631.5" y="166.45" width="1.02" height="9.02" fill="#44cb8a"/>
<rect x="632.5" y="166.45" width="1.02" height="9.02" fill="#42ca8b"/>
<rect x="418.5" y="175.45" width="1.02" height="14.02" fill="#d7be28"/>
<rect x="419.5" y="175.45" width="1.02" height="14.02" fill="#cac129"/>
<rect x="420.5" y="175.45" width="1.02" height="14.02" fill="#bcc42f"/>
<rect x="421.5" y="175.45" width="1.02" height="14.02" fill="#b4c534"/>
<rect x="422.5" y="175.45" width="1.02" height="14.02" fill="#a1c840"/>
<rect x="423.5" y="175.45" width="1.02" height="14.02" fill="#a0c941"/>
<rect x="424.5" y="175.45" width="1.02" height="14.02" fill="#99c946"/>
<rect x="425.5" y="175.45" width="1.02" height="14.02" fill="#93ca4b"/>
<rect x="426.5" y="175.45" width="1.02" height="14.02" fill="#87cb54"/>
<rect x="427.5" y="175.45" width="1.02" height="14.02" fill="#81cc59"/>
<rect x="428.5" y="175.45" width="1.02" height="14.02" fill="#83cc57"/>
<rect x="429.5" y="175.45" width="1.02" height="14.02" fill="#7ccc5c"/>
<rect x="430.5" y="175.45" width="1.02" height="14.02" fill="#78cc5f"/>
<rect x="431.5" y="175.45" width="1.02" height="14.02" fill="#7acc5e"/>
<rect x="432.5" y="175.45" width="1.02" height="14.02" fill="#71cd64"/>
<rect x="433.5" y="175.45" width="1.02" height="14.02" fill="#68cd6c"/>
<rect x="434.5" y="175.45" width="1.02" height="14.02" fill="#6ccd68"/>
<rect x="435.5" y="175.45" width="1.02" height="14.02" fill="#65cd6e"/>
<rect x="436.5" y="175.45" width="1.02" height="14.02" fill="#6ccd68"/>
<rect x="437.5" y="175.45" width="1.02" height="14.02" fill="#69cd6b"/>
<rect x="438.5" y="175.45" width="1.02" height="14.02" fill="#64cd6f"/>
<rect x="439.5" y="175.45" width="1.02" height="14.02" fill="#65cd6e"/>
<rect x="440.5" y="175.45" width="1.02" height="14.02" fill="#66cd6d"/>
<rect x="441.5" y="175.45" width="1.02" height="14.02" fill="#62cd70"/>
<rect x="442.5" y="175.45" width="1.02" height="14.02" fill="#65cd6e"/>
<rect x="443.5" y="175.45" width="1.02" height="14.02" fill="#60cd72"/>
<rect x="444.5" y="175.45" width="1.02" height="14.02" fill="#62cd70"/>
<rect x="445.5" y="175.45" width="1.02" height="14.02" fill="#63cd70"/>
<rect x="446.5" y="175.45" width="1.02" height="14.02" fill="#62cd71"/>
<rect x="447.5" y="175.45" width="1.02" height="14.02" fill="#5acc78"/>
<rect x="448.5" y="175.45" width="1.02" height="14.02" fill="#5ecc74"/>
<rect x="449.5" y="175.45" width="1.02" height="14.02" fill="#54cc7c"/>
<rect x="450.5" y="175.45" width="1.02" height="14.02" fill="#56cc7b"/>
<rect x="451.5" y="175.45" width="1.02" height="14.02" fill="#52cc7e"/>
<rect x="452.5" y="175.45" width="1.02" height="14.02" fill="#5bcc76"/>
<rect x="453.5" y="175.45" width="1.02" height="14.02" fill="#53cc7d"/>
<rect x="454.5" y="175.45" width="1.02" height="14.02" fill="#56cc7b"/>
<rect x="455.5" y="175.45" width="2.02" height="14.02" fill="#55cc7c"/>
<rect x="457.5" y="175.45" width="1.02" height="14.02" fill="#52cc7e"/>
<rect x="458.5" y="175.45" width="1.02" height="14.02" fill="#54cc7c"/>
<rect x="459.5" y="175.45" width="1.02" height="14.02" fill="#58cc79"/>
<rect x="460.5" y="175.45" width="1.02" height="14.02" fill="#52cc7e"/>
<rect x="461.5" y="175.45" width="1.02" height="14.02" fill="#53cc7d"/>
<rect x="462.5" y="175.45" width="1.02" height="14.02" fill="#54cc7c"/>
<rect x="463.5" y="175.45" width="1.02" height="14.02" fill="#50cc80"/>
<rect x="464.5" y="175.45" width="1.02" height="14.02" fill="#4ccb83"/>
<rect x="465.5" y="175.45" width="1.02" height="14.02" fill="#4dcc82"/>
<rect x="466.5" y="175.45" width="1.02" height="14.02" fill="#52cc7e"/>
<rect x="467.5" y="175.45" width="1.02" height="14.02" fill="#49cb85"/>
<rect x="468.5" y="175.45" width="1.02" height="14.02" fill="#4ccb83"/>
<rect x="469.5" y="175.45" width="1.02" height="14.02" fill="#50cc80"/>
<rect x="470.5" y="175.45" width="1.02" height="14.02" fill="#4fcc80"/>
<rect x="471.5" y="175.45" width="1.02" height="14.02" fill="#4ccb83"/>
<rect x="472.5" y="175.45" width="1.02" height="14.02" fill="#4ecc81"/>
<rect x="473.5" y="175.45" width="1.02" height="14.02" fill="#4bcb83"/>
<rect x="474.5" y="175.45" width="1.02" height="14.02" fill="#47cb87"/>
<rect x="475.5" y="175.45" width="1.02" height="14.02" fill="#46cb88"/>
<rect x="476.5" y="175.45" width="1.02" height="14.02" fill="#48cb86"/>
<rect x="477.5" y="175.45" width="1.02" height="14.02" fill="#4ccb83"/>
<rect x="478.5" y="175.45" width="1.02" height="14.02" fill="#47cb87"/>
<rect x="479.5" y="175.45" width="2.02" height="14.02" fill="#46cb88"/>
<rect x="481.5" y="175.45" width="1.02" height="14.02" fill="#43ca8a"/>
<rect x="482.5" y="175.45" width="1.02" height="14.02" fill="#47cb87"/>
<rect x="483.5" y="175.45" width="1.02" height="14.02" fill="#43ca8a"/>
<rect x="484.5" y="175.45" width="1.02" height="14.02" fill="#47cb87"/>
<rect x="485.5" y="175.45" width="1.02" height="14.02" fill="#3fca8e"/>
<rect x="486.5" y="175.45" width="1.02" height="14.02" fill="#46cb88"/>
<rect x="487.5" y="175.45" width="1.02" height="14.02" fill="#43ca8a"/>
<rect x="488.5" y="175.45" width="1.02" height="14.02" fill="#3fca8e"/>
<rect x="489.5" y="175.45" width="1.02" height="14.02" fill="#46cb88"/>
<rect x="490.5" y="175.45" width="1.02" height="14.02" fill="#43ca8a"/>
<rect x="491.5" y="175.45" width="1.02" height="14.02" fill="#3eca8f"/>
<rect x="492.5" y="175.45" width="1.02" height="14.02" fill="#41ca8c"/>
<rect x="493.5" y="175.45" width="1.02" height="14.02" fill="#44cb8a"/>
<rect x="494.5" y="175.45" width="1.02" height="14.02" fill="#41ca8c"/>
<rect x="495.5" y="175.45" width="1.02" height="14.02" fill="#44cb89"/>
<rect x="496.5" y="175.45" width="1.02" height="14.02" fill="#44cb8a"/>
<rect x="497.5" y="175.45" width="1.02" height="14.02" fill="#43ca8a"/>
<rect x="498.5" y="175.45" width="1.02" height="14.02" fill="#42ca8b"/>
<rect x="499.5" y="175.45" width="1.02" height="14.02" fill="#44cb89"/>
<rect x="500.5" y="175.45" width="1.02" height="14.02" fill="#42ca8b"/>
<rect x="501.5" y="175.45" width="1.02" height="14.02" fill="#41ca8c"/>
<rect x="502.5" y="175.45" width="1.02" height="14.02" fill="#3cc992"/>
<rect x="503.5" y="175.45" width="1.02" height="14.02" fill="#42ca8b"/>
<rect x="504.5" y="175.45" width="1.02" height="14.02" fill="#43ca8b"/>
<rect x="505.5" y="175.45" width="2.02" height="14.02" fill="#3eca8f"/>
<rect x="507.5" y="175.45" width="1.02" height="14.02" fill="#44ca8a"/>
<rect x="508.5" y="175.45" width="1.02" height="14.02" fill="#3bc993"/>
<rect x="509.5" y="175.45" width="1.02" height="14.02" fill="#3fca8e"/>
<rect x="510.5" y="175.45" width="1.02" height="14.02" fill="#44cb8a"/>
<rect x="511.5" y="175.45" width="1.02" height="14.02" fill="#3cc992"/>
<rect x="512.5" y="175.45" width="1.02" height="14.02" fill="#3fca8e"/>
<rect x="513.5" y="175.45" width="1.02" height="14.02" fill="#42ca8c"/>
<rect x="514.5" y="175.45" width="1.02" height="14.02" fill="#3dc991"/>
<rect x="515.5" y="175.45" width="2.02" height="14.02" fill="#3eca8f"/>
<rect x="517.5" y="175.45" width="1.02" height="14.02" fill="#3ac993"/>
<rect x="518.5" y="175.45" width="1.02" height="14.02" fill="#3cc992"/>
<rect x="519.5" y="175.45" width="1.02" height="14.02" fill="#3cc991"/>
<rect x="520.5" y="175.45" width="1.02" height="14.02" fill="#3dc990"/>
<rect x="521.5" y="175.45" width="1.02" height="14.02" fill="#3bc992"/>
<rect x="522.5" y="175.45" width="1.02" height="14.02" fill="#3bc993"/>
<rect x="523.5" y="175.45" width="1.02" height="14.02" fill="#39c895"/>
<rect x="524.5" y="175.45" width="1.02" height="14.02" fill="#3ac994"/>
<rect x="525.5" y="175.45" width="1.02" height="14.02" fill="#3cc991"/>
<rect x="526.5" y="175.45" width="1.02" height="14.02" fill="#3bc993"/>
<rect x="527.5" y="175.45" width="1.02" height="14.02" fill="#39c895"/>
<rect x="528.5" y="175.45" width="1.02" height="14.02" fill="#38c896"/>
<rect x="529.5" y="175.45" width="1.02" height="14.02" fill="#3fca8e"/>
<rect x="530.5" y="175.45" width="1.02" height="14.02" fill="#3cc992"/>
<rect x="531.5" y="175.45" width="1.02" height="14.02" fill="#3bc993"/>
<rect x="532.5" y="175.45" width="1.02" height="14.02" fill="#35c79a"/>
<rect x="533.5" y="175.45" width="1.02" height="14.02" fill="#3ac993"/>
<rect x="534.5" y="175.45" width="1.02" height="14.02" fill="#3ac994"/>
<rect x="535.5" y="175.45" width="1.02" height="14.02" fill="#3cc991"/>
<rect x="536.5" y="175.45" width="1.02" height="14.02" fill="#39c994"/>
<rect x="537.5" y="175.45" width="1.02" height="14.02" fill="#38c896"/>
<rect x="538.5" y="175.45" width="1.02" height="14.02" fill="#39c895"/>
<rect x="539.5" y="175.45" width="1.02" height="14.02" fill="#35c79a"/>
<rect x="540.5" y="175.45" width="1.02" height="14.02" fill="#3ac994"/>
<rect x="541.5" y="175.45" width="1.02" height="14.02" fill="#39c895"/>
<rect x="542.5" y="175.45" width="1.02" height="14.02" fill="#37c898"/>
<rect x="543.5" y="175.45" width="1.02" height="14.02" fill="#3ac993"/>
<rect x="544.5" y="175.45" width="1.02" height="14.02" fill="#3bc992"/>
<rect x="545.5" y="175.45" width="1.02" height="14.02" fill="#36c799"/>
<rect x="546.5" y="175.45" width="1.02" height="14.02" fill="#37c898"/>
<rect x="547.5" y="175.45" width="2.02" height="14.02" fill="#38c896"/>
<rect x="549.5" y="175.45" width="1.02" height="14.02" fill="#37c897"/>
<rect x="550.5" y="175.45" width="1.02" height="14.02" fill="#36c899"/>
<rect x="551.5" y="175.45" width="1.02" height="14.02" fill="#3cc992"/>
<rect x="552.5" y="175.45" width="1.02" height="14.02" fill="#39c994"/>
<rect x="553.5" y="175.45" width="1.02" height="14.02" fill="#36c799"/>
<rect x="554.5" y="175.45" width="1.02" height="14.02" fill="#35c79a"/>
<rect x="555.5" y="175.45" width="1.02" height="14.02" fill="#3bc993"/>
<rect x="556.5" y="175.45" width="1.02" height="14.02" fill="#39c995"/>
<rect x="557.5" y="175.45" width="1.02" height="14.02" fill="#3bc993"/>
<rect x="558.5" y="175.45" width="1.02" height="14.02" fill="#39c895"/>
<rect x="559.5" y="175.45" width="1.02" height="14.02" fill="#36c899"/>
<rect x="560.5" y="175.45" width="1.02" height="14.02" fill="#38c896"/>
<rect x="561.5" y="175.45" width="1.02" height="14.02" fill="#34c79b"/>
<rect x="562.5" y="175.45" width="1.02" height="14.02" fill="#36c899"/>
<rect x="563.5" y="175.45" width="1.02" height="14.02" fill="#37c897"/>
<rect x="564.5" y="175.45" width="1.02" height="14.02" fill="#38c896"/>
<rect x="565.5" y="175.45" width="1.02" height="14.02" fill="#36c899"/>
<rect x="566.5" y="175.45" width="1.02" height="14.02" fill="#37c897"/>
<rect x="567.5" y="175.45" width="3.02" height="14.02" fill="#38c896"/>
<rect x="570.5" y="175.45" width="1.02" height="14.02" fill="#37c897"/>
<rect x="571.5" y="175.45" width="1.02" height="14.02" fill="#36c898"/>
<rect x="572.5" y="175.45" width="1.02" height="14.02" fill="#38c896"/>
<rect x="573.5" y="175.45" width="1.02" height="14.02" fill="#37c897"/>
<rect x="574.5" y="175.45" width="1.02" height="14.02" fill="#36c799"/>
<rect x="575.5" y="175.45" width="1.02" height="14.02" fill="#36c899"/>
<rect x="576.5" y="175.45" width="1.02" height="14.02" fill="#37c897"/>
<rect x="577.5" y="175.45" width="1.02" height="14.02" fill="#37c898"/>
<rect x="578.5" y="175.45" width="3.02" height="14.02" fill="#37c897"/>
<rect x="581.5" y="175.45" width="1.02" height="14.02" fill="#37c898"/>
<rect x="582.5" y="175.45" width="1.02" height="14.02" fill="#35c79a"/>
<rect x="583.5" y="175.45" width="1.02" height="14.02" fill="#37c897"/>
<rect x="584.5" y="175.45" width="1.02" height="14.02" fill="#39c895"/>
<rect x="585.5" y="175.45" width="1.02" height="14.02" fill="#37c897"/>
<rect x="586.5" y="175.45" width="1.02" height="14.02" fill="#36c898"/>
<rect x="587.5" y="175.45" width="1.02" height="14.02" fill="#37c897"/>
<rect x="588.5" y="175.45" width="1.02" height="14.02" fill="#35c79a"/>
<rect x="589.5" y="175.45" width="1.02" height="14.02" fill="#34c79c"/>
<rect x="590.5" y="175.45" width="1.02" height="14.02" fill="#37c898"/>
<rect x="591.5" y="175.45" width="1.02" height="14.02" fill="#35c79a"/>
<rect x="592.5" y="175.45" width="1.02" height="14.02" fill="#38c896"/>
<rect x="593.5" y="175.45" width="1.02" height="14.02" fill="#35c79a"/>
<rect x="594.5" y="175.45" width="1.02" height="14.02" fill="#33c69d"/>
<rect x="595.5" y="175.45" width="1.02" height="14.02" fill="#35c79a"/>
<rect x="596.5" y="175.45" width="1.02" height="14.02" fill="#39c994"/>
<rect x="597.5" y="175.45" width="1.02" height="14.02" fill="#36c899"/>
<rect x="598.5" y="175.45" width="1.02" height="14.02" fill="#35c79b"/>
<rect x="599.5" y="175.45" width="1.02" height="14.02" fill="#35c799"/>
<rect x="600.5" y="175.45" width="2.02" height="14.02" fill="#37c897"/>
<rect x="602.5" y="175.45" width="1.02" height="14.02" fill="#37c898"/>
<rect x="603.5" y="175.45" width="1.02" height="14.02" fill="#39c895"/>
<rect x="604.5" y="175.45" width="1.02" height="14.02" fill="#38c896"/>
<rect x="605.5" y="175.45" width="1.02" height="14.02" fill="#36c898"/>
<rect x="606.5" y="175.45" width="1.02" height="14.02" fill="#37c897"/>
<rect x="607.5" y="175.45" width="1.02" height="14.02" fill="#39c994"/>
<rect x="608.5" y="175.45" width="2.02" height="14.02" fill="#38c896"/>
<rect x="610.5" y="175.45" width="1.02" height="14.02" fill="#35c79a"/>
<rect x="611.5" y="175.45" width="1.02" height="14.02" fill="#36c898"/>
<rect x="612.5" y="175.45" width="1.02" height="14.02" fill="#38c896"/>
<rect x="613.5" y="175.45" width="1.02" height="14.02" fill="#36c899"/>
<rect x="614.5" y="175.45" width="1.02" height="14.02" fill="#38c896"/>
<rect x="615.5" y="175.45" width="1.02" height="14.02" fill="#37c897"/>
<rect x="616.5" y="175.45" width="1.02" height="14.02" fill="#38c896"/>
<rect x="617.5" y="175.45" width="1.02" height="14.02" fill="#36c899"/>
<rect x="618.5" y="175.45" width="1.02" height="14.02" fill="#3bc992"/>
<rect x="619.5" y="175.45" width="1.02" height="14.02" fill="#39c895"/>
<rect x="620.5" y="175.45" width="1.02" height="14.02" fill="#36c899"/>
<rect x="621.5" y="175.45" width="1.02" height="14.02" fill="#36c898"/>
<rect x="622.5" y="175.45" width="1.02" height="14.02" fill="#3bc992"/>
<rect x="623.5" y="175.45" width="1.02" height="14.02" fill="#36c899"/>
<rect x="624.5" y="175.45" width="2.02" height="14.02" fill="#38c896"/>
<rect x="626.5" y="175.45" width="1.02" height="14.02" fill="#36c898"/>
<rect x="627.5" y="175.45" width="1.02" height="14.02" fill="#35c79b"/>
<rect x="628.5" y="175.45" width="1.02" height="14.02" fill="#37c898"/>
<rect x="629.5" y="175.45" width="1.02" height="14.02" fill="#37c897"/>
<rect x="630.5" y="175.45" width="1.02" height="14.02" fill="#38c896"/>
<rect x="631.5" y="175.45" width="1.02" height="14.02" fill="#38c897"/>
<rect x="632.5" y="175.45" width="1.02" height="14.02" fill="#36c898"/>
<rect x="418.5" y="189.45" width="1.02" height="21.02" fill="#d8be28"/>
<rect x="419.5" y="189.45" width="1.02" height="21.02" fill="#ccc028"/>
<rect x="420.5" y="189.45" width="1.02" height="21.02" fill="#bec32e"/>
<rect x="421.5" y="189.45" width="1.02" height="21.02" fill="#b6c532"/>
<rect x="422.5" y="189.45" width="1.02" height="21.02" fill="#a4c83e"/>
<rect x="423.5" y="189.45" width="1.02" height="21.02" fill="#a3c83f"/>
<rect x="424.5" y="189.45" width="1.02" height="21.02" fill="#9dc943"/>
<rect x="425.5" y="189.45" width="1.02" height="21.02" fill="#97ca48"/>
<rect x="426.5" y="189.45" width="1.02" height="21.02" fill="#8ccb50"/>
<rect x="427.5" y="189.45" width="1.02" height="21.02" fill="#85cb55"/>
<rect x="428.5" y="189.45" width="1.02" height="21.02" fill="#87cb54"/>
<rect x="429.5" y="189.45" width="1.02" height="21.02" fill="#81cc59"/>
<rect x="430.5" y="189.45" width="1.02" height="21.02" fill="#7ecc5b"/>
<rect x="431.5" y="189.45" width="1.02" height="21.02" fill="#80cc59"/>
<rect x="432.5" y="189.45" width="1.02" height="21.02" fill="#77cc60"/>
<rect x="433.5" y="189.45" width="1.02" height="21.02" fill="#6dcd67"/>
<rect x="434.5" y="189.45" width="1.02" height="21.02" fill="#72cd63"/>
<rect x="435.5" y="189.45" width="1.02" height="21.02" fill="#6bcd69"/>
<rect x="436.5" y="189.45" width="1.02" height="21.02" fill="#73cd63"/>
<rect x="437.5" y="189.45" width="1.02" height="21.02" fill="#70cd65"/>
<rect x="438.5" y="189.45" width="1.02" height="21.02" fill="#6bcd69"/>
<rect x="439.5" y="189.45" width="1.02" height="21.02" fill="#6ccd68"/>
<rect x="440.5" y="189.45" width="1.02" height="21.02" fill="#6ecd67"/>
<rect x="441.5" y="189.45" width="1.02" height="21.02" fill="#6acd6a"/>
<rect x="442.5" y="189.45" width="1.02" height="21.02" fill="#6dcd67"/>
<rect x="443.5" y="189.45" width="1.02" height="21.02" fill="#68cd6c"/>
<rect x="444.5" y="189.45" width="3.02" height="21.02" fill="#6bcd69"/>
<rect x="447.5" y="189.45" width="1.02" height="21.02" fill="#62cd70"/>
<rect x="448.5" y="189.45" width="1.02" height="21.02" fill="#67cd6c"/>
<rect x="449.5" y="189.45" width="1.02" height="21.02" fill="#5dcc75"/>
<rect x="450.5" y="189.45" width="1.02" height="21.02" fill="#5fcd73"/>
<rect x="451.5" y="189.45" width="1.02" height="21.02" fill="#5ccc76"/>
<rect x="452.5" y="189.45" width="1.02" height="21.02" fill="#65cd6e"/>
<rect x="453.5" y="189.45" width="1.02" height="21.02" fill="#5dcc75"/>
<rect x="454.5" y="189.45" width="1.02" height="21.02" fill="#60cd72"/>
<rect x="455.5" y="189.45" width="2.02" height="21.02" fill="#5fcd73"/>
<rect x="457.5" y="189.45" width="1.02" height="21.02" fill="#5dcc75"/>
<rect x="458.5" y="189.45" width="1.02" height="21.02" fill="#5fcd73"/>
<rect x="459.5" y="189.45" width="1.02" height="21.02" fill="#64cd6f"/>
<rect x="460.5" y="189.45" width="1.02" height="21.02" fill="#5ecc74"/>
<rect x="461.5" y="189.45" width="1.02" height="21.02" fill="#5fcd73"/>
<rect x="462.5" y="189.45" width="1.02" height="21.02" fill="#60cd72"/>
<rect x="463.5" y="189.45" width="1.02" height="21.02" fill="#5ccc76"/>
<rect x="464.5" y="189.45" width="1.02" height="21.02" fill="#58cc79"/>
<rect x="465.5" y="189.45" width="1.02" height="21.02" fill="#5acc77"/>
<rect x="466.5" y="189.45" width="1.02" height="21.02" fill="#5fcd73"/>
<rect x="467.5" y="189.45" width="1.02" height="21.02" fill="#56cc7b"/>
<rect x="468.5" y="189.45" width="1.02" height="21.02" fill="#59cc78"/>
<rect x="469.5" y="189.45" width="1.02" height="21.02" fill="#5ecc74"/>
<rect x="470.5" y="189.45" width="1.02" height="21.02" fill="#5dcc75"/>
<rect x="471.5" y="189.45" width="1.02" height="21.02" fill="#5acc78"/>
<rect x="472.5" y="189.45" width="1.02" height="21.02" fill="#5ccc76"/>
<rect x="473.5" y="189.45" width="1.02" height="21.02" fill="#5acc78"/>
<rect x="474.5" y="189.45" width="1.02" height="21.02" fill="#55cc7b"/>
<rect x="475.5" y="189.45" width="1.02" height="21.02" fill="#54cc7d"/>
<rect x="476.5" y="189.45" width="1.02" height="21.02" fill="#56cc7a"/>
<rect x="477.5" y="189.45" width="1.02" height="21.02" fill="#5bcc76"/>
<rect x="478.5" y="189.45" width="1.02" height="21.02" fill="#56cc7b"/>
<rect x="479.5" y="189.45" width="2.02" height="21.02" fill="#55cc7c"/>
<rect x="481.5" y="189.45" width="1.02" height="21.02" fill="#52cc7e"/>
<rect x="482.5" y="189.45" width="1.02" height="21.02" fill="#57cc7a"/>
<rect x="483.5" y="189.45" width="1.02" height="21.02" fill="#53cc7d"/>
<rect x="484.5" y="189.45" width="1.02" height="21.02" fill="#58cc79"/>
<rect x="485.5" y="189.45" width="1.02" height="21.02" fill="#4fcc80"/>
<rect x="486.5" y="189.45" width="1.02" height="21.02" fill="#57cc7a"/>
<rect x="487.5" y="189.45" width="1.02" height="21.02" fill="#54cc7c"/>
<rect x="488.5" y="189.45" width="1.02" height="21.02" fill="#50cc80"/>
<rect x="489.5" y="189.45" width="1.02" height="21.02" fill="#58cc79"/>
<rect x="490.5" y="189.45" width="1.02" height="21.02" fill="#54cc7c"/>
<rect x="491.5" y="189.45" width="1.02" height="21.02" fill="#4ecc81"/>
<rect x="492.5" y="189.45" width="1.02" height="21.02" fill="#52cc7e"/>
<rect x="493.5" y="189.45" width="1.02" height="21.02" fill="#56cc7b"/>
<rect x="494.5" y="189.45" width="1.02" height="21.02" fill="#53cc7d"/>
<rect x="495.5" y="189.45" width="2.02" height="21.02" fill="#57cc7a"/>
<rect x="497.5" y="189.45" width="1.02" height="21.02" fill="#56cc7b"/>
<rect x="498.5" y="189.45" width="1.02" height="21.02" fill="#55cc7c"/>
<rect x="499.5" y="189.45" width="1.02" height="21.02" fill="#58cc79"/>
<rect x="500.5" y="189.45" width="1.02" height="21.02" fill="#56cc7b"/>
<rect x="501.5" y="189.45" width="1.02" height="21.02" fill="#55cc7c"/>
<rect x="502.5" y="189.45" width="1.02" height="21.02" fill="#4dcb82"/>
<rect x="503.5" y="189.45" width="1.02" height="21.02" fill="#56cc7b"/>
<rect x="504.5" y="189.45" width="1.02" height="21.02" fill="#57cc7a"/>
<rect x="505.5" y="189.45" width="1.02" height="21.02" fill="#52cc7e"/>
<rect x="506.5" y="189.45" width="1.02" height="21.02" fill="#51cc7f"/>
<rect x="507.5" y="189.45" width="1.02" height="21.02" fill="#59cc78"/>
<rect x="508.5" y="189.45" width="1.02" height="21.02" fill="#4dcc82"/>
<rect x="509.5" y="189.45" width="1.02" height="21.02" fill="#54cc7d"/>
<rect x="510.5" y="189.45" width="1.02" height="21.02" fill="#5acc77"/>
<rect x="511.5" y="189.45" width="1.02" height="21.02" fill="#4fcc80"/>
<rect x="512.5" y="189.45" width="1.02" height="21.02" fill="#54cc7c"/>
<rect x="513.5" y="189.45" width="1.02" height="21.02" fill="#58cc79"/>
<rect x="514.5" y="189.45" width="1.02" height="21.02" fill="#51cc7f"/>
<rect x="515.5" y="189.45" width="1.02" height="21.02" fill="#53cc7d"/>
<rect x="516.5" y="189.45" width="1.02" height="21.02" fill="#54cc7c"/>
<rect x="517.5" y="189.45" width="1.02" height="21.02" fill="#4fcc81"/>
<rect x="518.5" y="189.45" width="1.02" height="21.02" fill="#51cc7f"/>
<rect x="519.5" y="189.45" width="1.02" height="21.02" fill="#52cc7e"/>
<rect x="520.5" y="189.45" width="1.02" height="21.02" fill="#54cc7d"/>
<rect x="521.5" y="189.45" width="1.02" height="21.02" fill="#51cc7f"/>
<rect x="522.5" y="189.45" width="1.02" height="21.02" fill="#50cc7f"/>
<rect x="523.5" y="189.45" width="1.02" height="21.02" fill="#4ecc82"/>
<rect x="524.5" y="189.45" width="1.02" height="21.02" fill="#50cc80"/>
<rect x="525.5" y="189.45" width="1.02" height="21.02" fill="#53cc7d"/>
<rect x="526.5" y="189.45" width="1.02" height="21.02" fill="#51cc7f"/>
<rect x="527.5" y="189.45" width="2.02" height="21.02" fill="#4ecc81"/>
<rect x="529.5" y="189.45" width="1.02" height="21.02" fill="#59cc79"/>
<rect x="530.5" y="189.45" width="1.02" height="21.02" fill="#54cc7d"/>
<rect x="531.5" y="189.45" width="1.02" height="21.02" fill="#52cc7e"/>
<rect x="532.5" y="189.45" width="1.02" height="21.02" fill="#48cb86"/>
<rect x="533.5" y="189.45" width="1.02" height="21.02" fill="#52cc7e"/>
<rect x="534.5" y="189.45" width="1.02" height="21.02" fill="#51cc7f"/>
<rect x="535.5" y="189.45" width="1.02" height="21.02" fill="#55cc7c"/>
<rect x="536.5" y="189.45" width="1.02" height="21.02" fill="#51cc7f"/>
<rect x="537.5" y="189.45" width="1.02" height="21.02" fill="#4fcc80"/>
<rect x="538.5" y="189.45" width="1.02" height="21.02" fill="#51cc7f"/>
<rect x="539.5" y="189.45" width="1.02" height="21.02" fill="#49cb85"/>
<rect x="540.5" y="189.45" width="1.02" height="21.02" fill="#53cc7e"/>
<rect x="541.5" y="189.45" width="1.02" height="21.02" fill="#50cc7f"/>
<rect x="542.5" y="189.45" width="1.02" height="21.02" fill="#4dcc82"/>
<rect x="543.5" y="189.45" width="1.02" height="21.02" fill="#53cc7d"/>
<rect x="544.5" y="189.45" width="1.02" height="21.02" fill="#55cc7c"/>
<rect x="545.5" y="189.45" width="1.02" height="21.02" fill="#4bcb84"/>
<rect x="546.5" y="189.45" width="1.02" height="21.02" fill="#4dcb82"/>
<rect x="547.5" y="189.45" width="1.02" height="21.02" fill="#50cc80"/>
<rect x="548.5" y="189.45" width="1.02" height="21.02" fill="#4fcc80"/>
<rect x="549.5" y="189.45" width="1.02" height="21.02" fill="#4dcc82"/>
<rect x="550.5" y="189.45" width="1.02" height="21.02" fill="#4ccb83"/>
<rect x="551.5" y="189.45" width="1.02" height="21.02" fill="#55cc7b"/>
<rect x="552.5" y="189.45" width="1.02" height="21.02" fill="#52cc7e"/>
<rect x="553.5" y="189.45" width="1.02" height="21.02" fill="#4bcb84"/>
<rect x="554.5" y="189.45" width="1.02" height="21.02" fill="#4acb84"/>
<rect x="555.5" y="189.45" width="1.02" height="21.02" fill="#54cc7d"/>
<rect x="556.5" y="189.45" width="1.02" height="21.02" fill="#51cc7e"/>
<rect x="557.5" y="189.45" width="1.02" height="21.02" fill="#54cc7c"/>
<rect x="558.5" y="189.45" width="1.02" height="21.02" fill="#51cc7f"/>
<rect x="559.5" y="189.45" width="1.02" height="21.02" fill="#4bcb83"/>
<rect x="560.5" y="189.45" width="1.02" height="21.02" fill="#4fcc80"/>
<rect x="561.5" y="189.45" width="1.02" height="21.02" fill="#48cb86"/>
<rect x="562.5" y="189.45" width="1.02" height="21.02" fill="#4ccb83"/>
<rect x="563.5" y="189.45" width="1.02" height="21.02" fill="#4ecc81"/>
<rect x="564.5" y="189.45" width="1.02" height="21.02" fill="#50cc80"/>
<rect x="565.5" y="189.45" width="1.02" height="21.02" fill="#4ccb83"/>
<rect x="566.5" y="189.45" width="1.02" height="21.02" fill="#4dcc82"/>
<rect x="567.5" y="189.45" width="2.02" height="21.02" fill="#4fcc80"/>
<rect x="569.5" y="189.45" width="1.02" height="21.02" fill="#50cc80"/>
<rect x="570.5" y="189.45" width="1.02" height="21.02" fill="#4ecc81"/>
<rect x="571.5" y="189.45" width="1.02" height="21.02" fill="#4dcb82"/>
<rect x="572.5" y="189.45" width="1.02" height="21.02" fill="#50cc80"/>
<rect x="573.5" y="189.45" width="1.02" height="21.02" fill="#4ecc81"/>
<rect x="574.5" y="189.45" width="1.02" height="21.02" fill="#4bcb84"/>
<rect x="575.5" y="189.45" width="1.02" height="21.02" fill="#4bcb83"/>
<rect x="576.5" y="189.45" width="2.02" height="21.02" fill="#4dcc82"/>
<rect x="578.5" y="189.45" width="1.02" height="21.02" fill="#4ecc81"/>
<rect x="579.5" y="189.45" width="1.02" height="21.02" fill="#4dcc82"/>
<rect x="580.5" y="189.45" width="1.02" height="21.02" fill="#4ecc81"/>
<rect x="581.5" y="189.45" width="1.02" height="21.02" fill="#4dcb82"/>
<rect x="582.5" y="189.45" width="1.02" height="21.02" fill="#49cb85"/>
<rect x="583.5" y="189.45" width="1.02" height="21.02" fill="#4ecc81"/>
<rect x="584.5" y="189.45" width="1.02" height="21.02" fill="#50cc7f"/>
<rect x="585.5" y="189.45" width="1.02" height="21.02" fill="#4ecc81"/>
<rect x="586.5" y="189.45" width="1.02" height="21.02" fill="#4ccb82"/>
<rect x="587.5" y="189.45" width="1.02" height="21.02" fill="#4ecc81"/>
<rect x="588.5" y="189.45" width="1.02" height="21.02" fill="#4acb84"/>
<rect x="589.5" y="189.45" width="1.02" height="21.02" fill="#47cb87"/>
<rect x="590.5" y="189.45" width="1.02" height="21.02" fill="#4dcc82"/>
<rect x="591.5" y="189.45" width="1.02" height="21.02" fill="#4acb84"/>
<rect x="592.5" y="189.45" width="1.02" height="21.02" fill="#4fcc80"/>
<rect x="593.5" y="189.45" width="1.02" height="21.02" fill="#4acb85"/>
<rect x="594.5" y="189.45" width="1.02" height="21.02" fill="#45cb89"/>
<rect x="595.5" y="189.45" width="1.02" height="21.02" fill="#4acb85"/>
<rect x="596.5" y="189.45" width="1.02" height="21.02" fill="#52cc7e"/>
<rect x="597.5" y="189.45" width="1.02" height="21.02" fill="#4ccb83"/>
<rect x="598.5" y="189.45" width="1.02" height="21.02" fill="#49cb86"/>
<rect x="599.5" y="189.45" width="1.02" height="21.02" fill="#4acb84"/>
<rect x="600.5" y="189.45" width="2.02" height="21.02" fill="#4ecc81"/>
<rect x="602.5" y="189.45" width="1.02" height="21.02" fill="#4dcc82"/>
<rect x="603.5" y="189.45" width="1.02" height="21.02" fill="#51cc7f"/>
<rect x="604.5" y="189.45" width="1.02" height="21.02" fill="#4fcc81"/>
<rect x="605.5" y="189.45" width="1.02" height="21.02" fill="#4ccb82"/>
<rect x="606.5" y="189.45" width="1.02" height="21.02" fill="#4ecc81"/>
<rect x="607.5" y="189.45" width="1.02" height="21.02" fill="#52cc7e"/>
<rect x="608.5" y="189.45" width="2.02" height="21.02" fill="#50cc80"/>
<rect x="610.5" y="189.45" width="1.02" height="21.02" fill="#49cb85"/>
<rect x="611.5" y="189.45" width="1.02" height="21.02" fill="#4ccb83"/>
<rect x="612.5" y="189.45" width="1.02" height="21.02" fill="#4fcc81"/>
<rect x="613.5" y="189.45" width="1.02" height="21.02" fill="#4bcb83"/>
<rect x="614.5" y="189.45" width="1.02" height="21.02" fill="#50cc80"/>
<rect x="615.5" y="189.45" width="1.02" height="21.02" fill="#4ecc81"/>
<rect x="616.5" y="189.45" width="1.02" height="21.02" fill="#4fcc80"/>
<rect x="617.5" y="189.45" width="1.02" height="21.02" fill="#4ccb83"/>
<rect x="618.5" y="189.45" width="1.02" height="21.02" fill="#54cc7c"/>
<rect x="619.5" y="189.45" width="1.02" height="21.02" fill="#50cc7f"/>
<rect x="620.5" y="189.45" width="1.02" height="21.02" fill="#4ccb83"/>
<rect x="621.5" y="189.45" width="1.02" height="21.02" fill="#4dcb82"/>
<rect x="622.5" y="189.45" width="1.02" height="21.02" fill="#54cc7c"/>
<rect x="623.5" y="189.45" width="1.02" height="21.02" fill="#4bcb83"/>
<rect x="624.5" y="189.45" width="2.02" height="21.02" fill="#4fcc80"/>
<rect x="626.5" y="189.45" width="1.02" height="21.02" fill="#4ccb83"/>
<rect x="627.5" y="189.45" width="1.02" height="21.02" fill="#49cb86"/>
<rect x="628.5" y="189.45" width="1.02" height="21.02" fill="#4dcb82"/>
<rect x="629.5" y="189.45" width="1.02" height="21.02" fill="#4dcc82"/>
<rect x="630.5" y="189.45" width="1.02" height="21.02" fill="#50cc80"/>
<rect x="631.5" y="189.45" width="1.02" height="21.02" fill="#4fcc81"/>
<rect x="632.5" y="189.45" width="1.02" height="21.02" fill="#4ccb83"/>
<rect x="418.5" y="210.45" width="1.02" height="11.02" fill="#e3bc2c"/>
<rect x="419.5" y="210.45" width="1.02" height="11.02" fill="#d7be28"/>
<rect x="420.5" y="210.45" width="1.02" height="11.02" fill="#cbc129"/>
<rect x="421.5" y="210.45" width="1.02" height="11.02" fill="#c3c22b"/>
<rect x="422.5" y="210.45" width="1.02" height="11.02" fill="#b2c635"/>
<rect x="423.5" y="210.45" width="1.02" height="11.02" fill="#b1c636"/>
<rect x="424.5" y="210.45" width="1.02" height="11.02" fill="#abc739"/>
<rect x="425.5" y="210.45" width="1.02" height="11.02" fill="#a5c83d"/>
<rect x="426.5" y="210.45" width="1.02" height="11.02" fill="#9ac945"/>
<rect x="427.5" y="210.45" width="1.02" height="11.02" fill="#94ca4a"/>
<rect x="428.5" y="210.45" width="1.02" height="11.02" fill="#96ca48"/>
<rect x="429.5" y="210.45" width="1.02" height="11.02" fill="#8fcb4e"/>
<rect x="430.5" y="210.45" width="1.02" height="11.02" fill="#8ccb50"/>
<rect x="431.5" y="210.45" width="1.02" height="11.02" fill="#8ecb4e"/>
<rect x="432.5" y="210.45" width="1.02" height="11.02" fill="#86cb55"/>
<rect x="433.5" y="210.45" width="1.02" height="11.02" fill="#7ccc5c"/>
<rect x="434.5" y="210.45" width="1.02" height="11.02" fill="#82cc58"/>
<rect x="435.5" y="210.45" width="1.02" height="11.02" fill="#7fcc5a"/>
<rect x="436.5" y="210.45" width="1.02" height="11.02" fill="#8ecb4e"/>
<rect x="437.5" y="210.45" width="1.02" height="11.02" fill="#83cc57"/>
<rect x="438.5" y="210.45" width="1.02" height="11.02" fill="#72cd63"/>
<rect x="439.5" y="210.45" width="1.02" height="11.02" fill="#70cd65"/>
<rect x="440.5" y="210.45" width="1.02" height="11.02" fill="#71cd64"/>
<rect x="441.5" y="210.45" width="1.02" height="11.02" fill="#6ecd67"/>
<rect x="442.5" y="210.45" width="1.02" height="11.02" fill="#71cd64"/>
<rect x="443.5" y="210.45" width="1.02" height="11.02" fill="#6bcd69"/>
<rect x="444.5" y="210.45" width="1.02" height="11.02" fill="#6ecd67"/>
<rect x="445.5" y="210.45" width="1.02" height="11.02" fill="#6fcd66"/>
<rect x="446.5" y="210.45" width="1.02" height="11.02" fill="#6ecd66"/>
<rect x="447.5" y="210.45" width="1.02" height="11.02" fill="#66cd6d"/>
<rect x="448.5" y="210.45" width="1.02" height="11.02" fill="#6acd6a"/>
<rect x="449.5" y="210.45" width="1.02" height="11.02" fill="#60cd72"/>
<rect x="450.5" y="210.45" width="1.02" height="11.02" fill="#62cd70"/>
<rect x="451.5" y="210.45" width="1.02" height="11.02" fill="#5fcd73"/>
<rect x="452.5" y="210.45" width="1.02" height="11.02" fill="#68cd6b"/>
<rect x="453.5" y="210.45" width="1.02" height="11.02" fill="#60cd72"/>
<rect x="454.5" y="210.45" width="1.02" height="11.02" fill="#63cd6f"/>
<rect x="455.5" y="210.45" width="2.02" height="11.02" fill="#62cd70"/>
<rect x="457.5" y="210.45" width="1.02" height="11.02" fill="#60cd72"/>
<rect x="458.5" y="210.45" width="1.02" height="11.02" fill="#62cd70"/>
<rect x="459.5" y="210.45" width="1.02" height="11.02" fill="#67cd6c"/>
<rect x="460.5" y="210.45" width="1.02" height="11.02" fill="#61cd71"/>
<rect x="461.5" y="210.45" width="1.02" height="11.02" fill="#62cd70"/>
<rect x="462.5" y="210.45" width="1.02" height="11.02" fill="#63cd6f"/>
<rect x="463.5" y="210.45" width="1.02" height="11.02" fill="#60cd72"/>
<rect x="464.5" y="210.45" width="1.02" height="11.02" fill="#62cd71"/>
<rect x="465.5" y="210.45" width="1.02" height="11.02" fill="#71cd64"/>
<rect x="466.5" y="210.45" width="1.02" height="11.02" fill="#78cc5f"/>
<rect x="467.5" y="210.45" width="2.02" height="11.02" fill="#65cd6e"/>
<rect x="469.5" y="210.45" width="1.02" height="11.02" fill="#6acd6a"/>
<rect x="470.5" y="210.45" width="1.02" height="11.02" fill="#69cd6a"/>
<rect x="471.5" y="210.45" width="1.02" height="11.02" fill="#66cd6d"/>
<rect x="472.5" y="210.45" width="1.02" height="11.02" fill="#69cd6b"/>
<rect x="473.5" y="210.45" width="1.02" height="11.02" fill="#66cd6d"/>
<rect x="474.5" y="210.45" width="1.02" height="11.02" fill="#61cd71"/>
<rect x="475.5" y="210.45" width="1.02" height="11.02" fill="#60cd72"/>
<rect x="476.5" y="210.45" width="1.02" height="11.02" fill="#63cd70"/>
<rect x="477.5" y="210.45" width="1.02" height="11.02" fill="#68cd6c"/>
<rect x="478.5" y="210.45" width="1.02" height="11.02" fill="#62cd70"/>
<rect x="479.5" y="210.45" width="2.02" height="11.02" fill="#61cd71"/>
<rect x="481.5" y="210.45" width="1.02" height="11.02" fill="#5fcd73"/>
<rect x="482.5" y="210.45" width="1.02" height="11.02" fill="#63cd70"/>
<rect x="483.5" y="210.45" width="1.02" height="11.02" fill="#5fcd73"/>
<rect x="484.5" y="210.45" width="1.02" height="11.02" fill="#64cd6f"/>
<rect x="485.5" y="210.45" width="1.02" height="11.02" fill="#5bcc76"/>
<rect x="486.5" y="210.45" width="1.02" height="11.02" fill="#63cd6f"/>
<rect x="487.5" y="210.45" width="1.02" height="11.02" fill="#60cd72"/>
<rect x="488.5" y="210.45" width="1.02" height="11.02" fill="#5ccc76"/>
<rect x="489.5" y="210.45" width="1.02" height="11.02" fill="#64cd6f"/>
<rect x="490.5" y="210.45" width="1.02" height="11.02" fill="#61cd72"/>
<rect x="491.5" y="210.45" width="1.02" height="11.02" fill="#5acc77"/>
<rect x="492.5" y="210.45" width="1.02" height="11.02" fill="#5ecd74"/>
<rect x="493.5" y="210.45" width="1.02" height="11.02" fill="#62cd71"/>
<rect x="494.5" y="210.45" width="1.02" height="11.02" fill="#5fcd73"/>
<rect x="495.5" y="210.45" width="1.02" height="11.02" fill="#61cd72"/>
<rect x="496.5" y="210.45" width="1.02" height="11.02" fill="#5dcc74"/>
<rect x="497.5" y="210.45" width="1.02" height="11.02" fill="#5acc77"/>
<rect x="498.5" y="210.45" width="1.02" height="11.02" fill="#57cc7a"/>
<rect x="499.5" y="210.45" width="1.02" height="11.02" fill="#5acc78"/>
<rect x="500.5" y="210.45" width="1.02" height="11.02" fill="#57cc7a"/>
<rect x="501.5" y="210.45" width="1.02" height="11.02" fill="#56cc7b"/>
<rect x="502.5" y="210.45" width="1.02" height="11.02" fill="#4ecc81"/>
<rect x="503.5" y="210.45" width="1.02" height="11.02" fill="#57cc7a"/>
<rect x="504.5" y="210.45" width="1.02" height="11.02" fill="#58cc79"/>
<rect x="505.5" y="210.45" width="1.02" height="11.02" fill="#53cc7d"/>
<rect x="506.5" y="210.45" width="1.02" height="11.02" fill="#53cc7e"/>
<rect x="507.5" y="210.45" width="1.02" height="11.02" fill="#5acc77"/>
<rect x="508.5" y="210.45" width="1.02" height="11.02" fill="#4ecc81"/>
<rect x="509.5" y="210.45" width="1.02" height="11.02" fill="#55cc7c"/>
<rect x="510.5" y="210.45" width="1.02" height="11.02" fill="#5bcc76"/>
<rect x="511.5" y="210.45" width="1.02" height="11.02" fill="#50cc7f"/>
<rect x="512.5" y="210.45" width="1.02" height="11.02" fill="#55cc7b"/>
<rect x="513.5" y="210.45" width="1.02" height="11.02" fill="#59cc78"/>
<rect x="514.5" y="210.45" width="1.02" height="11.02" fill="#53cc7d"/>
<rect x="515.5" y="210.45" width="1.02" height="11.02" fill="#55cc7c"/>
<rect x="516.5" y="210.45" width="1.02" height="11.02" fill="#56cc7b"/>
<rect x="517.5" y="210.45" width="1.02" height="11.02" fill="#50cc80"/>
<rect x="518.5" y="210.45" width="1.02" height="11.02" fill="#52cc7e"/>
<rect x="519.5" y="210.45" width="1.02" height="11.02" fill="#53cc7d"/>
<rect x="520.5" y="210.45" width="1.02" height="11.02" fill="#55cc7c"/>
<rect x="521.5" y="210.45" width="2.02" height="11.02" fill="#52cc7e"/>
<rect x="523.5" y="210.45" width="1.02" height="11.02" fill="#4fcc81"/>
<rect x="524.5" y="210.45" width="1.02" height="11.02" fill="#51cc7f"/>
<rect x="525.5" y="210.45" width="1.02" height="11.02" fill="#55cc7c"/>
<rect x="526.5" y="210.45" width="1.02" height="11.02" fill="#52cc7e"/>
<rect x="527.5" y="210.45" width="2.02" height="11.02" fill="#4fcc80"/>
<rect x="529.5" y="210.45" width="1.02" height="11.02" fill="#5acc77"/>
<rect x="530.5" y="210.45" width="1.02" height="11.02" fill="#55cc7c"/>
<rect x="531.5" y="210.45" width="1.02" height="11.02" fill="#53cc7d"/>
<rect x="532.5" y="210.45" width="1.02" height="11.02" fill="#49cb85"/>
<rect x="533.5" y="210.45" width="1.02" height="11.02" fill="#53cc7d"/>
<rect x="534.5" y="210.45" width="1.02" height="11.02" fill="#53cc7e"/>
<rect x="535.5" y="210.45" width="1.02" height="11.02" fill="#56cc7b"/>
<rect x="536.5" y="210.45" width="1.02" height="11.02" fill="#52cc7e"/>
<rect x="537.5" y="210.45" width="1.02" height="11.02" fill="#51cc7f"/>
<rect x="538.5" y="210.45" width="1.02" height="11.02" fill="#52cc7e"/>
<rect x="539.5" y="210.45" width="1.02" height="11.02" fill="#4bcb84"/>
<rect x="540.5" y="210.45" width="1.02" height="11.02" fill="#54cc7d"/>
<rect x="541.5" y="210.45" width="1.02" height="11.02" fill="#52cc7e"/>
<rect x="542.5" y="210.45" width="1.02" height="11.02" fill="#4ecc81"/>
<rect x="543.5" y="210.45" width="1.02" height="11.02" fill="#55cc7c"/>
<rect x="544.5" y="210.45" width="1.02" height="11.02" fill="#56cc7b"/>
<rect x="545.5" y="210.45" width="1.02" height="11.02" fill="#4ccb83"/>
<rect x="546.5" y="210.45" width="1.02" height="11.02" fill="#4ecc81"/>
<rect x="547.5" y="210.45" width="2.02" height="11.02" fill="#51cc7f"/>
<rect x="549.5" y="210.45" width="1.02" height="11.02" fill="#4fcc81"/>
<rect x="550.5" y="210.45" width="1.02" height="11.02" fill="#4dcc82"/>
<rect x="551.5" y="210.45" width="1.02" height="11.02" fill="#57cc7a"/>
<rect x="552.5" y="210.45" width="1.02" height="11.02" fill="#53cc7d"/>
<rect x="553.5" y="210.45" width="1.02" height="11.02" fill="#4ccb83"/>
<rect x="554.5" y="210.45" width="1.02" height="11.02" fill="#4bcb83"/>
<rect x="555.5" y="210.45" width="1.02" height="11.02" fill="#55cc7c"/>
<rect x="556.5" y="210.45" width="1.02" height="11.02" fill="#53cc7d"/>
<rect x="557.5" y="210.45" width="1.02" height="11.02" fill="#55cc7b"/>
<rect x="558.5" y="210.45" width="1.02" height="11.02" fill="#52cc7e"/>
<rect x="559.5" y="210.45" width="1.02" height="11.02" fill="#4dcb82"/>
<rect x="560.5" y="210.45" width="1.02" height="11.02" fill="#50cc7f"/>
<rect x="561.5" y="210.45" width="1.02" height="11.02" fill="#49cb86"/>
<rect x="562.5" y="210.45" width="1.02" height="11.02" fill="#4dcc82"/>
<rect x="563.5" y="210.45" width="1.02" height="11.02" fill="#4fcc80"/>
<rect x="564.5" y="210.45" width="1.02" height="11.02" fill="#51cc7f"/>
<rect x="565.5" y="210.45" width="1.02" height="11.02" fill="#4dcc82"/>
<rect x="566.5" y="210.45" width="1.02" height="11.02" fill="#4fcc81"/>
<rect x="567.5" y="210.45" width="2.02" height="11.02" fill="#50cc7f"/>
<rect x="569.5" y="210.45" width="1.02" height="11.02" fill="#51cc7f"/>
<rect x="570.5" y="210.45" width="1.02" height="11.02" fill="#50cc80"/>
<rect x="571.5" y="210.45" width="1.02" height="11.02" fill="#4ecc81"/>
<rect x="572.5" y="210.45" width="1.02" height="11.02" fill="#51cc7f"/>
<rect x="573.5" y="210.45" width="1.02" height="11.02" fill="#4fcc80"/>
<rect x="574.5" y="210.45" width="1.02" height="11.02" fill="#4ccb83"/>
<rect x="575.5" y="210.45" width="1.02" height="11.02" fill="#4dcb82"/>
<rect x="576.5" y="210.45" width="1.02" height="11.02" fill="#4fcc81"/>
<rect x="577.5" y="210.45" width="1.02" height="11.02" fill="#4ecc81"/>
<rect x="578.5" y="210.45" width="1.02" height="11.02" fill="#4fcc80"/>
<rect x="579.5" y="210.45" width="1.02" height="11.02" fill="#4fcc81"/>
<rect x="580.5" y="210.45" width="1.02" height="11.02" fill="#4fcc80"/>
<rect x="581.5" y="210.45" width="1.02" height="11.02" fill="#4ecc81"/>
<rect x="582.5" y="210.45" width="1.02" height="11.02" fill="#4acb84"/>
<rect x="583.5" y="210.45" width="1.02" height="11.02" fill="#50cc80"/>
<rect x="584.5" y="210.45" width="1.02" height="11.02" fill="#52cc7e"/>
<rect x="585.5" y="210.45" width="1.02" height="11.02" fill="#50cc80"/>
<rect x="586.5" y="210.45" width="1.02" height="11.02" fill="#4ecc81"/>
<rect x="587.5" y="210.45" width="1.02" height="11.02" fill="#50cc80"/>
<rect x="588.5" y="210.45" width="1.02" height="11.02" fill="#4bcb83"/>
<rect x="589.5" y="210.45" width="1.02" height="11.02" fill="#48cb86"/>
<rect x="590.5" y="210.45" width="1.02" height="11.02" fill="#4ecc81"/>
<rect x="591.5" y="210.45" width="1.02" height="11.02" fill="#4bcb83"/>
<rect x="592.5" y="210.45" width="1.02" height="11.02" fill="#50cc7f"/>
<rect x="593.5" y="210.45" width="1.02" height="11.02" fill="#4bcb84"/>
<rect x="594.5" y="210.45" width="1.02" height="11.02" fill="#46cb88"/>
<rect x="595.5" y="210.45" width="1.02" height="11.02" fill="#4bcb84"/>
<rect x="596.5" y="210.45" width="1.02" height="11.02" fill="#53cc7d"/>
<rect x="597.5" y="210.45" width="1.02" height="11.02" fill="#4dcc82"/>
<rect x="598.5" y="210.45" width="1.02" height="11.02" fill="#4acb85"/>
<rect x="599.5" y="210.45" width="1.02" height="11.02" fill="#4ccb83"/>
<rect x="600.5" y="210.45" width="1.02" height="11.02" fill="#50cc80"/>
<rect x="601.5" y="210.45" width="1.02" height="11.02" fill="#4fcc80"/>
<rect x="602.5" y="210.45" width="1.02" height="11.02" fill="#4ecc81"/>
<rect x="603.5" y="210.45" width="1.02" height="11.02" fill="#53cc7e"/>
<rect x="604.5" y="210.45" width="1.02" height="11.02" fill="#50cc80"/>
<rect x="605.5" y="210.45" width="1.02" height="11.02" fill="#4ecc81"/>
<rect x="606.5" y="210.45" width="1.02" height="11.02" fill="#50cc80"/>
<rect x="607.5" y="210.45" width="1.02" height="11.02" fill="#53cc7d"/>
<rect x="608.5" y="210.45" width="2.02" height="11.02" fill="#51cc7f"/>
<rect x="610.5" y="210.45" width="1.02" height="11.02" fill="#4acb84"/>
<rect x="611.5" y="210.45" width="1.02" height="11.02" fill="#4dcc82"/>
<rect x="612.5" y="210.45" width="1.02" height="11.02" fill="#50cc80"/>
<rect x="613.5" y="210.45" width="1.02" height="11.02" fill="#4dcb82"/>
<rect x="614.5" y="210.45" width="1.02" height="11.02" fill="#51cc7f"/>
<rect x="615.5" y="210.45" width="1.02" height="11.02" fill="#50cc80"/>
<rect x="616.5" y="210.45" width="1.02" height="11.02" fill="#50cc7f"/>
<rect x="617.5" y="210.45" width="1.02" height="11.02" fill="#4dcc82"/>
<rect x="618.5" y="210.45" width="1.02" height="11.02" fill="#56cc7b"/>
<rect x="619.5" y="210.45" width="1.02" height="11.02" fill="#51cc7e"/>
<rect x="620.5" y="210.45" width="1.02" height="11.02" fill="#4dcc82"/>
<rect x="621.5" y="210.45" width="1.02" height="11.02" fill="#4ecc81"/>
<rect x="622.5" y="210.45" width="1.02" height="11.02" fill="#56cc7b"/>
<rect x="623.5" y="210.45" width="1.02" height="11.02" fill="#4ccb82"/>
<rect x="624.5" y="210.45" width="1.02" height="11.02" fill="#50cc7f"/>
<rect x="625.5" y="210.45" width="1.02" height="11.02" fill="#51cc7f"/>
<rect x="626.5" y="210.45" width="1.02" height="11.02" fill="#4dcc82"/>
<rect x="627.5" y="210.45" width="1.02" height="11.02" fill="#4acb85"/>
<rect x="628.5" y="210.45" width="1.02" height="11.02" fill="#4ecc81"/>
<rect x="629.5" y="210.45" width="1.02" height="11.02" fill="#4fcc81"/>
<rect x="630.5" y="210.45" width="1.02" height="11.02" fill="#51cc7f"/>
<rect x="631.5" y="210.45" width="1.02" height="11.02" fill="#50cc80"/>
<rect x="632.5" y="210.45" width="1.02" height="11.02" fill="#4dcc82"/>
</g>
<path d="M418.5 100.5V98.7M418.5 15.45V17.25M461.5 100.5V98.7M461.5 15.45V17.25M504.5 100.5V98.7M504.5 15.45V17.25M547.5 100.5V98.7M547.5 15.45V17.25M590.5 100.5V98.7M590.5 15.45V17.25M633.5 100.5V98.7M633.5 15.45V17.25M418.5 34.15H420.3M633.3 34.15H631.5M418.5 58.3H420.3M633.3 58.3H631.5M418.5 82.45H420.3M633.3 82.45H631.5" stroke="#6a6a6a" stroke-width="1" fill="none"/>
<rect x="418.5" y="15.45" width="214.8" height="85.05" stroke="#6a6a6a" stroke-width="1" fill="none"/>
<text class="t" x="416.2" y="36.65" font-size="7" text-anchor="end">15000</text>
<text class="t" x="416.2" y="60.8" font-size="7" text-anchor="end">10000</text>
<text class="t" x="416.2" y="84.95" font-size="7" text-anchor="end">5000</text>
<text class="t" x="418.5" y="110.7" font-size="7" text-anchor="middle">0</text>
<text class="t" x="461.5" y="110.7" font-size="7" text-anchor="middle">0.2</text>
<text class="t" x="504.5" y="110.7" font-size="7" text-anchor="middle">0.4</text>
<text class="t" x="547.5" y="110.7" font-size="7" text-anchor="middle">0.6</text>
<text class="t" x="590.5" y="110.7" font-size="7" text-anchor="middle">0.8</text>
<text class="t" x="633.5" y="110.7" font-size="7" text-anchor="middle">1</text>
<text class="l" x="451.0" y="120.7" font-size="7.75">Normalized Frequency (</text>
<text class="t" x="533.6" y="120.7" font-size="7.75" style="fill:#8a8a8a">&#215;</text>
<text class="t" x="538.9" y="120.7" font-size="7.75" style="fill:#6a6a6a;font-family:&quot;Liberation Serif&quot;,serif;font-style:italic">&#960;</text>
<text class="l" x="545.3" y="120.7" font-size="7.75">radians/sample)</text>
<text class="l" x="392.7" y="58.27" font-size="8" text-anchor="middle" transform="rotate(-90 392.7 58.27)">Samples</text>
<path d="M418.5 220.5V218.7M418.5 135.45V137.25M461.5 220.5V218.7M461.5 135.45V137.25M504.5 220.5V218.7M504.5 135.45V137.25M547.5 220.5V218.7M547.5 135.45V137.25M590.5 220.5V218.7M590.5 135.45V137.25M633.5 220.5V218.7M633.5 135.45V137.25M418.5 154.15H420.3M633.3 154.15H631.5M418.5 178.3H420.3M633.3 178.3H631.5M418.5 202.45H420.3M633.3 202.45H631.5" stroke="#6a6a6a" stroke-width="1" fill="none"/>
<rect x="418.5" y="135.45" width="214.8" height="85.05" stroke="#6a6a6a" stroke-width="1" fill="none"/>
<text class="t" x="416.2" y="156.65" font-size="7" text-anchor="end">15000</text>
<text class="t" x="416.2" y="180.8" font-size="7" text-anchor="end">10000</text>
<text class="t" x="416.2" y="204.95" font-size="7" text-anchor="end">5000</text>
<text class="t" x="418.5" y="230.7" font-size="7" text-anchor="middle">0</text>
<text class="t" x="461.5" y="230.7" font-size="7" text-anchor="middle">0.2</text>
<text class="t" x="504.5" y="230.7" font-size="7" text-anchor="middle">0.4</text>
<text class="t" x="547.5" y="230.7" font-size="7" text-anchor="middle">0.6</text>
<text class="t" x="590.5" y="230.7" font-size="7" text-anchor="middle">0.8</text>
<text class="t" x="633.5" y="230.7" font-size="7" text-anchor="middle">1</text>
<text class="l" x="451.0" y="240.7" font-size="7.75">Normalized Frequency (</text>
<text class="t" x="533.6" y="240.7" font-size="7.75" style="fill:#8a8a8a">&#215;</text>
<text class="t" x="538.9" y="240.7" font-size="7.75" style="fill:#6a6a6a;font-family:&quot;Liberation Serif&quot;,serif;font-style:italic">&#960;</text>
<text class="l" x="545.3" y="240.7" font-size="7.75">radians/sample)</text>
<text class="l" x="392.7" y="178.28" font-size="8" text-anchor="middle" transform="rotate(-90 392.7 178.28)">Samples</text>
<defs><linearGradient id="gct1" x1="0" y1="0" x2="0" y2="1"><stop offset="0%" stop-color="#f9fb15"/><stop offset="1.59%" stop-color="#f7f51b"/><stop offset="3.17%" stop-color="#f6ef20"/><stop offset="4.76%" stop-color="#f5e924"/><stop offset="6.35%" stop-color="#f5e327"/><stop offset="7.94%" stop-color="#f7dc2a"/><stop offset="9.52%" stop-color="#fad62d"/><stop offset="11.11%" stop-color="#fccf30"/><stop offset="12.7%" stop-color="#fec934"/><stop offset="14.29%" stop-color="#fec338"/><stop offset="15.87%" stop-color="#febe3c"/><stop offset="17.46%" stop-color="#f8ba3d"/><stop offset="19.05%" stop-color="#f0ba36"/><stop offset="20.63%" stop-color="#e6bb2d"/><stop offset="22.22%" stop-color="#dcbd29"/><stop offset="23.81%" stop-color="#d1bf27"/><stop offset="25.4%" stop-color="#c5c22a"/><stop offset="26.98%" stop-color="#b9c431"/><stop offset="28.57%" stop-color="#abc739"/><stop offset="30.16%" stop-color="#9dc943"/><stop offset="31.75%" stop-color="#8fcb4e"/><stop offset="33.33%" stop-color="#81cc59"/><stop offset="34.92%" stop-color="#72cd64"/><stop offset="36.51%" stop-color="#64cd6f"/><stop offset="38.1%" stop-color="#57cc7a"/><stop offset="39.68%" stop-color="#4acb84"/><stop offset="41.27%" stop-color="#3fca8e"/><stop offset="42.86%" stop-color="#37c897"/><stop offset="44.44%" stop-color="#31c69f"/><stop offset="46.03%" stop-color="#2cc4a7"/><stop offset="47.62%" stop-color="#24c1ae"/><stop offset="49.21%" stop-color="#19bfb6"/><stop offset="50.79%" stop-color="#0bbdbd"/><stop offset="52.38%" stop-color="#02bac3"/><stop offset="53.97%" stop-color="#01b8ca"/><stop offset="55.56%" stop-color="#08b5d0"/><stop offset="57.14%" stop-color="#12b1d6"/><stop offset="58.73%" stop-color="#18addb"/><stop offset="60.32%" stop-color="#1ca9df"/><stop offset="61.9%" stop-color="#20a5e3"/><stop offset="63.49%" stop-color="#23a0e5"/><stop offset="65.08%" stop-color="#259be8"/><stop offset="66.67%" stop-color="#2797eb"/><stop offset="68.25%" stop-color="#2b91ef"/><stop offset="69.84%" stop-color="#2d8cf3"/><stop offset="71.43%" stop-color="#2e87f7"/><stop offset="73.02%" stop-color="#2f81fa"/><stop offset="74.6%" stop-color="#327cfc"/><stop offset="76.19%" stop-color="#3875fe"/><stop offset="77.78%" stop-color="#3e6fff"/><stop offset="79.37%" stop-color="#4269fe"/><stop offset="80.95%" stop-color="#4563fd"/><stop offset="82.54%" stop-color="#465efb"/><stop offset="84.13%" stop-color="#4758f8"/><stop offset="85.71%" stop-color="#4852f4"/><stop offset="87.3%" stop-color="#484df0"/><stop offset="88.89%" stop-color="#4747eb"/><stop offset="90.48%" stop-color="#4741e5"/><stop offset="92.06%" stop-color="#463cde"/><stop offset="93.65%" stop-color="#4537d5"/><stop offset="95.24%" stop-color="#4332cb"/><stop offset="96.83%" stop-color="#422ec0"/><stop offset="98.41%" stop-color="#402ab4"/><stop offset="100%" stop-color="#3e26a8"/></linearGradient></defs>
<rect x="644.3" y="15.45" width="13" height="85.05" fill="url(#gct1)"/>
<text class="t" x="660.5" y="19.57" font-size="7" text-anchor="start">100</text>
<text class="t" x="660.5" y="35.77" font-size="7" text-anchor="start">50</text>
<text class="t" x="660.5" y="51.97" font-size="7" text-anchor="start">0</text>
<text class="t" x="660.5" y="68.17" font-size="7" text-anchor="start">-50</text>
<text class="t" x="660.5" y="84.37" font-size="7" text-anchor="start">-100</text>
<text class="t" x="660.5" y="100.57" font-size="7" text-anchor="start">-150</text>
<path d="M657.3 17.07H655.5M657.3 33.27H655.5M657.3 49.47H655.5M657.3 65.67H655.5M657.3 81.87H655.5M657.3 98.07H655.5" stroke="#6a6a6a" stroke-width="1"/>
<rect x="644.3" y="15.45" width="13" height="85.05" stroke="#6a6a6a" stroke-width="1" fill="none"/>
<text class="c" x="681.2" y="57.98" font-size="6.55" text-anchor="middle" transform="rotate(-90 681.2 57.98)">Power/frequency (dB/(rad/sample))</text>
<defs><linearGradient id="gcb1" x1="0" y1="0" x2="0" y2="1"><stop offset="0%" stop-color="#f9fb15"/><stop offset="1.59%" stop-color="#f7f51b"/><stop offset="3.17%" stop-color="#f6ef20"/><stop offset="4.76%" stop-color="#f5e924"/><stop offset="6.35%" stop-color="#f5e327"/><stop offset="7.94%" stop-color="#f7dc2a"/><stop offset="9.52%" stop-color="#fad62d"/><stop offset="11.11%" stop-color="#fccf30"/><stop offset="12.7%" stop-color="#fec934"/><stop offset="14.29%" stop-color="#fec338"/><stop offset="15.87%" stop-color="#febe3c"/><stop offset="17.46%" stop-color="#f8ba3d"/><stop offset="19.05%" stop-color="#f0ba36"/><stop offset="20.63%" stop-color="#e6bb2d"/><stop offset="22.22%" stop-color="#dcbd29"/><stop offset="23.81%" stop-color="#d1bf27"/><stop offset="25.4%" stop-color="#c5c22a"/><stop offset="26.98%" stop-color="#b9c431"/><stop offset="28.57%" stop-color="#abc739"/><stop offset="30.16%" stop-color="#9dc943"/><stop offset="31.75%" stop-color="#8fcb4e"/><stop offset="33.33%" stop-color="#81cc59"/><stop offset="34.92%" stop-color="#72cd64"/><stop offset="36.51%" stop-color="#64cd6f"/><stop offset="38.1%" stop-color="#57cc7a"/><stop offset="39.68%" stop-color="#4acb84"/><stop offset="41.27%" stop-color="#3fca8e"/><stop offset="42.86%" stop-color="#37c897"/><stop offset="44.44%" stop-color="#31c69f"/><stop offset="46.03%" stop-color="#2cc4a7"/><stop offset="47.62%" stop-color="#24c1ae"/><stop offset="49.21%" stop-color="#19bfb6"/><stop offset="50.79%" stop-color="#0bbdbd"/><stop offset="52.38%" stop-color="#02bac3"/><stop offset="53.97%" stop-color="#01b8ca"/><stop offset="55.56%" stop-color="#08b5d0"/><stop offset="57.14%" stop-color="#12b1d6"/><stop offset="58.73%" stop-color="#18addb"/><stop offset="60.32%" stop-color="#1ca9df"/><stop offset="61.9%" stop-color="#20a5e3"/><stop offset="63.49%" stop-color="#23a0e5"/><stop offset="65.08%" stop-color="#259be8"/><stop offset="66.67%" stop-color="#2797eb"/><stop offset="68.25%" stop-color="#2b91ef"/><stop offset="69.84%" stop-color="#2d8cf3"/><stop offset="71.43%" stop-color="#2e87f7"/><stop offset="73.02%" stop-color="#2f81fa"/><stop offset="74.6%" stop-color="#327cfc"/><stop offset="76.19%" stop-color="#3875fe"/><stop offset="77.78%" stop-color="#3e6fff"/><stop offset="79.37%" stop-color="#4269fe"/><stop offset="80.95%" stop-color="#4563fd"/><stop offset="82.54%" stop-color="#465efb"/><stop offset="84.13%" stop-color="#4758f8"/><stop offset="85.71%" stop-color="#4852f4"/><stop offset="87.3%" stop-color="#484df0"/><stop offset="88.89%" stop-color="#4747eb"/><stop offset="90.48%" stop-color="#4741e5"/><stop offset="92.06%" stop-color="#463cde"/><stop offset="93.65%" stop-color="#4537d5"/><stop offset="95.24%" stop-color="#4332cb"/><stop offset="96.83%" stop-color="#422ec0"/><stop offset="98.41%" stop-color="#402ab4"/><stop offset="100%" stop-color="#3e26a8"/></linearGradient></defs>
<rect x="644.3" y="135.45" width="13" height="85.05" fill="url(#gcb1)"/>
<text class="t" x="660.5" y="147.36" font-size="7" text-anchor="start">50</text>
<text class="t" x="660.5" y="165.81" font-size="7" text-anchor="start">0</text>
<text class="t" x="660.5" y="184.26" font-size="7" text-anchor="start">-50</text>
<text class="t" x="660.5" y="202.71" font-size="7" text-anchor="start">-100</text>
<text class="t" x="660.5" y="221.16" font-size="7" text-anchor="start">-150</text>
<path d="M657.3 144.86H655.5M657.3 163.31H655.5M657.3 181.76H655.5M657.3 200.21H655.5M657.3 218.66H655.5" stroke="#6a6a6a" stroke-width="1"/>
<rect x="644.3" y="135.45" width="13" height="85.05" stroke="#6a6a6a" stroke-width="1" fill="none"/>
<text class="c" x="681.2" y="177.97" font-size="6.55" text-anchor="middle" transform="rotate(-90 681.2 177.97)">Power/frequency (dB/(rad/sample))</text>
</g></svg></body></html>
